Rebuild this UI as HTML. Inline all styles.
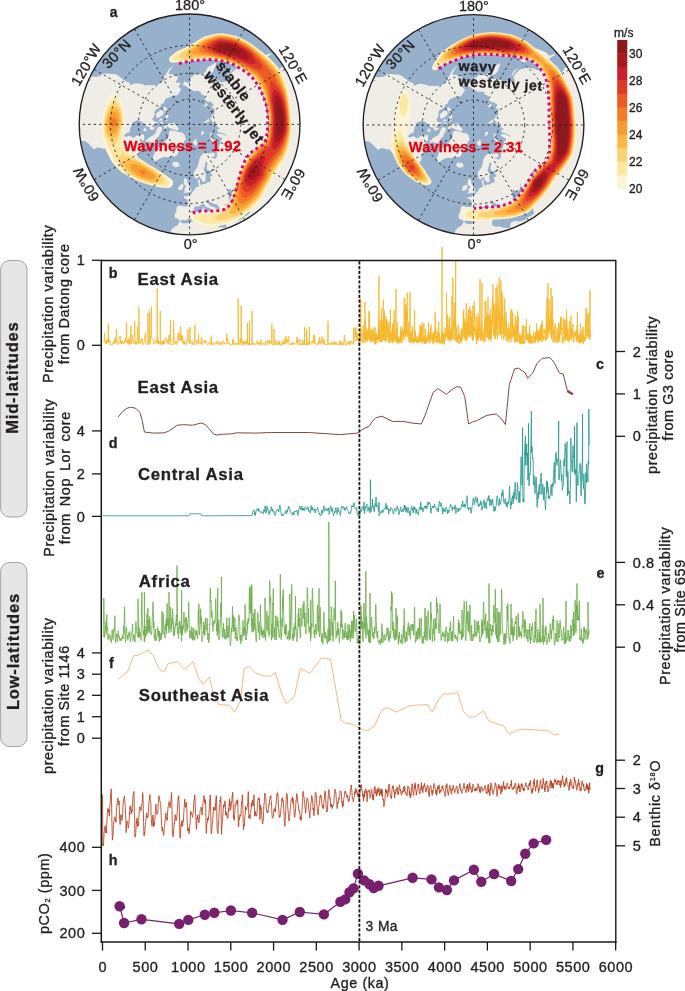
<!DOCTYPE html>
<html><head><meta charset="utf-8"><style>
html,body{margin:0;padding:0;background:#fff;}
svg{display:block;font-family:"Liberation Sans", sans-serif;will-change:transform;}
</style></head><body>
<svg width="685" height="991" viewBox="0 0 685 991">
<rect x="0.6" y="260.5" width="26.4" height="256.5" rx="9" ry="9" fill="#e6e6e6" stroke="#9a9a9a" stroke-width="0.9"/>
<text x="18.10" y="377.59" font-size="16.5" text-anchor="middle" font-weight="bold" letter-spacing="0.82" fill="#231f20" stroke="#231f20" stroke-width="0.3" transform="rotate(-90 18.10 377.59)">Mid-latitudes</text>
<rect x="0.6" y="562.5" width="26.4" height="184.0" rx="9" ry="9" fill="#e6e6e6" stroke="#9a9a9a" stroke-width="0.9"/>
<text x="19.20" y="651.59" font-size="16.5" text-anchor="middle" font-weight="bold" letter-spacing="0.82" fill="#231f20" stroke="#231f20" stroke-width="0.3" transform="rotate(-90 19.20 651.59)">Low-latitudes</text>
<polyline points="104.0,342.4 104.3,337.3 104.6,332.8 104.9,340.9 105.2,342.4 105.5,343.4 105.8,341.8 106.1,342.2 106.4,340.1 106.7,344.4 107.0,340.1 107.3,341.6 107.6,339.8 107.9,341.6 108.2,342.9 108.2,323.5 108.5,341.6 108.8,339.1 109.1,341.5 109.4,342.4 109.7,340.4 110.0,343.4 110.3,344.7 110.6,343.5 110.9,344.0 111.2,345.0 111.5,344.9 111.8,344.6 112.1,344.9 112.4,345.1 112.7,344.4 113.0,342.2 113.3,342.8 113.6,343.9 113.9,342.6 114.2,340.5 114.5,342.3 114.8,340.8 115.1,337.4 115.4,341.0 115.7,343.4 116.0,342.3 116.3,341.7 116.3,329.3 116.6,338.0 116.9,343.5 117.2,344.0 117.5,344.4 117.8,345.1 118.1,344.3 118.4,342.8 118.7,343.8 119.0,339.5 119.3,337.5 119.6,337.4 119.9,338.5 120.2,336.0 120.5,343.3 120.8,341.5 121.1,340.1 121.4,344.4 121.7,343.2 122.0,343.3 122.3,341.0 122.6,342.7 122.9,342.6 123.2,341.7 123.5,343.7 123.8,341.9 124.1,342.4 124.4,341.1 124.7,342.9 125.0,339.4 125.3,338.6 125.6,341.3 125.9,339.8 126.2,334.9 126.5,323.9 126.6,322.0 126.8,342.6 127.1,339.9 127.4,339.5 127.7,341.3 128.0,343.8 128.3,339.9 128.6,343.8 128.9,342.1 129.2,337.3 129.5,343.8 129.8,343.7 130.1,344.7 130.4,343.7 130.7,338.6 131.0,325.6 131.3,343.1 131.6,343.7 131.9,341.7 132.2,334.9 132.5,337.3 132.8,342.4 133.1,341.7 133.4,342.1 133.7,342.7 134.0,343.8 134.3,342.5 134.6,341.7 134.7,321.0 134.9,342.3 135.2,342.8 135.5,344.4 135.8,344.3 136.1,341.0 136.4,342.2 136.7,344.4 137.0,340.9 137.3,339.9 137.6,326.6 137.9,336.7 138.2,341.5 138.5,344.3 138.8,340.7 138.8,306.8 139.1,321.5 139.4,340.1 139.7,342.9 140.0,341.2 140.3,343.4 140.6,343.5 140.9,343.6 141.2,342.8 141.5,339.2 141.8,340.9 142.1,338.1 142.4,341.8 142.7,341.2 143.0,344.7 143.3,345.0 143.6,343.4 143.9,343.9 144.2,342.2 144.5,340.8 144.8,335.6 145.1,335.1 145.4,333.2 145.7,339.4 146.0,342.7 146.3,343.8 146.6,343.9 146.9,344.6 147.2,344.4 147.5,343.9 147.8,342.9 148.0,313.0 148.1,343.3 148.4,344.9 148.7,344.3 149.0,343.3 149.3,340.0 149.5,310.9 149.6,339.1 149.9,342.6 150.2,343.7 150.5,336.0 150.8,335.8 151.1,324.7 151.4,306.8 151.7,338.4 152.0,339.1 152.3,339.1 152.6,338.7 152.9,338.5 153.2,339.9 153.5,340.6 153.8,344.1 154.1,343.7 154.4,344.2 154.7,343.4 155.0,343.7 155.3,341.9 155.6,339.5 155.9,340.0 156.2,340.2 156.5,341.0 156.8,342.7 157.1,342.9 157.2,288.8 157.4,343.5 157.7,342.3 158.0,342.3 158.3,340.7 158.6,344.0 158.9,341.5 159.2,343.4 159.5,344.0 159.8,343.7 160.1,344.0 160.3,310.9 160.4,342.9 160.7,343.6 161.0,344.4 161.3,344.6 161.6,341.4 161.9,341.7 162.2,344.0 162.5,343.4 162.8,344.7 163.1,340.2 163.4,344.1 163.7,342.6 164.0,341.1 164.3,344.2 164.6,343.1 164.9,340.0 165.2,339.6 165.5,340.2 165.8,337.4 166.1,339.6 166.4,339.9 166.7,341.5 167.0,340.0 167.3,343.3 167.6,341.0 167.9,342.8 168.2,344.2 168.5,343.0 168.8,336.5 169.1,334.6 169.4,341.1 169.7,339.4 170.0,342.2 170.3,342.5 170.5,320.0 170.6,342.3 170.9,344.9 171.2,344.0 171.5,344.5 171.8,344.5 172.1,344.9 172.4,345.1 172.7,345.0 173.0,343.4 173.3,337.4 173.6,340.3 173.6,320.7 173.9,336.7 174.2,340.9 174.5,344.5 174.8,343.6 175.1,342.3 175.4,343.1 175.7,342.2 176.0,340.7 176.3,343.3 176.6,344.6 176.9,344.1 177.2,343.8 177.5,343.7 177.8,341.0 178.1,332.9 178.4,340.4 178.7,338.9 179.0,336.5 179.3,336.3 179.6,333.9 179.9,340.5 180.2,338.8 180.5,326.5 180.8,330.8 181.1,340.7 181.4,339.4 181.7,334.8 182.0,337.5 182.3,341.9 182.6,335.8 182.9,343.0 183.2,341.6 183.5,342.0 183.8,344.1 184.1,340.7 184.4,340.4 184.7,343.7 185.0,342.0 185.3,343.0 185.6,344.8 185.9,344.6 186.2,343.6 186.5,341.8 186.8,341.6 187.1,341.9 187.4,340.8 187.7,342.1 187.9,329.3 188.0,338.1 188.3,339.9 188.6,340.2 188.9,339.4 189.2,343.3 189.5,343.9 189.8,339.3 190.0,327.0 190.1,339.8 190.4,341.9 190.7,341.3 191.0,342.9 191.3,342.1 191.6,343.5 191.9,342.6 192.2,344.5 192.5,341.6 192.8,343.1 193.1,344.6 193.4,344.2 193.7,344.0 194.0,343.4 194.3,344.4 194.6,343.3 194.9,325.1 195.2,341.7 195.5,341.7 195.8,342.9 196.1,342.6 196.4,344.6 196.7,344.8 197.0,343.9 197.3,343.6 197.6,340.4 197.9,343.1 198.2,343.0 198.5,334.3 198.8,342.0 199.1,343.8 199.4,343.7 199.7,343.7 200.0,342.6 200.3,342.9 200.6,343.9 200.9,343.6 201.2,337.8 201.5,337.4 201.8,344.5 202.1,344.3 202.4,344.6 202.7,343.7 203.0,343.8 203.3,340.4 203.6,340.0 203.9,339.9 204.2,341.6 204.5,342.7 204.8,342.6 205.1,340.6 205.4,341.2 205.7,343.0 206.0,341.0 206.3,342.1 206.6,343.0 206.9,344.1 207.2,344.3 207.5,344.5 207.8,345.3 208.1,344.3 208.4,343.5 208.7,343.7 209.0,342.2 209.3,342.2 209.6,342.3 209.9,344.9 210.2,344.6 210.5,343.8 210.8,341.0 211.1,336.9 211.4,335.7 211.7,343.1 212.0,344.9 212.3,344.1 212.6,343.9 212.9,342.4 213.2,343.2 213.5,343.1 213.8,344.6 214.1,343.9 214.4,344.2 214.7,343.6 215.0,343.0 215.3,343.5 215.6,343.1 215.9,343.4 216.2,342.3 216.5,342.1 216.8,343.6 217.1,344.2 217.4,341.1 217.7,342.7 218.0,341.3 218.3,341.8 218.6,343.6 218.9,344.3 219.2,343.9 219.5,343.5 219.8,342.7 220.1,344.5 220.4,344.6 220.7,344.3 221.0,341.6 221.3,344.9 221.6,344.2 221.9,344.4 222.2,343.7 222.5,344.2 222.8,343.6 223.1,340.5 223.4,341.5 223.7,341.8 224.0,342.1 224.3,343.9 224.6,343.1 224.9,343.7 225.2,344.4 225.5,344.2 225.8,344.2 226.1,343.0 226.4,343.4 226.7,344.1 226.7,333.8 227.0,341.5 227.3,340.2 227.6,338.2 227.9,339.7 228.2,342.3 228.5,343.6 228.8,344.0 229.1,342.5 229.4,342.9 229.7,344.7 230.0,344.4 230.3,345.0 230.6,344.5 230.9,345.0 231.2,345.1 231.5,344.7 231.8,344.4 232.1,345.1 232.4,344.1 232.7,339.0 233.0,344.2 233.3,340.4 233.6,343.5 233.9,344.2 234.2,344.2 234.5,345.0 234.8,343.2 235.1,342.7 235.4,344.2 235.7,344.3 236.0,345.0 236.3,344.8 236.6,343.5 236.9,345.0 237.2,344.8 237.5,344.4 237.8,342.6 238.1,339.8 238.2,298.6 238.4,343.1 238.7,344.3 239.0,343.5 239.3,344.1 239.6,344.3 239.9,342.4 240.2,338.0 240.5,340.8 240.8,342.9 241.1,342.3 241.2,305.8 241.4,344.9 241.7,344.5 242.0,344.9 242.3,340.4 242.6,340.4 242.9,342.0 243.2,343.3 243.5,345.2 243.8,344.4 244.1,341.2 244.4,343.8 244.7,342.7 245.0,341.8 245.3,344.6 245.6,343.2 245.9,340.4 246.2,341.8 246.5,343.0 246.8,341.8 247.1,344.6 247.4,344.2 247.4,323.0 247.7,342.5 248.0,344.5 248.3,343.0 248.6,343.9 248.9,345.2 249.2,344.8 249.4,321.0 249.5,345.0 249.8,344.4 250.1,344.9 250.4,343.5 250.7,344.4 251.0,343.8 251.3,344.4 251.6,344.4 251.9,342.4 252.0,311.0 252.2,342.7 252.5,343.8 252.8,344.8 253.1,343.1 253.4,342.1 253.7,343.5 254.0,343.3 254.3,344.6 254.6,344.9 254.9,345.0 255.2,344.3 255.5,343.8 255.8,344.5 256.1,343.3 256.4,342.1 256.7,342.7 257.0,340.9 257.3,343.1 257.6,343.6 257.9,343.0 258.2,343.4 258.5,342.2 258.8,344.5 259.1,342.0 259.4,344.0 259.7,344.1 260.0,344.9 260.3,344.1 260.6,341.7 260.9,340.0 261.2,339.7 261.5,344.4 261.8,344.7 262.1,344.7 262.4,344.9 262.7,343.4 263.0,343.3 263.3,343.6 263.6,342.9 263.9,344.4 264.2,344.8 264.5,345.0 264.8,344.2 265.1,343.6 265.4,342.8 265.7,340.9 266.0,344.4 266.3,344.6 266.6,344.1 266.9,344.9 267.2,344.9 267.5,343.4 267.8,341.4 268.1,339.7 268.4,342.0 268.7,343.3 269.0,341.4 269.3,343.3 269.6,343.0 269.9,340.3 270.2,343.0 270.5,344.1 270.8,344.0 271.1,343.1 271.4,342.6 271.7,342.9 271.9,323.5 272.0,342.4 272.3,344.7 272.6,344.9 272.9,344.4 273.2,344.8 273.5,345.1 273.8,345.2 274.0,329.0 274.1,345.2 274.4,344.9 274.7,345.0 275.0,344.5 275.3,341.3 275.6,343.0 275.9,340.4 276.2,341.7 276.5,344.3 276.8,344.3 277.1,344.8 277.4,343.7 277.7,344.7 278.0,342.7 278.3,342.1 278.6,344.9 278.9,343.8 279.2,340.5 279.5,343.7 279.8,342.0 280.1,344.8 280.4,344.2 280.7,345.1 281.0,344.4 281.3,345.2 281.6,345.5 281.9,345.0 282.2,341.1 282.5,343.6 282.8,342.3 283.1,342.9 283.4,343.8 283.7,342.8 284.0,338.8 284.3,344.0 284.6,343.1 284.9,342.9 285.2,344.7 285.5,342.0 285.8,335.9 286.1,343.2 286.4,338.8 286.7,341.7 287.0,343.1 287.3,339.7 287.6,341.6 287.9,342.1 288.2,338.4 288.5,336.5 288.8,337.6 289.1,344.0 289.4,345.0 289.7,343.5 290.0,344.5 290.3,344.1 290.6,344.8 290.9,344.6 291.2,345.0 291.5,342.8 291.8,344.4 292.1,344.3 292.4,344.3 292.7,342.2 293.0,344.6 293.3,344.3 293.6,344.3 293.9,343.4 294.2,342.9 294.5,343.9 294.8,343.6 295.1,344.1 295.4,343.4 295.7,343.7 296.0,344.4 296.3,344.2 296.6,343.6 296.9,336.8 297.2,342.5 297.5,342.6 297.8,339.2 298.1,344.7 298.4,345.2 298.7,345.3 299.0,344.9 299.3,340.2 299.6,341.3 299.9,339.1 300.2,342.4 300.5,345.1 300.8,345.4 301.1,344.6 301.4,344.1 301.7,344.9 302.0,343.3 302.3,344.9 302.6,343.2 302.9,340.0 303.2,343.6 303.5,344.7 303.8,343.4 304.1,344.6 304.4,343.3 304.6,327.2 304.7,344.7 305.0,343.4 305.3,343.4 305.6,344.1 305.9,344.7 306.2,344.1 306.5,345.1 306.6,329.3 306.8,344.9 307.1,344.8 307.4,343.7 307.7,344.8 308.0,341.9 308.3,343.4 308.6,344.6 308.9,342.3 309.2,337.8 309.3,326.8 309.5,342.0 309.8,344.1 310.1,343.9 310.4,344.5 310.7,344.5 311.0,341.5 311.3,341.9 311.6,342.6 311.9,342.5 312.2,343.2 312.5,341.8 312.8,340.6 313.1,343.1 313.4,343.2 313.7,334.8 314.0,339.0 314.3,342.3 314.6,335.4 314.9,340.8 315.2,344.1 315.5,342.9 315.8,344.3 316.1,344.5 316.4,343.8 316.7,343.9 317.0,344.5 317.3,344.6 317.6,344.7 317.9,342.8 318.2,344.1 318.5,344.5 318.8,340.0 319.1,343.2 319.4,339.7 319.7,337.0 320.0,341.6 320.3,344.5 320.6,343.7 320.9,342.5 321.2,340.8 321.5,342.2 321.8,339.7 322.1,336.5 322.4,343.3 322.7,340.1 323.0,341.7 323.3,343.6 323.6,344.0 323.9,339.4 324.2,338.5 324.5,344.4 324.8,344.0 325.1,344.0 325.4,344.0 325.7,344.4 326.0,345.0 326.3,343.8 326.6,344.6 326.9,344.5 327.2,344.7 327.5,344.8 327.8,343.6 328.0,321.0 328.1,343.0 328.4,344.1 328.7,344.7 329.0,344.7 329.3,343.1 329.6,343.1 329.9,343.0 330.2,343.7 330.5,344.0 330.8,343.5 331.1,345.0 331.4,342.6 331.7,344.1 332.0,344.4 332.3,341.9 332.6,342.3 332.9,342.9 333.2,344.0 333.5,345.0 333.8,344.4 334.1,342.2 334.4,344.1 334.7,341.3 335.0,344.2 335.3,344.6 335.6,343.6 335.9,343.6 336.2,342.4 336.5,344.0 336.8,344.7 337.1,345.2 337.4,345.2 337.7,345.2 338.0,345.3 338.3,344.7 338.6,344.8 338.9,345.3 339.2,341.6 339.5,343.9 339.8,344.8 340.1,342.8 340.4,340.2 340.7,344.0 341.0,344.9 341.3,345.0 341.6,343.4 341.9,343.9 342.2,344.5 342.5,344.2 342.8,341.8 343.1,344.4 343.4,344.4 343.7,345.0 344.0,341.1 344.3,334.8 344.6,335.8 344.9,341.1 345.2,340.6 345.5,344.8 345.8,344.1 346.1,344.9 346.4,345.1 346.7,345.0 347.0,344.8 347.3,343.7 347.6,342.4 347.9,342.4 348.2,344.2 348.5,342.9 348.8,343.4 349.1,340.8 349.4,343.8 349.7,345.3 350.0,345.1 350.3,341.4 350.6,341.3 350.9,342.8 351.2,341.1 351.5,341.1 351.8,341.2 352.1,343.3 352.4,343.3 352.7,343.0 353.0,344.0 353.3,344.7 353.6,344.2 353.6,328.2 353.9,342.3 354.2,341.4 354.5,341.2 354.8,341.1 355.1,327.4 355.4,337.3 355.7,336.5 356.0,327.9 356.3,338.5 356.6,340.6 356.9,338.7 357.2,332.9 357.5,338.5 357.8,340.3 358.1,341.8 358.4,344.3 358.7,342.1 359.0,343.2 359.3,344.9 359.6,344.5 359.9,345.1 360.0,333.3 360.2,334.4 360.3,341.2 360.5,341.9 360.7,331.1 360.8,298.6 360.9,334.8 361.0,338.7 361.2,329.4 361.4,334.4 361.5,336.4 361.7,339.9 361.9,339.5 362.0,341.3 362.2,341.7 362.4,343.0 362.6,340.5 362.7,342.5 362.9,339.7 363.1,340.5 363.2,324.9 363.4,340.2 363.6,337.7 363.7,332.5 363.9,342.9 364.1,334.2 364.3,335.4 364.4,339.2 364.6,319.5 364.8,322.8 364.9,301.8 365.1,332.4 365.3,337.5 365.3,319.0 365.4,338.9 365.6,330.3 365.8,342.5 366.0,337.5 366.1,332.3 366.3,333.7 366.5,339.8 366.6,334.7 366.8,329.9 367.0,328.3 367.1,341.4 367.3,331.5 367.5,340.9 367.7,335.5 367.8,330.9 368.0,339.8 368.2,329.9 368.3,334.3 368.5,338.8 368.7,338.9 368.8,336.7 369.0,311.0 369.0,328.0 369.2,337.4 369.4,312.6 369.5,332.4 369.7,328.0 369.9,326.7 370.0,341.0 370.2,330.6 370.4,342.0 370.5,337.4 370.7,336.8 370.9,334.7 371.1,340.1 371.2,335.0 371.4,340.7 371.6,329.1 371.7,336.5 371.9,330.8 372.1,330.1 372.2,341.8 372.4,338.2 372.6,337.2 372.8,335.2 372.9,332.2 373.1,341.2 373.3,327.5 373.4,337.9 373.6,341.4 373.8,338.9 373.9,337.6 374.1,340.8 374.3,335.0 374.5,334.7 374.6,333.0 374.8,338.3 375.0,344.0 375.1,327.2 375.3,344.4 375.5,334.4 375.6,339.7 375.8,341.2 376.0,336.7 376.2,336.1 376.3,339.9 376.5,337.7 376.7,333.0 376.8,341.2 377.0,343.2 377.2,342.4 377.3,340.1 377.5,335.0 377.7,339.9 377.9,338.2 378.0,339.8 378.2,329.0 378.4,340.3 378.5,336.6 378.7,319.0 378.9,336.7 379.0,276.0 379.0,338.8 379.2,326.4 379.4,340.0 379.6,341.0 379.7,325.5 379.9,335.4 380.1,336.2 380.2,342.4 380.4,332.8 380.6,342.0 380.7,339.0 380.9,320.2 381.1,342.0 381.3,339.2 381.4,314.7 381.6,308.0 381.8,323.8 381.9,331.0 382.1,324.6 382.3,319.6 382.4,341.7 382.6,322.2 382.8,336.0 383.0,329.9 383.1,339.7 383.3,299.4 383.5,339.7 383.6,335.4 383.8,324.7 384.0,331.9 384.1,336.3 384.3,310.4 384.5,326.2 384.7,335.7 384.8,341.1 385.0,332.7 385.2,330.2 385.3,330.1 385.5,341.5 385.7,316.2 385.8,325.9 386.0,337.5 386.2,326.5 386.4,320.7 386.5,340.9 386.7,338.6 386.9,318.9 387.0,324.8 387.2,331.5 387.4,329.1 387.5,322.6 387.7,327.0 387.9,328.7 388.1,338.4 388.2,325.1 388.4,337.0 388.6,342.5 388.7,333.3 388.9,341.6 389.1,322.0 389.2,334.8 389.4,335.3 389.6,338.7 389.8,331.3 389.9,343.0 390.1,332.1 390.3,331.6 390.4,309.4 390.6,320.5 390.8,342.1 390.9,336.8 391.1,333.8 391.3,339.3 391.5,336.8 391.6,331.5 391.8,331.2 392.0,341.2 392.1,336.6 392.3,342.0 392.5,335.1 392.6,324.2 392.8,339.3 393.0,339.3 393.2,343.3 393.3,332.0 393.5,341.0 393.7,320.5 393.8,335.1 394.0,330.4 394.2,310.4 394.3,332.4 394.5,338.8 394.7,339.0 394.9,331.6 395.0,338.5 395.2,339.1 395.4,341.5 395.5,338.8 395.7,336.1 395.9,339.4 396.0,289.0 396.0,341.6 396.2,335.5 396.4,337.8 396.6,342.4 396.7,341.6 396.9,328.2 397.1,341.7 397.2,322.1 397.4,342.8 397.6,339.5 397.7,341.9 397.9,342.2 398.1,343.8 398.3,343.2 398.4,338.3 398.6,341.8 398.8,340.1 398.9,336.5 399.1,340.9 399.3,342.5 399.4,338.3 399.6,341.4 399.8,339.9 400.0,342.8 400.1,341.0 400.3,337.9 400.5,326.8 400.6,340.0 400.8,339.4 401.0,329.9 401.1,340.2 401.3,342.4 401.5,332.5 401.7,339.0 401.8,343.3 402.0,338.7 402.2,337.1 402.3,335.4 402.5,327.4 402.7,334.8 402.8,338.2 403.0,334.8 403.2,333.0 403.4,335.9 403.5,335.5 403.7,330.7 403.9,331.9 404.0,340.8 404.2,297.8 404.4,310.5 404.5,333.8 404.7,334.3 404.9,310.7 405.1,336.5 405.2,334.4 405.4,328.9 405.6,333.7 405.7,303.5 405.9,337.4 406.1,334.8 406.2,318.8 406.4,307.7 406.6,327.8 406.8,325.4 406.9,333.7 407.1,292.7 407.3,320.7 407.4,314.7 407.6,312.6 407.8,336.3 407.9,328.5 408.1,338.5 408.3,337.1 408.5,335.2 408.6,335.0 408.8,321.6 409.0,341.2 409.1,337.6 409.3,334.8 409.5,337.6 409.6,341.7 409.8,337.2 410.0,342.5 410.0,292.0 410.2,340.2 410.3,342.9 410.5,336.6 410.7,339.8 410.8,343.0 411.0,330.5 411.2,337.2 411.3,332.9 411.5,335.5 411.7,341.7 411.9,336.6 412.0,337.2 412.2,342.2 412.4,329.9 412.5,334.4 412.7,326.0 412.9,338.4 413.0,338.2 413.2,343.2 413.4,338.0 413.6,343.0 413.7,340.7 413.9,341.7 414.1,338.6 414.2,339.9 414.4,342.3 414.6,310.3 414.7,323.5 414.9,339.5 415.1,341.6 415.3,337.4 415.4,331.0 415.6,338.9 415.8,341.9 415.9,336.2 416.1,338.5 416.3,340.9 416.4,342.4 416.6,340.5 416.8,343.0 417.0,336.3 417.1,337.6 417.3,341.9 417.5,341.1 417.6,338.6 417.8,342.7 418.0,339.0 418.1,341.0 418.3,342.5 418.5,341.4 418.7,336.6 418.8,341.4 419.0,333.8 419.2,339.1 419.3,343.2 419.5,338.0 419.7,332.4 419.8,334.8 420.0,324.9 420.2,340.7 420.4,338.2 420.5,341.6 420.7,326.5 420.9,340.6 421.0,340.8 421.2,341.2 421.4,326.0 421.5,338.4 421.7,339.6 421.9,339.0 422.1,342.2 422.2,342.9 422.4,322.7 422.6,343.8 422.7,340.3 422.9,336.5 423.1,340.5 423.2,339.7 423.4,341.3 423.6,341.5 423.8,341.0 423.9,323.2 424.1,341.5 424.3,337.8 424.4,336.1 424.6,343.9 424.8,341.6 424.9,343.6 425.1,340.5 425.3,342.6 425.5,328.8 425.6,343.2 425.8,341.9 426.0,343.0 426.1,341.1 426.3,339.0 426.5,342.3 426.6,343.4 426.8,340.0 427.0,336.0 427.2,338.3 427.3,340.8 427.5,334.1 427.7,334.1 427.8,341.2 428.0,340.9 428.2,340.7 428.3,336.7 428.5,322.4 428.7,342.6 428.9,339.2 429.0,335.4 429.2,335.9 429.4,337.2 429.5,338.1 429.7,332.0 429.9,338.4 430.0,340.5 430.2,343.0 430.4,328.5 430.6,340.1 430.7,340.9 430.9,334.6 431.1,324.4 431.2,338.8 431.4,339.9 431.6,339.8 431.7,337.6 431.9,337.7 432.1,340.1 432.3,334.0 432.4,340.3 432.6,338.2 432.8,339.6 432.9,344.1 433.1,332.6 433.3,335.3 433.4,334.4 433.6,342.3 433.8,332.5 434.0,336.0 434.1,341.6 434.3,331.5 434.5,338.5 434.6,334.4 434.8,342.1 435.0,320.5 435.1,312.3 435.3,338.2 435.5,332.6 435.7,336.0 435.8,327.2 436.0,337.6 436.2,342.9 436.3,342.0 436.5,338.7 436.7,342.8 436.8,336.1 437.0,342.9 437.2,331.1 437.4,331.4 437.5,334.4 437.7,341.6 437.9,331.9 438.0,335.4 438.2,341.7 438.4,331.5 438.5,331.0 438.7,321.9 438.9,330.9 439.1,342.9 439.2,343.3 439.4,333.7 439.6,335.7 439.7,342.0 439.9,340.8 440.1,341.7 440.2,342.1 440.4,342.4 440.6,343.6 440.8,340.4 440.9,342.5 441.1,339.1 441.3,337.5 441.4,341.0 441.6,336.7 441.8,330.4 441.9,341.8 442.0,247.0 442.1,343.3 442.3,338.7 442.5,344.4 442.6,338.8 442.8,332.8 443.0,342.1 443.1,343.5 443.3,336.0 443.5,332.8 443.6,340.1 443.8,343.5 444.0,334.2 444.2,338.4 444.3,336.4 444.5,344.4 444.7,338.1 444.8,341.1 445.0,327.5 445.2,338.5 445.3,337.7 445.5,332.7 445.7,336.6 445.9,330.5 446.0,337.8 446.2,336.8 446.4,336.4 446.5,292.8 446.7,330.7 446.9,329.8 447.0,336.1 447.2,335.9 447.4,314.8 447.6,336.6 447.7,337.6 447.9,339.4 448.1,331.5 448.2,339.4 448.4,327.3 448.6,326.1 448.7,329.7 448.9,338.4 449.1,318.6 449.3,336.9 449.4,341.5 449.6,316.9 449.8,329.5 449.9,330.1 450.1,334.6 450.3,333.1 450.4,339.5 450.6,330.0 450.8,339.4 451.0,341.0 451.1,330.6 451.3,333.4 451.5,328.2 451.6,338.6 451.8,326.6 452.0,296.4 452.1,337.9 452.3,339.4 452.5,332.1 452.7,334.5 452.8,277.8 453.0,332.2 453.2,325.7 453.3,323.5 453.5,320.1 453.7,331.0 453.8,339.7 454.0,335.3 454.2,332.8 454.4,302.4 454.5,319.1 454.7,324.7 454.9,328.1 455.0,320.8 455.2,341.3 455.4,336.2 455.5,331.7 455.7,260.0 455.7,324.4 455.9,334.8 456.1,339.2 456.2,339.6 456.4,339.8 456.6,327.4 456.7,341.3 456.9,339.2 457.1,341.9 457.2,342.3 457.4,337.0 457.6,342.0 457.8,342.9 457.9,339.0 458.1,331.4 458.3,324.5 458.4,328.3 458.6,339.2 458.8,332.4 458.9,339.0 459.1,343.8 459.3,335.8 459.5,337.8 459.6,343.8 459.8,337.8 460.0,337.8 460.1,334.6 460.3,342.2 460.5,338.1 460.6,339.8 460.8,338.6 461.0,332.7 461.2,328.3 461.3,340.5 461.5,342.8 461.7,331.1 461.8,339.5 462.0,334.5 462.2,340.5 462.3,335.1 462.5,329.2 462.7,328.8 462.9,335.9 463.0,328.3 463.2,327.8 463.4,312.0 463.5,330.3 463.7,309.5 463.9,334.3 464.0,338.1 464.2,333.9 464.4,335.2 464.6,319.0 464.7,334.7 464.9,338.7 465.1,333.7 465.2,327.6 465.4,322.5 465.6,341.1 465.7,331.7 465.9,339.2 466.1,312.9 466.3,302.9 466.4,320.4 466.6,335.3 466.8,334.5 466.9,340.2 467.1,320.6 467.3,332.5 467.4,323.2 467.6,338.8 467.8,334.1 468.0,316.1 468.1,328.7 468.3,333.0 468.5,308.8 468.6,325.0 468.8,323.1 469.0,335.4 469.1,329.8 469.3,331.1 469.5,329.1 469.7,337.4 469.8,306.4 470.0,329.1 470.2,335.0 470.3,311.1 470.5,319.3 470.7,324.8 470.8,327.6 471.0,310.3 471.2,336.3 471.4,325.8 471.5,316.8 471.7,332.4 471.9,335.7 472.0,317.5 472.2,338.3 472.4,336.8 472.5,340.5 472.7,327.0 472.9,305.8 473.1,335.9 473.2,329.9 473.4,340.4 473.6,325.4 473.7,331.7 473.9,332.7 474.1,323.5 474.2,301.4 474.4,321.9 474.6,310.5 474.8,331.1 474.9,328.9 475.1,332.4 475.3,333.7 475.4,335.2 475.6,329.8 475.8,333.8 475.9,330.7 476.1,339.6 476.3,315.9 476.5,341.3 476.6,344.3 476.8,330.8 477.0,334.3 477.1,337.6 477.3,331.2 477.5,338.5 477.6,326.9 477.8,341.4 478.0,313.1 478.2,335.9 478.3,340.0 478.5,323.7 478.7,336.6 478.8,333.9 479.0,319.0 479.2,317.1 479.3,324.5 479.5,337.5 479.7,335.8 479.9,331.4 480.0,279.0 480.0,329.5 480.2,330.3 480.4,330.2 480.5,338.6 480.7,340.9 480.9,332.7 481.0,336.5 481.2,322.8 481.4,335.9 481.6,325.4 481.7,340.8 481.9,312.0 482.0,283.0 482.1,316.7 482.2,332.3 482.4,337.8 482.6,332.9 482.7,335.5 482.9,338.5 483.1,339.6 483.3,341.5 483.4,336.7 483.6,340.9 483.8,340.9 483.9,329.1 484.1,337.0 484.3,334.2 484.4,339.3 484.6,325.4 484.8,319.3 485.0,342.4 485.1,300.7 485.3,332.1 485.5,325.7 485.6,332.8 485.8,301.4 486.0,319.4 486.1,321.3 486.3,337.8 486.5,331.5 486.7,316.5 486.8,332.3 487.0,335.3 487.2,331.2 487.3,334.3 487.5,313.1 487.7,337.6 487.8,321.7 488.0,297.0 488.2,332.9 488.4,339.5 488.5,331.5 488.7,337.1 488.9,313.8 489.0,333.3 489.2,340.4 489.4,327.0 489.5,316.1 489.7,331.2 489.9,338.4 490.1,337.4 490.2,323.0 490.4,333.2 490.6,308.7 490.7,338.9 490.9,328.3 491.1,330.7 491.2,341.4 491.4,319.3 491.6,334.6 491.8,334.1 491.9,329.6 492.1,328.1 492.3,312.9 492.4,297.5 492.6,324.1 492.8,318.8 492.9,284.4 493.1,312.1 493.3,305.2 493.5,335.4 493.6,325.3 493.8,329.4 494.0,322.9 494.1,303.7 494.3,310.9 494.5,338.3 494.6,338.6 494.8,338.6 495.0,328.5 495.2,339.1 495.3,311.1 495.5,326.9 495.7,332.6 495.8,323.6 496.0,288.0 496.0,334.9 496.2,303.5 496.3,329.0 496.5,313.1 496.7,316.9 496.9,316.4 497.0,317.1 497.2,284.8 497.4,339.6 497.5,316.4 497.7,319.5 497.9,316.4 498.0,318.2 498.2,299.7 498.4,321.2 498.6,321.6 498.7,321.1 498.9,316.3 499.1,335.4 499.2,277.7 499.4,334.2 499.6,321.3 499.7,324.3 499.9,307.7 500.1,323.5 500.3,333.0 500.4,317.7 500.6,326.6 500.8,334.6 500.9,280.5 501.1,301.9 501.3,307.3 501.4,327.8 501.6,290.5 501.8,339.0 502.0,313.7 502.1,320.2 502.3,304.6 502.5,323.2 502.6,294.4 502.8,304.4 503.0,333.4 503.1,317.8 503.3,331.4 503.5,332.7 503.7,324.5 503.8,340.0 504.0,330.0 504.2,337.2 504.3,321.8 504.5,325.8 504.7,298.2 504.8,321.0 505.0,316.5 505.2,332.9 505.4,325.7 505.5,332.8 505.7,336.1 505.9,316.4 506.0,312.1 506.2,326.3 506.4,325.6 506.5,320.5 506.7,341.8 506.9,329.7 507.1,339.1 507.2,332.9 507.4,339.2 507.6,338.2 507.7,334.5 507.9,327.8 508.1,331.5 508.2,333.3 508.4,333.0 508.6,323.7 508.8,342.5 508.9,336.4 509.1,327.8 509.3,339.4 509.4,338.5 509.6,336.8 509.8,337.5 509.9,331.3 510.1,332.7 510.3,333.1 510.5,338.3 510.6,310.5 510.8,334.0 511.0,335.9 511.1,342.1 511.3,340.2 511.5,339.7 511.6,332.8 511.8,309.1 512.0,324.5 512.2,338.3 512.3,320.8 512.5,329.3 512.7,314.4 512.8,312.6 513.0,327.3 513.2,334.9 513.3,336.3 513.5,332.9 513.7,326.8 513.9,335.9 514.0,329.3 514.2,325.3 514.4,342.7 514.5,341.7 514.7,338.6 514.9,330.3 515.0,341.1 515.2,336.6 515.4,315.9 515.6,334.7 515.7,330.7 515.9,341.9 516.1,339.1 516.2,338.9 516.4,333.4 516.6,323.7 516.7,342.2 516.9,321.4 517.1,319.3 517.3,333.6 517.4,315.4 517.6,311.2 517.8,342.0 517.9,321.7 518.1,318.9 518.3,315.6 518.4,316.6 518.6,340.0 518.8,339.3 519.0,341.3 519.1,335.2 519.3,333.6 519.5,343.2 519.6,340.2 519.8,342.0 520.0,343.5 520.1,335.6 520.3,341.3 520.5,341.0 520.7,344.3 520.8,337.5 521.0,335.9 521.2,342.5 521.3,334.1 521.5,343.4 521.7,342.0 521.8,340.3 522.0,343.8 522.2,340.7 522.4,331.4 522.5,339.2 522.7,325.4 522.9,336.4 523.0,343.1 523.2,325.1 523.4,342.1 523.5,343.1 523.7,343.9 523.9,341.1 524.1,343.7 524.2,342.7 524.4,340.1 524.6,343.0 524.7,341.5 524.9,342.6 525.1,326.3 525.2,332.0 525.4,337.5 525.6,338.5 525.8,337.1 525.9,340.1 526.1,339.9 526.3,330.7 526.4,319.1 526.6,339.6 526.8,335.0 526.9,340.6 527.1,339.0 527.3,337.3 527.5,333.7 527.6,335.6 527.8,340.2 528.0,338.6 528.1,334.5 528.3,334.0 528.5,342.5 528.6,335.3 528.8,341.1 529.0,339.1 529.2,333.1 529.3,339.5 529.5,342.9 529.7,325.6 529.8,343.1 530.0,333.9 530.2,344.1 530.3,339.1 530.5,335.3 530.7,342.7 530.9,343.6 531.0,340.1 531.2,341.1 531.4,336.5 531.5,339.7 531.7,340.6 531.9,341.0 532.0,335.5 532.2,343.4 532.4,340.6 532.6,341.4 532.7,342.3 532.9,340.2 533.1,340.8 533.2,341.0 533.4,341.7 533.6,338.1 533.7,331.7 533.9,342.7 534.1,336.6 534.3,339.2 534.4,338.0 534.6,339.0 534.8,335.3 534.9,336.9 535.1,342.3 535.3,331.9 535.4,342.8 535.6,341.4 535.8,340.7 536.0,336.0 536.1,338.4 536.3,332.2 536.5,337.4 536.6,323.4 536.8,339.0 537.0,331.8 537.1,335.9 537.3,339.6 537.5,331.3 537.7,339.0 537.8,340.6 538.0,342.5 538.2,329.3 538.3,335.7 538.5,342.4 538.7,336.9 538.8,338.6 539.0,340.0 539.2,330.6 539.4,340.3 539.5,336.0 539.7,331.5 539.9,329.4 540.0,335.0 540.2,330.0 540.4,341.2 540.5,335.9 540.7,325.4 540.9,341.0 541.1,325.3 541.2,330.8 541.4,338.3 541.6,329.0 541.7,323.6 541.9,330.5 542.1,337.7 542.2,320.3 542.4,341.8 542.6,341.1 542.8,341.0 542.9,335.6 543.1,339.8 543.3,339.7 543.4,338.0 543.6,337.8 543.8,338.7 543.9,328.6 544.1,333.5 544.3,332.3 544.5,332.5 544.6,330.9 544.8,329.7 545.0,329.1 545.1,340.1 545.3,336.5 545.5,336.9 545.6,340.1 545.8,336.0 546.0,331.0 546.2,334.7 546.3,320.1 546.5,310.5 546.7,340.5 546.8,325.1 547.0,297.1 547.2,335.0 547.3,332.2 547.5,324.7 547.7,330.3 547.9,337.8 548.0,283.0 548.0,297.2 548.2,307.3 548.4,323.5 548.5,332.2 548.7,312.7 548.9,306.2 549.0,300.0 549.2,327.1 549.4,328.3 549.6,318.7 549.7,320.9 549.9,334.4 550.1,323.1 550.2,327.9 550.4,330.4 550.6,326.2 550.7,309.1 550.9,333.5 551.0,288.0 551.1,303.8 551.3,325.9 551.4,338.7 551.6,325.8 551.8,339.3 551.9,314.2 552.1,325.9 552.3,295.9 552.4,333.5 552.6,332.6 552.8,332.3 553.0,319.5 553.1,342.8 553.3,331.5 553.5,339.0 553.6,339.5 553.8,337.5 554.0,330.0 554.1,336.1 554.3,339.8 554.5,342.0 554.7,329.9 554.8,326.7 555.0,328.8 555.2,333.4 555.3,323.4 555.5,331.9 555.7,331.3 555.8,342.5 556.0,341.9 556.2,342.6 556.4,339.9 556.5,338.4 556.7,338.7 556.9,335.4 557.0,340.0 557.2,328.6 557.4,337.4 557.5,335.5 557.7,343.1 557.9,333.6 558.1,340.9 558.2,327.1 558.4,339.5 558.6,322.9 558.7,336.1 558.9,338.1 559.1,332.0 559.2,338.7 559.4,331.5 559.6,334.8 559.8,341.6 559.9,322.7 560.1,327.1 560.3,328.2 560.4,333.7 560.6,317.4 560.8,334.4 560.9,323.7 561.1,329.3 561.3,316.4 561.5,322.4 561.6,329.7 561.8,328.1 562.0,329.5 562.1,328.4 562.3,343.4 562.5,336.5 562.6,341.1 562.8,337.0 563.0,342.6 563.2,327.4 563.3,318.6 563.5,329.6 563.7,331.4 563.8,330.2 564.0,332.2 564.2,336.3 564.3,336.2 564.5,340.1 564.7,319.1 564.9,338.7 565.0,340.4 565.2,320.6 565.4,328.1 565.5,340.8 565.7,330.2 565.9,334.3 566.0,335.8 566.2,337.1 566.4,336.4 566.6,310.5 566.7,337.0 566.9,320.6 567.1,338.1 567.2,340.8 567.4,341.1 567.6,331.9 567.7,339.9 567.9,328.2 568.1,333.7 568.3,340.4 568.4,335.7 568.6,341.0 568.8,341.9 568.9,342.3 569.1,341.4 569.3,339.7 569.4,332.3 569.6,321.3 569.8,339.9 570.0,339.5 570.1,337.3 570.3,332.7 570.5,336.2 570.6,327.4 570.8,327.7 571.0,315.3 571.1,339.5 571.3,328.2 571.5,331.8 571.7,338.9 571.8,337.7 572.0,335.7 572.2,330.4 572.3,337.6 572.5,330.6 572.7,335.4 572.8,323.9 573.0,335.2 573.2,341.1 573.4,338.9 573.5,341.7 573.7,342.8 573.9,342.3 574.0,336.5 574.2,338.3 574.4,331.6 574.5,333.5 574.7,334.2 574.9,334.8 575.1,332.2 575.2,333.7 575.4,336.2 575.6,332.4 575.7,336.3 575.9,332.5 576.1,330.2 576.2,338.6 576.4,334.8 576.6,339.7 576.8,338.3 576.9,341.5 577.1,325.2 577.3,339.4 577.4,312.1 577.6,326.1 577.8,331.0 577.9,342.0 578.1,334.6 578.3,340.3 578.5,336.0 578.6,341.6 578.8,342.6 579.0,334.3 579.1,340.2 579.3,341.8 579.5,340.1 579.6,342.4 579.8,334.4 580.0,343.5 580.2,335.9 580.3,341.2 580.5,323.1 580.7,336.9 580.8,341.9 581.0,337.6 581.2,332.2 581.3,343.0 581.5,339.6 581.7,342.8 581.9,336.6 582.0,341.9 582.2,338.5 582.4,329.9 582.5,339.4 582.7,337.0 582.9,339.2 583.0,326.6 583.2,328.8 583.4,342.6 583.6,343.9 583.7,335.2 583.9,341.2 584.1,337.7 584.2,341.9 584.4,340.2 584.6,340.6 584.7,336.9 584.9,340.1 585.1,332.1 585.3,329.2 585.4,331.1 585.6,321.1 585.8,339.7 585.9,326.5 586.1,308.0 586.3,323.0 586.4,308.7 586.6,312.5 586.8,336.7 587.0,334.0 587.1,335.2 587.3,332.3 587.5,327.5 587.6,331.9 587.8,313.5 588.0,338.5 588.1,338.3 588.3,333.9 588.5,332.9 588.7,327.3 588.8,317.3 589.0,312.4 589.2,337.5 589.3,331.1 589.5,328.4 589.7,336.1 589.8,340.3 590.0,290.0 590.0,332.9 590.2,336.5 590.4,333.6" fill="none" stroke="#f7b72a" stroke-width="0.85" stroke-linejoin="round"/>
<polyline points="118.1,417.1 122.5,411.6 126.9,408.3 130.8,407.2 135.7,408.3 140.0,412.7 142.2,420.4 144.4,432.0 153.2,433.1 164.1,432.8 168.5,431.3 177.3,425.2 183.8,424.7 192.6,425.2 201.3,423.0 205.7,424.7 213.4,433.9 216.7,435.0 223.2,434.2 232.0,433.9 236.4,432.8 255.0,433.1 271.5,432.5 308.3,432.5 339.8,434.6 353.0,433.5 358.0,433.0 360.9,430.4 364.0,428.5 368.7,426.7 372.0,422.0 375.6,417.8 381.9,416.2 392.4,421.4 402.9,421.4 412.0,423.0 421.3,424.0 425.3,414.8 433.1,392.5 437.9,388.6 446.3,394.3 451.5,389.9 456.8,386.7 460.7,387.2 464.7,396.4 468.6,424.0 472.6,421.9 476.5,420.8 487.0,415.3 496.2,414.0 501.5,418.8 505.4,424.6 509.3,384.6 514.6,368.9 518.5,368.1 525.1,372.8 527.7,378.0 533.0,372.8 536.9,363.6 542.2,358.4 550.0,357.6 554.0,362.3 559.3,372.8 563.2,374.1 567.2,389.9 569.5,391.5" fill="none" stroke="#844646" stroke-width="1.0" stroke-linejoin="round"/>
<line x1="567.20" y1="391.00" x2="572.90" y2="394.30" stroke="#844646" stroke-width="2.3"/>
<polyline points="102.5,515.8 189.0,515.8 190.0,513.8 200.6,513.8 201.5,515.8 252.0,515.6 253.5,510.0 253.9,510.0 254.3,510.5 254.7,514.8 255.1,512.5 255.5,515.6 255.9,512.2 256.3,510.6 256.7,509.3 257.1,508.5 257.5,508.9 257.9,510.7 258.3,511.3 258.7,508.5 259.1,510.5 259.5,511.1 259.9,512.3 260.3,512.7 260.7,512.5 261.1,511.4 261.5,511.7 261.9,512.0 262.3,512.7 262.7,511.8 263.1,513.8 263.5,512.6 263.9,509.5 264.3,511.4 264.7,511.3 265.1,506.0 265.5,509.8 265.9,513.1 266.3,513.0 266.7,508.9 267.1,506.0 267.5,510.1 267.9,509.4 268.3,509.9 268.7,511.4 269.1,514.7 269.5,511.3 269.9,512.6 270.3,511.4 270.7,511.0 271.1,507.5 271.5,506.7 271.9,510.4 272.3,511.0 272.7,509.0 273.1,512.2 273.5,512.3 273.9,511.3 274.3,514.0 274.7,515.0 275.1,515.7 275.5,513.6 275.9,513.5 276.3,510.7 276.7,510.5 277.1,509.5 277.5,510.2 277.9,509.0 278.3,509.9 278.7,512.0 279.1,509.3 279.5,508.1 279.9,504.9 280.3,507.5 280.7,509.8 281.1,512.9 281.5,515.7 281.9,515.7 282.3,514.3 282.7,514.5 283.1,515.7 283.5,513.8 283.9,513.7 284.3,513.1 284.7,512.9 285.1,512.3 285.5,510.7 285.9,513.9 286.3,513.0 286.7,513.0 287.1,509.9 287.5,512.2 287.9,508.5 288.3,508.2 288.7,506.1 289.1,509.2 289.5,508.3 289.9,508.5 290.3,512.2 290.7,512.0 291.1,512.3 291.5,513.4 291.9,513.7 292.3,515.2 292.7,514.2 293.1,512.1 293.5,513.0 293.9,515.0 294.3,511.2 294.7,511.7 295.1,511.2 295.5,511.4 295.9,512.1 296.3,510.3 296.7,511.4 297.1,511.0 297.5,513.6 297.9,515.5 298.3,514.2 298.7,509.1 299.1,509.3 299.5,506.1 299.9,507.0 300.3,507.5 300.7,509.8 301.1,510.1 301.5,506.8 301.9,506.0 302.3,509.0 302.7,510.5 303.1,507.9 303.5,509.9 303.9,508.4 304.3,511.0 304.7,509.6 305.1,507.0 305.5,506.8 305.9,507.8 306.3,508.6 306.7,509.5 307.1,509.9 307.5,507.8 307.9,506.6 308.3,507.4 308.7,511.0 309.1,511.8 309.5,510.7 309.9,510.5 310.3,513.1 310.7,510.7 311.1,505.5 311.5,509.9 311.9,510.0 312.3,507.0 312.7,509.2 313.1,510.5 313.5,510.1 313.9,509.1 314.3,510.4 314.7,508.5 315.1,513.0 315.5,510.7 315.9,509.8 316.3,510.4 316.7,509.6 317.1,509.8 317.5,507.4 317.9,509.5 318.3,509.9 318.7,512.8 319.1,514.1 319.5,513.1 319.9,515.1 320.3,514.8 320.7,515.7 321.1,514.5 321.5,512.6 321.9,509.8 322.3,513.9 322.7,512.9 323.1,510.1 323.5,507.5 323.9,505.8 324.3,510.5 324.7,511.4 325.1,509.9 325.5,508.2 325.9,508.5 326.3,508.7 326.7,508.8 327.1,511.0 327.5,510.4 327.9,508.7 328.3,510.0 328.7,507.8 329.1,514.5 329.5,513.5 329.9,508.8 330.3,507.6 330.7,505.8 331.1,507.3 331.5,510.9 331.9,511.6 332.3,508.0 332.7,512.6 333.1,513.6 333.5,515.7 333.9,514.6 334.3,513.7 334.7,511.2 335.1,512.5 335.5,508.1 335.9,507.6 336.3,509.6 336.7,511.9 337.1,514.3 337.5,512.4 337.9,507.5 338.3,508.9 338.7,511.5 339.1,511.1 339.5,511.8 339.9,513.0 340.3,515.7 340.7,513.6 341.1,509.2 341.5,507.1 341.9,506.3 342.3,507.4 342.7,507.6 343.1,506.5 343.5,508.1 343.9,508.3 344.3,509.9 344.7,507.7 345.1,510.5 345.5,509.0 345.9,507.7 346.3,506.9 346.7,506.7 347.1,509.0 347.5,510.6 347.9,511.3 348.3,511.6 348.7,513.3 349.1,512.9 349.5,513.1 349.9,513.9 350.3,511.6 350.7,512.6 351.1,511.0 351.5,507.6 351.9,505.1 352.3,507.0 352.7,506.1 353.1,507.1 353.5,503.3 353.9,502.6 354.3,503.2 354.7,506.3 355.1,508.3 355.5,507.8 355.9,508.8 356.3,509.8 356.7,508.4 357.1,511.7 357.5,515.2 357.9,515.3 358.3,515.6 358.7,513.5 359.1,514.0 359.5,512.8 359.9,515.7 360.3,510.5 360.7,509.4 361.1,511.5 361.5,510.2 361.9,507.5 362.3,506.7 362.7,508.2 363.1,507.6 363.5,506.7 363.9,510.6 364.0,502.0 364.3,513.4 364.7,513.3 365.1,509.9 365.5,506.8 365.9,507.8 366.3,505.4 366.7,505.1 367.0,504.0 367.1,507.2 367.5,509.9 367.9,511.3 368.3,510.6 368.7,507.3 369.1,506.6 369.5,510.7 369.9,513.0 370.3,510.0 370.4,479.7 370.7,509.6 371.1,511.7 371.5,509.5 371.9,506.7 372.3,506.3 372.5,499.0 372.7,507.5 373.1,505.5 373.5,508.1 373.9,510.0 374.3,511.9 374.7,507.0 375.1,503.5 375.5,506.1 375.9,506.3 376.0,497.0 376.3,506.7 376.7,505.9 377.1,504.8 377.5,505.3 377.9,507.2 378.3,509.3 378.7,511.7 379.0,502.0 379.1,515.7 379.5,514.0 379.9,514.1 380.3,512.2 380.7,511.4 381.1,512.9 381.5,512.7 381.9,510.6 382.3,509.8 382.7,511.6 383.1,512.5 383.5,510.0 383.9,509.3 384.3,508.7 384.7,509.4 385.1,507.8 385.5,508.3 385.9,503.2 386.3,506.8 386.7,509.4 387.1,505.8 387.5,507.4 387.9,510.0 388.3,508.8 388.7,514.2 389.1,511.3 389.5,510.5 389.9,509.5 390.3,511.2 390.7,507.6 391.1,507.6 391.5,508.4 391.9,508.0 392.3,510.4 392.7,510.3 393.1,513.2 393.5,514.1 393.9,511.6 394.3,510.4 394.7,508.3 395.1,510.2 395.5,510.1 395.9,511.3 396.3,509.9 396.7,508.0 397.1,506.1 397.5,506.1 397.9,509.2 398.3,508.7 398.7,511.3 399.1,514.8 399.5,512.2 399.9,510.8 400.3,508.6 400.7,507.0 401.1,510.7 401.5,512.1 401.9,511.0 402.3,510.1 402.7,508.9 403.1,512.0 403.5,511.4 403.9,509.1 404.3,504.9 404.7,509.5 405.1,505.7 405.5,507.8 405.9,511.6 406.3,507.7 406.7,510.7 407.1,512.7 407.5,509.7 407.9,507.2 408.3,507.8 408.7,510.0 409.1,513.0 409.5,511.3 409.9,515.7 410.3,515.7 410.7,511.1 411.1,508.9 411.5,506.3 411.9,506.5 412.3,510.2 412.7,508.7 413.1,513.0 413.5,509.9 413.9,506.5 414.3,509.8 414.7,507.2 415.1,507.9 415.5,508.8 415.9,513.4 416.3,512.1 416.7,508.9 417.1,512.9 417.5,512.5 417.9,512.8 418.3,515.0 418.7,510.3 419.1,509.7 419.5,509.4 419.9,507.0 420.3,509.5 420.7,501.9 421.1,505.8 421.5,509.8 421.9,508.0 422.3,507.5 422.7,510.3 423.1,511.8 423.5,508.7 423.9,508.1 424.3,507.4 424.7,506.0 425.1,508.5 425.5,505.7 425.9,506.8 426.3,505.9 426.7,509.1 427.1,507.2 427.5,507.1 427.9,502.0 428.3,505.0 428.7,502.9 429.1,503.7 429.5,502.0 429.9,504.0 430.3,504.7 430.7,511.3 431.1,513.2 431.5,508.8 431.9,507.7 432.3,506.2 432.7,507.7 433.1,506.1 433.5,507.9 433.9,508.2 434.3,505.4 434.7,504.1 435.1,506.8 435.5,507.3 435.9,507.1 436.3,507.9 436.7,508.3 437.1,510.5 437.5,508.3 437.9,510.7 438.3,512.0 438.7,507.5 439.1,503.5 439.5,501.1 439.9,503.1 440.3,506.4 440.7,505.4 441.1,502.8 441.5,504.7 441.9,507.0 442.3,511.4 442.7,514.1 443.1,507.7 443.5,511.3 443.9,511.6 444.3,510.9 444.7,509.2 445.1,511.9 445.5,509.0 445.9,507.3 446.3,507.5 446.7,509.2 447.1,509.6 447.5,513.6 447.9,509.9 448.3,510.4 448.7,512.8 449.1,511.0 449.5,508.7 449.9,507.6 450.3,506.3 450.7,504.2 451.1,507.0 451.5,507.0 451.9,506.8 452.3,510.8 452.7,507.1 453.1,508.3 453.5,507.6 453.9,507.1 454.3,509.4 454.7,506.9 455.1,504.9 455.5,505.6 455.9,513.6 456.3,507.9 456.7,508.2 457.1,509.6 457.5,510.2 457.9,511.9 458.3,511.0 458.7,508.0 459.1,510.6 459.5,508.7 459.9,509.6 460.3,509.3 460.7,509.4 461.1,507.6 461.5,504.7 461.9,505.6 462.3,503.7 462.7,500.9 463.1,507.1 463.5,504.8 463.9,506.3 464.3,506.9 464.7,504.0 465.1,505.6 465.5,507.6 465.9,503.5 466.3,501.6 466.7,502.2 467.1,495.7 467.5,502.5 467.9,508.5 468.3,508.0 468.7,510.4 469.1,507.4 469.5,508.4 469.9,509.0 470.3,507.6 470.7,509.2 471.1,513.4 471.5,512.3 471.9,507.4 472.3,505.7 472.7,502.6 473.1,498.4 473.5,498.3 473.9,501.1 474.3,504.9 474.7,503.4 475.1,498.9 475.5,496.7 475.9,496.9 476.3,502.4 476.7,501.4 477.1,500.3 477.5,497.9 477.9,504.5 478.3,506.6 478.7,505.2 479.1,504.3 479.5,506.2 479.9,503.6 480.3,504.7 480.7,500.7 481.1,503.5 481.5,502.9 481.9,510.2 482.3,506.9 482.7,507.8 483.1,503.7 483.5,504.1 483.9,499.6 484.3,502.9 484.7,508.0 485.1,505.2 485.5,502.3 485.9,505.2 486.3,508.9 486.7,503.8 487.1,499.7 487.5,498.3 487.9,499.7 488.3,500.9 488.7,495.7 489.1,495.5 489.5,501.6 489.9,505.8 490.3,502.2 490.7,499.5 491.1,502.8 491.5,505.4 491.9,500.5 492.3,502.3 492.7,499.0 493.1,504.3 493.5,507.0 493.9,511.4 494.3,507.7 494.7,506.8 495.1,511.1 495.5,506.7 495.9,506.7 496.3,505.4 496.7,498.4 497.1,495.8 497.5,496.0 497.9,499.4 498.3,504.8 498.7,505.9 499.1,505.4 499.5,498.7 499.9,503.2 500.3,504.5 500.7,503.0 501.1,500.5 501.5,496.1 501.9,492.5 502.3,496.2 502.7,489.9 503.1,491.3 503.5,498.1 503.9,503.0 504.3,503.6 504.7,503.2 505.1,498.6 505.5,502.6 505.9,503.9 506.3,505.9 506.7,502.3 507.1,507.5 507.5,501.9 507.9,504.4 508.3,503.4 508.7,499.8 509.1,498.3 509.5,486.2 509.9,495.4 510.3,506.2 510.7,509.2 511.1,501.3 511.5,505.2 511.9,497.9 512.3,499.2 512.7,495.5 513.1,503.8 513.5,496.8 513.9,492.0 514.3,498.9 514.7,492.3 515.1,482.1 515.5,488.5 515.9,496.7 516.3,499.8 516.7,500.0 517.1,492.7 517.5,482.6 517.9,489.7 518.3,492.8 518.7,502.7 519.1,502.2 519.5,491.6 519.9,502.7 520.3,488.0 520.7,472.5 521.1,456.7 521.5,466.4 521.9,485.2 522.3,480.6 522.6,427.7 522.7,488.5 523.1,502.0 523.5,498.1 523.9,502.0 524.3,460.1 524.7,450.1 525.1,441.9 525.5,435.8 525.5,465.5 525.9,443.5 526.3,455.4 526.7,444.3 527.1,465.2 527.5,453.0 527.9,480.2 528.3,473.6 528.5,423.4 528.7,470.5 529.1,485.9 529.5,473.4 529.9,474.9 530.3,472.9 530.7,453.6 531.1,434.7 531.4,411.0 531.5,452.9 531.9,446.0 532.3,450.0 532.7,459.1 533.1,458.2 533.5,485.1 533.9,475.1 534.3,478.9 534.7,489.3 535.1,493.6 535.5,484.3 535.9,477.0 536.3,477.2 536.7,494.4 537.1,507.3 537.5,501.4 537.9,492.5 538.3,499.0 538.7,488.9 539.1,485.3 539.5,484.2 539.9,494.4 540.3,483.1 540.7,478.8 541.1,472.9 541.5,477.7 541.9,494.5 542.3,490.6 542.7,484.2 543.1,488.8 543.5,499.7 543.9,492.3 544.3,487.1 544.7,499.4 545.1,502.5 545.5,510.0 545.9,500.3 546.3,495.7 546.7,480.7 547.1,492.6 547.5,482.2 547.9,488.0 548.3,487.6 548.7,498.9 549.1,496.0 549.5,498.4 549.9,496.7 550.3,493.5 550.7,489.3 551.1,484.3 551.5,487.6 551.9,495.7 552.3,484.5 552.7,482.9 553.1,486.8 553.5,470.5 553.9,468.9 554.3,462.2 554.7,482.6 555.1,483.5 555.5,454.4 555.9,453.4 556.3,452.4 556.7,464.8 557.1,465.3 557.5,459.3 557.9,460.2 558.3,460.7 558.7,421.0 558.7,479.4 559.1,479.9 559.5,478.2 559.9,466.0 560.3,459.8 560.7,463.0 561.1,473.9 561.5,481.1 561.9,474.6 562.3,490.4 562.7,487.1 563.1,486.3 563.5,484.0 563.9,459.4 564.3,466.1 564.7,457.7 565.0,443.8 565.1,443.5 565.5,447.8 565.9,456.4 566.3,476.7 566.7,453.5 567.0,441.6 567.1,472.9 567.5,495.8 567.9,471.1 568.3,487.3 568.7,493.7 569.1,491.3 569.5,495.6 569.9,504.0 570.3,489.7 570.7,473.4 570.8,438.0 571.1,459.9 571.5,461.7 571.9,467.3 572.3,472.2 572.7,452.7 573.1,445.6 573.5,457.6 573.9,455.1 574.3,472.7 574.5,426.3 574.7,461.3 575.1,474.9 575.5,470.8 575.9,469.3 576.3,501.8 576.7,478.0 577.0,422.6 577.1,473.5 577.5,481.3 577.9,485.7 578.3,480.7 578.7,479.1 579.1,470.4 579.5,469.8 579.9,463.7 580.3,463.2 580.7,483.9 581.1,495.8 581.5,476.9 581.9,465.8 582.3,463.8 582.5,413.9 582.7,479.8 583.1,481.9 583.5,488.5 583.9,473.7 584.3,486.5 584.7,503.4 585.1,504.0 585.5,495.8 585.9,472.5 586.3,483.0 586.7,463.7 587.1,472.5 587.5,475.8 587.9,482.0 588.3,460.8 588.7,464.4 588.8,409.0 589.1,445.5" fill="none" stroke="#2b9a8f" stroke-width="0.85" stroke-linejoin="round"/>
<polyline points="103.5,636.6 103.8,634.3 103.8,598.0 104.1,630.5 104.4,637.6 104.7,631.9 105.0,631.4 105.3,627.1 105.6,628.7 105.9,621.3 106.2,634.6 106.5,619.8 106.8,614.4 107.1,630.5 107.4,627.3 107.7,627.3 108.0,639.6 108.3,634.5 108.6,637.2 108.9,637.1 109.2,638.5 109.5,638.5 109.8,636.3 110.1,634.8 110.4,640.8 110.7,639.3 111.0,641.7 111.3,642.6 111.6,640.8 111.9,634.1 112.2,629.8 112.5,635.3 112.8,638.0 113.1,639.6 113.4,636.7 113.7,629.4 114.0,631.3 114.3,627.2 114.6,627.8 114.9,615.6 115.2,638.2 115.5,643.1 115.8,640.8 116.1,635.4 116.4,636.9 116.7,633.4 117.0,639.2 117.3,641.6 117.6,641.3 117.9,635.2 118.2,630.7 118.5,636.6 118.8,635.0 119.1,638.0 119.4,636.8 119.7,640.5 120.0,638.7 120.3,640.1 120.6,638.5 120.9,639.8 121.2,641.0 121.5,638.6 121.8,638.9 122.1,637.7 122.4,638.8 122.7,634.8 123.0,639.1 123.3,634.3 123.6,626.3 123.9,633.6 124.2,621.6 124.5,606.7 124.8,620.8 125.1,637.7 125.4,642.4 125.7,640.9 126.0,629.8 126.3,629.2 126.6,627.3 126.9,633.6 127.2,638.3 127.5,635.6 127.8,640.3 128.1,639.3 128.4,635.5 128.7,635.4 129.0,632.5 129.3,636.3 129.6,632.6 129.9,631.3 130.2,640.5 130.5,641.7 130.8,641.5 131.1,636.4 131.4,634.1 131.7,632.8 132.0,632.6 132.3,629.2 132.6,624.1 132.9,633.2 133.2,640.6 133.5,635.1 133.8,635.8 134.1,634.8 134.4,635.3 134.7,639.6 135.0,642.2 135.3,635.1 135.6,626.7 135.9,621.6 136.2,626.0 136.5,627.5 136.8,633.1 137.1,632.6 137.4,635.1 137.7,636.9 138.0,634.1 138.0,599.0 138.3,618.7 138.6,637.9 138.9,632.3 139.2,627.3 139.5,636.9 139.8,633.2 140.1,632.1 140.4,635.0 140.7,636.5 141.0,640.6 141.3,627.1 141.6,599.7 141.9,592.2 142.2,620.3 142.5,624.1 142.8,625.1 143.1,634.3 143.4,635.1 143.7,630.7 144.0,634.3 144.3,641.0 144.4,592.0 144.6,642.1 144.9,638.0 145.2,637.6 145.5,637.1 145.8,626.0 146.1,628.9 146.4,635.3 146.7,634.7 147.0,613.9 147.3,633.3 147.6,617.2 147.9,607.9 148.2,624.1 148.5,631.3 148.8,619.8 149.1,624.8 149.4,632.9 149.7,616.5 150.0,624.2 150.3,626.0 150.6,629.4 150.9,633.2 151.2,632.4 151.5,634.8 151.8,630.8 152.1,622.9 152.4,616.7 152.7,610.9 153.0,601.7 153.3,609.4 153.6,628.1 153.9,621.5 154.2,637.4 154.5,638.6 154.8,634.6 155.1,640.8 155.4,629.1 155.7,636.5 156.0,640.8 156.3,640.4 156.6,640.2 156.9,637.3 157.2,635.9 157.5,626.8 157.8,630.3 158.1,629.6 158.4,636.3 158.7,631.2 159.0,635.8 159.3,641.6 159.6,631.2 159.9,637.1 160.2,639.5 160.5,639.9 160.8,633.1 161.1,639.5 161.4,638.1 161.7,631.8 162.0,611.3 162.3,624.7 162.6,627.0 162.9,634.4 163.2,613.2 163.5,623.7 163.8,627.4 164.1,627.4 164.4,634.7 164.7,632.8 165.0,638.2 165.3,624.0 165.6,628.0 165.9,630.0 166.2,618.5 166.5,633.5 166.8,619.1 167.1,603.3 167.4,626.0 167.7,620.7 168.0,625.8 168.3,618.2 168.6,623.2 168.9,632.8 169.0,592.0 169.2,626.1 169.5,629.1 169.8,627.5 170.1,618.0 170.4,607.1 170.7,609.9 171.0,632.3 171.3,624.8 171.6,629.0 171.9,617.8 172.2,624.9 172.5,608.9 172.8,612.2 173.1,620.4 173.4,620.9 173.7,636.5 174.0,629.2 174.3,627.5 174.6,635.0 174.9,629.1 175.2,625.7 175.5,623.3 175.8,626.6 176.1,619.4 176.4,614.3 176.7,620.6 177.0,625.2 177.0,565.5 177.3,630.5 177.6,633.8 177.9,627.2 178.2,632.1 178.5,638.4 178.8,633.8 179.1,622.8 179.4,628.5 179.7,621.0 180.0,620.6 180.3,633.1 180.6,629.6 180.9,630.8 181.2,625.1 181.5,641.6 181.6,590.0 181.8,634.0 182.1,627.3 182.4,635.1 182.7,625.5 183.0,629.6 183.3,629.2 183.6,622.8 183.9,612.0 184.2,621.2 184.5,619.9 184.8,622.0 185.1,632.7 185.4,617.8 185.7,617.3 186.0,624.2 186.3,617.8 186.6,620.5 186.9,631.4 187.2,624.2 187.5,628.4 187.8,626.0 188.1,621.1 188.4,618.1 188.7,601.7 189.0,618.8 189.3,628.6 189.6,635.7 189.9,638.1 190.2,632.9 190.5,630.7 190.8,637.0 191.1,638.5 191.4,638.5 191.7,626.5 192.0,635.9 192.3,632.9 192.6,640.4 192.9,638.8 193.2,628.1 193.5,637.7 193.8,628.7 194.1,640.1 194.4,637.4 194.7,640.2 195.0,637.7 195.3,637.0 195.6,630.5 195.9,629.8 196.2,630.2 196.5,634.8 196.8,631.2 197.1,636.5 197.4,638.0 197.7,638.7 198.0,633.3 198.3,610.0 198.6,623.4 198.9,603.9 199.2,630.0 199.5,634.8 199.8,630.4 200.1,626.6 200.4,622.6 200.7,608.7 201.0,624.1 201.3,616.9 201.6,622.6 201.9,641.5 202.2,641.5 202.5,640.2 202.8,636.7 203.1,631.5 203.4,633.4 203.7,621.6 204.0,633.8 204.3,633.0 204.6,625.2 204.9,635.6 205.2,624.2 205.5,617.8 205.8,626.2 206.1,628.4 206.4,630.1 206.7,630.2 207.0,618.3 207.3,618.9 207.6,634.7 207.9,639.9 208.2,633.1 208.5,642.4 208.8,643.0 209.1,641.0 209.4,637.2 209.7,623.8 210.0,624.7 210.0,601.6 210.3,587.8 210.6,598.6 210.9,601.8 211.2,600.3 211.5,617.4 211.8,610.7 212.1,612.1 212.4,617.5 212.7,628.5 213.0,631.4 213.3,622.6 213.6,625.2 213.9,622.2 214.2,620.3 214.5,620.5 214.8,623.4 215.1,618.7 215.4,612.5 215.7,598.7 216.0,607.0 216.3,624.2 216.6,631.2 216.9,624.1 217.2,636.2 217.5,635.8 217.7,588.3 217.8,624.6 218.1,629.0 218.4,633.2 218.7,619.9 219.0,639.9 219.3,636.4 219.6,635.8 219.9,635.7 220.2,626.1 220.5,609.7 220.8,603.2 221.1,608.6 221.4,615.6 221.4,577.0 221.7,625.1 222.0,627.0 222.3,637.8 222.6,637.2 222.9,630.5 223.2,631.0 223.5,623.3 223.8,636.7 224.1,636.9 224.4,638.9 224.7,629.0 225.0,631.5 225.3,632.9 225.6,638.2 225.9,637.7 226.2,639.4 226.5,638.7 226.8,618.0 227.1,633.5 227.4,634.1 227.7,637.5 228.0,625.8 228.3,634.9 228.6,637.8 228.9,633.4 229.2,617.6 229.5,622.8 229.8,631.7 230.1,642.3 230.4,645.9 230.7,643.0 231.0,639.6 231.3,630.1 231.6,627.8 231.9,632.0 232.2,621.6 232.5,606.2 232.8,628.0 233.1,622.4 233.4,615.4 233.7,631.5 234.0,628.4 234.3,631.2 234.6,622.8 234.9,617.4 235.2,639.0 235.5,638.1 235.8,627.8 236.1,627.1 236.4,636.8 236.7,638.0 237.0,640.7 237.3,637.1 237.6,641.1 237.9,632.9 238.2,628.1 238.5,615.4 238.8,614.8 239.1,615.4 239.4,617.2 239.7,622.1 240.0,639.6 240.3,635.3 240.6,638.7 240.9,643.8 241.2,634.7 241.5,634.6 241.8,641.0 242.1,637.2 242.4,633.4 242.7,632.3 243.0,620.1 243.3,634.8 243.6,627.8 243.9,636.1 244.2,631.9 244.5,627.3 244.8,633.1 245.1,604.4 245.4,634.9 245.7,640.1 246.0,639.0 246.3,639.8 246.6,630.0 246.9,634.2 247.2,621.7 247.5,629.9 247.8,623.2 248.1,618.4 248.4,623.3 248.7,619.2 249.0,621.0 249.3,593.4 249.6,587.8 249.9,609.5 250.0,586.4 250.2,614.0 250.5,606.3 250.8,611.5 251.1,587.8 251.4,587.8 251.7,627.0 251.8,584.5 252.0,632.3 252.3,619.0 252.6,618.9 252.9,630.6 253.2,632.0 253.5,630.3 253.8,612.8 254.1,630.6 254.4,628.9 254.7,614.1 255.0,609.1 255.3,622.4 255.6,628.9 255.9,639.3 256.2,642.1 256.5,641.4 256.8,633.8 257.1,626.5 257.4,615.0 257.7,612.5 258.0,613.4 258.3,621.4 258.6,632.6 258.9,621.7 259.2,629.9 259.5,639.8 259.8,634.6 260.1,632.9 260.4,604.8 260.7,622.8 261.0,623.7 261.3,635.2 261.6,628.7 261.9,627.5 262.2,634.4 262.5,631.2 262.8,637.9 263.1,631.5 263.4,633.9 263.7,629.8 264.0,635.5 264.3,637.3 264.6,635.2 264.9,626.7 265.0,597.8 265.2,626.9 265.5,640.5 265.8,633.1 266.1,632.1 266.4,625.6 266.7,614.2 267.0,610.9 267.3,627.5 267.6,630.7 267.9,625.4 268.2,615.5 268.5,629.0 268.8,633.0 269.1,636.6 269.4,630.4 269.7,634.0 269.7,580.7 270.0,604.1 270.3,603.9 270.6,596.9 270.9,604.5 271.2,623.9 271.5,640.2 271.8,626.1 272.1,624.0 272.4,637.8 272.7,603.1 273.0,605.3 273.3,588.8 273.6,615.3 273.9,635.4 274.2,636.8 274.5,627.9 274.8,639.7 275.1,638.1 275.4,626.3 275.7,615.6 276.0,621.3 276.3,640.0 276.6,637.3 276.9,624.1 277.2,616.7 277.5,626.6 277.8,624.1 278.1,620.4 278.4,628.1 278.7,633.6 279.0,635.8 279.3,637.4 279.6,634.7 279.9,632.6 280.2,626.5 280.3,574.3 280.5,622.1 280.8,626.8 281.1,639.7 281.4,632.9 281.7,636.5 282.0,618.6 282.3,626.9 282.6,597.3 282.9,605.9 283.2,589.5 283.5,610.2 283.8,614.1 284.1,626.4 284.4,631.5 284.7,633.8 285.0,626.3 285.3,635.4 285.6,625.2 285.9,629.4 286.2,623.9 286.5,633.8 286.8,631.6 287.1,639.4 287.4,638.7 287.7,636.3 288.0,638.5 288.3,636.4 288.6,633.0 288.9,630.6 289.2,640.3 289.5,637.9 289.8,635.9 289.8,594.0 290.1,637.7 290.4,638.9 290.7,620.4 291.0,615.3 291.3,609.7 291.6,602.6 291.7,584.5 291.9,627.4 292.2,630.3 292.5,639.2 292.8,634.7 293.1,640.9 293.4,639.8 293.7,631.9 294.0,626.4 294.3,634.5 294.6,637.1 294.9,624.2 295.2,622.2 295.5,629.8 295.5,596.0 295.8,628.3 296.1,627.6 296.4,635.3 296.7,635.9 297.0,641.7 297.3,636.6 297.6,633.1 297.9,622.4 298.2,613.6 298.5,626.1 298.8,607.9 299.1,626.7 299.4,618.0 299.7,628.2 300.0,632.8 300.3,637.9 300.6,634.8 300.9,608.1 301.2,617.2 301.5,617.6 301.8,626.4 302.1,622.6 302.4,618.8 302.7,618.3 303.0,604.5 303.3,617.9 303.6,618.5 303.9,601.2 304.2,606.9 304.5,626.4 304.8,612.7 305.1,612.5 305.4,628.4 305.7,633.7 306.0,633.9 306.3,624.8 306.6,623.1 306.9,614.0 307.2,587.8 307.5,587.8 307.8,601.4 308.1,623.7 308.4,608.1 308.7,626.1 309.0,632.7 309.3,631.4 309.6,627.6 309.9,629.6 310.2,626.5 310.5,641.0 310.7,599.7 310.8,638.3 311.1,634.2 311.4,625.9 311.7,623.3 312.0,627.3 312.3,589.8 312.5,588.3 312.6,593.1 312.9,602.3 313.2,611.5 313.5,613.8 313.8,628.5 314.1,634.8 314.4,630.2 314.7,638.1 315.0,630.3 315.3,631.8 315.6,623.8 315.9,624.3 316.2,632.2 316.5,634.7 316.8,634.4 317.1,620.0 317.4,605.0 317.7,619.6 318.0,622.2 318.3,631.4 318.6,615.5 318.9,619.0 319.0,588.3 319.2,629.2 319.5,636.7 319.8,630.0 320.1,607.0 320.4,617.3 320.7,630.6 321.0,635.1 321.3,635.7 321.6,642.0 321.9,633.3 322.2,634.8 322.5,640.6 322.8,644.5 323.1,639.5 323.4,634.6 323.7,619.8 324.0,612.3 324.3,625.4 324.6,637.7 324.9,633.3 325.2,635.1 325.5,632.2 325.8,639.1 326.1,637.1 326.4,635.4 326.7,639.1 327.0,642.0 327.3,643.9 327.6,639.8 327.9,628.8 328.2,629.5 328.5,641.6 328.8,638.0 328.8,521.9 329.1,641.4 329.4,636.6 329.7,619.4 330.0,621.3 330.3,640.3 330.6,630.7 330.9,627.9 331.2,606.6 331.5,613.2 331.8,613.9 332.1,635.9 332.4,622.2 332.7,635.0 333.0,641.5 333.3,635.6 333.6,628.5 333.9,614.3 334.2,607.7 334.5,616.0 334.8,620.2 335.1,616.0 335.3,580.7 335.4,620.0 335.7,620.9 336.0,638.5 336.3,636.2 336.6,636.1 336.9,630.8 337.2,635.7 337.5,627.2 337.8,622.3 338.1,634.7 338.4,633.1 338.7,628.4 339.0,636.4 339.3,642.9 339.6,640.2 339.9,636.0 340.2,634.1 340.5,624.6 340.8,625.5 341.1,610.1 341.4,627.7 341.7,611.6 342.0,625.7 342.3,624.4 342.6,639.0 342.9,639.6 343.2,629.7 343.5,630.5 343.8,631.3 344.1,638.3 344.4,631.3 344.7,637.4 345.0,624.9 345.3,623.1 345.6,632.3 345.9,637.1 346.2,637.9 346.5,633.8 346.8,631.8 347.1,640.2 347.4,635.8 347.7,639.6 348.0,624.2 348.3,639.5 348.6,631.6 348.9,638.7 349.2,634.5 349.5,624.7 349.8,624.9 350.1,636.7 350.4,641.6 350.7,630.4 351.0,636.7 351.3,630.3 351.6,621.0 351.9,638.2 352.2,620.6 352.5,628.7 352.8,632.6 353.1,638.4 353.4,635.4 353.5,611.0 353.7,631.7 354.0,623.9 354.3,618.4 354.6,615.1 354.9,626.7 355.2,631.2 355.5,631.7 355.8,631.6 356.1,621.7 356.4,618.7 356.7,628.6 357.0,637.1 357.3,643.2 357.6,641.0 357.9,638.5 358.2,643.5 358.5,641.8 358.8,638.1 359.1,635.5 359.4,641.5 359.7,641.5 360.0,643.7 360.3,637.0 360.6,634.3 360.9,605.2 361.2,628.2 361.5,615.1 361.8,625.3 362.1,629.0 362.4,621.5 362.7,639.7 363.0,642.0 363.3,630.0 363.6,622.5 363.9,603.0 364.2,613.0 364.5,628.7 364.8,622.8 365.1,631.5 365.4,632.6 365.7,633.5 365.8,571.4 366.0,638.0 366.3,616.7 366.6,616.5 366.9,623.5 367.2,624.1 367.5,632.6 367.8,634.7 368.1,632.7 368.4,629.8 368.7,641.7 369.0,630.1 369.3,641.4 369.6,641.6 369.9,643.0 370.0,593.0 370.2,638.8 370.5,642.9 370.8,634.1 371.1,627.7 371.4,620.3 371.7,617.2 372.0,628.1 372.3,627.9 372.6,636.3 372.9,637.0 373.2,632.3 373.5,639.2 373.8,638.1 374.1,638.4 374.4,630.1 374.7,626.8 375.0,632.9 375.3,626.4 375.6,604.9 375.9,604.4 376.2,619.6 376.5,625.4 376.8,635.9 377.1,637.6 377.4,634.1 377.7,631.1 378.0,639.8 378.3,642.2 378.6,643.2 378.9,643.5 379.2,642.3 379.5,639.9 379.8,642.1 380.1,641.7 380.4,644.7 380.7,642.1 381.0,638.1 381.3,639.0 381.6,642.9 381.9,623.6 382.2,634.9 382.5,631.7 382.8,642.6 383.1,642.2 383.4,638.7 383.7,637.2 384.0,635.0 384.3,634.3 384.6,638.2 384.9,640.5 385.2,638.9 385.5,639.9 385.8,640.2 386.1,635.8 386.4,633.7 386.7,636.6 387.0,627.7 387.3,631.4 387.6,634.3 387.9,628.1 388.2,629.1 388.5,640.1 388.8,635.3 389.1,641.8 389.4,640.3 389.7,636.4 390.0,631.1 390.3,637.7 390.6,638.0 390.9,631.4 391.0,606.0 391.2,610.8 391.5,591.5 391.8,604.0 392.1,593.4 392.4,624.2 392.7,630.9 393.0,625.4 393.3,621.7 393.6,637.9 393.9,627.9 394.2,636.2 394.5,635.7 394.8,640.3 395.1,639.3 395.4,630.1 395.7,639.0 396.0,639.7 396.0,608.0 396.3,637.2 396.6,631.8 396.9,615.1 397.2,623.6 397.5,617.1 397.8,636.9 398.1,638.1 398.4,644.4 398.7,635.8 399.0,637.8 399.3,632.0 399.6,638.5 399.9,641.0 400.2,641.9 400.5,641.5 400.8,639.8 401.1,643.4 401.4,639.7 401.7,634.1 402.0,642.0 402.3,643.9 402.6,643.8 402.9,643.3 403.2,630.4 403.5,625.7 403.8,637.8 404.1,608.6 404.4,612.6 404.7,634.7 405.0,641.9 405.3,637.2 405.6,642.6 405.9,638.9 406.2,631.6 406.5,637.7 406.8,639.7 407.1,641.0 407.4,630.7 407.7,627.1 408.0,626.5 408.3,622.5 408.6,628.9 408.9,635.7 409.2,633.2 409.5,626.5 409.8,631.7 410.1,634.4 410.4,639.2 410.7,627.9 411.0,624.3 411.3,627.7 411.6,629.4 411.9,628.8 412.2,630.9 412.5,624.0 412.8,627.6 413.1,624.1 413.4,628.8 413.7,635.2 414.0,626.0 414.3,618.2 414.6,606.8 414.9,627.1 415.2,635.0 415.5,642.6 415.8,639.5 416.1,640.9 416.4,631.5 416.7,639.2 417.0,631.5 417.3,639.5 417.6,638.1 417.9,628.0 418.2,634.5 418.5,632.1 418.8,628.0 419.1,639.1 419.4,618.8 419.7,636.9 420.0,637.6 420.3,635.3 420.6,632.4 420.9,625.3 421.2,617.8 421.5,636.5 421.8,636.6 422.1,643.6 422.4,639.5 422.7,640.4 423.0,636.3 423.3,642.5 423.6,643.2 423.9,638.2 424.2,632.2 424.5,635.2 424.8,637.3 425.0,608.0 425.1,638.8 425.4,639.6 425.7,640.1 426.0,615.9 426.3,617.8 426.6,637.6 426.9,638.3 427.2,640.9 427.5,637.6 427.8,617.1 428.1,610.6 428.4,622.1 428.7,624.4 429.0,630.2 429.3,637.8 429.6,639.0 429.9,629.6 430.2,640.1 430.5,629.4 430.8,601.9 431.1,619.6 431.4,613.4 431.7,622.4 432.0,630.4 432.3,641.8 432.6,641.5 432.9,628.7 433.2,630.2 433.5,633.8 433.8,618.9 434.1,627.0 434.4,640.7 434.7,640.1 435.0,627.0 435.3,618.0 435.6,628.8 435.9,623.1 436.2,628.9 436.5,597.3 436.8,606.7 437.1,602.8 437.4,613.0 437.7,608.3 438.0,612.1 438.3,621.5 438.6,630.4 438.9,633.3 439.2,633.3 439.5,626.0 439.8,621.9 440.0,604.0 440.1,608.4 440.4,622.9 440.7,625.1 441.0,640.4 441.3,640.2 441.6,639.9 441.9,636.8 442.2,633.9 442.5,635.9 442.8,631.5 443.1,634.7 443.4,633.6 443.7,636.7 444.0,633.6 444.3,636.5 444.6,636.0 444.9,638.7 445.2,641.8 445.5,630.8 445.8,636.4 446.1,626.7 446.4,632.2 446.7,632.6 447.0,632.1 447.3,637.6 447.6,642.5 447.9,635.4 448.2,632.9 448.5,641.0 448.8,641.0 449.1,640.7 449.4,631.3 449.7,628.0 450.0,630.6 450.3,621.6 450.6,623.6 450.9,633.9 451.2,640.5 451.5,632.0 451.8,641.1 452.1,631.1 452.4,641.1 452.7,640.9 453.0,630.8 453.3,624.3 453.6,616.2 453.9,636.5 454.2,636.9 454.5,635.9 454.8,637.2 455.1,638.6 455.4,635.0 455.7,634.4 456.0,639.1 456.3,639.5 456.6,638.5 456.9,636.8 457.2,636.9 457.5,642.1 457.8,638.7 458.1,633.9 458.4,619.6 458.7,631.4 459.0,624.8 459.3,633.5 459.6,622.8 459.9,629.5 460.2,630.7 460.5,633.5 460.8,632.4 461.1,631.6 461.4,639.8 461.7,633.5 462.0,638.8 462.0,610.0 462.3,637.5 462.6,629.2 462.9,632.6 463.2,636.7 463.5,620.9 463.8,609.6 464.1,601.1 464.4,603.2 464.7,613.5 465.0,621.6 465.3,637.2 465.6,639.8 465.9,640.7 466.2,631.0 466.5,601.2 466.8,607.4 467.1,623.7 467.4,611.5 467.7,623.6 468.0,629.9 468.3,631.5 468.6,621.5 468.9,611.7 469.2,619.3 469.5,634.2 469.8,626.4 470.0,605.0 470.1,634.8 470.4,638.6 470.7,638.9 471.0,641.0 471.3,640.8 471.6,625.2 471.9,635.6 472.2,634.6 472.5,640.9 472.8,641.0 473.1,639.4 473.4,636.1 473.7,633.7 474.0,633.5 474.3,637.0 474.6,622.7 474.9,619.7 475.2,630.7 475.5,633.0 475.8,635.4 476.1,634.0 476.4,636.8 476.7,629.5 477.0,621.5 477.3,627.8 477.6,626.4 477.9,633.2 478.2,620.8 478.5,629.7 478.8,626.1 479.1,625.2 479.4,635.0 479.7,641.8 480.0,641.2 480.3,641.8 480.6,640.9 480.9,637.9 481.2,635.9 481.5,637.2 481.8,619.6 482.1,635.2 482.4,626.1 482.7,621.4 483.0,633.2 483.3,610.5 483.6,602.0 483.9,614.4 484.2,618.0 484.5,624.3 484.8,621.5 485.1,630.9 485.4,619.9 485.7,613.6 486.0,627.0 486.3,638.5 486.6,627.6 486.9,627.8 487.2,635.7 487.5,621.2 487.8,624.4 488.1,638.0 488.4,628.8 488.7,637.6 489.0,642.9 489.0,583.5 489.3,641.9 489.6,639.4 489.9,643.4 490.2,623.9 490.5,625.2 490.8,626.7 491.1,630.9 491.4,629.1 491.7,636.0 492.0,636.0 492.3,625.0 492.6,630.9 492.9,629.7 493.2,632.4 493.5,611.5 493.8,605.1 494.1,614.6 494.4,614.2 494.7,619.6 495.0,622.8 495.3,589.2 495.6,634.8 495.9,634.6 496.2,633.2 496.5,624.5 496.8,638.2 497.0,608.0 497.1,639.0 497.4,633.9 497.7,642.1 498.0,635.9 498.3,611.7 498.6,631.6 498.9,641.9 499.2,635.1 499.5,635.6 499.8,612.7 500.1,627.5 500.4,634.4 500.7,623.2 501.0,612.0 501.3,607.4 501.6,589.2 501.9,599.9 502.2,617.9 502.5,630.2 502.8,632.0 503.1,635.1 503.4,637.0 503.7,640.2 504.0,644.8 504.3,639.4 504.6,634.1 504.9,641.4 505.2,633.0 505.5,644.1 505.8,642.1 506.1,638.0 506.4,637.5 506.7,630.1 507.0,618.5 507.0,606.0 507.3,609.6 507.6,620.5 507.9,603.5 508.2,624.0 508.5,632.3 508.8,636.2 509.1,638.3 509.4,638.0 509.7,641.4 510.0,643.6 510.3,631.1 510.6,626.3 510.9,618.3 511.0,604.0 511.2,621.4 511.5,634.8 511.8,621.7 512.1,618.3 512.4,634.9 512.7,627.5 513.0,641.1 513.3,631.5 513.6,636.9 513.9,626.8 514.2,635.2 514.5,624.5 514.8,624.4 515.1,621.6 515.4,623.6 515.7,622.0 516.0,619.2 516.3,616.0 516.6,639.7 516.9,638.5 517.2,638.5 517.5,637.4 517.8,635.8 518.1,613.2 518.4,615.9 518.7,635.5 519.0,636.5 519.3,626.7 519.6,636.5 519.9,632.8 520.2,636.0 520.5,631.6 520.8,633.1 521.1,632.7 521.4,634.1 521.7,637.9 522.0,625.9 522.3,625.3 522.6,627.5 522.9,611.4 523.2,619.5 523.5,626.4 523.8,627.4 524.1,632.8 524.4,637.4 524.7,618.9 525.0,632.8 525.3,621.1 525.6,622.2 525.9,636.0 526.2,636.1 526.5,638.8 526.8,636.8 527.1,629.3 527.4,636.9 527.7,639.8 528.0,642.0 528.3,630.1 528.6,630.7 528.9,629.4 529.2,630.1 529.5,638.5 529.8,623.6 530.1,636.6 530.4,643.8 530.7,637.4 531.0,640.3 531.3,631.9 531.6,627.3 531.9,629.8 532.2,626.2 532.5,623.1 532.8,633.0 533.1,638.0 533.4,642.0 533.7,640.9 534.0,641.5 534.3,642.8 534.6,642.5 534.9,621.5 535.2,622.3 535.5,638.1 535.8,624.2 536.0,609.0 536.1,640.4 536.4,639.0 536.7,641.9 537.0,643.1 537.3,642.1 537.6,637.6 537.9,629.1 538.2,641.6 538.5,641.2 538.8,642.2 539.1,637.6 539.4,631.9 539.7,640.4 540.0,641.9 540.0,604.0 540.3,642.5 540.6,636.8 540.9,638.8 541.2,641.1 541.5,641.7 541.8,642.2 542.1,639.5 542.4,625.4 542.7,640.5 543.0,641.5 543.0,598.0 543.3,637.6 543.6,644.4 543.9,640.2 544.2,636.5 544.5,636.0 544.8,641.7 545.1,628.2 545.4,630.4 545.7,634.6 546.0,625.9 546.3,639.7 546.6,641.2 546.9,644.6 547.2,642.3 547.5,639.3 547.8,639.1 548.1,638.7 548.4,633.2 548.7,637.9 549.0,638.2 549.3,642.1 549.6,636.8 549.9,637.6 550.2,623.6 550.5,633.8 550.8,630.4 551.1,629.7 551.4,639.2 551.7,632.9 552.0,630.1 552.3,623.3 552.6,619.5 552.9,629.9 553.2,615.5 553.5,621.2 553.8,619.5 554.1,639.9 554.4,644.1 554.7,645.3 555.0,642.2 555.3,639.3 555.6,633.6 555.9,633.2 556.2,641.4 556.5,640.5 556.8,628.3 557.1,620.2 557.4,637.9 557.7,637.8 558.0,642.1 558.3,637.3 558.6,628.4 558.9,623.3 559.2,636.1 559.5,637.8 559.8,636.8 560.1,620.4 560.4,624.2 560.7,627.9 561.0,629.5 561.3,629.6 561.6,636.7 561.9,640.6 562.2,640.2 562.5,638.9 562.8,639.6 563.1,633.0 563.4,633.0 563.7,626.9 564.0,635.1 564.3,643.9 564.6,642.2 564.9,634.5 565.2,632.7 565.5,643.7 565.8,642.2 566.0,601.0 566.1,641.7 566.4,639.9 566.7,640.4 567.0,638.1 567.3,639.1 567.6,639.1 567.9,630.8 568.2,630.0 568.5,632.7 568.8,640.2 569.1,641.1 569.4,640.7 569.7,635.7 570.0,641.9 570.3,637.6 570.6,625.2 570.9,627.1 571.2,638.5 571.5,629.5 571.8,630.9 572.1,626.3 572.4,619.8 572.7,619.2 573.0,627.6 573.3,636.0 573.6,611.8 573.9,630.8 574.2,623.5 574.5,634.7 574.8,622.5 575.1,600.3 575.4,605.2 575.7,628.2 576.0,632.7 576.3,618.1 576.6,604.9 576.9,611.6 577.0,583.5 577.2,620.3 577.5,605.1 577.8,613.3 578.1,619.7 578.4,616.0 578.7,620.6 579.0,612.3 579.3,600.7 579.6,612.2 579.9,639.6 580.2,636.9 580.5,637.7 580.8,640.9 581.1,640.0 581.4,628.6 581.7,639.1 582.0,638.5 582.3,639.8 582.6,642.9 582.9,644.1 583.2,638.6 583.5,642.0 583.8,627.1 584.1,631.9 584.4,630.2 584.7,627.4 585.0,639.6 585.3,630.7 585.6,631.1 585.9,633.0 586.2,629.3 586.5,630.4 586.8,631.9 587.1,639.6 587.4,638.0 587.7,632.7 588.0,638.0 588.0,602.0 588.3,631.5 588.6,635.1 588.9,631.2 589.2,632.5" fill="none" stroke="#6fad4e" stroke-width="0.85" stroke-linejoin="round"/>
<polyline points="117.8,679.8 123.5,674.2 127.3,672.3 133.4,656.0 138.0,655.2 148.2,650.2 153.1,655.2 158.8,668.5 163.8,672.3 168.3,663.5 177.8,661.6 184.3,669.6 193.0,661.6 199.4,679.8 203.2,684.4 209.3,677.2 213.9,695.0 218.8,704.5 229.0,705.3 234.7,712.1 240.4,700.7 244.2,668.5 249.2,666.6 255.6,673.0 264.0,676.0 270.8,676.0 275.3,672.3 281.4,693.1 286.0,703.8 294.3,696.2 300.4,668.5 309.9,673.4 321.3,657.8 330.7,659.7 341.0,719.7 343.8,722.7 352.4,724.3 359.0,728.0 366.6,731.1 374.2,726.5 381.7,710.2 387.4,707.6 396.9,712.1 407.6,706.4 414.0,705.3 427.3,704.5 432.2,712.1 437.9,700.7 443.2,693.9 452.0,693.9 457.6,692.4 463.3,711.3 469.0,717.0 474.7,716.7 483.5,711.0 488.8,720.8 495.6,723.5 503.2,725.4 508.9,734.1 516.5,730.3 522.2,729.2 533.5,729.6 539.2,730.3 546.8,730.3 554.4,734.9 559.4,734.1" fill="none" stroke="#f7ae72" stroke-width="0.9" stroke-linejoin="round"/>
<polyline points="102.5,794.5 102.8,846.0 103.1,844.3 103.4,845.2 103.7,841.5 104.0,833.7 104.3,831.1 104.6,828.1 104.9,826.2 105.2,826.2 105.5,825.7 105.8,833.1 106.1,830.4 106.4,833.0 106.7,826.2 107.0,820.4 107.3,813.8 107.6,813.8 107.9,808.3 108.2,811.9 108.5,809.6 108.8,812.2 109.1,810.0 109.4,816.2 109.7,809.2 110.0,804.5 110.3,801.7 110.6,794.0 110.9,793.8 111.2,788.9 111.5,799.0 111.8,816.8 112.1,830.7 112.4,840.1 112.7,837.8 113.0,835.5 113.3,830.1 113.6,824.4 113.9,820.8 114.2,820.1 114.5,817.1 114.8,816.9 115.1,818.1 115.4,820.7 115.7,819.6 116.0,822.4 116.3,813.1 116.6,808.4 116.9,805.0 117.2,802.9 117.5,799.3 117.8,797.9 118.1,799.4 118.4,801.8 118.7,805.0 119.0,800.8 119.3,807.1 119.6,817.0 119.9,822.3 120.2,824.6 120.5,817.4 120.8,814.8 121.1,814.5 121.4,817.1 121.7,819.1 122.0,820.6 122.3,818.1 122.6,815.8 122.9,807.4 123.2,804.0 123.5,799.3 123.8,798.7 124.1,798.5 124.4,795.9 124.7,799.9 125.0,802.7 125.3,807.4 125.6,816.1 125.9,822.1 126.2,832.7 126.5,823.3 126.8,821.4 127.1,821.1 127.4,821.0 127.7,821.9 128.0,826.7 128.3,828.1 128.6,826.8 128.9,824.8 129.2,819.0 129.5,812.4 129.8,814.3 130.1,805.7 130.4,810.5 130.7,807.1 131.0,809.6 131.3,810.8 131.6,813.6 131.9,810.0 132.2,811.4 132.5,804.8 132.8,799.6 133.1,794.4 133.4,793.7 133.7,792.9 134.0,791.4 134.3,811.1 134.6,817.8 134.9,837.3 135.2,835.9 135.5,835.7 135.8,832.5 136.1,826.4 136.4,820.9 136.7,823.3 137.0,817.9 137.3,820.0 137.6,826.9 137.9,824.0 138.2,825.5 138.5,824.0 138.8,818.3 139.1,814.2 139.4,809.5 139.7,806.7 140.0,807.3 140.3,807.4 140.6,808.1 140.9,810.8 141.2,808.8 141.5,807.3 141.8,803.8 142.1,802.6 142.4,799.3 142.7,792.5 143.0,796.8 143.3,808.9 143.6,822.6 143.9,834.8 144.2,836.1 144.5,832.0 144.8,833.4 145.1,827.6 145.4,824.6 145.7,821.6 146.0,819.0 146.3,815.1 146.6,812.9 146.9,814.6 147.2,818.0 147.5,816.2 147.8,817.3 148.1,816.0 148.4,812.4 148.7,805.3 149.0,802.0 149.3,800.7 149.6,797.5 149.9,794.4 150.2,799.6 150.5,801.3 150.8,802.1 151.1,815.3 151.4,820.1 151.7,823.4 152.0,826.1 152.3,822.2 152.6,818.3 152.9,815.0 153.2,816.1 153.5,827.0 153.8,823.2 154.1,825.1 154.4,825.3 154.7,820.4 155.0,819.0 155.3,810.9 155.6,810.4 155.9,804.3 156.2,809.8 156.5,811.5 156.8,813.1 157.1,814.5 157.4,814.3 157.7,813.3 158.0,809.9 158.3,802.2 158.6,801.9 158.9,795.7 159.2,796.9 159.5,797.2 159.8,800.6 160.1,801.1 160.4,803.4 160.7,804.6 161.0,811.3 161.3,817.4 161.6,824.0 161.9,827.0 162.2,831.1 162.5,827.2 162.8,831.0 163.1,832.0 163.4,834.3 163.7,835.3 164.0,832.5 164.3,827.6 164.6,826.6 164.9,822.7 165.2,818.6 165.5,817.7 165.8,812.9 166.1,817.8 166.4,819.3 166.7,817.2 167.0,820.6 167.3,818.3 167.6,811.9 167.9,808.7 168.2,806.4 168.5,804.7 168.8,803.9 169.1,801.5 169.4,803.3 169.7,806.1 170.0,807.7 170.3,805.8 170.6,803.9 170.9,801.5 171.2,797.2 171.5,792.6 171.8,800.8 172.1,815.5 172.4,831.5 172.7,834.7 173.0,836.7 173.3,835.0 173.6,829.7 173.9,829.2 174.2,823.2 174.5,824.2 174.8,818.7 175.1,814.6 175.4,815.5 175.7,817.0 176.0,820.7 176.3,819.5 176.6,819.9 176.9,815.3 177.2,812.7 177.5,808.1 177.8,802.7 178.1,797.9 178.4,798.3 178.7,795.8 179.0,800.2 179.3,810.0 179.6,821.5 179.9,836.5 180.2,838.2 180.5,834.3 180.8,830.0 181.1,824.6 181.4,825.9 181.7,821.3 182.0,820.8 182.3,826.2 182.6,826.2 182.9,820.3 183.2,821.3 183.5,820.3 183.8,812.5 184.1,808.6 184.4,805.0 184.7,799.2 185.0,801.3 185.3,805.0 185.6,807.3 185.9,805.0 186.2,804.0 186.5,802.5 186.8,809.2 187.1,818.6 187.4,825.0 187.7,830.9 188.0,830.5 188.3,830.9 188.6,828.2 188.9,833.7 189.2,832.7 189.5,831.4 189.8,825.0 190.1,824.1 190.4,816.7 190.7,811.2 191.0,813.5 191.3,812.6 191.6,813.4 191.9,814.9 192.2,815.6 192.5,817.4 192.8,815.0 193.1,813.1 193.4,810.5 193.7,803.0 194.0,799.8 194.3,799.9 194.6,794.8 194.9,796.7 195.2,802.1 195.5,812.4 195.8,815.0 196.1,821.9 196.4,829.4 196.7,826.5 197.0,817.6 197.3,819.2 197.6,817.2 197.9,815.1 198.2,819.3 198.5,820.8 198.8,822.8 199.1,822.0 199.4,819.2 199.7,816.0 200.0,812.2 200.3,810.3 200.6,809.4 200.9,809.3 201.2,807.1 201.5,809.1 201.8,810.8 202.1,815.0 202.4,812.1 202.7,807.1 203.0,802.8 203.3,799.6 203.6,798.7 203.9,795.5 204.2,797.9 204.5,801.8 204.8,800.7 205.1,803.9 205.4,799.5 205.7,802.3 206.0,824.5 206.3,833.3 206.6,826.9 206.9,823.6 207.2,823.3 207.5,818.1 207.8,820.6 208.1,818.5 208.4,819.6 208.7,815.7 209.0,812.5 209.3,808.9 209.6,802.2 209.9,798.4 210.2,795.1 210.5,800.1 210.8,816.4 211.1,832.1 211.4,833.8 211.7,833.1 212.0,826.0 212.3,824.8 212.6,820.8 212.9,817.8 213.2,814.0 213.5,807.5 213.8,810.0 214.1,807.0 214.4,810.0 214.7,809.5 215.0,809.0 215.3,810.4 215.6,802.8 215.9,798.5 216.2,795.5 216.5,796.3 216.8,813.4 217.1,829.1 217.4,830.7 217.7,831.2 218.0,833.6 218.3,827.7 218.6,820.9 218.9,816.4 219.2,809.6 219.5,807.6 219.8,804.3 220.1,800.1 220.4,801.9 220.7,796.5 221.0,804.9 221.3,824.4 221.6,834.3 221.9,826.5 222.2,822.7 222.5,819.8 222.8,816.2 223.1,812.4 223.4,804.7 223.7,807.7 224.0,807.4 224.3,806.1 224.6,803.9 224.9,800.8 225.2,802.4 225.5,806.8 225.8,815.1 226.1,811.7 226.4,815.3 226.7,813.7 227.0,815.1 227.3,817.8 227.6,817.3 227.9,818.4 228.2,812.6 228.5,808.4 228.8,811.7 229.1,805.6 229.4,798.9 229.7,806.3 230.0,801.6 230.3,809.3 230.6,810.1 230.9,808.6 231.2,805.8 231.5,801.6 231.8,801.5 232.1,795.7 232.4,795.9 232.7,792.2 233.0,799.2 233.3,810.6 233.6,818.0 233.9,816.6 234.2,820.5 234.5,814.5 234.8,813.1 235.1,805.3 235.4,806.2 235.7,805.0 236.0,802.2 236.3,800.8 236.6,800.5 236.9,804.2 237.2,804.3 237.5,799.8 237.8,799.7 238.1,814.5 238.4,826.9 238.7,825.8 239.0,817.9 239.3,819.6 239.6,818.4 239.9,814.9 240.2,816.4 240.5,815.4 240.8,816.1 241.1,809.9 241.4,806.0 241.7,801.8 242.0,802.4 242.3,794.8 242.6,797.6 242.9,807.7 243.2,823.5 243.5,829.4 243.8,826.2 244.1,824.5 244.4,825.8 244.7,818.5 245.0,814.7 245.3,814.3 245.6,806.3 245.9,809.9 246.2,808.3 246.5,809.4 246.8,807.8 247.1,807.6 247.4,806.6 247.7,802.6 248.0,796.6 248.3,791.6 248.6,807.3 248.9,818.2 249.2,815.9 249.5,814.9 249.8,816.9 250.1,818.8 250.4,813.0 250.7,812.5 251.0,810.0 251.3,803.6 251.6,806.5 251.9,802.7 252.2,804.1 252.5,799.9 252.8,803.3 253.1,806.1 253.4,803.6 253.7,803.2 254.0,794.9 254.3,806.1 254.6,816.2 254.9,814.6 255.2,811.2 255.5,814.0 255.8,815.3 256.1,814.6 256.4,816.2 256.7,815.5 257.0,813.2 257.3,806.9 257.6,804.7 257.9,799.5 258.2,798.4 258.5,799.7 258.8,797.8 259.1,798.0 259.4,798.2 259.7,811.6 260.0,819.6 260.3,804.9 260.6,806.6 260.9,809.2 261.2,807.7 261.5,813.2 261.8,815.0 262.1,818.3 262.4,824.1 262.7,823.7 263.0,821.6 263.3,820.4 263.6,813.0 263.9,805.2 264.2,802.8 264.5,795.2 264.8,793.1 265.1,793.8 265.4,795.8 265.7,796.4 266.0,802.6 266.3,808.1 266.6,810.3 266.9,812.2 267.2,810.9 267.5,812.2 267.8,813.1 268.1,812.0 268.4,808.0 268.7,806.4 269.0,803.8 269.3,804.8 269.6,799.2 269.9,797.8 270.2,796.8 270.5,797.9 270.8,795.5 271.1,800.5 271.4,801.6 271.7,807.2 272.0,814.8 272.3,818.2 272.6,817.1 272.9,817.6 273.2,816.5 273.5,816.4 273.8,809.8 274.1,810.3 274.4,810.3 274.7,808.7 275.0,808.3 275.3,812.1 275.6,806.1 275.9,805.8 276.2,802.4 276.5,798.9 276.8,794.4 277.1,795.1 277.4,792.5 277.7,793.7 278.0,794.3 278.3,801.8 278.6,809.0 278.9,810.0 279.2,817.5 279.5,816.1 279.8,815.6 280.1,816.8 280.4,815.2 280.7,811.5 281.0,809.2 281.3,806.3 281.6,803.4 281.9,798.5 282.2,799.9 282.5,797.8 282.8,801.8 283.1,800.5 283.4,801.9 283.7,808.9 284.0,813.1 284.3,821.2 284.6,821.9 284.9,826.2 285.2,819.6 285.5,816.7 285.8,809.5 286.1,800.7 286.4,795.9 286.7,793.4 287.0,794.6 287.3,795.1 287.6,804.1 287.9,809.8 288.2,811.7 288.5,817.6 288.8,820.5 289.1,821.1 289.4,817.2 289.7,816.5 290.0,810.6 290.3,807.8 290.6,807.3 290.9,802.7 291.2,799.6 291.5,799.3 291.8,800.1 292.1,799.2 292.4,796.9 292.7,802.6 293.0,798.7 293.3,803.3 293.6,802.6 293.9,808.4 294.2,814.1 294.5,816.2 294.8,817.3 295.1,814.0 295.4,812.3 295.7,807.1 296.0,800.0 296.3,800.2 296.6,793.9 296.9,793.6 297.2,796.4 297.5,797.1 297.8,803.0 298.1,803.2 298.4,806.1 298.7,809.9 299.0,810.6 299.3,809.9 299.6,812.1 299.9,814.4 300.2,819.3 300.5,816.8 300.8,819.8 301.1,820.5 301.4,818.0 301.7,813.6 302.0,811.6 302.3,803.4 302.6,803.9 302.9,792.1 303.2,791.3 303.5,794.8 303.8,796.8 304.1,797.3 304.4,800.8 304.7,803.2 305.0,807.7 305.3,808.9 305.6,813.2 305.9,810.5 306.2,806.3 306.5,803.0 306.8,799.8 307.1,797.9 307.4,798.2 307.7,799.2 308.0,800.6 308.3,804.1 308.6,807.9 308.9,810.9 309.2,812.0 309.5,815.2 309.8,817.9 310.1,812.7 310.4,809.8 310.7,806.5 311.0,802.1 311.3,801.2 311.6,795.4 311.9,796.4 312.2,797.2 312.5,799.6 312.8,804.0 313.1,809.9 313.4,808.0 313.7,814.5 314.0,815.8 314.3,809.9 314.6,806.4 314.9,802.5 315.2,792.8 315.5,793.1 315.8,792.4 316.1,793.9 316.4,795.3 316.7,802.0 317.0,805.8 317.3,811.8 317.6,813.2 317.9,813.0 318.2,815.1 318.5,808.7 318.8,806.7 319.1,806.3 319.4,802.1 319.7,800.8 320.0,796.0 320.3,797.3 320.6,795.0 320.9,794.9 321.2,797.9 321.5,797.8 321.8,803.1 322.1,806.0 322.4,805.8 322.7,807.8 323.0,805.6 323.3,808.7 323.6,806.6 323.9,801.9 324.2,800.1 324.5,794.8 324.8,792.5 325.1,791.0 325.4,791.3 325.7,797.9 326.0,804.3 326.3,809.9 326.6,811.8 326.9,810.8 327.2,811.6 327.5,809.2 327.8,802.1 328.1,798.2 328.4,793.2 328.7,790.3 329.0,789.5 329.3,795.4 329.6,795.3 329.9,798.8 330.2,798.1 330.5,803.6 330.8,806.8 331.1,803.6 331.4,806.3 331.7,805.0 332.0,807.5 332.3,808.6 332.6,805.2 332.9,806.1 333.2,805.3 333.5,804.1 333.8,803.8 334.1,798.0 334.4,794.7 334.7,792.2 335.0,789.2 335.3,791.9 335.6,792.4 335.9,792.1 336.2,798.7 336.5,799.4 336.8,801.0 337.1,808.6 337.4,805.4 337.7,802.2 338.0,803.3 338.3,802.5 338.6,799.8 338.9,797.6 339.2,799.1 339.5,797.7 339.8,796.4 340.1,790.9 340.4,791.0 340.7,791.7 341.0,791.4 341.3,793.2 341.6,796.1 341.9,802.9 342.2,801.5 342.5,807.2 342.8,803.7 343.1,806.2 343.4,803.2 343.7,799.7 344.0,797.7 344.3,796.5 344.6,792.4 344.9,791.7 345.2,790.7 345.5,793.0 345.8,792.6 346.1,793.1 346.4,794.4 346.7,795.0 347.0,797.2 347.3,795.0 347.6,798.2 347.9,798.0 348.2,800.7 348.5,799.7 348.8,801.7 349.1,800.4 349.4,798.9 349.7,796.2 350.0,795.3 350.3,792.1 350.6,788.8 350.9,787.8 351.2,784.9 351.5,788.4 351.8,788.9 352.1,795.1 352.4,798.6 352.7,798.6 353.0,798.4 353.3,801.7 353.6,799.8 353.9,798.1 354.2,797.6 354.5,792.3 354.8,791.4 355.1,794.2 355.4,792.1 355.7,788.3 356.0,792.6 356.3,792.7 356.6,790.1 356.9,790.9 357.2,791.8 357.5,795.6 357.8,793.2 358.1,796.9 358.4,796.8 358.7,793.2 359.0,798.7 359.3,800.3 359.6,794.7 359.9,794.2 360.2,790.8 360.5,788.8 360.8,785.1 361.1,787.6 361.4,784.7 361.7,789.4 362.0,789.0 362.3,791.9 362.6,791.9 362.9,796.5 363.2,793.8 363.5,801.1 363.8,797.3 364.1,794.9 364.4,797.2 364.7,791.0 365.0,793.6 365.3,789.2 365.6,789.6 365.9,788.8 366.2,789.9 366.5,794.1 366.8,796.1 367.1,801.7 367.4,798.3 367.7,791.4 368.0,792.0 368.3,790.2 368.6,790.0 368.9,790.3 369.2,789.9 369.5,793.6 369.8,794.7 370.1,798.3 370.4,797.5 370.7,796.9 371.0,790.7 371.3,789.3 371.6,789.3 371.9,790.4 372.2,795.3 372.5,794.8 372.8,799.5 373.1,795.1 373.4,800.2 373.7,798.0 374.0,791.3 374.3,788.0 374.6,789.2 374.9,786.4 375.2,793.6 375.5,791.8 375.8,791.4 376.1,789.6 376.4,796.2 376.7,793.6 377.0,791.9 377.3,794.3 377.6,788.8 377.9,792.2 378.2,791.7 378.5,791.8 378.8,787.7 379.1,789.2 379.4,794.0 379.7,795.9 380.0,794.1 380.3,789.7 380.6,791.2 380.9,794.1 381.2,789.8 381.5,788.9 381.8,795.6 382.1,789.5 382.4,794.4 382.7,797.4 383.0,800.1 383.3,799.3 383.6,802.7 383.9,806.7 384.2,804.6 384.5,803.6 384.8,800.0 385.1,797.0 385.4,792.1 385.7,789.1 386.0,792.2 386.3,790.8 386.6,793.0 386.9,789.9 387.2,792.4 387.5,797.0 387.8,795.5 388.1,793.6 388.4,792.1 388.7,786.0 389.0,784.1 389.3,786.5 389.6,786.4 389.9,792.5 390.2,793.9 390.5,796.1 390.8,797.1 391.1,796.0 391.4,798.8 391.7,795.5 392.0,789.6 392.3,787.4 392.6,786.5 392.9,788.2 393.2,785.5 393.5,787.6 393.8,791.5 394.1,790.8 394.4,793.6 394.7,797.8 395.0,792.0 395.3,794.1 395.6,791.9 395.9,789.3 396.2,789.5 396.5,790.9 396.8,788.6 397.1,787.0 397.4,790.6 397.7,793.8 398.0,794.7 398.3,792.6 398.6,794.2 398.9,787.8 399.2,786.5 399.5,784.8 399.8,786.7 400.1,790.3 400.4,789.2 400.7,791.9 401.0,793.7 401.3,794.3 401.6,795.2 401.9,793.1 402.2,790.8 402.5,792.8 402.8,792.2 403.1,791.3 403.4,788.6 403.7,787.0 404.0,791.7 404.3,787.6 404.6,786.0 404.9,787.6 405.2,791.4 405.5,793.1 405.8,792.4 406.1,794.2 406.4,794.9 406.7,794.3 407.0,795.8 407.3,793.2 407.6,790.0 407.9,786.1 408.2,788.0 408.5,787.8 408.8,787.3 409.1,788.4 409.4,794.9 409.7,791.1 410.0,795.6 410.3,798.0 410.6,793.9 410.9,796.1 411.2,792.9 411.5,787.2 411.8,785.8 412.1,783.7 412.4,786.6 412.7,787.9 413.0,792.9 413.3,793.5 413.6,795.6 413.9,792.1 414.2,787.9 414.5,784.9 414.8,788.1 415.1,782.7 415.4,783.6 415.7,790.0 416.0,789.7 416.3,795.2 416.6,792.0 416.9,791.8 417.2,790.5 417.5,790.0 417.8,790.0 418.1,783.9 418.4,786.5 418.7,785.1 419.0,787.6 419.3,793.1 419.6,792.5 419.9,793.9 420.2,791.7 420.5,789.9 420.8,788.3 421.1,786.3 421.4,782.7 421.7,789.7 422.0,786.0 422.3,791.1 422.6,790.6 422.9,792.6 423.2,788.2 423.5,788.7 423.8,785.5 424.1,786.4 424.4,783.3 424.7,786.2 425.0,786.2 425.3,790.3 425.6,791.8 425.9,791.7 426.2,792.2 426.5,788.3 426.8,789.5 427.1,786.9 427.4,785.6 427.7,784.9 428.0,786.0 428.3,788.1 428.6,794.6 428.9,794.2 429.2,796.7 429.5,793.9 429.8,788.3 430.1,787.2 430.4,785.7 430.7,785.5 431.0,786.9 431.3,790.8 431.6,790.4 431.9,793.4 432.2,795.4 432.5,790.4 432.8,793.1 433.1,791.5 433.4,789.3 433.7,785.2 434.0,783.4 434.3,785.8 434.6,786.0 434.9,786.1 435.2,788.4 435.5,789.7 435.8,794.1 436.1,793.3 436.4,789.8 436.7,795.3 437.0,793.3 437.3,791.7 437.6,786.7 437.9,786.5 438.2,785.9 438.5,789.3 438.8,786.5 439.1,784.9 439.4,789.9 439.7,793.5 440.0,790.3 440.3,790.3 440.6,791.4 440.9,791.7 441.2,789.9 441.5,790.7 441.8,789.7 442.1,786.2 442.4,788.2 442.7,785.7 443.0,789.0 443.3,789.0 443.6,789.6 443.9,791.2 444.2,792.6 444.5,793.6 444.8,794.6 445.1,796.4 445.4,791.1 445.7,791.4 446.0,785.6 446.3,787.4 446.6,787.6 446.9,783.6 447.2,789.8 447.5,789.6 447.8,793.6 448.1,793.9 448.4,795.4 448.7,791.9 449.0,791.3 449.3,786.8 449.6,786.3 449.9,785.1 450.2,787.2 450.5,787.6 450.8,791.7 451.1,793.5 451.4,794.3 451.7,793.7 452.0,788.7 452.3,790.2 452.6,790.5 452.9,785.4 453.2,785.3 453.5,785.8 453.8,788.0 454.1,789.6 454.4,790.6 454.7,792.7 455.0,791.9 455.3,789.7 455.6,789.8 455.9,788.9 456.2,787.6 456.5,786.0 456.8,785.9 457.1,787.1 457.4,791.6 457.7,792.3 458.0,793.8 458.3,790.5 458.6,789.6 458.9,789.2 459.2,788.2 459.5,787.6 459.8,783.6 460.1,784.4 460.4,787.7 460.7,790.4 461.0,789.7 461.3,791.1 461.6,792.4 461.9,793.4 462.2,791.2 462.5,790.5 462.8,789.7 463.1,788.0 463.4,787.9 463.7,785.5 464.0,783.1 464.3,785.8 464.6,789.0 464.9,789.2 465.2,789.5 465.5,789.8 465.8,791.3 466.1,792.7 466.4,790.0 466.7,786.4 467.0,787.1 467.3,785.2 467.6,788.6 467.9,784.1 468.2,791.8 468.5,789.7 468.8,790.8 469.1,789.7 469.4,787.8 469.7,782.8 470.0,787.6 470.3,786.6 470.6,788.9 470.9,788.4 471.2,788.1 471.5,792.4 471.8,791.0 472.1,792.1 472.4,791.3 472.7,785.4 473.0,784.2 473.3,785.6 473.6,786.3 473.9,787.1 474.2,788.2 474.5,791.1 474.8,789.9 475.1,791.0 475.4,788.6 475.7,791.1 476.0,788.9 476.3,788.4 476.6,788.0 476.9,790.5 477.2,787.2 477.5,787.8 477.8,786.6 478.1,783.7 478.4,785.7 478.7,787.2 479.0,786.8 479.3,789.5 479.6,791.6 479.9,787.2 480.2,792.9 480.5,790.9 480.8,788.3 481.1,788.6 481.4,786.4 481.7,786.6 482.0,787.4 482.3,791.3 482.6,791.0 482.9,790.2 483.2,789.5 483.5,790.2 483.8,790.2 484.1,789.5 484.4,787.2 484.7,786.2 485.0,785.7 485.3,785.3 485.6,786.7 485.9,789.7 486.2,793.5 486.5,792.5 486.8,792.0 487.1,793.6 487.4,787.7 487.7,786.4 488.0,786.6 488.3,784.1 488.6,792.5 488.9,789.2 489.2,790.8 489.5,792.4 489.8,795.9 490.1,791.5 490.4,785.9 490.7,790.2 491.0,782.8 491.3,785.3 491.6,786.1 491.9,786.3 492.2,788.9 492.5,792.7 492.8,792.6 493.1,794.3 493.4,793.2 493.7,792.4 494.0,789.4 494.3,788.3 494.6,788.2 494.9,787.2 495.2,782.7 495.5,784.9 495.8,785.0 496.1,784.7 496.4,790.8 496.7,790.7 497.0,796.3 497.3,794.5 497.6,792.0 497.9,787.2 498.2,786.4 498.5,788.2 498.8,784.2 499.1,786.8 499.4,786.0 499.7,788.9 500.0,786.6 500.3,790.7 500.6,791.1 500.9,794.2 501.2,791.3 501.5,785.5 501.8,790.8 502.1,791.7 502.4,787.3 502.7,787.4 503.0,786.4 503.3,787.3 503.6,781.5 503.9,786.7 504.2,789.3 504.5,789.5 504.8,786.0 505.1,788.4 505.4,787.7 505.7,787.1 506.0,789.3 506.3,785.3 506.6,785.5 506.9,785.1 507.2,783.1 507.5,784.9 507.8,785.5 508.1,788.0 508.4,787.5 508.7,789.0 509.0,787.5 509.3,789.2 509.6,787.8 509.9,786.0 510.2,786.1 510.5,785.1 510.8,783.9 511.1,785.6 511.4,780.3 511.7,787.1 512.0,788.0 512.3,789.5 512.6,788.3 512.9,789.2 513.2,789.1 513.5,787.0 513.8,788.6 514.1,786.4 514.4,787.5 514.7,785.0 515.0,784.2 515.3,783.0 515.6,783.2 515.9,785.9 516.2,791.5 516.5,792.5 516.8,794.1 517.1,791.2 517.4,790.1 517.7,786.7 518.0,789.0 518.3,785.9 518.6,783.5 518.9,787.8 519.2,785.4 519.5,791.4 519.8,791.0 520.1,792.2 520.4,788.5 520.7,789.0 521.0,785.7 521.3,783.7 521.6,786.9 521.9,783.7 522.2,785.3 522.5,787.6 522.8,789.3 523.1,790.1 523.4,787.7 523.7,790.9 524.0,791.0 524.3,791.0 524.6,788.5 524.9,786.9 525.2,786.0 525.5,783.9 525.8,782.6 526.1,784.6 526.4,785.0 526.7,786.4 527.0,786.1 527.3,786.7 527.6,787.3 527.9,789.6 528.2,790.1 528.5,788.9 528.8,785.5 529.1,783.6 529.4,786.0 529.7,782.9 530.0,783.9 530.3,780.4 530.6,783.5 530.9,787.5 531.2,789.1 531.5,790.4 531.8,793.8 532.1,789.1 532.4,792.2 532.7,788.6 533.0,789.8 533.3,785.9 533.6,781.7 533.9,784.0 534.2,778.9 534.5,785.6 534.8,785.3 535.1,787.2 535.4,791.3 535.7,791.1 536.0,786.4 536.3,786.0 536.6,786.9 536.9,780.5 537.2,779.8 537.5,783.8 537.8,785.1 538.1,789.3 538.4,788.8 538.7,792.7 539.0,788.9 539.3,789.5 539.6,788.0 539.9,784.7 540.2,782.3 540.5,779.9 540.8,782.2 541.1,785.8 541.4,785.8 541.7,788.7 542.0,789.1 542.3,788.9 542.6,784.5 542.9,783.8 543.2,778.3 543.5,781.2 543.8,784.4 544.1,783.7 544.4,789.6 544.7,787.4 545.0,792.0 545.3,786.1 545.6,783.5 545.9,782.5 546.2,781.0 546.5,784.0 546.8,781.0 547.1,787.4 547.4,786.0 547.7,786.7 548.0,792.0 548.3,791.1 548.6,789.5 548.9,789.7 549.2,786.0 549.5,783.7 549.8,784.0 550.1,782.6 550.4,780.5 550.7,783.8 551.0,788.0 551.3,780.7 551.6,784.7 551.9,785.5 552.2,783.8 552.5,787.6 552.8,782.9 553.1,785.4 553.4,788.5 553.7,783.8 554.0,783.7 554.3,783.0 554.6,779.3 554.9,779.1 555.2,779.1 555.5,782.1 555.8,780.7 556.1,784.1 556.4,784.5 556.7,782.9 557.0,783.5 557.3,784.9 557.6,779.9 557.9,780.9 558.2,780.5 558.5,781.1 558.8,782.6 559.1,781.1 559.4,785.1 559.7,784.9 560.0,784.4 560.3,786.6 560.6,787.7 560.9,780.4 561.2,785.0 561.5,784.9 561.8,782.3 562.1,779.0 562.4,778.3 562.7,775.6 563.0,780.8 563.3,781.6 563.6,782.0 563.9,785.2 564.2,787.1 564.5,785.0 564.8,783.1 565.1,785.9 565.4,782.8 565.7,782.1 566.0,778.8 566.3,782.8 566.6,777.5 566.9,781.9 567.2,782.4 567.5,782.9 567.8,784.1 568.1,786.2 568.4,787.4 568.7,787.9 569.0,790.5 569.3,789.7 569.6,782.2 569.9,786.3 570.2,785.7 570.5,779.1 570.8,779.8 571.1,781.2 571.4,781.8 571.7,783.5 572.0,787.1 572.3,788.2 572.6,787.3 572.9,787.4 573.2,786.8 573.5,788.9 573.8,784.1 574.1,782.8 574.4,777.2 574.7,781.1 575.0,780.2 575.3,781.7 575.6,783.1 575.9,785.9 576.2,785.5 576.5,790.2 576.8,789.8 577.1,788.8 577.4,787.4 577.7,783.4 578.0,785.3 578.3,781.1 578.6,779.4 578.9,781.7 579.2,784.7 579.5,783.5 579.8,788.1 580.1,790.5 580.4,789.7 580.7,787.7 581.0,791.2 581.3,787.6 581.6,786.2 581.9,782.1 582.2,780.8 582.5,782.8 582.8,784.2 583.1,783.8 583.4,786.8 583.7,784.1 584.0,789.7 584.3,789.5 584.6,791.1 584.9,789.4 585.2,790.3 585.5,789.6 585.8,789.2 586.1,786.4 586.4,788.4 586.7,783.4 587.0,785.0 587.3,789.3 587.6,784.8 587.9,788.6 588.2,790.0 588.5,786.8 588.8,793.3 589.1,789.9 589.4,787.7 589.7,782.8 590.0,790.1" fill="none" stroke="#b83d1c" stroke-width="0.85" stroke-linejoin="round"/>
<polyline points="119.6,906.2 124.1,923.0 141.5,919.3 179.2,923.9 188.3,919.9 204.8,914.8 214.3,912.8 230.9,910.5 252.1,912.8 282.5,919.9 299.8,912.0 323.9,914.4 340.4,901.8 345.2,899.4 349.5,892.3 353.5,888.4 357.9,873.7 364.1,880.4 369.5,884.2 373.7,888.1 378.5,885.8 412.6,877.8 431.5,879.4 438.9,887.4 446.9,890.0 454.0,880.4 473.9,869.8 481.3,881.7 494.1,874.0 511.2,881.0 518.2,869.1 525.3,853.7 533.6,843.4 546.2,839.9" fill="none" stroke="#76206f" stroke-width="1.2" stroke-linejoin="round"/>
<circle cx="119.6" cy="906.2" r="5.2" fill="#76206f"/>
<circle cx="124.1" cy="923.0" r="5.2" fill="#76206f"/>
<circle cx="141.5" cy="919.3" r="5.2" fill="#76206f"/>
<circle cx="179.2" cy="923.9" r="5.2" fill="#76206f"/>
<circle cx="188.3" cy="919.9" r="5.2" fill="#76206f"/>
<circle cx="204.8" cy="914.8" r="5.2" fill="#76206f"/>
<circle cx="214.3" cy="912.8" r="5.2" fill="#76206f"/>
<circle cx="230.9" cy="910.5" r="5.2" fill="#76206f"/>
<circle cx="252.1" cy="912.8" r="5.2" fill="#76206f"/>
<circle cx="282.5" cy="919.9" r="5.2" fill="#76206f"/>
<circle cx="299.8" cy="912.0" r="5.2" fill="#76206f"/>
<circle cx="323.9" cy="914.4" r="5.2" fill="#76206f"/>
<circle cx="340.4" cy="901.8" r="5.2" fill="#76206f"/>
<circle cx="345.2" cy="899.4" r="5.2" fill="#76206f"/>
<circle cx="349.5" cy="892.3" r="5.2" fill="#76206f"/>
<circle cx="353.5" cy="888.4" r="5.2" fill="#76206f"/>
<circle cx="357.9" cy="873.7" r="5.2" fill="#76206f"/>
<circle cx="364.1" cy="880.4" r="5.2" fill="#76206f"/>
<circle cx="369.5" cy="884.2" r="5.2" fill="#76206f"/>
<circle cx="373.7" cy="888.1" r="5.2" fill="#76206f"/>
<circle cx="378.5" cy="885.8" r="5.2" fill="#76206f"/>
<circle cx="412.6" cy="877.8" r="5.2" fill="#76206f"/>
<circle cx="431.5" cy="879.4" r="5.2" fill="#76206f"/>
<circle cx="438.9" cy="887.4" r="5.2" fill="#76206f"/>
<circle cx="446.9" cy="890.0" r="5.2" fill="#76206f"/>
<circle cx="454.0" cy="880.4" r="5.2" fill="#76206f"/>
<circle cx="473.9" cy="869.8" r="5.2" fill="#76206f"/>
<circle cx="481.3" cy="881.7" r="5.2" fill="#76206f"/>
<circle cx="494.1" cy="874.0" r="5.2" fill="#76206f"/>
<circle cx="511.2" cy="881.0" r="5.2" fill="#76206f"/>
<circle cx="518.2" cy="869.1" r="5.2" fill="#76206f"/>
<circle cx="525.3" cy="853.7" r="5.2" fill="#76206f"/>
<circle cx="533.6" cy="843.4" r="5.2" fill="#76206f"/>
<circle cx="546.2" cy="839.9" r="5.2" fill="#76206f"/>
<circle cx="124.3" cy="907.4" r="0.8" fill="#111"/>
<line x1="101.30" y1="260.50" x2="615.80" y2="260.50" stroke="#1a1718" stroke-width="1.4"/>
<line x1="101.30" y1="259.80" x2="101.30" y2="942.80" stroke="#1a1718" stroke-width="1.5"/>
<line x1="615.80" y1="259.80" x2="615.80" y2="942.80" stroke="#1a1718" stroke-width="1.4"/>
<line x1="100.55" y1="942.00" x2="616.50" y2="942.00" stroke="#1a1718" stroke-width="1.7"/>
<line x1="359.40" y1="261.20" x2="359.40" y2="942.00" stroke="#1a1718" stroke-width="1.8" stroke-dasharray="3.2,1.6"/>
<line x1="102.50" y1="942.00" x2="102.50" y2="950.60" stroke="#1a1718" stroke-width="1.3"/>
<text x="102.78" y="972.00" font-size="14.5" text-anchor="middle" letter-spacing="0.55" fill="#231f20" stroke="#231f20" stroke-width="0.35">0</text>
<line x1="145.26" y1="942.00" x2="145.26" y2="950.60" stroke="#1a1718" stroke-width="1.3"/>
<text x="145.54" y="972.00" font-size="14.5" text-anchor="middle" letter-spacing="0.55" fill="#231f20" stroke="#231f20" stroke-width="0.35">500</text>
<line x1="188.03" y1="942.00" x2="188.03" y2="950.60" stroke="#1a1718" stroke-width="1.3"/>
<text x="188.31" y="972.00" font-size="14.5" text-anchor="middle" letter-spacing="0.55" fill="#231f20" stroke="#231f20" stroke-width="0.35">1000</text>
<line x1="230.79" y1="942.00" x2="230.79" y2="950.60" stroke="#1a1718" stroke-width="1.3"/>
<text x="231.07" y="972.00" font-size="14.5" text-anchor="middle" letter-spacing="0.55" fill="#231f20" stroke="#231f20" stroke-width="0.35">1500</text>
<line x1="273.56" y1="942.00" x2="273.56" y2="950.60" stroke="#1a1718" stroke-width="1.3"/>
<text x="273.83" y="972.00" font-size="14.5" text-anchor="middle" letter-spacing="0.55" fill="#231f20" stroke="#231f20" stroke-width="0.35">2000</text>
<line x1="316.32" y1="942.00" x2="316.32" y2="950.60" stroke="#1a1718" stroke-width="1.3"/>
<text x="316.60" y="972.00" font-size="14.5" text-anchor="middle" letter-spacing="0.55" fill="#231f20" stroke="#231f20" stroke-width="0.35">2500</text>
<line x1="359.09" y1="942.00" x2="359.09" y2="950.60" stroke="#1a1718" stroke-width="1.3"/>
<text x="359.36" y="972.00" font-size="14.5" text-anchor="middle" letter-spacing="0.55" fill="#231f20" stroke="#231f20" stroke-width="0.35">3000</text>
<line x1="401.85" y1="942.00" x2="401.85" y2="950.60" stroke="#1a1718" stroke-width="1.3"/>
<text x="402.13" y="972.00" font-size="14.5" text-anchor="middle" letter-spacing="0.55" fill="#231f20" stroke="#231f20" stroke-width="0.35">3500</text>
<line x1="444.62" y1="942.00" x2="444.62" y2="950.60" stroke="#1a1718" stroke-width="1.3"/>
<text x="444.89" y="972.00" font-size="14.5" text-anchor="middle" letter-spacing="0.55" fill="#231f20" stroke="#231f20" stroke-width="0.35">4000</text>
<line x1="487.38" y1="942.00" x2="487.38" y2="950.60" stroke="#1a1718" stroke-width="1.3"/>
<text x="487.66" y="972.00" font-size="14.5" text-anchor="middle" letter-spacing="0.55" fill="#231f20" stroke="#231f20" stroke-width="0.35">4500</text>
<line x1="530.15" y1="942.00" x2="530.15" y2="950.60" stroke="#1a1718" stroke-width="1.3"/>
<text x="530.42" y="972.00" font-size="14.5" text-anchor="middle" letter-spacing="0.55" fill="#231f20" stroke="#231f20" stroke-width="0.35">5000</text>
<line x1="572.91" y1="942.00" x2="572.91" y2="950.60" stroke="#1a1718" stroke-width="1.3"/>
<text x="573.19" y="972.00" font-size="14.5" text-anchor="middle" letter-spacing="0.55" fill="#231f20" stroke="#231f20" stroke-width="0.35">5500</text>
<line x1="615.68" y1="942.00" x2="615.68" y2="950.60" stroke="#1a1718" stroke-width="1.3"/>
<text x="615.95" y="972.00" font-size="14.5" text-anchor="middle" letter-spacing="0.55" fill="#231f20" stroke="#231f20" stroke-width="0.35">6000</text>
<text x="360.00" y="988.00" font-size="14.3" text-anchor="middle" letter-spacing="0.6" fill="#231f20" stroke="#231f20" stroke-width="0.35">Age (ka)</text>
<text x="365.60" y="930.50" font-size="13.8" text-anchor="start" letter-spacing="0.4" fill="#231f20" stroke="#231f20" stroke-width="0.35">3 Ma</text>
<line x1="92.00" y1="260.30" x2="101.30" y2="260.30" stroke="#1a1718" stroke-width="1.3"/>
<text x="85.35" y="265.40" font-size="14.5" text-anchor="end" letter-spacing="0.55" fill="#231f20" stroke="#231f20" stroke-width="0.35">1</text>
<line x1="92.00" y1="345.30" x2="101.30" y2="345.30" stroke="#1a1718" stroke-width="1.3"/>
<text x="85.35" y="350.40" font-size="14.5" text-anchor="end" letter-spacing="0.55" fill="#231f20" stroke="#231f20" stroke-width="0.35">0</text>
<line x1="92.00" y1="430.90" x2="101.30" y2="430.90" stroke="#1a1718" stroke-width="1.3"/>
<text x="85.35" y="436.00" font-size="14.5" text-anchor="end" letter-spacing="0.55" fill="#231f20" stroke="#231f20" stroke-width="0.35">4</text>
<line x1="92.00" y1="473.90" x2="101.30" y2="473.90" stroke="#1a1718" stroke-width="1.3"/>
<text x="85.35" y="479.00" font-size="14.5" text-anchor="end" letter-spacing="0.55" fill="#231f20" stroke="#231f20" stroke-width="0.35">2</text>
<line x1="92.00" y1="516.40" x2="101.30" y2="516.40" stroke="#1a1718" stroke-width="1.3"/>
<text x="85.35" y="521.50" font-size="14.5" text-anchor="end" letter-spacing="0.55" fill="#231f20" stroke="#231f20" stroke-width="0.35">0</text>
<line x1="92.00" y1="652.90" x2="101.30" y2="652.90" stroke="#1a1718" stroke-width="1.3"/>
<text x="85.35" y="658.00" font-size="14.5" text-anchor="end" letter-spacing="0.55" fill="#231f20" stroke="#231f20" stroke-width="0.35">4</text>
<line x1="92.00" y1="674.20" x2="101.30" y2="674.20" stroke="#1a1718" stroke-width="1.3"/>
<text x="85.35" y="679.30" font-size="14.5" text-anchor="end" letter-spacing="0.55" fill="#231f20" stroke="#231f20" stroke-width="0.35">3</text>
<line x1="92.00" y1="695.30" x2="101.30" y2="695.30" stroke="#1a1718" stroke-width="1.3"/>
<text x="85.35" y="700.40" font-size="14.5" text-anchor="end" letter-spacing="0.55" fill="#231f20" stroke="#231f20" stroke-width="0.35">2</text>
<line x1="92.00" y1="716.70" x2="101.30" y2="716.70" stroke="#1a1718" stroke-width="1.3"/>
<text x="85.35" y="721.80" font-size="14.5" text-anchor="end" letter-spacing="0.55" fill="#231f20" stroke="#231f20" stroke-width="0.35">1</text>
<line x1="92.00" y1="738.20" x2="101.30" y2="738.20" stroke="#1a1718" stroke-width="1.3"/>
<text x="85.35" y="743.30" font-size="14.5" text-anchor="end" letter-spacing="0.55" fill="#231f20" stroke="#231f20" stroke-width="0.35">0</text>
<line x1="92.00" y1="847.30" x2="101.30" y2="847.30" stroke="#1a1718" stroke-width="1.3"/>
<text x="85.35" y="852.40" font-size="14.5" text-anchor="end" letter-spacing="0.55" fill="#231f20" stroke="#231f20" stroke-width="0.35">400</text>
<line x1="92.00" y1="890.40" x2="101.30" y2="890.40" stroke="#1a1718" stroke-width="1.3"/>
<text x="85.35" y="895.50" font-size="14.5" text-anchor="end" letter-spacing="0.55" fill="#231f20" stroke="#231f20" stroke-width="0.35">300</text>
<line x1="92.00" y1="933.30" x2="101.30" y2="933.30" stroke="#1a1718" stroke-width="1.3"/>
<text x="85.35" y="938.40" font-size="14.5" text-anchor="end" letter-spacing="0.55" fill="#231f20" stroke="#231f20" stroke-width="0.35">200</text>
<line x1="615.80" y1="351.50" x2="625.00" y2="351.50" stroke="#1a1718" stroke-width="1.3"/>
<text x="632.80" y="356.60" font-size="14.5" text-anchor="start" letter-spacing="0.55" fill="#231f20" stroke="#231f20" stroke-width="0.35">2</text>
<line x1="615.80" y1="393.90" x2="625.00" y2="393.90" stroke="#1a1718" stroke-width="1.3"/>
<text x="632.80" y="399.00" font-size="14.5" text-anchor="start" letter-spacing="0.55" fill="#231f20" stroke="#231f20" stroke-width="0.35">1</text>
<line x1="615.80" y1="436.30" x2="625.00" y2="436.30" stroke="#1a1718" stroke-width="1.3"/>
<text x="632.80" y="441.40" font-size="14.5" text-anchor="start" letter-spacing="0.55" fill="#231f20" stroke="#231f20" stroke-width="0.35">0</text>
<line x1="615.80" y1="562.40" x2="625.00" y2="562.40" stroke="#1a1718" stroke-width="1.3"/>
<text x="632.80" y="567.50" font-size="14.5" text-anchor="start" letter-spacing="0.55" fill="#231f20" stroke="#231f20" stroke-width="0.35">0.8</text>
<line x1="615.80" y1="604.80" x2="625.00" y2="604.80" stroke="#1a1718" stroke-width="1.3"/>
<text x="632.80" y="609.90" font-size="14.5" text-anchor="start" letter-spacing="0.55" fill="#231f20" stroke="#231f20" stroke-width="0.35">0.4</text>
<line x1="615.80" y1="647.20" x2="625.00" y2="647.20" stroke="#1a1718" stroke-width="1.3"/>
<text x="632.80" y="652.30" font-size="14.5" text-anchor="start" letter-spacing="0.55" fill="#231f20" stroke="#231f20" stroke-width="0.35">0</text>
<line x1="615.80" y1="760.20" x2="625.00" y2="760.20" stroke="#1a1718" stroke-width="1.3"/>
<text x="632.80" y="765.30" font-size="14.5" text-anchor="start" letter-spacing="0.55" fill="#231f20" stroke="#231f20" stroke-width="0.35">2</text>
<line x1="615.80" y1="788.50" x2="625.00" y2="788.50" stroke="#1a1718" stroke-width="1.3"/>
<text x="632.80" y="793.60" font-size="14.5" text-anchor="start" letter-spacing="0.55" fill="#231f20" stroke="#231f20" stroke-width="0.35">3</text>
<line x1="615.80" y1="817.20" x2="625.00" y2="817.20" stroke="#1a1718" stroke-width="1.3"/>
<text x="632.80" y="822.30" font-size="14.5" text-anchor="start" letter-spacing="0.55" fill="#231f20" stroke="#231f20" stroke-width="0.35">4</text>
<line x1="615.80" y1="845.80" x2="625.00" y2="845.80" stroke="#1a1718" stroke-width="1.3"/>
<text x="632.80" y="850.90" font-size="14.5" text-anchor="start" letter-spacing="0.55" fill="#231f20" stroke="#231f20" stroke-width="0.35">5</text>
<text x="53.40" y="303.90" font-size="14.4" text-anchor="middle" letter-spacing="0.6" fill="#231f20" stroke="#231f20" stroke-width="0.35" transform="rotate(-90 53.40 303.90)">Precipitation variability</text>
<text x="69.30" y="303.90" font-size="14.4" text-anchor="middle" letter-spacing="0.6" fill="#231f20" stroke="#231f20" stroke-width="0.35" transform="rotate(-90 69.30 303.90)">from Datong core</text>
<text x="54.30" y="477.70" font-size="14.4" text-anchor="middle" letter-spacing="0.6" fill="#231f20" stroke="#231f20" stroke-width="0.35" transform="rotate(-90 54.30 477.70)">Precipitation variability</text>
<text x="70.10" y="477.70" font-size="14.4" text-anchor="middle" letter-spacing="0.6" fill="#231f20" stroke="#231f20" stroke-width="0.35" transform="rotate(-90 70.10 477.70)" word-spacing="2.3">from Nop Lor core</text>
<text x="53.40" y="695.70" font-size="14.4" text-anchor="middle" letter-spacing="0.6" fill="#231f20" stroke="#231f20" stroke-width="0.35" transform="rotate(-90 53.40 695.70)">precipitation variability</text>
<text x="69.30" y="695.70" font-size="14.4" text-anchor="middle" letter-spacing="0.6" fill="#231f20" stroke="#231f20" stroke-width="0.35" transform="rotate(-90 69.30 695.70)">from Site 1146</text>
<text x="48.6" y="893.3" font-size="14.4" letter-spacing="0.6" text-anchor="middle" fill="#231f20" stroke="#231f20" stroke-width="0.3" transform="rotate(-90 48.6 893.3)">pCO<tspan font-size="7.5" dy="1.5">2</tspan><tspan dy="-1.5"> (ppm)</tspan></text>
<text x="657.20" y="395.00" font-size="14.4" text-anchor="middle" letter-spacing="0.6" fill="#231f20" stroke="#231f20" stroke-width="0.35" transform="rotate(-90 657.20 395.00)">precipitation Variability</text>
<text x="672.90" y="395.00" font-size="14.4" text-anchor="middle" letter-spacing="0.6" fill="#231f20" stroke="#231f20" stroke-width="0.35" transform="rotate(-90 672.90 395.00)">from G3 core</text>
<text x="669.70" y="605.90" font-size="14.4" text-anchor="middle" letter-spacing="0.6" fill="#231f20" stroke="#231f20" stroke-width="0.35" transform="rotate(-90 669.70 605.90)">Precipitation variability</text>
<text x="685.30" y="605.90" font-size="14.4" text-anchor="middle" letter-spacing="0.6" fill="#231f20" stroke="#231f20" stroke-width="0.35" transform="rotate(-90 685.30 605.90)">from Site 659</text>
<text x="660.3" y="803.3" font-size="14.4" letter-spacing="0.6" text-anchor="middle" fill="#231f20" stroke="#231f20" stroke-width="0.3" transform="rotate(-90 660.3 803.3)">Benthic δ<tspan font-size="7.5" dy="-5.5">18</tspan><tspan dy="5.5">O</tspan></text>
<text x="113.10" y="278.40" font-size="14.3" text-anchor="middle" font-weight="bold" fill="#231f20" stroke="#231f20" stroke-width="0.3">b</text>
<text x="600.00" y="369.40" font-size="14.3" text-anchor="middle" font-weight="bold" fill="#231f20" stroke="#231f20" stroke-width="0.3">c</text>
<text x="113.20" y="448.20" font-size="14.3" text-anchor="middle" font-weight="bold" fill="#231f20" stroke="#231f20" stroke-width="0.3">d</text>
<text x="600.60" y="578.20" font-size="14.3" text-anchor="middle" font-weight="bold" fill="#231f20" stroke="#231f20" stroke-width="0.3">e</text>
<text x="111.50" y="668.30" font-size="14.3" text-anchor="middle" font-weight="bold" fill="#231f20" stroke="#231f20" stroke-width="0.3">f</text>
<text x="599.70" y="772.80" font-size="14.3" text-anchor="middle" font-weight="bold" fill="#231f20" stroke="#231f20" stroke-width="0.3">g</text>
<text x="113.20" y="864.70" font-size="14.3" text-anchor="middle" font-weight="bold" fill="#231f20" stroke="#231f20" stroke-width="0.3">h</text>
<text x="137.60" y="284.80" font-size="16.8" text-anchor="start" font-weight="bold" letter-spacing="0.7" fill="#231f20" stroke="#231f20" stroke-width="0.3">East Asia</text>
<text x="137.60" y="392.60" font-size="16.8" text-anchor="start" font-weight="bold" letter-spacing="0.7" fill="#231f20" stroke="#231f20" stroke-width="0.3">East Asia</text>
<text x="138.00" y="479.80" font-size="16.8" text-anchor="start" font-weight="bold" letter-spacing="0.7" fill="#231f20" stroke="#231f20" stroke-width="0.3">Central Asia</text>
<text x="138.80" y="586.90" font-size="16.8" text-anchor="start" font-weight="bold" letter-spacing="0.7" fill="#231f20" stroke="#231f20" stroke-width="0.3">Africa</text>
<text x="138.80" y="700.80" font-size="16.8" text-anchor="start" font-weight="bold" letter-spacing="0.7" fill="#231f20" stroke="#231f20" stroke-width="0.3">Southeast Asia</text>
<defs>
<clipPath id="mcl"><circle cx="189.6" cy="124.4" r="110.4"/></clipPath>
</defs>
<g clip-path="url(#mcl)">
<rect x="77.19999999999999" y="12.0" width="224.8" height="224.8" fill="#97b0cb"/>
<path d="M52.6,112.4 L56.7,109.3 L63.2,107.1 L70.7,109.4 L75.3,109.8 L77.5,114.6 L78.9,117.6 L77.1,122.4 L77.8,125.8 L80.3,127.3 L80.2,131.1 L79.8,135.0 L78.9,137.0 L74.7,139.3 L71.2,142.5 L70.1,144.6 L73.2,144.9 L77.5,143.0 L81.7,140.7 L85.0,141.0 L88.9,144.0 L91.7,147.0 L93.7,149.2 L95.3,148.6 L97.2,147.4 L101.2,148.1 L102.9,148.8 L105.0,148.7 L106.1,149.1 L108.0,151.7 L109.7,153.5 L111.3,152.1 L113.9,153.5 L116.1,156.3 L114.8,158.2 L117.9,160.1 L121.3,162.3 L120.2,158.2 L121.4,156.2 L124.4,155.8 L125.5,155.0 L121.8,149.7 L123.2,150.6 L126.4,152.5 L129.7,159.0 L133.7,160.7 L135.6,161.3 L137.4,159.6 L137.7,155.0 L139.1,151.8 L141.7,149.0 L143.9,146.2 L142.2,146.0 L139.8,145.0 L139.8,143.5 L141.7,142.3 L143.9,139.7 L144.3,137.4 L143.9,134.0 L140.5,135.1 L136.9,135.6 L133.2,137.9 L129.5,135.5 L126.0,137.0 L123.9,136.0 L126.3,133.1 L129.4,132.5 L130.0,129.6 L130.9,126.5 L133.1,121.9 L136.2,120.7 L137.7,120.1 L141.2,121.4 L144.6,124.0 L146.4,126.3 L150.0,127.2 L149.6,129.0 L151.2,130.1 L153.7,129.4 L155.7,127.1 L153.5,127.6 L151.7,126.4 L153.3,124.7 L154.7,124.1 L155.9,123.2 L159.3,121.7 L155.2,121.7 L153.5,120.9 L152.3,119.2 L153.5,117.4 L154.7,114.4 L154.4,111.6 L156.0,109.4 L158.1,108.3 L160.7,106.7 L160.7,104.9 L162.2,103.7 L163.9,102.9 L164.5,100.6 L165.7,98.8 L168.0,97.7 L169.8,97.2 L171.9,96.1 L174.3,95.6 L177.1,95.6 L178.2,94.0 L179.7,91.9 L181.0,89.9 L180.6,88.4 L178.6,87.1 L178.6,85.9 L181.0,84.0 L179.5,82.4 L177.0,83.1 L175.7,81.6 L177.5,79.3 L177.9,77.3 L176.6,75.8 L173.5,74.9 L171.7,74.0 L169.0,74.6 L168.9,71.8 L171.3,68.0 L173.8,65.3 L171.9,66.5 L169.3,68.7 L167.6,71.3 L166.1,73.9 L164.3,76.8 L163.6,79.3 L161.3,82.4 L158.1,84.1 L155.8,84.8 L152.5,85.3 L148.9,85.1 L144.8,85.5 L142.4,84.1 L139.2,83.6 L135.9,83.2 L133.0,84.0 L129.7,85.5 L130.0,83.1 L125.6,81.2 L122.5,78.9 L119.4,76.4 L116.0,74.2 L111.3,73.9 L107.9,73.5 L103.0,73.4 L100.4,75.9 L96.3,76.7 L90.3,76.4 L84.1,76.3 L76.9,78.4 L70.5,81.3 L78.4,81.0 L86.4,79.5 L92.4,79.7 L85.3,82.3 L79.6,84.4 L68.3,88.9 L60.7,88.7 L54.4,93.2 L47.1,104.4 Z M125.9,162.2 L129.7,161.5 L134.9,162.2 L133.1,165.5 L131.0,168.5 L128.9,169.8 L128.4,166.5 Z M154.7,161.8 L152.9,157.5 L154.2,153.6 L155.5,151.0 L157.6,147.9 L160.6,146.1 L163.4,145.6 L163.5,143.4 L164.8,141.8 L167.1,139.0 L168.9,135.4 L168.8,132.0 L170.5,130.4 L173.1,130.4 L176.2,131.2 L178.7,132.1 L181.6,132.4 L183.4,133.3 L184.7,135.0 L185.0,137.0 L186.0,139.0 L184.2,141.1 L183.1,143.4 L182.0,146.6 L180.7,148.8 L178.9,150.9 L177.4,153.9 L177.0,155.6 L174.6,156.5 L171.2,156.3 L167.4,157.3 L164.1,157.1 L161.0,157.9 L157.7,159.8 Z M174.9,167.1 L172.6,165.5 L172.2,163.4 L173.7,161.8 L177.3,162.2 L179.2,163.3 L179.7,165.6 L178.7,166.6 L175.7,167.2 Z M147.2,144.2 L147.8,140.9 L150.1,142.0 L154.6,143.2 L155.6,141.4 L156.6,138.1 L158.7,136.6 L159.9,133.8 L161.5,130.9 L162.3,129.0 L161.5,126.9 L158.6,126.6 L156.8,129.0 L155.9,132.2 L154.7,134.1 L152.8,135.7 L151.5,135.7 L150.2,137.2 L148.4,137.4 L148.0,140.0 L145.8,139.1 L145.7,140.4 Z M156.2,115.5 L155.7,114.1 L159.9,110.5 L162.1,109.8 L163.6,111.7 L163.6,113.9 L161.5,115.8 L158.3,117.8 L156.2,117.9 Z M162.6,107.9 L165.1,106.6 L166.9,108.5 L167.4,110.8 L166.0,112.4 L163.9,110.1 Z M166.5,124.8 L168.0,127.1 L169.9,128.2 L172.7,129.2 L174.7,129.8 L176.8,130.6 L178.4,130.1 L178.6,128.4 L177.3,126.6 L175.4,124.9 L173.7,123.8 L171.3,123.1 L168.7,123.7 L167.0,124.4 Z M164.0,128.9 L165.8,128.6 L166.8,126.8 L167.0,124.8 L165.3,123.6 L163.8,123.7 L164.0,126.6 Z M169.5,124.8 L172.1,125.3 L174.2,124.1 L173.8,122.7 L170.4,123.1 Z M158.7,120.9 L161.0,120.6 L163.0,120.7 L162.4,119.1 L160.7,118.3 L159.4,119.4 Z M159.4,122.6 L160.3,122.1 L162.9,122.1 L162.4,123.7 L161.1,124.0 Z M165.0,117.8 L166.1,118.3 L168.1,117.4 L168.5,115.4 L167.5,113.1 L166.0,114.9 Z M165.2,121.2 L167.3,120.9 L167.2,119.6 L165.4,119.7 Z M145.0,126.7 L146.9,130.8 L145.8,131.7 L142.9,130.1 L144.8,127.9 Z M148.1,279.2 L145.5,264.2 L150.5,252.3 L151.6,248.8 L155.4,243.6 L159.7,239.9 L163.6,236.9 L166.9,235.8 L170.3,234.1 L171.4,229.8 L174.3,227.0 L177.6,225.2 L179.6,221.6 L180.1,221.3 L178.9,219.7 L177.2,218.8 L174.9,218.1 L174.5,214.9 L176.3,211.4 L176.4,208.4 L177.4,205.9 L178.9,205.4 L182.4,206.1 L185.3,206.5 L187.2,206.6 L187.9,204.5 L188.0,201.6 L186.7,199.2 L184.1,197.9 L183.7,196.3 L185.8,196.3 L187.7,196.5 L188.0,194.7 L189.8,195.1 L191.4,193.9 L192.3,192.0 L193.7,191.0 L194.8,189.0 L195.7,187.5 L197.3,186.9 L199.1,185.9 L198.6,183.9 L197.7,181.3 L198.0,180.2 L199.7,179.0 L200.9,178.5 L200.1,177.2 L199.7,176.4 L198.8,176.6 L197.2,178.6 L196.3,178.8 L195.0,178.0 L194.3,176.3 L193.9,173.6 L193.9,171.8 L195.2,169.9 L196.9,167.9 L198.0,165.9 L198.5,163.1 L199.1,161.2 L199.3,159.3 L200.3,157.2 L201.0,155.7 L202.4,154.6 L203.4,153.2 L205.0,153.4 L206.8,153.0 L208.2,153.5 L210.2,153.2 L212.4,152.6 L214.5,153.1 L216.7,153.5 L215.4,151.1 L215.7,149.6 L217.4,149.5 L219.3,146.7 L218.9,144.9 L220.4,143.6 L220.3,142.1 L219.8,141.1 L222.3,139.7 L221.7,138.0 L219.9,137.0 L217.0,134.9 L216.5,133.9 L218.5,133.5 L221.9,134.0 L225.1,135.3 L227.4,136.7 L225.4,134.3 L220.5,132.4 L218.0,132.0 L216.9,129.2 L218.6,129.3 L220.5,128.2 L223.0,128.5 L219.6,128.6 L216.7,125.8 L214.7,124.8 L213.0,122.8 L212.0,121.3 L210.7,119.1 L209.5,119.1 L211.1,117.4 L211.5,116.0 L214.3,113.9 L214.3,112.3 L214.6,110.6 L214.3,108.4 L212.0,108.1 L212.4,105.9 L213.4,104.4 L213.0,103.4 L211.2,102.8 L210.4,101.3 L208.5,101.9 L205.8,100.5 L204.7,98.2 L204.6,96.2 L202.9,94.4 L200.9,94.3 L200.7,92.1 L199.1,91.2 L197.3,91.1 L195.5,91.1 L193.1,91.1 L192.0,89.9 L189.6,88.8 L187.0,86.8 L184.9,85.8 L183.4,85.2 L182.3,84.5 L183.5,83.4 L184.3,81.3 L186.3,82.2 L188.9,83.3 L191.1,81.2 L190.0,77.7 L192.1,76.8 L194.9,74.4 L198.5,74.0 L202.1,74.4 L205.6,72.0 L206.1,70.3 L208.2,67.1 L213.4,64.1 L216.4,62.3 L215.6,66.0 L213.5,71.1 L211.1,73.7 L206.8,74.3 L203.4,77.9 L206.1,79.2 L212.4,77.6 L216.7,79.3 L221.2,82.5 L225.4,81.8 L231.1,80.2 L229.4,76.1 L231.8,72.8 L235.9,68.8 L242.9,67.3 L250.3,67.8 L253.3,69.6 L256.6,68.8 L259.8,69.6 L261.9,68.9 L262.4,66.3 L264.8,62.6 L266.9,61.8 L269.2,63.4 L270.2,65.2 L267.0,67.1 L265.3,69.0 L265.1,71.6 L263.6,74.1 L264.1,77.5 L267.3,76.8 L267.1,80.5 L270.2,81.9 L272.0,78.7 L270.3,75.9 L269.2,73.7 L272.1,74.8 L276.1,75.4 L278.5,71.0 L280.5,68.0 L283.1,66.0 L288.0,65.3 L293.3,65.3 L299.1,66.2 L305.7,71.5 L311.8,79.9 L328.2,76.7 L344.4,82.9 L292.6,247.2 L299.0,233.8 Z M196.0,145.9 L194.7,144.7 L193.4,143.2 L192.8,141.3 L194.2,140.5 L195.2,141.0 L195.0,139.3 L197.0,139.0 L196.5,141.5 L197.3,142.9 L196.9,144.4 L196.2,145.9 Z M217.3,142.0 L214.5,143.5 L212.9,142.3 L212.0,140.7 L210.4,138.5 L210.1,135.8 L209.9,132.6 L211.1,132.9 L212.0,135.8 L213.0,139.3 L214.1,140.6 L216.7,141.3 L218.0,140.8 Z M209.4,121.3 L207.1,122.6 L204.6,123.1 L204.0,122.4 L205.2,121.6 L207.0,120.1 L208.6,119.0 L209.6,120.2 Z M201.8,135.8 L201.1,134.1 L201.2,131.7 L203.1,131.0 L204.4,132.2 L203.4,134.1 Z M207.9,104.8 L206.0,106.5 L204.5,106.7 L203.2,104.3 L202.2,102.6 L204.1,102.9 L206.5,103.5 Z M189.3,92.4 L188.5,93.3 L188.2,92.8 L190.2,92.3 Z M244.9,58.5 L242.3,61.0 L237.8,62.9 L236.3,58.2 L236.2,56.4 L239.6,56.8 L243.2,58.2 Z M266.8,56.8 L271.8,54.2 L269.7,53.5 L265.3,55.1 L262.8,52.5 L259.1,50.4 L255.5,49.1 L253.1,47.9 L251.4,48.7 L248.9,51.2 L245.8,52.7 L244.4,55.5 L244.0,57.7 L246.2,56.9 L247.5,55.4 L250.3,53.8 L254.5,54.8 L256.8,54.8 L259.2,54.8 L261.5,57.3 L265.6,58.3 L266.6,57.9 Z M237.1,63.6 L235.3,65.9 L233.5,68.0 L230.0,70.2 L227.0,75.6 L228.9,74.7 L231.2,71.1 L234.4,67.5 L237.2,63.7 Z M182.7,193.4 L185.4,192.7 L188.4,192.4 L191.2,191.8 L191.1,190.5 L191.5,188.7 L189.9,187.9 L189.1,185.5 L187.8,183.1 L187.0,181.8 L187.9,180.0 L186.2,179.6 L186.8,178.0 L184.9,178.1 L184.0,179.8 L183.8,181.6 L183.9,183.4 L184.3,184.8 L185.9,185.4 L186.3,187.3 L184.5,187.5 L185.0,189.1 L183.6,190.5 L185.5,191.0 L184.6,191.5 L183.6,192.7 Z M178.2,190.1 L178.3,188.3 L178.6,186.4 L180.4,185.2 L182.0,183.6 L183.7,185.3 L183.0,187.4 L182.3,189.4 L179.8,190.2 Z" fill="#efede6"/>
<path d="M180.1,221.7 L180.6,220.9 L182.2,220.0 L186.1,220.2 L188.5,218.4 L189.9,215.9 L189.1,214.5 L191.0,212.0 L192.3,211.0 L193.8,209.9 L194.1,208.3 L194.6,206.7 L196.3,206.2 L198.3,206.8 L199.9,205.8 L201.6,204.4 L202.4,203.7 L204.2,204.6 L205.9,206.8 L209.8,208.6 L211.6,209.5 L213.6,210.2 L215.1,212.1 L214.8,214.1 L215.5,214.1 L216.4,211.7 L215.3,210.5 L215.5,208.6 L217.6,208.5 L213.3,206.9 L209.8,205.6 L208.7,204.0 L206.7,202.7 L206.3,200.5 L208.0,199.9 L208.7,201.4 L211.0,202.6 L213.9,203.8 L217.6,204.7 L218.6,206.9 L220.6,209.0 L223.2,210.6 L225.0,213.3 L226.4,213.3 L226.7,211.0 L227.0,209.3 L225.0,207.9 L223.8,206.2 L225.1,204.8 L227.2,203.1 L228.9,203.2 L229.4,205.2 L230.6,207.4 L233.3,209.0 L235.0,208.8 L237.6,208.6 L238.4,206.9 L241.0,205.1 L244.1,203.7 L245.8,201.5 L246.8,203.7 L248.5,205.8 L249.2,209.2 L250.2,212.6 L247.1,215.4 L243.1,217.0 L241.2,219.4 L235.0,220.8 L230.3,220.3 L227.1,222.0 L226.2,224.9 L226.2,227.7 L223.5,227.5 L219.1,227.2 L216.8,225.8 L213.0,225.9 L209.8,225.7 L208.0,223.6 L208.4,221.0 L208.0,218.3 L206.0,217.6 L203.7,218.6 L201.2,219.1 L198.0,219.9 L194.6,219.9 L191.8,221.5 L189.6,222.4 L186.1,223.6 L182.7,223.2 Z M231.7,200.1 L229.8,200.0 L228.5,198.5 L228.9,196.4 L228.1,194.7 L228.6,192.8 L228.5,189.9 L229.9,188.9 L231.6,190.3 L233.1,189.8 L233.9,191.4 L235.3,189.7 L236.3,187.5 L236.9,183.9 L236.9,182.4 L236.0,184.9 L237.2,186.4 L238.9,187.5 L242.1,187.4 L245.2,187.2 L246.7,188.7 L245.6,191.1 L243.7,192.4 L239.6,193.2 L237.5,195.4 L235.9,195.7 L235.1,197.2 L233.6,199.1 Z M248.5,171.2 L246.7,174.0 L247.2,177.2 L248.2,179.0 L250.8,180.5 L254.3,181.1 L257.1,181.6 L258.3,184.3 L260.7,186.2 L263.4,185.2 L266.5,181.3 L265.8,179.8 L263.9,178.8 L260.7,178.0 L258.9,177.0 L257.4,176.4 L256.4,175.4 L253.4,175.7 L251.2,175.6 L251.1,173.3 L250.5,170.3 L248.9,170.7 Z M201.2,185.4 L202.3,184.2 L203.9,184.0 L205.0,184.1 L206.9,182.8 L208.8,181.9 L210.2,182.3 L210.8,179.4 L209.9,177.2 L210.5,176.0 L212.2,176.3 L212.3,174.6 L211.1,173.8 L210.9,172.1 L213.2,170.8 L215.0,168.8 L212.8,169.0 L209.4,171.0 L207.7,170.4 L206.6,167.9 L206.8,166.0 L207.5,163.7 L207.0,161.4 L205.4,162.6 L205.2,164.7 L204.6,166.8 L203.7,168.9 L204.3,171.6 L206.4,173.7 L205.2,176.0 L205.7,178.6 L205.7,180.5 L204.2,181.9 L202.4,181.4 L202.1,180.5 L201.0,178.9 L199.8,178.8 L199.8,180.4 L199.7,182.8 L200.1,184.1 Z M217.7,157.3 L216.4,156.7 L215.3,159.1 L212.6,157.9 L210.8,157.4 L210.3,156.9 L212.0,157.0 L213.2,156.8 L214.7,155.9 L214.8,153.9 L214.2,152.7 L214.8,151.0 L217.3,152.9 L217.0,154.3 L216.7,155.1 Z M248.9,217.4 L252.9,220.1 L259.4,224.1 L267.1,227.3 L272.9,229.1 L275.6,226.9 L266.0,222.1 L258.4,219.1 L255.4,218.4 L253.3,215.8 L254.6,219.0 Z M271.5,198.2 L272.4,198.9 L274.7,199.7 L279.3,199.6 L283.5,201.8 L287.3,200.8 L289.0,196.6 L289.9,191.3 L287.2,189.0 L284.3,193.2 L279.4,195.8 L274.9,196.0 L272.5,196.5 Z" fill="#97b0cb"/>
<path d="M209.7,214.9 L214.5,213.7 L214.6,216.9 L210.0,216.4 Z M203.1,214.5 L202.0,210.6 L203.2,206.3 L203.5,207.3 L204.4,210.2 L204.8,214.2 Z M229.0,215.0 L233.2,212.6 L233.2,213.8 L229.2,215.1 Z M243.2,208.9 L242.5,208.1 L245.2,205.3 L245.3,207.0 Z" fill="#efede6"/>
<path d="M214.7,226.6 L213.7,226.7 L212.7,226.8 L211.7,226.9 L210.7,226.9 L209.7,226.7 L208.7,226.5 L208.2,226.4 L207.2,226.2 L206.5,226.0 L205.7,225.8 L204.7,225.5 L204.2,225.4 L203.2,225.1 L202.7,225.0 L201.7,224.7 L201.1,224.5 L200.2,224.2 L199.5,224.0 L198.7,223.7 L198.0,223.5 L197.2,223.2 L196.6,223.0 L195.7,222.7 L195.2,222.4 L194.5,222.0 L193.8,221.5 L193.2,221.1 L192.7,220.7 L192.2,220.3 L191.7,219.9 L191.2,219.5 L190.6,219.0 L190.0,218.5 L189.4,218.0 L188.9,217.5 L188.3,217.0 L187.8,216.5 L187.5,216.0 L187.4,215.0 L187.7,214.0 L188.1,213.5 L188.7,213.1 L189.2,212.9 L190.2,212.8 L191.2,212.7 L192.2,212.5 L192.7,212.5 L193.7,212.3 L194.7,212.1 L195.4,212.0 L196.2,211.8 L197.2,211.7 L198.2,211.7 L199.2,211.7 L200.2,211.7 L201.2,211.6 L202.2,211.6 L203.2,211.6 L204.2,211.5 L204.8,211.5 L205.7,211.4 L206.7,211.4 L207.7,211.3 L208.7,211.2 L209.7,211.1 L210.2,211.0 L211.2,210.8 L212.2,210.6 L212.7,210.5 L213.7,210.2 L214.7,210.0 L215.2,209.9 L216.2,209.6 L216.7,209.5 L217.7,209.2 L218.4,209.0 L219.2,208.8 L220.0,208.5 L220.7,208.3 L221.4,208.0 L222.2,207.5 L222.7,207.2 L223.2,206.8 L223.7,206.5 L224.5,206.0 L225.2,205.5 L225.7,205.2 L226.2,204.8 L226.7,204.5 L227.3,204.0 L227.8,203.5 L228.2,202.8 L228.6,202.0 L228.9,201.5 L229.2,200.9 L229.7,200.0 L229.9,199.5 L230.2,198.9 L230.6,198.0 L230.8,197.5 L231.2,196.5 L231.3,196.0 L231.6,195.0 L231.7,194.5 L232.0,193.5 L232.2,192.5 L232.3,192.0 L232.5,191.0 L232.7,190.0 L232.7,189.5 L232.9,188.5 L233.1,187.5 L233.3,187.0 L233.6,186.0 L233.8,185.5 L234.2,184.7 L234.6,184.0 L234.8,183.5 L235.2,182.7 L235.6,182.0 L235.8,181.5 L236.2,180.6 L236.5,180.0 L236.7,179.4 L237.1,178.5 L237.3,178.0 L237.7,177.0 L237.8,176.5 L238.2,175.5 L238.4,175.0 L238.7,174.2 L239.0,173.5 L239.2,173.0 L239.7,172.0 L240.0,171.5 L240.2,171.0 L240.7,170.0 L240.9,169.5 L241.2,168.9 L241.6,168.0 L241.8,167.5 L242.2,166.8 L242.6,166.0 L242.9,165.5 L243.2,164.9 L243.7,164.0 L243.9,163.5 L244.2,163.0 L244.7,162.0 L244.9,161.5 L245.2,160.9 L245.6,160.0 L245.9,159.5 L246.2,158.9 L246.7,158.1 L247.1,157.5 L247.4,157.0 L247.8,156.5 L248.2,156.0 L248.7,155.4 L249.2,154.8 L249.7,154.3 L250.2,153.7 L250.7,153.1 L251.2,152.5 L251.6,152.0 L252.0,151.5 L252.4,151.0 L252.8,150.5 L253.2,149.9 L253.7,149.2 L254.2,148.5 L254.6,148.0 L254.9,147.5 L255.3,147.0 L255.7,146.4 L256.2,145.8 L256.7,145.3 L257.2,144.8 L257.7,144.3 L258.2,143.9 L258.7,143.5 L259.4,143.0 L260.1,142.5 L260.7,142.2 L261.2,141.9 L262.0,141.5 L262.7,141.1 L263.2,140.8 L263.7,140.5 L264.5,140.0 L265.0,139.5 L265.2,139.0 L265.6,138.0 L265.8,137.5 L266.2,136.5 L266.3,136.0 L266.6,135.0 L266.7,134.5 L266.9,133.5 L267.1,132.5 L267.2,131.6 L267.3,131.0 L267.4,130.0 L267.5,129.0 L267.6,128.0 L267.7,127.3 L267.8,126.5 L267.9,125.5 L267.9,124.5 L268.0,123.5 L268.1,122.5 L268.1,121.5 L268.1,120.5 L268.1,119.5 L268.1,118.5 L268.1,117.5 L268.1,116.5 L268.0,115.5 L268.0,114.5 L267.8,113.5 L267.7,112.6 L267.6,112.0 L267.4,111.0 L267.2,110.0 L267.1,109.5 L266.9,108.5 L266.7,107.5 L266.6,107.0 L266.3,106.0 L266.2,105.4 L266.0,104.5 L265.7,103.6 L265.5,103.0 L265.2,102.0 L265.1,101.5 L264.7,100.5 L264.6,100.0 L264.2,99.0 L264.0,98.5 L263.7,97.7 L263.4,97.0 L263.2,96.4 L262.8,95.5 L262.6,95.0 L262.2,94.0 L262.0,93.5 L261.7,92.9 L261.3,92.0 L261.1,91.5 L260.7,90.7 L260.3,90.0 L260.1,89.5 L259.7,88.8 L259.3,88.0 L259.0,87.5 L258.7,86.9 L258.2,86.0 L257.9,85.5 L257.6,85.0 L257.2,84.5 L256.7,83.8 L256.2,83.1 L255.8,82.5 L255.4,82.0 L255.0,81.5 L254.7,81.0 L254.2,80.4 L253.7,79.8 L253.2,79.2 L252.7,78.6 L252.2,78.0 L251.7,77.5 L251.2,77.0 L250.7,76.6 L250.2,76.1 L249.7,75.7 L249.2,75.3 L248.7,74.9 L248.2,74.5 L247.6,74.0 L246.9,73.5 L246.3,73.0 L245.7,72.6 L245.2,72.2 L244.7,71.8 L244.2,71.5 L243.6,71.0 L242.9,70.5 L242.2,70.0 L241.7,69.7 L241.2,69.3 L240.7,69.0 L239.9,68.5 L239.2,68.1 L238.7,67.7 L238.2,67.4 L237.5,67.0 L236.7,66.6 L236.2,66.3 L235.5,66.0 L234.7,65.6 L234.2,65.4 L233.3,65.0 L232.7,64.7 L232.1,64.5 L231.2,64.1 L230.7,63.9 L229.7,63.5 L229.2,63.4 L228.2,63.0 L227.7,62.8 L226.7,62.5 L226.2,62.4 L225.2,62.1 L224.7,62.0 L223.7,61.7 L222.7,61.5 L222.2,61.4 L221.2,61.2 L220.3,61.0 L219.7,60.9 L218.7,60.7 L217.7,60.5 L217.2,60.4 L216.2,60.3 L215.2,60.1 L214.2,60.0 L213.7,59.9 L212.7,59.8 L211.7,59.7 L210.7,59.7 L209.7,59.6 L208.7,59.6 L207.7,59.6 L206.7,59.6 L205.7,59.6 L204.7,59.7 L203.7,59.8 L202.7,59.9 L201.7,60.0 L201.2,60.0 L200.2,60.2 L199.2,60.3 L198.2,60.4 L197.6,60.5 L196.7,60.6 L195.7,60.8 L194.8,61.0 L194.2,61.1 L193.2,61.3 L192.5,61.5 L191.7,61.7 L190.7,61.9 L189.7,62.0 L189.2,62.0 L188.2,62.0 L187.2,62.1 L186.2,62.1 L185.2,62.2 L184.2,62.3 L183.2,62.4 L182.4,62.5 L181.7,62.6 L180.7,62.7 L179.7,62.7 L178.7,62.7 L177.7,62.6 L176.7,62.6 L175.7,62.6 L174.7,62.6 L173.7,62.6 L172.7,62.7 L171.7,62.6 L171.1,62.5 L170.2,62.0 L169.7,61.5 L169.4,61.0 L169.1,60.5 L169.0,59.5 L169.1,58.5 L169.3,58.0 L169.7,57.4 L170.2,56.9 L170.7,56.4 L171.2,56.0 L171.7,55.5 L172.3,55.0 L172.9,54.5 L173.5,54.0 L174.1,53.5 L174.7,53.1 L175.2,52.7 L175.7,52.3 L176.2,51.9 L176.8,51.5 L177.7,51.0 L178.2,50.8 L178.8,50.5 L179.7,50.0 L180.2,49.8 L180.9,49.5 L181.7,49.1 L182.2,48.9 L183.2,48.5 L183.7,48.3 L184.4,48.0 L185.2,47.7 L185.7,47.5 L186.7,47.0 L187.2,46.6 L187.7,46.3 L188.2,46.0 L189.0,45.5 L189.7,45.1 L190.2,44.8 L190.7,44.5 L191.6,44.0 L192.2,43.7 L192.7,43.4 L193.5,43.0 L194.2,42.7 L194.7,42.4 L195.4,42.0 L196.2,41.5 L196.7,41.1 L197.2,40.8 L197.7,40.5 L198.5,40.0 L199.2,39.6 L199.7,39.3 L200.2,39.0 L201.0,38.5 L201.7,38.1 L202.2,37.9 L202.8,37.5 L203.7,37.1 L204.2,36.8 L205.1,36.5 L205.7,36.3 L206.7,36.0 L207.2,35.9 L208.2,35.6 L208.7,35.5 L209.7,35.2 L210.6,35.0 L211.2,34.8 L212.2,34.6 L212.7,34.5 L213.7,34.3 L214.7,34.1 L215.3,34.0 L216.2,33.8 L217.2,33.7 L218.2,33.5 L218.7,33.4 L219.7,33.3 L220.7,33.3 L221.7,33.3 L222.7,33.4 L223.5,33.5 L224.2,33.6 L225.2,33.7 L226.2,33.9 L226.8,34.0 L227.7,34.2 L228.7,34.4 L229.5,34.5 L230.2,34.6 L231.2,34.9 L231.8,35.0 L232.7,35.2 L233.7,35.4 L234.2,35.6 L235.2,35.8 L235.9,36.0 L236.7,36.2 L237.5,36.5 L238.2,36.8 L238.7,37.0 L239.7,37.5 L240.2,37.7 L240.8,38.0 L241.7,38.4 L242.2,38.7 L242.8,39.0 L243.7,39.5 L244.2,39.7 L244.7,40.0 L245.6,40.5 L246.2,40.9 L246.7,41.1 L247.3,41.5 L248.2,42.0 L248.7,42.3 L249.2,42.6 L249.8,43.0 L250.6,43.5 L251.2,43.9 L251.7,44.2 L252.2,44.6 L252.8,45.0 L253.5,45.5 L254.1,46.0 L254.7,46.4 L255.2,46.8 L255.7,47.2 L256.2,47.6 L256.7,48.0 L257.3,48.5 L258.0,49.0 L258.6,49.5 L259.2,50.0 L259.7,50.5 L260.2,50.9 L260.7,51.3 L261.2,51.7 L261.7,52.0 L262.3,52.5 L263.0,53.0 L263.7,53.5 L264.2,53.9 L264.7,54.3 L265.2,54.7 L265.7,55.1 L266.2,55.5 L266.8,56.0 L267.4,56.5 L268.0,57.0 L268.6,57.5 L269.2,58.0 L269.7,58.4 L270.2,58.9 L270.7,59.4 L271.2,59.9 L271.7,60.4 L272.2,60.9 L272.7,61.4 L273.2,61.9 L273.7,62.5 L274.2,63.0 L274.7,63.5 L275.1,64.0 L275.6,64.5 L276.0,65.0 L276.4,65.5 L276.9,66.0 L277.3,66.5 L277.7,67.0 L278.2,67.6 L278.7,68.2 L279.2,68.9 L279.7,69.5 L280.1,70.0 L280.5,70.5 L280.8,71.0 L281.2,71.7 L281.6,72.5 L281.9,73.0 L282.2,73.7 L282.5,74.5 L282.8,75.0 L283.2,76.0 L283.4,76.5 L283.7,77.2 L284.0,78.0 L284.2,78.5 L284.6,79.5 L284.8,80.0 L285.2,81.0 L285.3,81.5 L285.7,82.5 L285.9,83.0 L286.2,84.0 L286.4,84.5 L286.6,85.5 L286.8,86.0 L287.0,87.0 L287.2,87.8 L287.4,88.5 L287.6,89.5 L287.7,90.0 L287.9,91.0 L288.1,92.0 L288.2,92.6 L288.4,93.5 L288.5,94.5 L288.7,95.5 L288.8,96.0 L288.9,97.0 L289.0,98.0 L289.2,99.0 L289.2,99.5 L289.4,100.5 L289.6,101.5 L289.7,102.3 L289.8,103.0 L289.9,104.0 L290.1,105.0 L290.2,106.0 L290.2,106.5 L290.3,107.5 L290.4,108.5 L290.5,109.5 L290.6,110.5 L290.6,111.5 L290.7,112.4 L290.8,113.0 L290.9,114.0 L291.0,115.0 L291.1,116.0 L291.2,117.0 L291.2,117.5 L291.3,118.5 L291.4,119.5 L291.4,120.5 L291.5,121.5 L291.5,122.5 L291.5,123.5 L291.5,124.5 L291.5,125.5 L291.5,126.5 L291.5,127.5 L291.5,128.5 L291.5,129.5 L291.4,130.5 L291.3,131.5 L291.3,132.5 L291.2,133.4 L291.1,134.0 L291.0,135.0 L290.9,136.0 L290.8,137.0 L290.7,137.9 L290.6,138.5 L290.5,139.5 L290.3,140.5 L290.2,141.2 L290.1,142.0 L289.9,143.0 L289.7,143.8 L289.6,144.5 L289.3,145.5 L289.2,146.2 L289.0,147.0 L288.8,148.0 L288.6,148.5 L288.4,149.5 L288.2,150.2 L288.0,151.0 L287.7,152.0 L287.5,152.5 L287.2,153.5 L287.0,154.0 L286.7,154.7 L286.3,155.5 L286.1,156.0 L285.7,156.8 L285.4,157.5 L285.1,158.0 L284.7,158.9 L284.4,159.5 L284.1,160.0 L283.7,160.8 L283.3,161.5 L283.1,162.0 L282.7,162.6 L282.2,163.5 L281.9,164.0 L281.6,164.5 L281.2,165.2 L280.7,166.0 L280.4,166.5 L280.1,167.0 L279.7,167.7 L279.2,168.4 L278.8,169.0 L278.5,169.5 L278.2,170.0 L277.7,170.7 L277.2,171.4 L276.8,172.0 L276.4,172.5 L276.0,173.0 L275.7,173.5 L275.2,174.1 L274.7,174.8 L274.2,175.4 L273.9,176.0 L273.6,176.5 L273.2,177.3 L272.8,178.0 L272.6,178.5 L272.2,179.2 L271.7,180.0 L271.4,180.5 L271.2,181.0 L270.7,181.8 L270.3,182.5 L270.0,183.0 L269.7,183.6 L269.2,184.5 L268.9,185.0 L268.6,185.5 L268.2,186.2 L267.8,187.0 L267.6,187.5 L267.2,188.3 L266.9,189.0 L266.6,189.5 L266.2,190.4 L265.9,191.0 L265.7,191.5 L265.2,192.4 L264.9,193.0 L264.6,193.5 L264.2,194.3 L263.8,195.0 L263.5,195.5 L263.2,196.0 L262.7,196.9 L262.3,197.5 L262.0,198.0 L261.7,198.6 L261.2,199.4 L260.7,200.0 L260.3,200.5 L259.9,201.0 L259.5,201.5 L259.0,202.0 L258.6,202.5 L258.1,203.0 L257.7,203.5 L257.2,204.0 L256.7,204.5 L256.2,205.1 L255.7,205.6 L255.2,206.1 L254.7,206.6 L254.2,207.1 L253.7,207.6 L253.2,208.1 L252.7,208.6 L252.2,209.0 L251.7,209.5 L251.1,210.0 L250.6,210.5 L250.0,211.0 L249.5,211.5 L248.9,212.0 L248.3,212.5 L247.7,213.0 L247.2,213.4 L246.7,213.8 L246.2,214.2 L245.7,214.6 L245.2,215.0 L244.6,215.5 L243.9,216.0 L243.3,216.5 L242.7,216.9 L242.2,217.3 L241.7,217.6 L241.2,218.0 L240.5,218.5 L239.7,218.9 L239.2,219.2 L238.5,219.5 L237.7,219.9 L237.2,220.1 L236.3,220.5 L235.7,220.8 L235.2,221.0 L234.2,221.4 L233.7,221.6 L232.7,222.0 L232.2,222.2 L231.4,222.5 L230.7,222.8 L230.1,223.0 L229.2,223.3 L228.7,223.5 L227.7,223.9 L227.2,224.0 L226.2,224.3 L225.3,224.5 L224.7,224.7 L223.7,224.9 L223.2,225.0 L222.2,225.2 L221.2,225.4 L220.7,225.5 L219.7,225.7 L218.7,225.9 L218.2,226.0 L217.2,226.2 L216.2,226.3 L215.2,226.5 L214.7,226.6Z M169.7,187.7 L168.7,187.9 L167.7,188.0 L166.7,187.9 L165.7,187.8 L164.7,187.8 L163.7,187.7 L162.7,187.6 L161.7,187.6 L160.8,187.5 L160.2,187.5 L159.2,187.3 L158.2,187.0 L157.7,186.9 L156.7,186.7 L156.0,186.5 L155.2,186.3 L154.2,186.1 L153.7,185.9 L152.7,185.7 L151.8,185.5 L151.2,185.4 L150.2,185.1 L149.7,185.0 L148.7,184.7 L148.2,184.5 L147.2,184.2 L146.6,184.0 L145.7,183.7 L145.1,183.5 L144.2,183.2 L143.6,183.0 L142.7,182.7 L142.0,182.5 L141.2,182.2 L140.5,182.0 L139.7,181.7 L139.1,181.5 L138.2,181.1 L137.7,180.8 L137.0,180.5 L136.2,180.1 L135.7,179.9 L134.8,179.5 L134.2,179.2 L133.7,179.0 L132.7,178.5 L132.2,178.3 L131.6,178.0 L130.7,177.6 L130.2,177.3 L129.6,177.0 L128.8,176.5 L128.2,176.1 L127.7,175.8 L127.2,175.5 L126.4,175.0 L125.7,174.6 L125.2,174.3 L124.7,173.9 L124.0,173.5 L123.2,173.0 L122.7,172.7 L122.2,172.4 L121.6,172.0 L120.8,171.5 L120.2,171.0 L119.7,170.5 L119.2,170.0 L118.7,169.5 L118.3,169.0 L117.8,168.5 L117.4,168.0 L116.9,167.5 L116.5,167.0 L116.0,166.5 L115.6,166.0 L115.1,165.5 L114.7,165.0 L114.2,164.5 L113.7,163.9 L113.2,163.4 L112.7,162.8 L112.2,162.3 L111.7,161.6 L111.3,161.0 L111.1,160.5 L110.7,159.8 L110.3,159.0 L110.1,158.5 L109.7,157.8 L109.3,157.0 L109.1,156.5 L108.7,155.8 L108.3,155.0 L108.1,154.5 L107.7,153.8 L107.3,153.0 L107.1,152.5 L106.7,151.8 L106.3,151.0 L106.1,150.5 L105.8,149.5 L105.7,149.0 L105.4,148.0 L105.2,147.3 L105.0,146.5 L104.7,145.5 L104.6,145.0 L104.3,144.0 L104.2,143.5 L103.9,142.5 L103.7,141.9 L103.5,141.0 L103.2,140.0 L103.1,139.5 L103.0,138.5 L102.9,137.5 L102.7,136.5 L102.7,136.0 L102.5,135.0 L102.4,134.0 L102.3,133.0 L102.2,132.3 L102.1,131.5 L102.0,130.5 L102.0,129.5 L102.1,128.5 L102.1,127.5 L102.2,126.5 L102.2,126.0 L102.3,125.0 L102.4,124.0 L102.4,123.0 L102.5,122.0 L102.5,121.0 L102.7,120.0 L102.8,119.5 L102.9,118.5 L103.0,117.5 L103.2,116.5 L103.2,116.0 L103.4,115.0 L103.5,114.0 L103.7,113.0 L103.8,112.5 L104.1,111.5 L104.3,111.0 L104.6,110.0 L104.8,109.5 L105.2,108.5 L105.3,108.0 L105.7,107.0 L105.9,106.5 L106.2,105.5 L106.4,105.0 L106.7,104.1 L106.9,103.5 L107.2,102.7 L107.5,102.0 L107.7,101.5 L108.1,100.5 L108.3,100.0 L108.7,99.0 L108.9,98.5 L109.2,97.8 L109.5,97.0 L109.7,96.5 L110.2,95.5 L110.5,95.0 L110.9,94.5 L111.5,94.0 L112.2,93.6 L112.7,93.3 L113.7,93.1 L114.7,93.0 L115.7,93.2 L116.7,93.5 L117.2,93.8 L117.7,94.2 L118.2,94.6 L118.7,95.3 L119.1,96.0 L119.3,96.5 L119.7,97.5 L119.9,98.0 L120.2,98.8 L120.5,99.5 L120.7,100.0 L121.1,101.0 L121.3,101.5 L121.7,102.5 L121.9,103.0 L122.2,103.8 L122.4,104.5 L122.6,105.5 L122.7,106.0 L122.9,107.0 L123.2,108.0 L123.3,108.5 L123.5,109.5 L123.7,110.3 L123.9,111.0 L124.1,112.0 L124.2,112.5 L124.4,113.5 L124.5,114.5 L124.5,115.5 L124.5,116.5 L124.5,117.5 L124.5,118.5 L124.5,119.5 L124.5,120.5 L124.5,121.5 L124.5,122.5 L124.4,123.5 L124.2,124.5 L124.1,125.0 L123.9,126.0 L123.7,127.0 L123.7,127.5 L123.5,128.5 L123.3,129.5 L123.2,130.0 L123.0,131.0 L123.0,132.0 L123.0,133.0 L123.0,134.0 L123.0,135.0 L123.0,136.0 L123.1,137.0 L123.2,137.5 L123.5,138.5 L123.7,139.2 L123.9,140.0 L124.2,141.0 L124.3,141.5 L124.6,142.5 L124.8,143.0 L125.2,144.0 L125.4,144.5 L125.7,145.0 L126.2,146.0 L126.4,146.5 L126.7,147.0 L127.2,148.0 L127.4,148.5 L127.7,149.0 L128.2,149.9 L128.7,150.4 L129.2,150.8 L129.7,151.3 L130.2,151.7 L130.7,152.2 L131.2,152.6 L131.7,153.1 L132.2,153.5 L132.7,154.0 L133.3,154.5 L134.0,155.0 L134.7,155.4 L135.2,155.7 L135.7,156.1 L136.4,156.5 L137.2,157.0 L137.7,157.3 L138.2,157.6 L138.8,158.0 L139.6,158.5 L140.2,158.9 L140.7,159.2 L141.2,159.5 L141.9,160.0 L142.7,160.5 L143.2,160.9 L143.7,161.2 L144.2,161.5 L144.9,162.0 L145.7,162.5 L146.2,162.9 L146.7,163.2 L147.2,163.5 L147.9,164.0 L148.7,164.5 L149.2,164.8 L149.7,165.0 L150.5,165.5 L151.2,165.9 L151.7,166.2 L152.2,166.5 L153.1,167.0 L153.7,167.3 L154.2,167.6 L154.9,168.0 L155.7,168.5 L156.2,168.8 L156.7,169.1 L157.3,169.5 L158.1,170.0 L158.7,170.4 L159.2,170.8 L159.7,171.1 L160.3,171.5 L161.0,172.0 L161.7,172.5 L162.2,172.8 L162.7,173.2 L163.2,173.5 L163.9,174.0 L164.6,174.5 L165.2,174.9 L165.7,175.3 L166.2,175.6 L166.8,176.0 L167.5,176.5 L168.2,177.0 L168.7,177.4 L169.2,177.7 L169.7,178.1 L170.3,178.5 L171.0,179.0 L171.6,179.5 L172.0,180.0 L172.3,180.5 L172.7,181.3 L172.9,182.0 L173.0,183.0 L172.9,184.0 L172.7,184.7 L172.3,185.5 L172.0,186.0 L171.6,186.5 L171.0,187.0 L170.2,187.5 L169.7,187.7Z " fill="#fdf4d6" fill-rule="evenodd"/>
<path d="M215.2,224.0 L214.2,224.1 L213.2,224.2 L212.2,224.2 L211.2,224.2 L210.2,224.1 L209.7,224.0 L208.7,223.7 L207.7,223.5 L207.2,223.4 L206.2,223.1 L205.7,223.0 L204.7,222.7 L204.0,222.5 L203.2,222.2 L202.4,222.0 L201.7,221.7 L200.9,221.5 L200.2,221.2 L199.5,221.0 L198.7,220.7 L198.2,220.5 L197.2,220.1 L196.7,219.9 L196.1,219.5 L195.5,219.0 L194.9,218.5 L194.3,218.0 L193.9,217.5 L193.5,217.0 L193.5,216.0 L194.2,215.5 L194.7,215.4 L195.7,215.1 L196.2,214.9 L197.2,214.7 L198.2,214.6 L199.2,214.6 L200.2,214.5 L200.9,214.5 L201.7,214.5 L202.7,214.4 L203.7,214.4 L204.7,214.3 L205.7,214.2 L206.7,214.1 L207.7,214.0 L208.2,213.9 L209.2,213.8 L210.2,213.7 L211.0,213.5 L211.7,213.3 L212.7,213.0 L213.2,212.9 L214.2,212.6 L214.7,212.4 L215.7,212.1 L216.2,211.9 L217.2,211.6 L217.7,211.4 L218.7,211.1 L219.2,210.9 L220.2,210.6 L220.7,210.4 L221.7,210.0 L222.2,209.6 L222.7,209.3 L223.2,208.9 L223.8,208.5 L224.5,208.0 L225.2,207.5 L225.7,207.1 L226.2,206.7 L226.7,206.3 L227.2,206.0 L227.8,205.5 L228.4,205.0 L228.7,204.5 L229.2,203.6 L229.5,203.0 L229.7,202.5 L230.2,201.5 L230.5,201.0 L230.7,200.5 L231.1,199.5 L231.4,199.0 L231.7,198.2 L232.0,197.5 L232.2,196.7 L232.4,196.0 L232.6,195.0 L232.8,194.5 L233.0,193.5 L233.2,192.5 L233.3,192.0 L233.4,191.0 L233.6,190.0 L233.7,189.3 L233.8,188.5 L234.1,187.5 L234.2,187.0 L234.6,186.0 L234.8,185.5 L235.2,184.6 L235.5,184.0 L235.7,183.5 L236.2,182.5 L236.4,182.0 L236.7,181.3 L237.0,180.5 L237.2,180.0 L237.6,179.0 L237.8,178.5 L238.2,177.5 L238.4,177.0 L238.7,176.0 L238.9,175.5 L239.2,174.6 L239.4,174.0 L239.7,173.4 L240.2,172.5 L240.4,172.0 L240.7,171.4 L241.1,170.5 L241.4,170.0 L241.7,169.2 L242.0,168.5 L242.2,168.0 L242.7,167.0 L243.0,166.5 L243.3,166.0 L243.7,165.2 L244.1,164.5 L244.4,164.0 L244.7,163.4 L245.2,162.5 L245.4,162.0 L245.7,161.4 L246.1,160.5 L246.4,160.0 L246.7,159.4 L247.2,158.6 L247.6,158.0 L247.9,157.5 L248.3,157.0 L248.7,156.5 L249.2,155.9 L249.7,155.3 L250.2,154.8 L250.7,154.2 L251.2,153.6 L251.7,153.0 L252.1,152.5 L252.5,152.0 L252.9,151.5 L253.3,151.0 L253.7,150.5 L254.2,149.9 L254.7,149.2 L255.2,148.5 L255.5,148.0 L255.9,147.5 L256.3,147.0 L256.7,146.5 L257.2,146.0 L257.7,145.4 L258.2,145.0 L258.8,144.5 L259.4,144.0 L260.2,143.5 L260.7,143.2 L261.2,142.9 L261.9,142.5 L262.7,142.1 L263.2,141.8 L263.7,141.5 L264.5,141.0 L265.2,140.5 L265.5,140.0 L265.7,139.5 L266.1,138.5 L266.3,138.0 L266.6,137.0 L266.8,136.5 L267.1,135.5 L267.2,135.0 L267.4,134.0 L267.6,133.0 L267.7,132.1 L267.8,131.5 L267.9,130.5 L268.0,129.5 L268.1,128.5 L268.2,127.9 L268.3,127.0 L268.4,126.0 L268.5,125.0 L268.5,124.0 L268.6,123.0 L268.6,122.0 L268.6,121.0 L268.7,120.0 L268.7,119.0 L268.6,118.0 L268.6,117.0 L268.6,116.0 L268.5,115.0 L268.5,114.0 L268.3,113.0 L268.2,112.3 L268.1,111.5 L267.9,110.5 L267.7,109.5 L267.6,109.0 L267.4,108.0 L267.2,107.0 L267.1,106.5 L266.8,105.5 L266.7,105.0 L266.5,104.0 L266.2,103.1 L266.0,102.5 L265.8,101.5 L265.6,101.0 L265.3,100.0 L265.1,99.5 L264.8,98.5 L264.6,98.0 L264.3,97.0 L264.1,96.5 L263.7,95.5 L263.5,95.0 L263.2,94.1 L263.0,93.5 L262.7,92.9 L262.3,92.0 L262.1,91.5 L261.7,90.6 L261.4,90.0 L261.2,89.5 L260.7,88.6 L260.4,88.0 L260.2,87.5 L259.7,86.6 L259.4,86.0 L259.1,85.5 L258.7,84.8 L258.2,84.1 L257.8,83.5 L257.4,83.0 L257.1,82.5 L256.7,82.0 L256.2,81.4 L255.7,80.7 L255.2,80.1 L254.7,79.5 L254.3,79.0 L253.9,78.5 L253.5,78.0 L253.1,77.5 L252.6,77.0 L252.0,76.5 L251.5,76.0 L250.9,75.5 L250.2,75.0 L249.7,74.6 L249.2,74.2 L248.7,73.8 L248.2,73.4 L247.7,73.0 L247.0,72.5 L246.3,72.0 L245.7,71.6 L245.2,71.2 L244.7,70.8 L244.2,70.5 L243.5,70.0 L242.8,69.5 L242.2,69.1 L241.7,68.8 L241.2,68.4 L240.5,68.0 L239.7,67.5 L239.2,67.2 L238.7,66.9 L238.0,66.5 L237.2,66.1 L236.7,65.8 L236.1,65.5 L235.2,65.1 L234.7,64.9 L233.9,64.5 L233.2,64.2 L232.7,64.0 L231.7,63.6 L231.2,63.4 L230.2,63.0 L229.7,62.8 L228.8,62.5 L228.2,62.3 L227.3,62.0 L226.7,61.8 L225.7,61.5 L225.2,61.4 L224.2,61.2 L223.6,61.0 L222.7,60.8 L221.7,60.6 L221.2,60.5 L220.2,60.3 L219.2,60.1 L218.6,60.0 L217.7,59.8 L216.7,59.6 L215.9,59.5 L215.2,59.4 L214.2,59.2 L213.2,59.1 L212.2,59.0 L211.7,58.9 L210.7,58.8 L209.7,58.8 L208.7,58.7 L207.7,58.7 L206.7,58.7 L205.7,58.7 L204.7,58.8 L203.7,58.8 L202.7,58.9 L201.7,59.0 L201.2,59.0 L200.2,59.1 L199.2,59.2 L198.2,59.4 L197.2,59.5 L196.7,59.6 L195.7,59.7 L194.7,59.9 L194.1,60.0 L193.2,60.2 L192.2,60.4 L191.7,60.5 L190.7,60.7 L189.7,60.8 L188.7,60.8 L187.7,60.8 L186.7,60.8 L185.7,60.8 L184.7,60.8 L183.7,60.9 L182.7,60.9 L181.7,60.9 L180.7,61.0 L179.7,61.0 L178.7,60.9 L177.7,60.8 L176.7,60.7 L175.7,60.6 L174.7,60.5 L174.2,60.4 L173.2,60.3 L172.4,60.0 L171.9,59.5 L172.1,58.5 L172.4,58.0 L172.8,57.5 L173.2,57.0 L173.7,56.5 L174.2,56.0 L174.8,55.5 L175.3,55.0 L175.9,54.5 L176.5,54.0 L177.1,53.5 L177.7,53.1 L178.2,52.7 L178.7,52.4 L179.4,52.0 L180.2,51.5 L180.7,51.2 L181.2,51.0 L182.1,50.5 L182.7,50.2 L183.2,50.0 L184.2,49.5 L184.7,49.3 L185.4,49.0 L186.2,48.7 L186.7,48.4 L187.2,48.0 L188.0,47.5 L188.7,47.0 L189.2,46.7 L189.7,46.4 L190.3,46.0 L191.2,45.5 L191.7,45.2 L192.2,44.9 L192.9,44.5 L193.7,44.1 L194.2,43.8 L194.8,43.5 L195.7,43.0 L196.2,42.7 L196.7,42.3 L197.2,42.0 L197.9,41.5 L198.7,41.0 L199.2,40.7 L199.7,40.3 L200.3,40.0 L201.1,39.5 L201.7,39.2 L202.2,38.9 L202.9,38.5 L203.7,38.0 L204.2,37.8 L204.9,37.5 L205.7,37.2 L206.4,37.0 L207.2,36.8 L208.0,36.5 L208.7,36.3 L209.7,36.0 L210.2,35.9 L211.2,35.6 L211.8,35.5 L212.7,35.3 L213.7,35.1 L214.2,34.9 L215.2,34.7 L216.2,34.6 L216.7,34.5 L217.7,34.3 L218.7,34.1 L219.7,34.0 L220.2,34.0 L221.2,34.0 L221.8,34.0 L222.7,34.1 L223.7,34.2 L224.7,34.4 L225.6,34.5 L226.2,34.6 L227.2,34.8 L228.2,35.0 L228.7,35.0 L229.7,35.2 L230.7,35.5 L231.2,35.6 L232.2,35.8 L233.1,36.0 L233.7,36.1 L234.7,36.4 L235.2,36.5 L236.2,36.8 L236.9,37.0 L237.7,37.3 L238.2,37.5 L239.2,38.0 L239.7,38.2 L240.3,38.5 L241.2,39.0 L241.7,39.2 L242.3,39.5 L243.2,40.0 L243.7,40.3 L244.2,40.5 L245.0,41.0 L245.7,41.4 L246.2,41.7 L246.8,42.0 L247.6,42.5 L248.2,42.8 L248.7,43.2 L249.3,43.5 L250.1,44.0 L250.7,44.4 L251.2,44.8 L251.7,45.1 L252.2,45.5 L252.9,46.0 L253.6,46.5 L254.2,47.0 L254.7,47.4 L255.2,47.8 L255.7,48.1 L256.2,48.5 L256.8,49.0 L257.4,49.5 L258.0,50.0 L258.5,50.5 L259.1,51.0 L259.7,51.5 L260.2,52.0 L260.7,52.3 L261.2,52.7 L261.7,53.1 L262.3,53.5 L262.9,54.0 L263.6,54.5 L264.2,55.0 L264.7,55.4 L265.2,55.8 L265.7,56.2 L266.2,56.6 L266.7,57.1 L267.2,57.5 L267.8,58.0 L268.3,58.5 L268.9,59.0 L269.4,59.5 L269.9,60.0 L270.4,60.5 L270.9,61.0 L271.4,61.5 L271.9,62.0 L272.4,62.5 L272.8,63.0 L273.3,63.5 L273.8,64.0 L274.2,64.5 L274.7,65.1 L275.2,65.6 L275.7,66.2 L276.2,66.8 L276.7,67.4 L277.2,68.0 L277.6,68.5 L278.0,69.0 L278.4,69.5 L278.8,70.0 L279.2,70.5 L279.7,71.2 L280.2,72.0 L280.5,72.5 L280.7,73.0 L281.2,74.0 L281.4,74.5 L281.7,75.1 L282.1,76.0 L282.3,76.5 L282.7,77.4 L283.0,78.0 L283.2,78.6 L283.6,79.5 L283.8,80.0 L284.2,81.0 L284.3,81.5 L284.7,82.5 L284.9,83.0 L285.2,83.9 L285.4,84.5 L285.7,85.4 L285.9,86.0 L286.1,87.0 L286.3,87.5 L286.5,88.5 L286.7,89.2 L286.9,90.0 L287.1,91.0 L287.2,91.5 L287.4,92.5 L287.6,93.5 L287.7,94.0 L287.9,95.0 L288.1,96.0 L288.2,96.7 L288.3,97.5 L288.5,98.5 L288.6,99.5 L288.7,100.0 L288.9,101.0 L289.1,102.0 L289.2,102.9 L289.3,103.5 L289.4,104.5 L289.5,105.5 L289.7,106.5 L289.7,107.0 L289.8,108.0 L289.9,109.0 L290.0,110.0 L290.1,111.0 L290.1,112.0 L290.2,112.7 L290.3,113.5 L290.4,114.5 L290.5,115.5 L290.6,116.5 L290.7,117.5 L290.7,118.0 L290.8,119.0 L290.9,120.0 L290.9,121.0 L290.9,122.0 L291.0,123.0 L291.0,124.0 L291.0,125.0 L291.0,126.0 L291.0,127.0 L291.0,128.0 L290.9,129.0 L290.9,130.0 L290.8,131.0 L290.7,132.0 L290.7,132.5 L290.6,133.5 L290.5,134.5 L290.3,135.5 L290.2,136.5 L290.1,137.0 L290.0,138.0 L289.8,139.0 L289.7,139.8 L289.6,140.5 L289.4,141.5 L289.2,142.5 L289.1,143.0 L288.9,144.0 L288.7,144.7 L288.5,145.5 L288.3,146.5 L288.1,147.0 L287.9,148.0 L287.7,148.6 L287.5,149.5 L287.2,150.4 L287.0,151.0 L286.7,152.0 L286.5,152.5 L286.2,153.4 L285.9,154.0 L285.7,154.5 L285.2,155.5 L285.0,156.0 L284.7,156.5 L284.2,157.5 L283.9,158.0 L283.7,158.5 L283.2,159.4 L282.8,160.0 L282.6,160.5 L282.2,161.1 L281.7,162.0 L281.4,162.5 L281.1,163.0 L280.7,163.7 L280.2,164.5 L279.9,165.0 L279.6,165.5 L279.2,166.1 L278.7,166.9 L278.3,167.5 L278.0,168.0 L277.7,168.5 L277.2,169.2 L276.7,169.9 L276.3,170.5 L275.9,171.0 L275.6,171.5 L275.2,172.0 L274.7,172.7 L274.2,173.4 L273.7,174.0 L273.3,174.5 L273.0,175.0 L272.7,175.7 L272.3,176.5 L272.1,177.0 L271.7,177.7 L271.3,178.5 L271.0,179.0 L270.7,179.6 L270.2,180.5 L269.9,181.0 L269.7,181.5 L269.2,182.3 L268.8,183.0 L268.5,183.5 L268.2,184.1 L267.7,184.9 L267.4,185.5 L267.1,186.0 L266.7,186.7 L266.3,187.5 L266.1,188.0 L265.7,188.8 L265.4,189.5 L265.1,190.0 L264.7,190.8 L264.3,191.5 L264.1,192.0 L263.7,192.7 L263.2,193.5 L263.0,194.0 L262.7,194.5 L262.2,195.3 L261.8,196.0 L261.5,196.5 L261.2,197.0 L260.7,197.7 L260.2,198.5 L259.9,199.0 L259.5,199.5 L259.0,200.0 L258.6,200.5 L258.2,201.0 L257.7,201.5 L257.2,202.1 L256.7,202.6 L256.2,203.2 L255.7,203.7 L255.2,204.2 L254.7,204.7 L254.2,205.2 L253.7,205.7 L253.2,206.2 L252.7,206.7 L252.2,207.2 L251.7,207.6 L251.2,208.1 L250.7,208.6 L250.2,209.0 L249.7,209.5 L249.1,210.0 L248.5,210.5 L247.9,211.0 L247.3,211.5 L246.7,212.0 L246.2,212.4 L245.7,212.8 L245.2,213.1 L244.7,213.5 L244.1,214.0 L243.4,214.5 L242.7,215.0 L242.2,215.3 L241.7,215.7 L241.2,216.0 L240.5,216.5 L239.7,217.0 L239.2,217.3 L238.7,217.6 L237.8,218.0 L237.2,218.3 L236.7,218.5 L235.7,218.9 L235.2,219.1 L234.3,219.5 L233.7,219.7 L233.0,220.0 L232.2,220.3 L231.7,220.5 L230.7,220.9 L230.2,221.0 L229.2,221.4 L228.7,221.5 L227.7,221.9 L227.2,222.0 L226.2,222.3 L225.3,222.5 L224.7,222.6 L223.7,222.8 L222.8,223.0 L222.2,223.1 L221.2,223.3 L220.2,223.4 L219.7,223.5 L218.7,223.6 L217.7,223.8 L216.7,223.9 L215.7,224.0 L215.2,224.0Z M165.7,185.5 L164.7,185.7 L163.7,185.8 L162.7,185.9 L161.7,185.9 L160.7,185.9 L159.7,185.8 L158.7,185.6 L157.8,185.5 L157.2,185.4 L156.2,185.2 L155.2,185.0 L154.7,184.9 L153.7,184.7 L152.7,184.5 L152.2,184.4 L151.2,184.2 L150.2,184.0 L149.7,183.9 L148.7,183.6 L148.2,183.4 L147.2,183.1 L146.7,182.9 L145.7,182.6 L145.2,182.4 L144.2,182.1 L143.7,182.0 L142.7,181.6 L142.2,181.5 L141.2,181.2 L140.7,181.0 L139.7,180.7 L139.2,180.4 L138.3,180.0 L137.7,179.7 L137.2,179.5 L136.3,179.0 L135.7,178.7 L135.2,178.5 L134.2,178.0 L133.7,177.7 L133.2,177.5 L132.2,177.0 L131.7,176.7 L131.2,176.5 L130.3,176.0 L129.7,175.6 L129.2,175.3 L128.7,174.9 L128.1,174.5 L127.3,174.0 L126.7,173.5 L126.2,173.2 L125.7,172.8 L125.2,172.5 L124.5,172.0 L123.8,171.5 L123.2,171.0 L122.7,170.7 L122.2,170.3 L121.7,169.9 L121.2,169.5 L120.7,169.0 L120.2,168.4 L119.7,167.8 L119.2,167.1 L118.7,166.5 L118.4,166.0 L118.0,165.5 L117.7,165.0 L117.2,164.3 L116.7,163.6 L116.3,163.0 L116.0,162.5 L115.7,162.0 L115.2,161.2 L114.8,160.5 L114.5,160.0 L114.2,159.3 L113.8,158.5 L113.6,158.0 L113.2,157.1 L112.9,156.5 L112.7,156.0 L112.3,155.0 L112.1,154.5 L111.7,153.7 L111.4,153.0 L111.2,152.5 L110.8,151.5 L110.6,151.0 L110.2,150.2 L109.8,149.5 L109.5,149.0 L109.2,148.4 L108.7,147.5 L108.5,147.0 L108.2,146.4 L107.8,145.5 L107.5,145.0 L107.2,144.3 L106.9,143.5 L106.7,143.0 L106.3,142.0 L106.1,141.5 L105.7,140.6 L105.5,140.0 L105.2,139.2 L105.0,138.5 L104.7,137.5 L104.6,137.0 L104.3,136.0 L104.2,135.5 L104.0,134.5 L103.8,133.5 L103.7,133.0 L103.5,132.0 L103.3,131.0 L103.2,130.0 L103.3,129.0 L103.3,128.0 L103.3,127.0 L103.4,126.0 L103.4,125.0 L103.5,124.0 L103.5,123.0 L103.5,122.0 L103.6,121.0 L103.7,120.3 L103.8,119.5 L104.0,118.5 L104.2,117.5 L104.3,117.0 L104.4,116.0 L104.6,115.0 L104.7,114.4 L104.9,113.5 L105.1,112.5 L105.2,112.0 L105.6,111.0 L105.8,110.5 L106.2,109.5 L106.4,109.0 L106.7,108.3 L107.0,107.5 L107.2,107.0 L107.7,106.0 L107.9,105.5 L108.2,104.8 L108.6,104.0 L108.8,103.5 L109.2,102.8 L109.6,102.0 L109.9,101.5 L110.2,101.0 L110.7,100.3 L111.2,99.6 L111.7,99.0 L112.2,98.5 L112.7,98.1 L113.2,97.8 L114.2,97.6 L115.2,97.6 L116.1,98.0 L116.7,98.4 L117.2,98.9 L117.7,99.5 L118.1,100.0 L118.4,100.5 L118.8,101.0 L119.2,101.7 L119.7,102.5 L119.9,103.0 L120.2,103.6 L120.5,104.5 L120.7,105.0 L121.0,106.0 L121.2,106.5 L121.5,107.5 L121.7,108.1 L121.9,109.0 L122.2,109.9 L122.4,110.5 L122.6,111.5 L122.8,112.0 L123.0,113.0 L123.2,114.0 L123.2,114.5 L123.3,115.5 L123.3,116.5 L123.3,117.5 L123.4,118.5 L123.4,119.5 L123.4,120.5 L123.4,121.5 L123.4,122.5 L123.3,123.5 L123.2,124.2 L123.0,125.0 L122.8,126.0 L122.7,126.6 L122.5,127.5 L122.3,128.5 L122.2,129.0 L122.0,130.0 L121.8,131.0 L121.7,131.5 L121.6,132.5 L121.5,133.5 L121.4,134.5 L121.3,135.5 L121.2,136.2 L121.1,137.0 L120.9,138.0 L121.0,139.0 L121.1,140.0 L121.2,140.5 L121.3,141.5 L121.4,142.5 L121.5,143.5 L121.6,144.5 L121.7,145.5 L122.0,146.0 L122.3,146.5 L122.7,147.2 L123.1,148.0 L123.4,148.5 L123.7,149.0 L124.2,149.9 L124.6,150.5 L124.9,151.0 L125.7,151.5 L126.2,151.8 L126.7,152.1 L127.3,152.5 L128.1,153.0 L128.7,153.4 L129.2,153.8 L129.7,154.2 L130.2,154.5 L130.9,155.0 L131.5,155.5 L132.2,155.9 L132.7,156.1 L133.4,156.5 L134.2,156.9 L134.7,157.2 L135.2,157.5 L136.2,158.0 L136.7,158.3 L137.2,158.6 L137.9,159.0 L138.7,159.4 L139.2,159.7 L139.7,160.0 L140.5,160.5 L141.2,160.9 L141.7,161.2 L142.2,161.6 L142.9,162.0 L143.7,162.5 L144.2,162.8 L144.7,163.1 L145.3,163.5 L146.0,164.0 L146.7,164.4 L147.2,164.7 L147.7,165.1 L148.5,165.5 L149.2,165.9 L149.7,166.2 L150.2,166.5 L151.1,167.0 L151.7,167.4 L152.2,167.7 L152.8,168.0 L153.6,168.5 L154.2,168.8 L154.7,169.1 L155.3,169.5 L156.2,170.0 L156.7,170.4 L157.2,170.7 L157.7,171.1 L158.3,171.5 L158.9,172.0 L159.6,172.5 L160.2,173.0 L160.7,173.3 L161.2,173.7 L161.7,174.1 L162.2,174.5 L162.8,175.0 L163.5,175.5 L164.1,176.0 L164.7,176.5 L165.2,177.0 L165.7,177.4 L166.2,177.9 L166.7,178.4 L167.2,178.9 L167.7,179.5 L168.1,180.0 L168.5,180.5 L168.8,181.0 L169.1,182.0 L169.2,182.5 L169.2,183.0 L168.8,184.0 L168.2,184.5 L167.7,184.8 L167.2,185.1 L166.2,185.4 L165.7,185.5Z " fill="#fbe9a3" fill-rule="evenodd"/>
<path d="M225.7,219.6 L224.7,219.7 L223.7,219.8 L222.7,219.9 L221.7,219.9 L220.7,220.0 L219.7,219.9 L218.7,219.9 L217.7,219.8 L216.7,219.6 L216.2,219.4 L215.3,219.0 L214.9,218.5 L215.0,217.5 L215.4,217.0 L216.0,216.5 L216.7,216.0 L217.2,215.7 L217.7,215.3 L218.3,215.0 L219.1,214.5 L219.7,214.2 L220.2,213.9 L221.0,213.5 L221.7,213.2 L222.2,212.9 L222.8,212.5 L223.3,212.0 L223.9,211.5 L224.4,211.0 L225.0,210.5 L225.5,210.0 L226.1,209.5 L226.6,209.0 L227.2,208.5 L227.7,208.0 L228.2,207.6 L228.7,207.1 L229.2,206.7 L229.7,206.1 L230.0,205.5 L230.2,205.0 L230.6,204.0 L230.8,203.5 L231.2,202.7 L231.5,202.0 L231.7,201.5 L232.1,200.5 L232.3,200.0 L232.7,199.0 L232.9,198.5 L233.2,197.5 L233.3,197.0 L233.6,196.0 L233.7,195.4 L233.9,194.5 L234.1,193.5 L234.2,192.8 L234.3,192.0 L234.5,191.0 L234.6,190.0 L234.7,189.3 L234.8,188.5 L235.1,187.5 L235.2,187.0 L235.6,186.0 L235.8,185.5 L236.2,184.6 L236.5,184.0 L236.7,183.4 L237.1,182.5 L237.3,182.0 L237.7,181.0 L237.9,180.5 L238.2,179.7 L238.4,179.0 L238.7,178.3 L239.0,177.5 L239.2,176.8 L239.4,176.0 L239.7,175.2 L240.0,174.5 L240.2,173.9 L240.6,173.0 L240.9,172.5 L241.2,171.8 L241.6,171.0 L241.8,170.5 L242.2,169.6 L242.5,169.0 L242.7,168.5 L243.1,167.5 L243.4,167.0 L243.7,166.5 L244.2,165.6 L244.5,165.0 L244.8,164.5 L245.2,163.8 L245.6,163.0 L245.9,162.5 L246.2,161.9 L246.7,161.0 L246.9,160.5 L247.2,160.0 L247.7,159.1 L248.1,158.5 L248.4,158.0 L248.8,157.5 L249.2,157.0 L249.7,156.4 L250.2,155.8 L250.7,155.3 L251.2,154.7 L251.7,154.2 L252.2,153.6 L252.7,153.0 L253.1,152.5 L253.6,152.0 L254.0,151.5 L254.3,151.0 L254.7,150.5 L255.2,149.9 L255.7,149.2 L256.2,148.5 L256.6,148.0 L257.0,147.5 L257.4,147.0 L257.9,146.5 L258.4,146.0 L259.0,145.5 L259.6,145.0 L260.2,144.6 L260.7,144.3 L261.2,144.0 L262.1,143.5 L262.7,143.1 L263.2,142.8 L263.7,142.5 L264.5,142.0 L265.2,141.6 L265.7,141.2 L266.1,140.5 L266.3,140.0 L266.7,139.0 L266.8,138.5 L267.2,137.5 L267.3,137.0 L267.7,136.0 L267.8,135.5 L268.0,134.5 L268.1,133.5 L268.2,132.9 L268.3,132.0 L268.5,131.0 L268.6,130.0 L268.7,129.0 L268.7,128.5 L268.8,127.5 L268.9,126.5 L269.0,125.5 L269.1,124.5 L269.1,123.5 L269.2,122.5 L269.2,121.6 L269.2,121.0 L269.2,120.0 L269.2,119.0 L269.2,118.0 L269.2,117.4 L269.2,116.5 L269.1,115.5 L269.1,114.5 L269.0,113.5 L268.8,112.5 L268.7,111.8 L268.6,111.0 L268.4,110.0 L268.2,109.0 L268.1,108.5 L267.9,107.5 L267.7,106.5 L267.6,106.0 L267.4,105.0 L267.2,104.3 L267.0,103.5 L266.7,102.5 L266.6,102.0 L266.3,101.0 L266.2,100.5 L265.9,99.5 L265.7,98.8 L265.5,98.0 L265.2,97.2 L265.0,96.5 L264.7,95.6 L264.5,95.0 L264.2,94.2 L264.0,93.5 L263.7,92.8 L263.4,92.0 L263.2,91.5 L262.7,90.5 L262.5,90.0 L262.2,89.3 L261.8,88.5 L261.6,88.0 L261.2,87.2 L260.9,86.5 L260.6,86.0 L260.2,85.2 L259.8,84.5 L259.5,84.0 L259.1,83.5 L258.7,82.9 L258.2,82.2 L257.7,81.5 L257.3,81.0 L256.9,80.5 L256.5,80.0 L256.1,79.5 L255.7,79.0 L255.2,78.4 L254.7,77.8 L254.2,77.2 L253.7,76.6 L253.2,76.1 L252.7,75.7 L252.2,75.3 L251.7,74.9 L251.2,74.5 L250.5,74.0 L249.9,73.5 L249.2,73.0 L248.7,72.6 L248.2,72.3 L247.7,71.9 L247.1,71.5 L246.4,71.0 L245.7,70.5 L245.2,70.1 L244.7,69.8 L244.2,69.5 L243.5,69.0 L242.8,68.5 L242.2,68.1 L241.7,67.8 L241.2,67.5 L240.4,67.0 L239.7,66.6 L239.2,66.3 L238.7,66.0 L237.7,65.5 L237.2,65.2 L236.7,65.0 L235.7,64.5 L235.2,64.3 L234.6,64.0 L233.7,63.6 L233.2,63.4 L232.2,63.0 L231.7,62.8 L230.9,62.5 L230.2,62.2 L229.6,62.0 L228.7,61.7 L228.1,61.5 L227.2,61.2 L226.4,61.0 L225.7,60.8 L224.7,60.5 L224.2,60.4 L223.2,60.2 L222.5,60.0 L221.7,59.8 L220.7,59.6 L220.0,59.5 L219.2,59.4 L218.2,59.2 L217.3,59.0 L216.7,58.9 L215.7,58.7 L214.7,58.5 L214.2,58.4 L213.2,58.3 L212.2,58.2 L211.2,58.0 L210.7,58.0 L209.7,57.9 L208.7,57.8 L207.7,57.7 L206.7,57.7 L205.7,57.7 L204.7,57.7 L203.7,57.8 L202.7,57.8 L201.7,57.9 L200.7,57.9 L199.7,58.0 L199.2,58.0 L198.2,58.1 L197.2,58.2 L196.2,58.4 L195.2,58.5 L194.7,58.6 L193.7,58.7 L192.7,58.9 L192.0,59.0 L191.2,59.1 L190.2,59.3 L189.2,59.3 L188.2,59.2 L187.2,59.2 L186.2,59.1 L185.4,59.0 L184.7,58.9 L183.7,58.8 L182.7,58.6 L182.0,58.5 L181.2,58.3 L180.5,58.0 L179.8,57.5 L179.5,57.0 L179.4,56.0 L179.7,55.3 L180.2,54.6 L180.7,54.0 L181.2,53.5 L181.7,53.1 L182.2,52.7 L182.7,52.4 L183.3,52.0 L184.1,51.5 L184.7,51.1 L185.2,50.9 L185.9,50.5 L186.7,50.1 L187.2,49.8 L187.7,49.4 L188.2,49.0 L188.9,48.5 L189.6,48.0 L190.2,47.6 L190.7,47.3 L191.2,47.0 L191.9,46.5 L192.7,46.0 L193.2,45.7 L193.7,45.5 L194.5,45.0 L195.2,44.6 L195.7,44.4 L196.3,44.0 L196.9,43.5 L197.6,43.0 L198.2,42.6 L198.7,42.2 L199.2,41.9 L199.8,41.5 L200.6,41.0 L201.2,40.6 L201.7,40.3 L202.2,40.0 L203.0,39.5 L203.7,39.1 L204.2,38.9 L205.0,38.5 L205.7,38.2 L206.3,38.0 L207.2,37.7 L207.8,37.5 L208.7,37.2 L209.4,37.0 L210.2,36.8 L211.2,36.5 L211.7,36.4 L212.7,36.1 L213.2,36.0 L214.2,35.7 L215.2,35.5 L215.7,35.4 L216.7,35.2 L217.7,35.0 L218.2,35.0 L219.2,34.8 L220.2,34.7 L221.2,34.7 L222.2,34.8 L223.2,34.9 L224.0,35.0 L224.7,35.1 L225.7,35.3 L226.7,35.4 L227.2,35.5 L228.2,35.7 L229.2,35.9 L229.8,36.0 L230.7,36.2 L231.7,36.4 L232.2,36.5 L233.2,36.8 L234.1,37.0 L234.7,37.1 L235.7,37.4 L236.2,37.6 L237.2,37.9 L237.7,38.1 L238.6,38.5 L239.2,38.8 L239.7,39.0 L240.7,39.5 L241.2,39.8 L241.7,40.0 L242.6,40.5 L243.2,40.8 L243.7,41.1 L244.4,41.5 L245.2,41.9 L245.7,42.2 L246.2,42.5 L247.0,43.0 L247.7,43.4 L248.2,43.7 L248.7,44.0 L249.5,44.5 L250.2,45.0 L250.7,45.3 L251.2,45.7 L251.7,46.0 L252.3,46.5 L253.0,47.0 L253.6,47.5 L254.2,48.0 L254.7,48.4 L255.2,48.8 L255.7,49.2 L256.2,49.6 L256.7,50.0 L257.3,50.5 L257.8,51.0 L258.4,51.5 L259.0,52.0 L259.5,52.5 L260.1,53.0 L260.7,53.4 L261.2,53.8 L261.7,54.2 L262.2,54.6 L262.7,55.0 L263.3,55.5 L263.9,56.0 L264.5,56.5 L265.1,57.0 L265.7,57.5 L266.2,58.0 L266.7,58.4 L267.2,58.9 L267.7,59.3 L268.2,59.8 L268.7,60.3 L269.2,60.8 L269.7,61.3 L270.2,61.8 L270.7,62.3 L271.2,62.8 L271.7,63.3 L272.2,63.9 L272.7,64.4 L273.2,65.0 L273.6,65.5 L274.1,66.0 L274.5,66.5 L274.9,67.0 L275.3,67.5 L275.8,68.0 L276.2,68.5 L276.7,69.2 L277.2,69.8 L277.7,70.4 L278.1,71.0 L278.5,71.5 L278.9,72.0 L279.2,72.5 L279.7,73.5 L280.0,74.0 L280.2,74.5 L280.7,75.5 L280.9,76.0 L281.2,76.6 L281.6,77.5 L281.8,78.0 L282.2,78.9 L282.5,79.5 L282.7,80.1 L283.1,81.0 L283.3,81.5 L283.6,82.5 L283.8,83.0 L284.2,84.0 L284.4,84.5 L284.7,85.5 L284.9,86.0 L285.2,87.0 L285.3,87.5 L285.6,88.5 L285.8,89.0 L286.0,90.0 L286.2,90.7 L286.4,91.5 L286.6,92.5 L286.8,93.0 L287.0,94.0 L287.2,95.0 L287.3,95.5 L287.5,96.5 L287.6,97.5 L287.7,98.0 L287.9,99.0 L288.1,100.0 L288.2,100.7 L288.3,101.5 L288.5,102.5 L288.7,103.5 L288.7,104.0 L288.9,105.0 L289.0,106.0 L289.1,107.0 L289.2,107.7 L289.3,108.5 L289.4,109.5 L289.5,110.5 L289.5,111.5 L289.6,112.5 L289.7,113.3 L289.8,114.0 L289.9,115.0 L290.0,116.0 L290.1,117.0 L290.2,118.0 L290.2,118.7 L290.3,119.5 L290.3,120.5 L290.3,121.5 L290.4,122.5 L290.4,123.5 L290.4,124.5 L290.4,125.5 L290.4,126.5 L290.4,127.5 L290.4,128.5 L290.3,129.5 L290.3,130.5 L290.2,131.1 L290.1,132.0 L290.0,133.0 L289.9,134.0 L289.7,135.0 L289.7,135.5 L289.5,136.5 L289.4,137.5 L289.2,138.4 L289.1,139.0 L288.9,140.0 L288.7,141.0 L288.6,141.5 L288.4,142.5 L288.2,143.2 L288.0,144.0 L287.7,145.0 L287.6,145.5 L287.3,146.5 L287.2,147.0 L286.9,148.0 L286.7,148.7 L286.4,149.5 L286.2,150.3 L286.0,151.0 L285.7,151.7 L285.4,152.5 L285.2,153.1 L284.8,154.0 L284.5,154.5 L284.2,155.1 L283.7,156.0 L283.4,156.5 L283.2,157.0 L282.7,157.8 L282.3,158.5 L282.0,159.0 L281.7,159.6 L281.2,160.4 L280.8,161.0 L280.5,161.5 L280.2,162.0 L279.7,162.8 L279.2,163.5 L278.9,164.0 L278.6,164.5 L278.2,165.1 L277.7,165.9 L277.3,166.5 L277.0,167.0 L276.7,167.5 L276.2,168.3 L275.7,169.0 L275.4,169.5 L275.0,170.0 L274.7,170.5 L274.2,171.2 L273.7,171.8 L273.2,172.5 L272.8,173.0 L272.5,173.5 L272.1,174.0 L271.7,174.9 L271.4,175.5 L271.2,176.0 L270.7,177.0 L270.5,177.5 L270.2,178.1 L269.7,179.0 L269.5,179.5 L269.2,180.0 L268.7,180.9 L268.4,181.5 L268.1,182.0 L267.7,182.7 L267.2,183.5 L266.9,184.0 L266.6,184.5 L266.2,185.2 L265.7,186.0 L265.5,186.5 L265.2,187.1 L264.8,188.0 L264.5,188.5 L264.2,189.1 L263.7,190.0 L263.4,190.5 L263.2,191.0 L262.7,191.8 L262.3,192.5 L262.0,193.0 L261.7,193.6 L261.2,194.4 L260.8,195.0 L260.5,195.5 L260.2,196.0 L259.7,196.7 L259.2,197.5 L258.8,198.0 L258.5,198.5 L258.0,199.0 L257.6,199.5 L257.2,200.0 L256.7,200.5 L256.2,201.1 L255.7,201.6 L255.2,202.1 L254.7,202.6 L254.2,203.2 L253.7,203.7 L253.2,204.2 L252.7,204.7 L252.2,205.1 L251.7,205.6 L251.2,206.1 L250.7,206.5 L250.2,207.0 L249.6,207.5 L249.1,208.0 L248.5,208.5 L247.9,209.0 L247.2,209.5 L246.7,209.9 L246.2,210.3 L245.7,210.7 L245.2,211.1 L244.6,211.5 L243.9,212.0 L243.2,212.5 L242.7,212.8 L242.2,213.2 L241.7,213.5 L240.9,214.0 L240.2,214.4 L239.7,214.7 L239.2,215.0 L238.3,215.5 L237.7,215.8 L237.2,216.0 L236.2,216.4 L235.7,216.6 L234.7,217.0 L234.2,217.2 L233.3,217.5 L232.7,217.7 L231.8,218.0 L231.2,218.2 L230.2,218.5 L229.7,218.6 L228.7,218.9 L228.2,219.0 L227.2,219.3 L226.2,219.5 L225.7,219.6Z M114.7,144.1 L113.7,144.1 L113.1,144.0 L112.2,143.5 L111.7,143.2 L111.2,142.7 L110.7,142.2 L110.2,141.7 L109.7,141.2 L109.2,140.7 L108.7,140.1 L108.2,139.5 L107.9,139.0 L107.5,138.5 L107.2,137.9 L106.7,137.0 L106.5,136.5 L106.2,135.7 L105.9,135.0 L105.7,134.4 L105.4,133.5 L105.2,132.9 L104.9,132.0 L104.7,131.0 L104.7,130.5 L104.7,129.5 L104.7,128.5 L104.7,127.5 L104.7,126.5 L104.7,125.5 L104.7,124.5 L104.7,123.7 L104.7,123.0 L104.7,122.0 L104.8,121.0 L105.0,120.0 L105.2,119.0 L105.3,118.5 L105.5,117.5 L105.7,116.5 L105.8,116.0 L106.0,115.0 L106.2,114.0 L106.3,113.5 L106.6,112.5 L106.8,112.0 L107.2,111.1 L107.5,110.5 L107.7,110.0 L108.2,109.0 L108.5,108.5 L108.7,108.0 L109.2,107.1 L109.6,106.5 L109.9,106.0 L110.2,105.5 L110.7,104.8 L111.2,104.2 L111.7,103.7 L112.2,103.3 L112.7,102.9 L113.5,102.5 L114.2,102.3 L115.2,102.4 L115.7,102.6 L116.4,103.0 L117.0,103.5 L117.5,104.0 L117.9,104.5 L118.2,105.0 L118.7,105.8 L119.1,106.5 L119.3,107.0 L119.7,107.8 L120.0,108.5 L120.2,109.1 L120.5,110.0 L120.7,110.5 L121.1,111.5 L121.3,112.0 L121.6,113.0 L121.7,113.6 L121.8,114.5 L121.9,115.5 L122.0,116.5 L122.0,117.5 L122.1,118.5 L122.2,119.5 L122.2,120.4 L122.2,121.0 L122.3,122.0 L122.2,123.0 L122.1,123.5 L121.9,124.5 L121.7,125.4 L121.6,126.0 L121.3,127.0 L121.2,127.5 L121.0,128.5 L120.7,129.5 L120.6,130.0 L120.3,131.0 L120.2,131.5 L120.0,132.5 L119.8,133.5 L119.7,134.0 L119.4,135.0 L119.2,135.8 L119.0,136.5 L118.7,137.3 L118.4,138.0 L118.1,138.5 L117.7,139.3 L117.3,140.0 L117.1,140.5 L116.9,141.5 L116.7,142.0 L116.2,142.9 L115.7,143.5 L115.2,143.9 L114.7,144.1Z M161.7,183.5 L160.7,183.7 L159.7,183.7 L158.7,183.8 L157.7,183.7 L156.7,183.7 L155.7,183.6 L155.1,183.5 L154.2,183.4 L153.2,183.2 L152.2,183.1 L151.5,183.0 L150.7,182.9 L149.7,182.6 L149.2,182.4 L148.2,182.1 L147.7,182.0 L146.7,181.7 L146.1,181.5 L145.2,181.2 L144.5,181.0 L143.7,180.8 L142.9,180.5 L142.2,180.3 L141.2,180.0 L140.7,179.8 L139.8,179.5 L139.2,179.2 L138.7,178.9 L137.9,178.5 L137.2,178.1 L136.7,177.9 L136.0,177.5 L135.2,177.1 L134.7,176.8 L134.1,176.5 L133.2,176.0 L132.7,175.7 L132.2,175.5 L131.3,175.0 L130.7,174.6 L130.2,174.3 L129.7,173.9 L129.2,173.5 L128.6,173.0 L128.0,172.5 L127.4,172.0 L126.8,171.5 L126.2,171.0 L125.7,170.6 L125.2,170.2 L124.7,169.7 L124.2,169.2 L123.7,168.8 L123.2,168.3 L122.7,167.8 L122.2,167.3 L121.7,166.6 L121.3,166.0 L121.0,165.5 L120.7,164.9 L120.3,164.0 L120.1,163.5 L119.7,162.6 L119.5,162.0 L119.2,161.2 L119.0,160.5 L118.9,159.5 L118.8,158.5 L119.0,157.5 L119.2,156.8 L119.7,156.0 L120.2,155.5 L120.7,155.2 L121.3,155.0 L122.2,154.8 L123.2,154.8 L124.2,155.0 L124.7,155.1 L125.7,155.4 L126.2,155.5 L127.2,155.9 L127.7,156.1 L128.4,156.5 L129.2,156.9 L129.7,157.1 L130.7,157.5 L131.2,157.7 L132.1,158.0 L132.7,158.3 L133.3,158.5 L134.2,158.9 L134.7,159.1 L135.5,159.5 L136.2,159.8 L136.7,160.1 L137.6,160.5 L138.2,160.8 L138.7,161.0 L139.5,161.5 L140.2,161.9 L140.7,162.2 L141.2,162.5 L142.1,163.0 L142.7,163.4 L143.2,163.7 L143.8,164.0 L144.6,164.5 L145.2,164.9 L145.7,165.2 L146.3,165.5 L147.1,166.0 L147.7,166.4 L148.2,166.7 L148.8,167.0 L149.6,167.5 L150.2,167.8 L150.7,168.1 L151.3,168.5 L152.1,169.0 L152.7,169.3 L153.2,169.6 L153.8,170.0 L154.6,170.5 L155.2,170.8 L155.7,171.2 L156.2,171.5 L156.8,172.0 L157.4,172.5 L158.0,173.0 L158.6,173.5 L159.1,174.0 L159.7,174.5 L160.2,175.0 L160.7,175.4 L161.2,175.9 L161.7,176.4 L162.2,177.0 L162.7,177.5 L163.1,178.0 L163.4,178.5 L163.7,179.0 L164.2,180.0 L164.3,180.5 L164.3,181.5 L164.1,182.0 L163.7,182.5 L163.0,183.0 L162.2,183.4 L161.7,183.5Z " fill="#fcd274" fill-rule="evenodd"/>
<path d="M234.7,213.6 L233.7,213.8 L232.7,213.9 L231.7,214.0 L230.7,213.9 L229.8,213.5 L229.4,213.0 L229.3,212.0 L229.6,211.0 L229.9,210.5 L230.2,210.0 L230.7,209.2 L231.2,208.5 L231.4,208.0 L231.7,207.0 L231.8,206.5 L232.1,205.5 L232.3,205.0 L232.6,204.0 L232.7,203.5 L233.1,202.5 L233.2,202.0 L233.5,201.0 L233.7,200.5 L234.0,199.5 L234.2,199.0 L234.5,198.0 L234.7,197.0 L234.8,196.5 L235.0,195.5 L235.1,194.5 L235.2,194.0 L235.4,193.0 L235.5,192.0 L235.6,191.0 L235.7,190.3 L235.8,189.5 L235.9,188.5 L236.1,187.5 L236.3,187.0 L236.7,186.0 L236.9,185.5 L237.2,184.7 L237.5,184.0 L237.7,183.5 L238.1,182.5 L238.3,182.0 L238.6,181.0 L238.8,180.5 L239.1,179.5 L239.3,179.0 L239.6,178.0 L239.8,177.5 L240.1,176.5 L240.2,176.0 L240.5,175.0 L240.7,174.5 L241.2,173.5 L241.4,173.0 L241.7,172.4 L242.1,171.5 L242.3,171.0 L242.7,170.2 L243.0,169.5 L243.2,169.0 L243.6,168.0 L243.9,167.5 L244.2,166.9 L244.7,166.0 L245.0,165.5 L245.3,165.0 L245.7,164.3 L246.2,163.5 L246.5,163.0 L246.7,162.5 L247.2,161.6 L247.5,161.0 L247.8,160.5 L248.2,159.7 L248.7,159.0 L249.0,158.5 L249.4,158.0 L249.8,157.5 L250.2,157.0 L250.7,156.4 L251.2,155.9 L251.7,155.4 L252.2,154.8 L252.7,154.3 L253.2,153.7 L253.7,153.1 L254.2,152.6 L254.7,152.0 L255.1,151.5 L255.5,151.0 L255.9,150.5 L256.2,150.0 L256.7,149.4 L257.2,148.7 L257.7,148.1 L258.2,147.5 L258.7,147.0 L259.2,146.6 L259.7,146.2 L260.2,145.8 L260.7,145.5 L261.5,145.0 L262.2,144.6 L262.7,144.3 L263.2,144.0 L264.0,143.5 L264.7,143.0 L265.2,142.7 L265.7,142.4 L266.2,142.0 L266.7,141.1 L266.9,140.5 L267.2,139.7 L267.4,139.0 L267.7,138.2 L267.9,137.5 L268.2,136.6 L268.4,136.0 L268.5,135.0 L268.7,134.0 L268.8,133.5 L268.9,132.5 L269.0,131.5 L269.2,130.5 L269.2,130.0 L269.3,129.0 L269.4,128.0 L269.5,127.0 L269.6,126.0 L269.7,125.0 L269.7,124.3 L269.7,123.5 L269.8,122.5 L269.8,121.5 L269.8,120.5 L269.8,119.5 L269.8,118.5 L269.8,117.5 L269.8,116.5 L269.7,115.5 L269.7,115.0 L269.6,114.0 L269.5,113.0 L269.4,112.0 L269.2,111.0 L269.1,110.5 L269.0,109.5 L268.8,108.5 L268.7,108.0 L268.5,107.0 L268.3,106.0 L268.2,105.5 L267.9,104.5 L267.7,103.5 L267.6,103.0 L267.4,102.0 L267.2,101.4 L267.0,100.5 L266.7,99.5 L266.6,99.0 L266.3,98.0 L266.2,97.5 L265.9,96.5 L265.7,95.8 L265.5,95.0 L265.2,94.1 L265.0,93.5 L264.7,92.5 L264.5,92.0 L264.2,91.1 L263.9,90.5 L263.7,89.9 L263.3,89.0 L263.1,88.5 L262.7,87.7 L262.4,87.0 L262.2,86.5 L261.7,85.5 L261.4,85.0 L261.2,84.5 L260.7,83.6 L260.3,83.0 L260.0,82.5 L259.6,82.0 L259.2,81.5 L258.7,80.8 L258.2,80.2 L257.7,79.5 L257.3,79.0 L256.9,78.5 L256.5,78.0 L256.0,77.5 L255.6,77.0 L255.2,76.5 L254.7,76.0 L254.2,75.5 L253.6,75.0 L252.9,74.5 L252.3,74.0 L251.7,73.6 L251.2,73.2 L250.7,72.8 L250.2,72.5 L249.6,72.0 L248.8,71.5 L248.2,71.1 L247.7,70.7 L247.2,70.4 L246.6,70.0 L245.9,69.5 L245.2,69.0 L244.7,68.7 L244.2,68.4 L243.6,68.0 L242.8,67.5 L242.2,67.1 L241.7,66.8 L241.2,66.5 L240.3,66.0 L239.7,65.7 L239.2,65.4 L238.5,65.0 L237.7,64.6 L237.2,64.4 L236.5,64.0 L235.7,63.6 L235.2,63.4 L234.2,63.0 L233.7,62.8 L233.0,62.5 L232.2,62.2 L231.7,62.0 L230.7,61.6 L230.2,61.4 L229.2,61.0 L228.7,60.9 L227.7,60.6 L227.2,60.4 L226.2,60.1 L225.7,60.0 L224.7,59.7 L223.7,59.5 L223.2,59.4 L222.2,59.2 L221.5,59.0 L220.7,58.8 L219.7,58.7 L218.8,58.5 L218.2,58.4 L217.2,58.2 L216.4,58.0 L215.7,57.9 L214.7,57.7 L213.7,57.5 L213.2,57.4 L212.2,57.2 L211.2,57.1 L210.6,57.0 L209.7,56.9 L208.7,56.7 L207.7,56.6 L206.7,56.6 L205.7,56.6 L204.7,56.6 L203.7,56.6 L202.7,56.6 L201.7,56.6 L200.7,56.6 L199.7,56.6 L198.7,56.7 L197.7,56.7 L196.7,56.8 L195.7,56.8 L194.7,56.9 L193.7,57.0 L193.2,57.0 L192.2,57.1 L191.2,57.1 L190.2,57.2 L189.2,57.2 L188.5,57.0 L187.7,56.7 L187.2,56.5 L186.4,56.0 L185.9,55.5 L185.7,54.5 L186.2,53.5 L186.6,53.0 L187.2,52.5 L187.7,52.1 L188.2,51.6 L188.7,51.1 L189.2,50.6 L189.7,50.2 L190.2,49.7 L190.7,49.3 L191.2,48.9 L191.8,48.5 L192.5,48.0 L193.2,47.5 L193.7,47.2 L194.2,46.9 L194.8,46.5 L195.6,46.0 L196.2,45.7 L196.7,45.3 L197.2,44.9 L197.7,44.5 L198.3,44.0 L199.0,43.5 L199.7,43.0 L200.2,42.6 L200.7,42.3 L201.2,41.9 L201.9,41.5 L202.6,41.0 L203.2,40.7 L203.7,40.4 L204.3,40.0 L205.2,39.5 L205.7,39.3 L206.6,39.0 L207.2,38.8 L207.9,38.5 L208.7,38.2 L209.3,38.0 L210.2,37.7 L210.9,37.5 L211.7,37.3 L212.7,37.0 L213.2,36.9 L214.2,36.6 L214.7,36.5 L215.7,36.3 L216.7,36.0 L217.2,35.9 L218.2,35.7 L219.2,35.6 L219.8,35.5 L220.7,35.5 L221.7,35.5 L222.2,35.5 L223.2,35.7 L224.2,35.8 L225.2,36.0 L225.7,36.0 L226.7,36.2 L227.7,36.4 L228.4,36.5 L229.2,36.7 L230.2,36.9 L230.8,37.0 L231.7,37.2 L232.7,37.4 L233.2,37.6 L234.2,37.8 L234.9,38.0 L235.7,38.2 L236.7,38.5 L237.2,38.7 L237.9,39.0 L238.7,39.4 L239.2,39.6 L239.9,40.0 L240.7,40.4 L241.2,40.7 L241.9,41.0 L242.7,41.4 L243.2,41.7 L243.7,42.0 L244.6,42.5 L245.2,42.8 L245.7,43.1 L246.3,43.5 L247.2,44.0 L247.7,44.3 L248.2,44.6 L248.8,45.0 L249.5,45.5 L250.2,45.9 L250.7,46.3 L251.2,46.7 L251.7,47.1 L252.3,47.5 L252.9,48.0 L253.5,48.5 L254.2,49.0 L254.7,49.5 L255.2,49.9 L255.7,50.3 L256.2,50.7 L256.7,51.2 L257.2,51.6 L257.7,52.1 L258.2,52.5 L258.7,53.0 L259.2,53.5 L259.9,54.0 L260.5,54.5 L261.1,55.0 L261.7,55.5 L262.2,55.9 L262.7,56.3 L263.2,56.7 L263.7,57.2 L264.2,57.6 L264.7,58.1 L265.2,58.5 L265.7,59.0 L266.3,59.5 L266.8,60.0 L267.3,60.5 L267.8,61.0 L268.3,61.5 L268.8,62.0 L269.3,62.5 L269.7,63.0 L270.2,63.5 L270.7,64.0 L271.2,64.6 L271.7,65.1 L272.2,65.7 L272.7,66.3 L273.2,66.8 L273.7,67.4 L274.2,68.0 L274.6,68.5 L275.0,69.0 L275.4,69.5 L275.8,70.0 L276.2,70.5 L276.7,71.2 L277.2,71.8 L277.7,72.5 L278.0,73.0 L278.3,73.5 L278.7,74.3 L279.1,75.0 L279.3,75.5 L279.7,76.2 L280.1,77.0 L280.3,77.5 L280.7,78.4 L281.0,79.0 L281.2,79.5 L281.6,80.5 L281.8,81.0 L282.2,81.8 L282.5,82.5 L282.7,83.1 L283.0,84.0 L283.2,84.5 L283.6,85.5 L283.8,86.0 L284.1,87.0 L284.3,87.5 L284.6,88.5 L284.8,89.0 L285.1,90.0 L285.2,90.5 L285.5,91.5 L285.7,92.2 L285.9,93.0 L286.2,94.0 L286.3,94.5 L286.5,95.5 L286.7,96.5 L286.8,97.0 L287.0,98.0 L287.2,99.0 L287.3,99.5 L287.5,100.5 L287.7,101.5 L287.7,102.0 L287.9,103.0 L288.1,104.0 L288.2,104.8 L288.3,105.5 L288.4,106.5 L288.6,107.5 L288.7,108.5 L288.7,109.0 L288.8,110.0 L288.9,111.0 L289.0,112.0 L289.1,113.0 L289.2,114.0 L289.2,114.5 L289.3,115.5 L289.4,116.5 L289.5,117.5 L289.6,118.5 L289.7,119.5 L289.7,120.5 L289.7,121.0 L289.8,122.0 L289.8,123.0 L289.8,124.0 L289.8,125.0 L289.8,126.0 L289.8,127.0 L289.8,128.0 L289.7,129.0 L289.7,129.7 L289.6,130.5 L289.5,131.5 L289.4,132.5 L289.3,133.5 L289.2,134.0 L289.0,135.0 L288.9,136.0 L288.7,136.9 L288.6,137.5 L288.4,138.5 L288.2,139.4 L288.1,140.0 L287.8,141.0 L287.7,141.6 L287.5,142.5 L287.2,143.5 L287.1,144.0 L286.8,145.0 L286.7,145.5 L286.3,146.5 L286.2,147.0 L285.9,148.0 L285.7,148.5 L285.4,149.5 L285.2,150.0 L284.8,151.0 L284.6,151.5 L284.2,152.5 L284.0,153.0 L283.7,153.6 L283.2,154.5 L282.9,155.0 L282.6,155.5 L282.2,156.2 L281.8,157.0 L281.4,157.5 L281.1,158.0 L280.7,158.7 L280.2,159.5 L279.9,160.0 L279.6,160.5 L279.2,161.0 L278.7,161.8 L278.2,162.5 L277.8,163.0 L277.5,163.5 L277.2,164.0 L276.7,164.8 L276.2,165.5 L275.9,166.0 L275.6,166.5 L275.2,167.1 L274.7,167.9 L274.3,168.5 L274.0,169.0 L273.6,169.5 L273.2,170.1 L272.7,170.8 L272.2,171.5 L271.8,172.0 L271.4,172.5 L271.1,173.0 L270.7,173.9 L270.4,174.5 L270.2,175.1 L269.8,176.0 L269.6,176.5 L269.2,177.3 L268.9,178.0 L268.6,178.5 L268.2,179.4 L267.9,180.0 L267.6,180.5 L267.2,181.2 L266.7,182.0 L266.4,182.5 L266.1,183.0 L265.7,183.6 L265.2,184.4 L264.8,185.0 L264.6,185.5 L264.2,186.2 L263.8,187.0 L263.5,187.5 L263.2,188.2 L262.7,189.0 L262.5,189.5 L262.2,190.0 L261.7,190.8 L261.3,191.5 L261.0,192.0 L260.7,192.5 L260.2,193.3 L259.7,194.0 L259.4,194.5 L259.1,195.0 L258.7,195.5 L258.2,196.2 L257.7,197.0 L257.3,197.5 L256.8,198.0 L256.4,198.5 L255.9,199.0 L255.5,199.5 L255.0,200.0 L254.5,200.5 L254.1,201.0 L253.6,201.5 L253.1,202.0 L252.6,202.5 L252.0,203.0 L251.5,203.5 L251.0,204.0 L250.4,204.5 L249.9,205.0 L249.3,205.5 L248.7,206.0 L248.2,206.4 L247.7,206.8 L247.2,207.2 L246.7,207.6 L246.2,208.0 L245.5,208.5 L244.7,209.0 L244.2,209.4 L243.7,209.7 L243.2,210.0 L242.4,210.5 L241.7,210.9 L241.2,211.2 L240.6,211.5 L239.7,211.9 L239.2,212.2 L238.4,212.5 L237.7,212.8 L237.0,213.0 L236.2,213.2 L235.2,213.5 L234.7,213.6Z M114.2,137.6 L113.2,137.9 L112.2,137.9 L111.2,137.5 L110.7,137.3 L110.2,136.9 L109.7,136.5 L109.2,136.0 L108.7,135.4 L108.2,134.7 L107.8,134.0 L107.5,133.5 L107.2,132.9 L106.8,132.0 L106.6,131.5 L106.5,130.5 L106.4,129.5 L106.3,128.5 L106.3,127.5 L106.2,126.5 L106.2,126.0 L106.2,125.0 L106.1,124.0 L106.1,123.0 L106.1,122.0 L106.2,121.0 L106.2,120.5 L106.5,119.5 L106.7,118.6 L106.9,118.0 L107.1,117.0 L107.3,116.5 L107.5,115.5 L107.7,114.9 L108.0,114.0 L108.2,113.3 L108.5,112.5 L108.7,112.0 L109.2,111.2 L109.7,110.5 L110.0,110.0 L110.4,109.5 L110.8,109.0 L111.3,108.5 L111.8,108.0 L112.5,107.5 L113.2,107.1 L113.7,107.0 L114.7,106.9 L115.2,107.0 L116.1,107.5 L116.7,108.0 L117.2,108.5 L117.6,109.0 L117.9,109.5 L118.2,110.0 L118.7,110.8 L119.0,111.5 L119.3,112.0 L119.7,112.9 L119.9,113.5 L120.1,114.5 L120.2,115.4 L120.3,116.0 L120.4,117.0 L120.5,118.0 L120.6,119.0 L120.7,119.5 L120.8,120.5 L120.9,121.5 L120.9,122.5 L120.8,123.5 L120.6,124.0 L120.4,125.0 L120.2,125.6 L119.9,126.5 L119.7,127.3 L119.5,128.0 L119.2,129.0 L119.0,129.5 L118.7,130.5 L118.5,131.0 L118.2,132.0 L118.0,132.5 L117.7,133.4 L117.4,134.0 L117.2,134.5 L116.7,135.3 L116.2,136.0 L115.7,136.5 L115.2,137.0 L114.7,137.3 L114.2,137.6Z M155.2,181.5 L154.2,181.6 L153.2,181.5 L152.5,181.5 L151.7,181.5 L150.7,181.3 L149.7,181.0 L149.2,180.9 L148.2,180.6 L147.7,180.5 L146.7,180.2 L146.0,180.0 L145.2,179.8 L144.3,179.5 L143.7,179.3 L142.7,179.0 L142.2,178.9 L141.2,178.6 L140.7,178.4 L139.8,178.0 L139.2,177.7 L138.7,177.4 L138.0,177.0 L137.2,176.5 L136.7,176.2 L136.2,175.9 L135.5,175.5 L134.7,175.0 L134.2,174.7 L133.7,174.4 L133.0,174.0 L132.2,173.5 L131.7,173.2 L131.2,172.9 L130.7,172.5 L130.2,172.0 L129.7,171.5 L129.2,171.0 L128.7,170.5 L128.2,170.0 L127.7,169.4 L127.2,168.8 L126.7,168.2 L126.2,167.5 L125.9,167.0 L125.5,166.5 L125.2,165.9 L124.8,165.0 L124.6,164.5 L124.4,163.5 L124.4,162.5 L124.7,161.8 L125.2,161.1 L125.7,160.7 L126.2,160.5 L127.2,160.2 L128.2,160.1 L129.2,160.1 L130.2,160.2 L131.2,160.4 L131.7,160.5 L132.7,160.7 L133.7,161.0 L134.2,161.2 L135.2,161.5 L135.7,161.7 L136.6,162.0 L137.2,162.2 L137.8,162.5 L138.7,162.9 L139.2,163.2 L139.8,163.5 L140.7,164.0 L141.2,164.3 L141.7,164.5 L142.6,165.0 L143.2,165.3 L143.7,165.6 L144.4,166.0 L145.2,166.4 L145.7,166.7 L146.2,167.0 L147.0,167.5 L147.7,167.9 L148.2,168.2 L148.7,168.5 L149.4,169.0 L150.2,169.5 L150.7,169.8 L151.2,170.1 L151.8,170.5 L152.6,171.0 L153.2,171.4 L153.7,171.7 L154.2,172.0 L154.9,172.5 L155.5,173.0 L156.0,173.5 L156.5,174.0 L157.0,174.5 L157.4,175.0 L157.9,175.5 L158.3,176.0 L158.7,176.7 L159.2,177.5 L159.4,178.0 L159.6,179.0 L159.3,180.0 L158.9,180.5 L158.2,180.9 L157.7,181.1 L156.7,181.4 L155.7,181.5 L155.2,181.5Z " fill="#fbb845" fill-rule="evenodd"/>
<path d="M238.2,208.5 L237.7,208.5 L236.7,208.2 L236.2,207.9 L235.7,207.3 L235.3,206.5 L235.2,206.0 L235.1,205.0 L235.1,204.0 L235.2,203.3 L235.3,202.5 L235.5,201.5 L235.7,200.5 L235.8,200.0 L236.0,199.0 L236.1,198.0 L236.2,197.4 L236.3,196.5 L236.5,195.5 L236.6,194.5 L236.7,193.5 L236.7,193.0 L236.8,192.0 L236.9,191.0 L237.0,190.0 L237.1,189.0 L237.2,188.2 L237.4,187.5 L237.7,186.5 L237.9,186.0 L238.2,185.1 L238.4,184.5 L238.7,183.7 L239.0,183.0 L239.2,182.2 L239.4,181.5 L239.7,180.7 L239.9,180.0 L240.2,179.0 L240.4,178.5 L240.6,177.5 L240.8,177.0 L241.0,176.0 L241.2,175.5 L241.6,174.5 L241.8,174.0 L242.2,173.1 L242.5,172.5 L242.7,172.0 L243.1,171.0 L243.3,170.5 L243.7,169.6 L243.9,169.0 L244.2,168.4 L244.6,167.5 L244.9,167.0 L245.2,166.5 L245.7,165.7 L246.1,165.0 L246.4,164.5 L246.7,164.0 L247.2,163.2 L247.6,162.5 L247.9,162.0 L248.2,161.5 L248.7,160.5 L249.0,160.0 L249.3,159.5 L249.7,159.0 L250.2,158.3 L250.7,157.7 L251.2,157.1 L251.7,156.6 L252.2,156.1 L252.7,155.6 L253.2,155.1 L253.7,154.5 L254.2,154.0 L254.6,153.5 L255.1,153.0 L255.5,152.5 L255.9,152.0 L256.3,151.5 L256.7,151.0 L257.2,150.4 L257.7,149.8 L258.2,149.1 L258.7,148.5 L259.2,148.0 L259.7,147.6 L260.2,147.2 L260.7,146.8 L261.2,146.5 L262.0,146.0 L262.7,145.6 L263.2,145.3 L263.7,145.0 L264.4,144.5 L265.2,144.0 L265.7,143.6 L266.2,143.3 L266.7,142.9 L267.2,142.1 L267.4,141.5 L267.7,140.7 L267.9,140.0 L268.2,139.1 L268.4,138.5 L268.7,137.5 L268.8,137.0 L269.1,136.0 L269.2,135.3 L269.3,134.5 L269.5,133.5 L269.6,132.5 L269.7,131.7 L269.8,131.0 L269.9,130.0 L270.0,129.0 L270.1,128.0 L270.2,127.0 L270.2,126.4 L270.3,125.5 L270.3,124.5 L270.4,123.5 L270.4,122.5 L270.5,121.5 L270.5,120.5 L270.5,119.5 L270.5,118.5 L270.4,117.5 L270.4,116.5 L270.4,115.5 L270.3,114.5 L270.2,113.5 L270.1,113.0 L270.0,112.0 L269.9,111.0 L269.7,110.0 L269.6,109.5 L269.5,108.5 L269.3,107.5 L269.2,107.0 L269.0,106.0 L268.8,105.0 L268.7,104.5 L268.5,103.5 L268.2,102.5 L268.1,102.0 L267.9,101.0 L267.7,100.0 L267.6,99.5 L267.4,98.5 L267.2,97.8 L267.0,97.0 L266.8,96.0 L266.6,95.5 L266.4,94.5 L266.2,93.8 L266.0,93.0 L265.7,92.0 L265.6,91.5 L265.3,90.5 L265.1,90.0 L264.7,89.1 L264.5,88.5 L264.2,87.9 L263.8,87.0 L263.6,86.5 L263.2,85.6 L263.0,85.0 L262.7,84.5 L262.3,83.5 L262.0,83.0 L261.7,82.5 L261.2,81.8 L260.7,81.1 L260.2,80.5 L259.8,80.0 L259.4,79.5 L259.0,79.0 L258.6,78.5 L258.2,78.0 L257.7,77.4 L257.2,76.8 L256.7,76.2 L256.2,75.6 L255.7,75.1 L255.2,74.6 L254.7,74.3 L254.2,73.9 L253.7,73.5 L253.0,73.0 L252.3,72.5 L251.7,72.1 L251.2,71.8 L250.7,71.4 L250.1,71.0 L249.3,70.5 L248.7,70.1 L248.2,69.8 L247.7,69.5 L247.0,69.0 L246.2,68.5 L245.7,68.2 L245.2,67.9 L244.6,67.5 L243.8,67.0 L243.2,66.6 L242.7,66.3 L242.1,66.0 L241.2,65.5 L240.7,65.2 L240.2,64.9 L239.4,64.5 L238.7,64.1 L238.2,63.9 L237.4,63.5 L236.7,63.2 L236.2,62.9 L235.2,62.5 L234.7,62.3 L234.0,62.0 L233.2,61.7 L232.7,61.5 L231.7,61.1 L231.2,60.9 L230.2,60.5 L229.7,60.4 L228.7,60.0 L228.2,59.9 L227.2,59.6 L226.7,59.4 L225.7,59.2 L225.1,59.0 L224.2,58.8 L223.2,58.5 L222.7,58.4 L221.7,58.2 L220.7,58.0 L220.2,57.9 L219.2,57.7 L218.2,57.5 L217.7,57.4 L216.7,57.2 L215.9,57.0 L215.2,56.9 L214.2,56.6 L213.5,56.5 L212.7,56.3 L211.7,56.2 L210.9,56.0 L210.2,55.9 L209.2,55.7 L208.2,55.5 L207.7,55.4 L206.7,55.3 L205.7,55.3 L204.7,55.2 L203.7,55.2 L202.7,55.1 L201.7,55.0 L201.2,55.0 L200.2,54.9 L199.2,54.8 L198.2,54.7 L197.2,54.7 L196.2,54.6 L195.4,54.5 L194.7,54.4 L193.7,54.1 L193.2,53.9 L192.7,53.5 L192.3,52.5 L192.7,51.5 L193.0,51.0 L193.3,50.5 L193.8,50.0 L194.3,49.5 L194.8,49.0 L195.4,48.5 L196.1,48.0 L196.7,47.6 L197.2,47.2 L197.7,46.6 L198.2,46.1 L198.7,45.7 L199.2,45.2 L199.7,44.8 L200.2,44.4 L200.7,43.9 L201.3,43.5 L202.0,43.0 L202.6,42.5 L203.2,42.1 L203.7,41.8 L204.2,41.5 L205.0,41.0 L205.7,40.6 L206.2,40.4 L207.1,40.0 L207.7,39.7 L208.3,39.5 L209.2,39.2 L209.7,39.0 L210.7,38.6 L211.2,38.4 L212.2,38.1 L212.7,38.0 L213.7,37.7 L214.4,37.5 L215.2,37.3 L216.2,37.0 L216.7,36.9 L217.7,36.7 L218.7,36.5 L219.2,36.4 L220.2,36.3 L221.2,36.3 L222.2,36.4 L223.2,36.5 L223.7,36.6 L224.7,36.7 L225.7,36.9 L226.5,37.0 L227.2,37.1 L228.2,37.3 L229.2,37.5 L229.7,37.6 L230.7,37.8 L231.5,38.0 L232.2,38.2 L233.2,38.4 L233.7,38.5 L234.7,38.8 L235.5,39.0 L236.2,39.2 L237.0,39.5 L237.7,39.8 L238.2,40.1 L239.1,40.5 L239.7,40.8 L240.2,41.1 L241.0,41.5 L241.7,41.8 L242.2,42.1 L242.9,42.5 L243.7,42.9 L244.2,43.2 L244.7,43.5 L245.5,44.0 L246.2,44.4 L246.7,44.7 L247.2,45.0 L248.0,45.5 L248.7,46.0 L249.2,46.3 L249.7,46.6 L250.2,47.0 L250.8,47.5 L251.5,48.0 L252.1,48.5 L252.7,49.0 L253.2,49.4 L253.7,49.8 L254.2,50.2 L254.7,50.7 L255.2,51.1 L255.7,51.6 L256.2,52.0 L256.7,52.5 L257.3,53.0 L257.8,53.5 L258.3,54.0 L258.8,54.5 L259.4,55.0 L260.0,55.5 L260.6,56.0 L261.2,56.5 L261.7,56.9 L262.2,57.4 L262.7,57.8 L263.2,58.3 L263.7,58.8 L264.2,59.2 L264.7,59.7 L265.2,60.2 L265.7,60.7 L266.2,61.2 L266.7,61.7 L267.2,62.3 L267.7,62.8 L268.2,63.3 L268.7,63.8 L269.2,64.4 L269.7,64.9 L270.2,65.5 L270.7,66.0 L271.1,66.5 L271.5,67.0 L271.9,67.5 L272.4,68.0 L272.8,68.5 L273.2,69.0 L273.7,69.6 L274.2,70.3 L274.7,70.9 L275.2,71.5 L275.5,72.0 L275.9,72.5 L276.3,73.0 L276.7,73.6 L277.2,74.5 L277.5,75.0 L277.8,75.5 L278.2,76.3 L278.5,77.0 L278.8,77.5 L279.2,78.3 L279.5,79.0 L279.8,79.5 L280.2,80.4 L280.5,81.0 L280.7,81.5 L281.1,82.5 L281.3,83.0 L281.7,83.9 L281.9,84.5 L282.2,85.1 L282.6,86.0 L282.8,86.5 L283.2,87.5 L283.3,88.0 L283.7,89.0 L283.9,89.5 L284.2,90.4 L284.4,91.0 L284.7,92.0 L284.8,92.5 L285.1,93.5 L285.3,94.0 L285.5,95.0 L285.7,95.7 L285.9,96.5 L286.1,97.5 L286.2,98.0 L286.4,99.0 L286.6,100.0 L286.7,100.5 L286.9,101.5 L287.1,102.5 L287.2,103.0 L287.4,104.0 L287.5,105.0 L287.7,106.0 L287.7,106.5 L287.9,107.5 L288.0,108.5 L288.1,109.5 L288.2,110.4 L288.3,111.0 L288.3,112.0 L288.4,113.0 L288.6,114.0 L288.7,115.0 L288.7,115.5 L288.8,116.5 L288.9,117.5 L288.9,118.5 L289.0,119.5 L289.1,120.5 L289.1,121.5 L289.1,122.5 L289.1,123.5 L289.2,124.5 L289.2,125.5 L289.1,126.5 L289.1,127.5 L289.1,128.5 L289.0,129.5 L289.0,130.5 L288.8,131.5 L288.7,132.4 L288.6,133.0 L288.4,134.0 L288.3,135.0 L288.2,135.5 L288.0,136.5 L287.8,137.5 L287.7,138.0 L287.4,139.0 L287.2,140.0 L287.1,140.5 L286.8,141.5 L286.7,142.0 L286.4,143.0 L286.2,143.6 L285.9,144.5 L285.7,145.2 L285.4,146.0 L285.2,146.7 L284.9,147.5 L284.7,148.0 L284.3,149.0 L284.1,149.5 L283.7,150.5 L283.5,151.0 L283.2,151.7 L282.9,152.5 L282.6,153.0 L282.2,153.7 L281.7,154.5 L281.4,155.0 L281.1,155.5 L280.7,156.1 L280.2,156.9 L279.8,157.5 L279.5,158.0 L279.1,158.5 L278.7,159.1 L278.2,159.8 L277.7,160.5 L277.4,161.0 L277.0,161.5 L276.6,162.0 L276.2,162.5 L275.7,163.3 L275.3,164.0 L275.0,164.5 L274.7,165.0 L274.2,165.7 L273.7,166.5 L273.4,167.0 L273.1,167.5 L272.7,168.0 L272.2,168.8 L271.7,169.5 L271.3,170.0 L271.0,170.5 L270.6,171.0 L270.2,171.6 L269.7,172.4 L269.5,173.0 L269.2,173.8 L268.9,174.5 L268.7,175.1 L268.3,176.0 L268.1,176.5 L267.7,177.5 L267.5,178.0 L267.2,178.6 L266.7,179.5 L266.4,180.0 L266.1,180.5 L265.7,181.2 L265.2,182.0 L264.9,182.5 L264.5,183.0 L264.2,183.5 L263.7,184.3 L263.3,185.0 L263.0,185.5 L262.7,186.1 L262.2,187.0 L261.9,187.5 L261.6,188.0 L261.2,188.7 L260.7,189.5 L260.4,190.0 L260.1,190.5 L259.7,191.1 L259.2,191.9 L258.8,192.5 L258.5,193.0 L258.1,193.5 L257.7,194.1 L257.2,194.8 L256.7,195.4 L256.3,196.0 L255.8,196.5 L255.4,197.0 L254.9,197.5 L254.5,198.0 L254.0,198.5 L253.5,199.0 L253.0,199.5 L252.5,200.0 L251.9,200.5 L251.4,201.0 L250.9,201.5 L250.3,202.0 L249.7,202.5 L249.2,202.9 L248.7,203.4 L248.2,203.8 L247.7,204.2 L247.2,204.5 L246.6,205.0 L245.8,205.5 L245.2,205.9 L244.7,206.2 L244.2,206.5 L243.2,207.0 L242.7,207.3 L242.2,207.5 L241.2,207.9 L240.7,208.1 L239.7,208.3 L238.7,208.5 L238.2,208.5Z M112.7,133.6 L112.0,133.5 L111.2,133.3 L110.7,133.0 L110.1,132.5 L109.6,132.0 L109.2,131.1 L109.0,130.5 L108.8,129.5 L108.6,129.0 L108.5,128.0 L108.3,127.0 L108.2,126.4 L108.1,125.5 L108.0,124.5 L107.9,123.5 L107.8,122.5 L107.8,121.5 L108.0,120.5 L108.2,119.7 L108.4,119.0 L108.7,118.3 L109.0,117.5 L109.2,116.9 L109.6,116.0 L109.8,115.5 L110.2,114.7 L110.6,114.0 L110.8,113.5 L111.2,112.9 L111.7,112.4 L112.2,112.0 L113.2,111.5 L113.7,111.4 L114.7,111.5 L115.2,111.7 L115.8,112.0 L116.4,112.5 L116.9,113.0 L117.2,113.6 L117.6,114.5 L117.7,115.0 L118.0,116.0 L118.2,116.5 L118.4,117.5 L118.7,118.5 L118.8,119.0 L119.0,120.0 L119.2,121.0 L119.2,121.5 L119.2,122.5 L119.2,123.0 L118.9,124.0 L118.7,124.5 L118.3,125.5 L118.2,126.0 L117.8,127.0 L117.6,127.5 L117.2,128.4 L116.9,129.0 L116.7,129.5 L116.2,130.5 L115.9,131.0 L115.7,131.5 L115.2,132.2 L114.7,132.7 L114.2,133.1 L113.2,133.5 L112.7,133.6Z M152.7,179.1 L151.7,179.1 L150.9,179.0 L150.2,178.9 L149.2,178.7 L148.2,178.5 L147.7,178.4 L146.7,178.2 L145.8,178.0 L145.2,177.9 L144.2,177.6 L143.6,177.5 L142.7,177.3 L141.7,177.0 L141.2,176.8 L140.5,176.5 L139.8,176.0 L139.2,175.6 L138.7,175.3 L138.2,175.0 L137.5,174.5 L136.8,174.0 L136.2,173.6 L135.7,173.2 L135.2,172.9 L134.7,172.5 L134.0,172.0 L133.3,171.5 L132.7,171.0 L132.2,170.6 L131.8,170.0 L131.5,169.5 L131.2,169.0 L130.7,168.0 L130.6,167.5 L130.4,166.5 L130.6,165.5 L131.0,165.0 L131.7,164.5 L132.2,164.3 L133.2,164.2 L134.2,164.1 L135.2,164.2 L136.2,164.4 L136.7,164.6 L137.7,165.0 L138.2,165.2 L139.0,165.5 L139.7,165.8 L140.2,166.0 L141.2,166.5 L141.7,166.7 L142.4,167.0 L143.2,167.4 L143.7,167.6 L144.5,168.0 L145.2,168.3 L145.7,168.7 L146.2,169.0 L147.0,169.5 L147.7,170.0 L148.2,170.4 L148.7,170.7 L149.2,171.1 L149.8,171.5 L150.5,172.0 L151.2,172.5 L151.7,172.9 L152.2,173.3 L152.7,173.7 L153.2,174.1 L153.7,174.5 L154.2,175.0 L154.7,176.0 L154.8,176.5 L154.7,177.5 L154.5,178.0 L154.0,178.5 L153.2,178.9 L152.7,179.1Z " fill="#f89b30" fill-rule="evenodd"/>
<path d="M243.7,203.1 L242.7,203.3 L241.7,203.4 L240.7,203.2 L240.1,203.0 L239.5,202.5 L239.1,202.0 L238.7,201.2 L238.5,200.5 L238.4,199.5 L238.3,198.5 L238.3,197.5 L238.3,196.5 L238.3,195.5 L238.4,194.5 L238.4,193.5 L238.4,192.5 L238.4,191.5 L238.5,190.5 L238.5,189.5 L238.6,188.5 L238.7,187.8 L238.9,187.0 L239.2,186.1 L239.4,185.5 L239.7,184.5 L239.8,184.0 L240.1,183.0 L240.3,182.5 L240.6,181.5 L240.7,181.0 L241.0,180.0 L241.2,179.1 L241.3,178.5 L241.6,177.5 L241.7,177.0 L241.9,176.0 L242.2,175.2 L242.5,174.5 L242.7,174.0 L243.1,173.0 L243.4,172.5 L243.7,171.7 L244.0,171.0 L244.2,170.4 L244.6,169.5 L244.8,169.0 L245.2,168.0 L245.5,167.5 L245.8,167.0 L246.2,166.3 L246.7,165.6 L247.1,165.0 L247.4,164.5 L247.7,164.0 L248.2,163.2 L248.6,162.5 L248.9,162.0 L249.2,161.5 L249.7,160.7 L250.1,160.0 L250.5,159.5 L250.8,159.0 L251.2,158.5 L251.7,158.0 L252.2,157.5 L252.7,157.0 L253.2,156.5 L253.7,156.0 L254.2,155.5 L254.7,155.0 L255.2,154.4 L255.7,153.9 L256.2,153.3 L256.7,152.8 L257.2,152.2 L257.7,151.6 L258.2,151.0 L258.6,150.5 L259.0,150.0 L259.4,149.5 L259.9,149.0 L260.5,148.5 L261.2,148.0 L261.7,147.7 L262.2,147.4 L262.8,147.0 L263.6,146.5 L264.2,146.1 L264.7,145.8 L265.2,145.4 L265.8,145.0 L266.5,144.5 L267.2,144.0 L267.7,143.6 L267.9,143.0 L268.2,142.1 L268.4,141.5 L268.7,140.5 L268.8,140.0 L269.1,139.0 L269.3,138.5 L269.6,137.5 L269.7,137.0 L269.9,136.0 L270.0,135.0 L270.2,134.0 L270.2,133.5 L270.4,132.5 L270.5,131.5 L270.6,130.5 L270.6,129.5 L270.7,128.8 L270.8,128.0 L270.9,127.0 L270.9,126.0 L271.0,125.0 L271.1,124.0 L271.1,123.0 L271.1,122.0 L271.2,121.0 L271.2,120.0 L271.1,119.0 L271.1,118.0 L271.1,117.0 L271.1,116.0 L271.0,115.0 L270.9,114.0 L270.8,113.0 L270.7,112.0 L270.7,111.5 L270.5,110.5 L270.4,109.5 L270.2,108.5 L270.1,108.0 L270.0,107.0 L269.8,106.0 L269.7,105.5 L269.5,104.5 L269.3,103.5 L269.2,103.0 L269.0,102.0 L268.8,101.0 L268.7,100.5 L268.5,99.5 L268.3,98.5 L268.2,97.8 L268.0,97.0 L267.8,96.0 L267.7,95.3 L267.5,94.5 L267.3,93.5 L267.2,92.8 L267.0,92.0 L266.8,91.0 L266.7,90.4 L266.4,89.5 L266.2,89.0 L265.8,88.0 L265.7,87.5 L265.3,86.5 L265.1,86.0 L264.7,85.1 L264.5,84.5 L264.2,83.8 L263.8,83.0 L263.6,82.5 L263.2,81.7 L262.7,81.0 L262.3,80.5 L262.0,80.0 L261.6,79.5 L261.2,79.0 L260.7,78.4 L260.2,77.8 L259.7,77.2 L259.2,76.6 L258.7,76.0 L258.2,75.5 L257.8,75.0 L257.3,74.5 L256.9,74.0 L256.2,73.5 L255.7,73.1 L255.2,72.8 L254.7,72.5 L254.0,72.0 L253.2,71.5 L252.7,71.2 L252.2,70.9 L251.6,70.5 L250.8,70.0 L250.2,69.6 L249.7,69.3 L249.2,69.0 L248.3,68.5 L247.7,68.1 L247.2,67.8 L246.7,67.5 L245.9,67.0 L245.2,66.6 L244.7,66.3 L244.2,66.0 L243.3,65.5 L242.7,65.2 L242.2,64.9 L241.4,64.5 L240.7,64.1 L240.2,63.8 L239.5,63.5 L238.7,63.1 L238.2,62.9 L237.4,62.5 L236.7,62.2 L236.2,61.9 L235.2,61.5 L234.7,61.3 L234.0,61.0 L233.2,60.7 L232.7,60.5 L231.7,60.1 L231.2,59.9 L230.2,59.6 L229.7,59.4 L228.7,59.1 L228.2,58.9 L227.2,58.6 L226.7,58.5 L225.7,58.2 L224.8,58.0 L224.2,57.9 L223.2,57.6 L222.7,57.5 L221.7,57.3 L220.7,57.1 L220.1,57.0 L219.2,56.8 L218.2,56.6 L217.7,56.5 L216.7,56.2 L215.8,56.0 L215.2,55.8 L214.2,55.6 L213.7,55.5 L212.7,55.2 L211.7,55.0 L211.2,54.9 L210.2,54.6 L209.6,54.5 L208.7,54.3 L207.7,54.0 L207.2,53.9 L206.2,53.8 L205.2,53.6 L204.5,53.5 L203.7,53.4 L202.7,53.1 L202.2,53.0 L201.2,52.7 L200.7,52.5 L199.9,52.0 L199.4,51.5 L199.1,51.0 L198.9,50.0 L199.1,49.0 L199.3,48.5 L199.7,47.8 L200.2,47.1 L200.6,46.5 L201.1,46.0 L201.6,45.5 L202.1,45.0 L202.7,44.5 L203.2,44.0 L203.7,43.6 L204.2,43.2 L204.7,42.9 L205.2,42.5 L206.0,42.0 L206.7,41.6 L207.2,41.4 L207.9,41.0 L208.7,40.6 L209.2,40.4 L210.2,40.0 L210.7,39.8 L211.5,39.5 L212.2,39.2 L212.9,39.0 L213.7,38.7 L214.5,38.5 L215.2,38.3 L216.2,38.0 L216.7,37.9 L217.7,37.6 L218.3,37.5 L219.2,37.3 L220.2,37.2 L221.2,37.2 L222.2,37.3 L223.2,37.4 L223.9,37.5 L224.7,37.6 L225.7,37.8 L226.7,37.9 L227.2,38.0 L228.2,38.2 L229.2,38.4 L229.7,38.5 L230.7,38.7 L231.7,39.0 L232.2,39.1 L233.2,39.3 L233.9,39.5 L234.7,39.7 L235.7,40.0 L236.2,40.2 L237.0,40.5 L237.7,40.8 L238.2,41.1 L239.1,41.5 L239.7,41.8 L240.2,42.1 L241.0,42.5 L241.7,42.9 L242.2,43.2 L242.8,43.5 L243.7,44.0 L244.2,44.3 L244.7,44.6 L245.4,45.0 L246.2,45.5 L246.7,45.8 L247.2,46.1 L247.8,46.5 L248.6,47.0 L249.2,47.4 L249.7,47.8 L250.2,48.2 L250.7,48.6 L251.2,49.0 L251.8,49.5 L252.4,50.0 L253.0,50.5 L253.5,51.0 L254.1,51.5 L254.6,52.0 L255.2,52.5 L255.7,53.0 L256.2,53.5 L256.7,54.0 L257.2,54.5 L257.7,55.0 L258.2,55.5 L258.7,56.0 L259.2,56.4 L259.7,56.8 L260.2,57.3 L260.7,57.7 L261.2,58.2 L261.7,58.7 L262.2,59.2 L262.7,59.7 L263.2,60.2 L263.7,60.7 L264.2,61.2 L264.7,61.8 L265.2,62.3 L265.7,62.9 L266.2,63.5 L266.7,64.0 L267.1,64.5 L267.6,65.0 L268.0,65.5 L268.5,66.0 L268.9,66.5 L269.4,67.0 L269.8,67.5 L270.2,68.0 L270.7,68.6 L271.2,69.2 L271.7,69.8 L272.2,70.4 L272.6,71.0 L273.0,71.5 L273.4,72.0 L273.8,72.5 L274.2,73.1 L274.7,73.8 L275.2,74.5 L275.5,75.0 L275.8,75.5 L276.2,76.1 L276.7,77.0 L277.0,77.5 L277.3,78.0 L277.7,78.8 L278.1,79.5 L278.3,80.0 L278.7,80.8 L279.1,81.5 L279.3,82.0 L279.7,82.9 L280.0,83.5 L280.2,84.0 L280.6,85.0 L280.9,85.5 L281.2,86.2 L281.6,87.0 L281.8,87.5 L282.2,88.3 L282.5,89.0 L282.7,89.5 L283.1,90.5 L283.3,91.0 L283.6,92.0 L283.8,92.5 L284.1,93.5 L284.3,94.0 L284.6,95.0 L284.7,95.5 L285.0,96.5 L285.2,97.4 L285.4,98.0 L285.6,99.0 L285.7,99.5 L285.9,100.5 L286.1,101.5 L286.2,102.0 L286.4,103.0 L286.6,104.0 L286.7,104.6 L286.9,105.5 L287.0,106.5 L287.2,107.5 L287.2,108.0 L287.3,109.0 L287.5,110.0 L287.6,111.0 L287.7,112.0 L287.7,112.5 L287.8,113.5 L287.9,114.5 L288.0,115.5 L288.1,116.5 L288.2,117.5 L288.2,118.0 L288.3,119.0 L288.3,120.0 L288.4,121.0 L288.4,122.0 L288.4,123.0 L288.5,124.0 L288.5,125.0 L288.4,126.0 L288.4,127.0 L288.4,128.0 L288.4,129.0 L288.3,130.0 L288.2,130.8 L288.1,131.5 L287.9,132.5 L287.7,133.5 L287.6,134.0 L287.4,135.0 L287.2,136.0 L287.1,136.5 L286.9,137.5 L286.7,138.2 L286.5,139.0 L286.2,140.0 L286.1,140.5 L285.8,141.5 L285.6,142.0 L285.3,143.0 L285.1,143.5 L284.8,144.5 L284.6,145.0 L284.2,146.0 L284.0,146.5 L283.7,147.3 L283.4,148.0 L283.2,148.5 L282.7,149.5 L282.5,150.0 L282.2,150.6 L281.8,151.5 L281.5,152.0 L281.2,152.6 L280.7,153.4 L280.3,154.0 L280.0,154.5 L279.6,155.0 L279.2,155.6 L278.7,156.3 L278.2,157.0 L277.9,157.5 L277.5,158.0 L277.1,158.5 L276.7,159.1 L276.2,159.7 L275.7,160.3 L275.2,161.0 L274.8,161.5 L274.3,162.0 L274.0,162.5 L273.7,163.1 L273.2,163.9 L272.8,164.5 L272.5,165.0 L272.2,165.5 L271.7,166.3 L271.3,167.0 L270.9,167.5 L270.6,168.0 L270.2,168.6 L269.7,169.3 L269.2,170.0 L268.8,170.5 L268.5,171.0 L268.2,172.0 L268.0,172.5 L267.7,173.5 L267.5,174.0 L267.2,174.9 L267.0,175.5 L266.7,176.2 L266.4,177.0 L266.2,177.5 L265.7,178.5 L265.4,179.0 L265.1,179.5 L264.7,180.1 L264.2,180.9 L263.8,181.5 L263.5,182.0 L263.1,182.5 L262.7,183.1 L262.2,183.9 L261.8,184.5 L261.5,185.0 L261.2,185.6 L260.7,186.4 L260.4,187.0 L260.1,187.5 L259.7,188.1 L259.2,188.8 L258.7,189.5 L258.4,190.0 L258.0,190.5 L257.7,191.0 L257.2,191.7 L256.7,192.3 L256.2,193.0 L255.8,193.5 L255.3,194.0 L254.9,194.5 L254.5,195.0 L254.0,195.5 L253.5,196.0 L253.0,196.5 L252.5,197.0 L252.0,197.5 L251.4,198.0 L250.8,198.5 L250.2,199.0 L249.7,199.4 L249.2,199.8 L248.7,200.2 L248.2,200.6 L247.6,201.0 L246.8,201.5 L246.2,201.9 L245.7,202.2 L245.0,202.5 L244.2,202.9 L243.7,203.1Z M113.7,126.6 L112.7,126.7 L112.2,126.4 L111.7,125.9 L111.2,125.2 L110.9,124.5 L110.7,124.0 L110.3,123.0 L110.2,122.2 L110.2,121.8 L110.3,121.0 L110.7,120.2 L111.2,119.5 L111.6,119.0 L112.0,118.5 L112.7,118.0 L113.2,117.8 L114.2,117.8 L114.7,118.0 L115.2,118.5 L115.7,119.1 L116.2,119.9 L116.4,120.5 L116.7,121.2 L116.8,122.0 L116.7,122.8 L116.4,123.5 L116.1,124.0 L115.7,124.7 L115.2,125.4 L114.7,125.9 L114.2,126.3 L113.7,126.6Z M145.2,174.0 L144.7,174.2 L144.2,174.3 L143.7,174.4 L143.2,174.4 L142.7,174.4 L142.2,174.2 L141.8,174.0 L141.7,173.9 L141.3,173.5 L141.2,173.4 L140.9,173.0 L140.7,172.7 L140.5,172.5 L140.2,172.0 L140.2,171.9 L140.0,171.5 L140.0,171.0 L140.2,170.8 L140.5,170.5 L140.7,170.4 L141.2,170.4 L141.7,170.4 L142.2,170.4 L142.7,170.5 L142.8,170.5 L143.2,170.6 L143.7,170.7 L144.2,171.0 L144.2,171.0 L144.7,171.5 L144.7,171.5 L145.1,172.0 L145.2,172.2 L145.4,172.5 L145.6,173.0 L145.6,173.5 L145.3,174.0 L145.2,174.0Z " fill="#f47b2a" fill-rule="evenodd"/>
<path d="M246.2,197.6 L245.2,197.8 L244.2,197.9 L243.2,197.6 L242.7,197.4 L242.2,196.9 L241.7,196.4 L241.3,195.5 L241.1,195.0 L240.8,194.0 L240.7,193.3 L240.6,192.5 L240.5,191.5 L240.4,190.5 L240.3,189.5 L240.3,188.5 L240.5,187.5 L240.7,186.5 L240.8,186.0 L241.0,185.0 L241.2,184.2 L241.4,183.5 L241.6,182.5 L241.7,182.0 L241.9,181.0 L242.1,180.0 L242.2,179.5 L242.4,178.5 L242.6,177.5 L242.7,177.0 L243.0,176.0 L243.2,175.3 L243.5,174.5 L243.7,174.0 L244.1,173.0 L244.3,172.5 L244.7,171.5 L244.9,171.0 L245.2,170.2 L245.5,169.5 L245.7,168.9 L246.2,168.0 L246.4,167.5 L246.7,167.0 L247.2,166.3 L247.7,165.6 L248.1,165.0 L248.4,164.5 L248.8,164.0 L249.2,163.3 L249.7,162.6 L250.1,162.0 L250.4,161.5 L250.7,161.0 L251.2,160.3 L251.7,159.6 L252.2,159.0 L252.7,158.5 L253.2,158.1 L253.7,157.6 L254.2,157.1 L254.7,156.6 L255.2,156.1 L255.7,155.6 L256.2,155.1 L256.7,154.6 L257.2,154.1 L257.7,153.6 L258.2,153.0 L258.7,152.5 L259.1,152.0 L259.5,151.5 L260.0,151.0 L260.4,150.5 L261.0,150.0 L261.6,149.5 L262.2,149.1 L262.7,148.8 L263.2,148.5 L264.0,148.0 L264.7,147.5 L265.2,147.2 L265.7,146.8 L266.2,146.5 L266.8,146.0 L267.5,145.5 L268.1,145.0 L268.6,144.5 L268.7,144.0 L269.0,143.0 L269.2,142.4 L269.5,141.5 L269.7,140.6 L269.9,140.0 L270.1,139.0 L270.3,138.5 L270.5,137.5 L270.7,136.5 L270.8,136.0 L270.9,135.0 L271.0,134.0 L271.1,133.0 L271.2,132.3 L271.3,131.5 L271.4,130.5 L271.4,129.5 L271.5,128.5 L271.6,127.5 L271.7,126.5 L271.7,126.0 L271.8,125.0 L271.8,124.0 L271.9,123.0 L271.9,122.0 L271.9,121.0 L271.9,120.0 L271.9,119.0 L271.9,118.0 L271.8,117.0 L271.8,116.0 L271.7,115.0 L271.7,114.5 L271.6,113.5 L271.5,112.5 L271.4,111.5 L271.3,110.5 L271.2,109.7 L271.1,109.0 L271.0,108.0 L270.8,107.0 L270.7,106.3 L270.6,105.5 L270.4,104.5 L270.2,103.6 L270.1,103.0 L269.9,102.0 L269.7,101.0 L269.7,100.5 L269.5,99.5 L269.4,98.5 L269.2,97.5 L269.2,97.0 L269.0,96.0 L268.9,95.0 L268.8,94.0 L268.7,93.5 L268.6,92.5 L268.4,91.5 L268.3,90.5 L268.2,89.5 L268.1,89.0 L267.8,88.0 L267.6,87.5 L267.3,86.5 L267.1,86.0 L266.8,85.0 L266.6,84.5 L266.3,83.5 L266.1,83.0 L265.8,82.0 L265.6,81.5 L265.2,80.5 L264.8,80.0 L264.4,79.5 L264.0,79.0 L263.6,78.5 L263.2,78.0 L262.7,77.4 L262.2,76.8 L261.7,76.2 L261.2,75.6 L260.7,75.1 L260.2,74.5 L259.7,74.0 L259.2,73.5 L258.8,73.0 L258.3,72.5 L257.7,72.1 L257.2,71.9 L256.5,71.5 L255.7,71.0 L255.2,70.7 L254.7,70.5 L253.9,70.0 L253.2,69.6 L252.7,69.4 L252.1,69.0 L251.2,68.5 L250.7,68.2 L250.2,68.0 L249.3,67.5 L248.7,67.2 L248.2,66.9 L247.5,66.5 L246.7,66.0 L246.2,65.8 L245.7,65.5 L244.8,65.0 L244.2,64.7 L243.7,64.4 L242.9,64.0 L242.2,63.7 L241.7,63.4 L240.9,63.0 L240.2,62.7 L239.7,62.4 L238.8,62.0 L238.2,61.7 L237.7,61.5 L236.7,61.1 L236.2,60.8 L235.4,60.5 L234.7,60.2 L234.2,60.0 L233.2,59.6 L232.7,59.4 L231.7,59.1 L231.2,58.9 L230.2,58.6 L229.7,58.4 L228.7,58.1 L228.2,57.9 L227.2,57.6 L226.7,57.5 L225.7,57.2 L224.8,57.0 L224.2,56.8 L223.2,56.6 L222.7,56.5 L221.7,56.3 L220.7,56.1 L220.2,56.0 L219.2,55.8 L218.2,55.6 L217.7,55.4 L216.7,55.1 L216.2,55.0 L215.2,54.7 L214.5,54.5 L213.7,54.3 L212.8,54.0 L212.2,53.8 L211.2,53.5 L210.7,53.3 L209.7,53.0 L209.2,52.8 L208.4,52.5 L207.7,52.2 L207.2,52.0 L206.2,51.6 L205.7,51.4 L204.8,51.0 L204.2,50.6 L203.7,50.1 L203.3,49.5 L203.2,49.0 L203.2,48.4 L203.4,47.5 L203.7,46.9 L204.2,46.2 L204.7,45.5 L205.2,45.0 L205.7,44.5 L206.2,44.0 L206.7,43.6 L207.2,43.2 L207.7,42.9 L208.3,42.5 L209.2,42.0 L209.7,41.7 L210.2,41.5 L211.1,41.0 L211.7,40.8 L212.3,40.5 L213.2,40.1 L213.7,40.0 L214.7,39.6 L215.2,39.4 L216.2,39.1 L216.7,39.0 L217.7,38.7 L218.4,38.5 L219.2,38.3 L220.2,38.2 L221.2,38.2 L222.2,38.3 L223.2,38.4 L224.0,38.5 L224.7,38.6 L225.7,38.8 L226.7,38.9 L227.2,39.0 L228.2,39.2 L229.2,39.4 L229.7,39.5 L230.7,39.7 L231.7,40.0 L232.2,40.1 L233.2,40.3 L233.9,40.5 L234.7,40.7 L235.7,41.0 L236.2,41.2 L236.9,41.5 L237.7,41.9 L238.2,42.2 L238.9,42.5 L239.7,42.9 L240.2,43.2 L240.8,43.5 L241.7,44.0 L242.2,44.3 L242.7,44.6 L243.4,45.0 L244.2,45.5 L244.7,45.8 L245.2,46.1 L245.9,46.5 L246.7,47.0 L247.2,47.3 L247.7,47.7 L248.2,48.0 L248.9,48.5 L249.5,49.0 L250.1,49.5 L250.7,50.0 L251.2,50.4 L251.7,50.9 L252.2,51.3 L252.7,51.8 L253.2,52.3 L253.7,52.8 L254.2,53.2 L254.7,53.7 L255.2,54.3 L255.7,54.8 L256.2,55.3 L256.7,55.9 L257.2,56.4 L257.7,56.9 L258.2,57.4 L258.7,57.9 L259.2,58.4 L259.7,58.9 L260.2,59.4 L260.7,59.9 L261.2,60.5 L261.7,61.0 L262.1,61.5 L262.6,62.0 L263.0,62.5 L263.4,63.0 L263.8,63.5 L264.2,64.1 L264.7,64.8 L265.2,65.4 L265.7,66.0 L266.1,66.5 L266.6,67.0 L267.0,67.5 L267.4,68.0 L267.8,68.5 L268.3,69.0 L268.7,69.5 L269.2,70.2 L269.7,70.8 L270.2,71.5 L270.6,72.0 L271.0,72.5 L271.3,73.0 L271.7,73.5 L272.2,74.2 L272.7,74.9 L273.1,75.5 L273.4,76.0 L273.8,76.5 L274.2,77.1 L274.7,77.8 L275.1,78.5 L275.4,79.0 L275.8,79.5 L276.2,80.3 L276.6,81.0 L276.9,81.5 L277.2,82.0 L277.7,82.9 L278.0,83.5 L278.2,84.0 L278.7,84.9 L279.0,85.5 L279.3,86.0 L279.7,86.7 L280.2,87.5 L280.5,88.0 L280.7,88.5 L281.2,89.4 L281.5,90.0 L281.7,90.5 L282.1,91.5 L282.3,92.0 L282.7,92.8 L282.9,93.5 L283.2,94.2 L283.5,95.0 L283.7,95.7 L284.0,96.5 L284.2,97.3 L284.4,98.0 L284.7,99.0 L284.8,99.5 L285.0,100.5 L285.2,101.2 L285.4,102.0 L285.6,103.0 L285.7,103.6 L285.9,104.5 L286.0,105.5 L286.2,106.5 L286.3,107.0 L286.4,108.0 L286.6,109.0 L286.7,110.0 L286.8,110.5 L286.9,111.5 L287.0,112.5 L287.1,113.5 L287.2,114.5 L287.2,115.0 L287.3,116.0 L287.4,117.0 L287.5,118.0 L287.5,119.0 L287.6,120.0 L287.6,121.0 L287.7,122.0 L287.7,123.0 L287.7,124.0 L287.7,125.0 L287.7,126.0 L287.7,127.0 L287.6,128.0 L287.6,129.0 L287.5,130.0 L287.4,131.0 L287.2,131.9 L287.1,132.5 L286.9,133.5 L286.7,134.3 L286.5,135.0 L286.3,136.0 L286.1,136.5 L285.9,137.5 L285.7,138.1 L285.4,139.0 L285.2,139.7 L284.9,140.5 L284.7,141.2 L284.4,142.0 L284.2,142.6 L283.8,143.5 L283.6,144.0 L283.2,145.0 L283.0,145.5 L282.7,146.2 L282.3,147.0 L282.1,147.5 L281.7,148.3 L281.3,149.0 L281.1,149.5 L280.7,150.2 L280.2,151.0 L279.9,151.5 L279.6,152.0 L279.2,152.6 L278.7,153.3 L278.2,154.0 L277.8,154.5 L277.4,155.0 L277.0,155.5 L276.6,156.0 L276.2,156.6 L275.7,157.2 L275.2,157.8 L274.7,158.4 L274.2,159.0 L273.7,159.5 L273.3,160.0 L272.8,160.5 L272.4,161.0 L272.1,161.5 L271.7,162.2 L271.2,163.0 L271.0,163.5 L270.7,164.0 L270.2,164.8 L269.8,165.5 L269.4,166.0 L269.1,166.5 L268.7,167.1 L268.2,167.9 L267.8,168.5 L267.4,169.0 L267.1,169.5 L266.8,170.5 L266.6,171.0 L266.4,172.0 L266.2,172.7 L266.0,173.5 L265.7,174.4 L265.5,175.0 L265.2,175.9 L265.0,176.5 L264.7,177.1 L264.2,178.0 L263.9,178.5 L263.6,179.0 L263.2,179.6 L262.7,180.3 L262.2,181.0 L261.9,181.5 L261.5,182.0 L261.1,182.5 L260.7,183.1 L260.2,183.9 L259.8,184.5 L259.5,185.0 L259.2,185.5 L258.7,186.2 L258.2,186.9 L257.8,187.5 L257.4,188.0 L257.0,188.5 L256.7,189.0 L256.2,189.6 L255.7,190.2 L255.2,190.7 L254.7,191.3 L254.2,191.8 L253.7,192.4 L253.2,192.9 L252.7,193.4 L252.2,193.8 L251.7,194.2 L251.2,194.7 L250.7,195.0 L250.1,195.5 L249.4,196.0 L248.7,196.4 L248.2,196.7 L247.7,197.0 L246.7,197.4 L246.2,197.6Z " fill="#ec5b26" fill-rule="evenodd"/>
<path d="M261.2,69.3 L260.2,69.5 L259.2,69.4 L258.2,69.2 L257.5,69.0 L256.7,68.7 L256.0,68.5 L255.2,68.2 L254.7,68.0 L253.7,67.6 L253.2,67.4 L252.3,67.0 L251.7,66.7 L251.2,66.5 L250.2,66.1 L249.7,65.8 L249.0,65.5 L248.2,65.1 L247.7,64.9 L247.0,64.5 L246.2,64.1 L245.7,63.9 L244.9,63.5 L244.2,63.2 L243.7,63.0 L242.7,62.5 L242.2,62.3 L241.6,62.0 L240.7,61.6 L240.2,61.4 L239.4,61.0 L238.7,60.7 L238.2,60.4 L237.2,60.0 L236.7,59.8 L236.0,59.5 L235.2,59.2 L234.7,59.0 L233.7,58.6 L233.2,58.4 L232.2,58.1 L231.7,57.9 L230.7,57.6 L230.2,57.4 L229.2,57.1 L228.7,56.9 L227.7,56.6 L227.2,56.5 L226.2,56.2 L225.3,56.0 L224.7,55.8 L223.7,55.6 L223.2,55.5 L222.2,55.3 L221.2,55.1 L220.7,55.0 L219.7,54.8 L218.7,54.6 L218.2,54.4 L217.2,54.1 L216.7,53.9 L215.7,53.5 L215.2,53.4 L214.2,53.0 L213.7,52.8 L212.9,52.5 L212.2,52.2 L211.7,52.0 L210.8,51.5 L210.2,51.2 L209.7,50.9 L209.2,50.5 L208.6,50.0 L208.1,49.5 L207.7,48.9 L207.4,48.0 L207.4,47.0 L207.7,46.2 L208.1,45.5 L208.5,45.0 L208.9,44.5 L209.5,44.0 L210.1,43.5 L210.7,43.1 L211.2,42.8 L211.7,42.5 L212.5,42.0 L213.2,41.7 L213.7,41.4 L214.6,41.0 L215.2,40.8 L215.9,40.5 L216.7,40.2 L217.3,40.0 L218.2,39.7 L218.9,39.5 L219.7,39.3 L220.7,39.3 L221.7,39.3 L222.7,39.4 L223.2,39.5 L224.2,39.7 L225.2,39.8 L226.2,40.0 L226.7,40.0 L227.7,40.2 L228.7,40.4 L229.2,40.5 L230.2,40.7 L231.2,41.0 L231.7,41.1 L232.7,41.3 L233.4,41.5 L234.2,41.7 L235.2,42.0 L235.7,42.2 L236.4,42.5 L237.2,42.9 L237.7,43.1 L238.4,43.5 L239.2,43.9 L239.7,44.2 L240.3,44.5 L241.2,45.0 L241.7,45.3 L242.2,45.6 L242.9,46.0 L243.7,46.5 L244.2,46.8 L244.7,47.1 L245.3,47.5 L246.1,48.0 L246.7,48.4 L247.2,48.8 L247.7,49.1 L248.3,49.5 L248.8,50.0 L249.4,50.5 L249.9,51.0 L250.5,51.5 L251.0,52.0 L251.5,52.5 L252.0,53.0 L252.5,53.5 L253.0,54.0 L253.4,54.5 L253.9,55.0 L254.3,55.5 L254.8,56.0 L255.2,56.5 L255.7,57.2 L256.2,57.8 L256.7,58.4 L257.2,58.9 L257.7,59.5 L258.1,60.0 L258.5,60.5 L258.9,61.0 L259.3,61.5 L259.7,62.1 L260.2,62.8 L260.6,63.5 L260.9,64.0 L261.2,64.5 L261.6,65.5 L261.8,66.0 L262.1,67.0 L262.1,68.0 L261.7,68.9 L261.2,69.3Z M247.7,192.1 L246.7,192.2 L245.7,192.0 L245.2,191.8 L244.7,191.5 L244.1,191.0 L243.7,190.5 L243.2,189.8 L242.9,189.0 L242.8,188.0 L242.8,187.0 L242.9,186.0 L242.9,185.0 L243.0,184.0 L243.1,183.0 L243.2,182.4 L243.3,181.5 L243.5,180.5 L243.6,179.5 L243.7,178.7 L243.8,178.0 L243.9,177.0 L244.1,176.0 L244.3,175.5 L244.7,174.5 L244.9,174.0 L245.2,173.1 L245.4,172.5 L245.7,171.7 L246.0,171.0 L246.2,170.3 L246.5,169.5 L246.7,169.0 L247.2,168.0 L247.5,167.5 L247.8,167.0 L248.2,166.5 L248.7,165.8 L249.2,165.2 L249.7,164.5 L250.0,164.0 L250.4,163.5 L250.8,163.0 L251.2,162.4 L251.7,161.7 L252.2,161.1 L252.6,160.5 L253.1,160.0 L253.6,159.5 L254.2,159.0 L254.7,158.5 L255.2,158.1 L255.7,157.6 L256.2,157.2 L256.7,156.7 L257.2,156.3 L257.7,155.8 L258.2,155.3 L258.7,154.8 L259.2,154.4 L259.7,153.9 L260.2,153.4 L260.7,152.9 L261.2,152.4 L261.7,151.9 L262.2,151.5 L262.9,151.0 L263.7,150.5 L264.2,150.2 L264.7,149.8 L265.2,149.5 L265.8,149.0 L266.5,148.5 L267.2,148.0 L267.7,147.6 L268.2,147.2 L268.7,146.8 L269.2,146.4 L269.7,145.9 L269.9,145.0 L270.1,144.0 L270.3,143.5 L270.5,142.5 L270.7,141.6 L270.8,141.0 L271.0,140.0 L271.2,139.3 L271.4,138.5 L271.6,137.5 L271.7,136.5 L271.8,136.0 L271.9,135.0 L272.0,134.0 L272.1,133.0 L272.1,132.0 L272.2,131.1 L272.2,130.5 L272.3,129.5 L272.4,128.5 L272.4,127.5 L272.5,126.5 L272.6,125.5 L272.6,124.5 L272.7,123.5 L272.7,122.9 L272.7,122.0 L272.7,121.0 L272.7,120.0 L272.7,119.0 L272.7,118.1 L272.7,117.5 L272.6,116.5 L272.6,115.5 L272.5,114.5 L272.5,113.5 L272.4,112.5 L272.3,111.5 L272.2,110.7 L272.1,110.0 L272.0,109.0 L271.9,108.0 L271.7,107.0 L271.7,106.5 L271.5,105.5 L271.4,104.5 L271.2,103.6 L271.1,103.0 L270.9,102.0 L270.8,101.0 L270.7,100.0 L270.7,99.5 L270.6,98.5 L270.5,97.5 L270.4,96.5 L270.4,95.5 L270.3,94.5 L270.3,93.5 L270.3,92.5 L270.3,91.5 L270.3,90.5 L270.4,89.5 L270.6,88.5 L270.4,87.5 L270.3,86.5 L270.2,86.0 L270.1,85.0 L270.0,84.0 L270.0,83.0 L270.0,82.0 L270.2,81.5 L270.7,80.8 L271.7,80.9 L272.2,81.2 L272.7,81.6 L273.2,82.0 L273.7,82.5 L274.2,83.1 L274.7,83.7 L275.2,84.3 L275.7,85.0 L276.0,85.5 L276.3,86.0 L276.8,86.5 L277.3,87.0 L277.8,87.5 L278.2,88.0 L278.7,88.6 L279.2,89.3 L279.6,90.0 L279.9,90.5 L280.2,91.0 L280.7,91.8 L281.0,92.5 L281.3,93.0 L281.7,93.9 L282.0,94.5 L282.2,95.0 L282.6,96.0 L282.8,96.5 L283.1,97.5 L283.3,98.0 L283.6,99.0 L283.7,99.5 L284.0,100.5 L284.2,101.3 L284.4,102.0 L284.6,103.0 L284.7,103.5 L284.9,104.5 L285.1,105.5 L285.2,106.0 L285.4,107.0 L285.5,108.0 L285.7,109.0 L285.8,109.5 L285.9,110.5 L286.0,111.5 L286.1,112.5 L286.2,113.0 L286.3,114.0 L286.4,115.0 L286.5,116.0 L286.6,117.0 L286.7,118.0 L286.7,118.7 L286.7,119.5 L286.8,120.5 L286.8,121.5 L286.8,122.5 L286.9,123.5 L286.9,124.5 L286.9,125.5 L286.8,126.5 L286.8,127.5 L286.8,128.5 L286.7,129.5 L286.7,130.0 L286.5,131.0 L286.3,132.0 L286.2,132.5 L285.9,133.5 L285.7,134.3 L285.5,135.0 L285.2,136.0 L285.0,136.5 L284.7,137.5 L284.5,138.0 L284.2,139.0 L284.0,139.5 L283.7,140.3 L283.4,141.0 L283.2,141.5 L282.8,142.5 L282.5,143.0 L282.2,143.7 L281.8,144.5 L281.6,145.0 L281.2,145.7 L280.7,146.5 L280.4,147.0 L280.2,147.5 L279.7,148.2 L279.2,149.0 L278.8,149.5 L278.4,150.0 L278.1,150.5 L277.7,151.0 L277.2,151.6 L276.7,152.2 L276.2,152.8 L275.7,153.4 L275.2,154.0 L274.8,154.5 L274.3,155.0 L273.9,155.5 L273.4,156.0 L273.0,156.5 L272.5,157.0 L272.0,157.5 L271.5,158.0 L271.0,158.5 L270.5,159.0 L270.0,159.5 L269.7,160.0 L269.2,161.0 L269.0,161.5 L268.7,162.0 L268.2,163.0 L267.9,163.5 L267.6,164.0 L267.2,164.8 L266.8,165.5 L266.5,166.0 L266.2,166.5 L265.7,167.2 L265.2,168.0 L265.0,168.5 L264.9,169.5 L264.7,170.5 L264.6,171.0 L264.4,172.0 L264.2,173.0 L264.1,173.5 L263.8,174.5 L263.7,175.0 L263.4,176.0 L263.1,176.5 L262.7,177.2 L262.2,177.9 L261.8,178.5 L261.4,179.0 L261.1,179.5 L260.7,180.0 L260.2,180.6 L259.7,181.3 L259.2,181.9 L258.7,182.5 L258.4,183.0 L258.0,183.5 L257.7,184.0 L257.2,184.6 L256.7,185.2 L256.2,185.8 L255.7,186.4 L255.2,187.0 L254.7,187.5 L254.2,188.0 L253.7,188.5 L253.2,188.9 L252.7,189.4 L252.2,189.8 L251.7,190.1 L251.2,190.5 L250.4,191.0 L249.7,191.4 L249.2,191.6 L248.2,192.0 L247.7,192.1Z " fill="#dd3a28" fill-rule="evenodd"/>
<path d="M254.7,63.7 L253.7,64.0 L252.7,64.0 L251.7,63.8 L250.7,63.6 L250.2,63.5 L249.2,63.2 L248.5,63.0 L247.7,62.7 L247.1,62.5 L246.2,62.2 L245.7,62.0 L244.7,61.6 L244.2,61.4 L243.2,61.1 L242.7,60.9 L241.7,60.5 L241.2,60.3 L240.6,60.0 L239.7,59.6 L239.2,59.4 L238.3,59.0 L237.7,58.7 L237.1,58.5 L236.2,58.2 L235.7,58.0 L234.7,57.6 L234.2,57.4 L233.2,57.1 L232.7,56.9 L231.7,56.6 L231.2,56.4 L230.2,56.1 L229.7,55.9 L228.7,55.6 L228.2,55.5 L227.2,55.2 L226.5,55.0 L225.7,54.8 L224.7,54.5 L224.2,54.4 L223.2,54.2 L222.4,54.0 L221.7,53.9 L220.7,53.7 L219.7,53.5 L219.2,53.4 L218.2,53.0 L217.7,52.8 L217.0,52.5 L216.2,52.1 L215.7,51.9 L214.9,51.5 L214.2,51.1 L213.7,50.8 L213.2,50.5 L212.6,50.0 L212.1,49.5 L211.6,49.0 L211.2,48.2 L211.0,47.5 L211.1,46.5 L211.3,46.0 L211.7,45.4 L212.2,44.7 L212.7,44.2 L213.2,43.8 L213.7,43.4 L214.3,43.0 L215.2,42.5 L215.7,42.2 L216.2,42.0 L217.2,41.5 L217.7,41.3 L218.5,41.0 L219.2,40.8 L220.2,40.6 L221.2,40.6 L222.2,40.7 L223.2,40.8 L224.2,40.9 L224.7,41.0 L225.7,41.2 L226.7,41.4 L227.6,41.5 L228.2,41.6 L229.2,41.8 L230.0,42.0 L230.7,42.2 L231.7,42.4 L232.2,42.5 L233.2,42.7 L234.2,43.0 L234.7,43.1 L235.6,43.5 L236.2,43.8 L236.7,44.0 L237.6,44.5 L238.2,44.8 L238.7,45.1 L239.4,45.5 L240.2,46.0 L240.7,46.3 L241.2,46.6 L241.9,47.0 L242.7,47.5 L243.2,47.8 L243.7,48.1 L244.3,48.5 L245.1,49.0 L245.7,49.4 L246.2,49.8 L246.7,50.1 L247.2,50.5 L247.8,51.0 L248.3,51.5 L248.8,52.0 L249.3,52.5 L249.8,53.0 L250.2,53.5 L250.7,54.1 L251.2,54.7 L251.7,55.3 L252.2,55.9 L252.6,56.5 L253.0,57.0 L253.3,57.5 L253.7,58.2 L254.2,59.0 L254.4,59.5 L254.7,60.2 L255.0,61.0 L255.2,61.5 L255.3,62.5 L255.2,63.1 L254.7,63.7Z M274.2,149.1 L273.2,149.2 L272.7,149.0 L272.2,148.2 L272.0,147.5 L271.9,146.5 L271.9,145.5 L272.0,144.5 L272.1,143.5 L272.2,142.5 L272.2,142.0 L272.4,141.0 L272.5,140.0 L272.6,139.0 L272.7,138.5 L272.8,137.5 L272.9,136.5 L273.0,135.5 L273.0,134.5 L273.1,133.5 L273.2,132.5 L273.2,131.5 L273.2,131.0 L273.3,130.0 L273.3,129.0 L273.4,128.0 L273.4,127.0 L273.5,126.0 L273.6,125.0 L273.6,124.0 L273.6,123.0 L273.7,122.0 L273.7,121.0 L273.7,120.0 L273.7,119.0 L273.6,118.0 L273.6,117.0 L273.5,116.0 L273.5,115.0 L273.4,114.0 L273.3,113.0 L273.3,112.0 L273.2,111.0 L273.2,110.5 L273.1,109.5 L273.0,108.5 L272.9,107.5 L272.8,106.5 L272.7,106.0 L272.6,105.0 L272.4,104.0 L272.3,103.0 L272.2,102.5 L272.1,101.5 L272.0,100.5 L272.0,99.5 L272.0,98.5 L272.0,97.5 L272.1,96.5 L272.1,95.5 L272.2,94.8 L272.3,94.0 L272.5,93.0 L272.7,92.4 L273.1,91.5 L273.4,91.0 L273.8,90.5 L274.7,90.1 L275.7,90.1 L276.7,90.5 L277.2,90.9 L277.7,91.3 L278.2,91.8 L278.7,92.3 L279.2,93.0 L279.6,93.5 L279.9,94.0 L280.2,94.5 L280.7,95.4 L281.0,96.0 L281.3,96.5 L281.7,97.4 L281.9,98.0 L282.2,98.6 L282.5,99.5 L282.7,100.1 L282.9,101.0 L283.2,102.0 L283.3,102.5 L283.6,103.5 L283.7,104.0 L283.9,105.0 L284.1,106.0 L284.2,106.5 L284.4,107.5 L284.6,108.5 L284.7,109.0 L284.9,110.0 L285.0,111.0 L285.2,112.0 L285.2,112.5 L285.3,113.5 L285.4,114.5 L285.5,115.5 L285.6,116.5 L285.7,117.5 L285.7,118.0 L285.8,119.0 L285.8,120.0 L285.9,121.0 L285.9,122.0 L285.9,123.0 L285.9,124.0 L285.9,125.0 L285.9,126.0 L285.9,127.0 L285.8,128.0 L285.8,129.0 L285.7,130.0 L285.6,130.5 L285.3,131.5 L285.2,132.1 L284.9,133.0 L284.7,133.7 L284.4,134.5 L284.2,135.2 L283.9,136.0 L283.7,136.6 L283.3,137.5 L283.1,138.0 L282.7,138.9 L282.4,139.5 L282.2,140.0 L281.7,140.9 L281.4,141.5 L281.1,142.0 L280.7,142.7 L280.2,143.5 L279.9,144.0 L279.6,144.5 L279.2,145.0 L278.7,145.6 L278.2,146.2 L277.7,146.8 L277.2,147.3 L276.7,147.7 L276.2,148.1 L275.6,148.5 L274.7,148.9 L274.2,149.1Z M249.7,186.1 L248.7,186.1 L247.9,186.0 L247.2,185.7 L246.7,185.3 L246.2,184.8 L245.8,184.0 L245.7,183.5 L245.5,182.5 L245.4,181.5 L245.3,180.5 L245.3,179.5 L245.3,178.5 L245.4,177.5 L245.5,176.5 L245.7,175.6 L245.9,175.0 L246.2,174.1 L246.4,173.5 L246.7,172.5 L246.9,172.0 L247.2,171.0 L247.3,170.5 L247.7,169.5 L247.9,169.0 L248.2,168.5 L248.7,167.7 L249.2,167.0 L249.6,166.5 L250.0,166.0 L250.4,165.5 L250.9,165.0 L251.3,164.5 L251.7,164.0 L252.2,163.4 L252.7,162.9 L253.2,162.4 L253.7,161.8 L254.2,161.4 L254.7,160.9 L255.2,160.5 L255.9,160.0 L256.6,159.5 L257.2,159.1 L257.7,158.7 L258.2,158.3 L258.7,158.0 L259.4,157.5 L260.1,157.0 L260.7,156.6 L261.2,156.3 L261.8,156.0 L262.7,155.5 L263.2,155.4 L264.2,155.5 L264.7,155.7 L265.0,156.5 L265.2,157.5 L265.1,158.5 L265.0,159.5 L264.7,160.5 L264.6,161.0 L264.3,162.0 L264.1,162.5 L263.7,163.5 L263.5,164.0 L263.2,164.6 L262.8,165.5 L262.5,166.0 L262.4,167.0 L262.5,168.0 L262.5,169.0 L262.5,170.0 L262.4,171.0 L262.3,172.0 L262.2,172.5 L262.0,173.5 L261.8,174.5 L261.6,175.0 L261.2,175.9 L260.7,176.5 L260.4,177.0 L260.0,177.5 L259.5,178.0 L259.1,178.5 L258.7,179.0 L258.2,179.6 L257.7,180.1 L257.2,180.6 L256.7,181.1 L256.2,181.7 L255.7,182.3 L255.2,182.8 L254.7,183.2 L254.2,183.7 L253.7,184.1 L253.2,184.5 L252.4,185.0 L251.7,185.4 L251.2,185.7 L250.2,186.0 L249.7,186.1Z " fill="#c8202c" fill-rule="evenodd"/>
<path d="M248.7,59.1 L247.7,59.4 L246.7,59.5 L245.7,59.4 L244.7,59.2 L243.7,59.0 L243.2,58.9 L242.2,58.6 L241.7,58.4 L240.7,58.0 L240.2,57.8 L239.4,57.5 L238.7,57.2 L238.0,57.0 L237.2,56.7 L236.6,56.5 L235.7,56.2 L235.1,56.0 L234.2,55.7 L233.6,55.5 L232.7,55.2 L231.9,55.0 L231.2,54.8 L230.3,54.5 L229.7,54.3 L228.7,54.0 L228.2,53.8 L227.2,53.6 L226.7,53.4 L225.7,53.1 L225.1,53.0 L224.2,52.8 L223.2,52.5 L222.7,52.4 L221.7,52.2 L220.7,52.0 L220.2,51.9 L219.2,51.7 L218.7,51.5 L217.9,51.0 L217.2,50.5 L216.7,50.2 L216.2,49.7 L215.7,49.2 L215.2,48.6 L214.9,48.0 L214.7,47.0 L215.0,46.0 L215.2,45.5 L215.7,44.9 L216.2,44.4 L216.7,43.9 L217.3,43.5 L218.1,43.0 L218.7,42.7 L219.2,42.5 L220.2,42.2 L221.2,42.2 L222.2,42.3 L223.2,42.4 L223.7,42.5 L224.7,42.6 L225.7,42.8 L226.7,43.0 L227.2,43.0 L228.2,43.2 L229.2,43.4 L229.7,43.5 L230.7,43.8 L231.7,44.0 L232.2,44.1 L233.2,44.4 L233.8,44.5 L234.7,44.8 L235.2,45.0 L236.1,45.5 L236.7,45.8 L237.2,46.1 L237.9,46.5 L238.7,47.0 L239.2,47.3 L239.7,47.6 L240.3,48.0 L241.1,48.5 L241.7,48.9 L242.2,49.2 L242.7,49.6 L243.3,50.0 L244.0,50.5 L244.7,51.0 L245.2,51.4 L245.7,51.8 L246.2,52.1 L246.7,52.6 L247.2,53.3 L247.7,54.0 L248.0,54.5 L248.4,55.0 L248.7,55.6 L249.1,56.5 L249.2,57.0 L249.3,58.0 L249.2,58.5 L248.7,59.1Z M277.2,142.1 L276.2,142.3 L275.4,142.0 L275.1,141.5 L274.8,140.5 L274.7,139.6 L274.7,139.0 L274.6,138.0 L274.5,137.0 L274.5,136.0 L274.5,135.0 L274.5,134.0 L274.5,133.0 L274.5,132.0 L274.5,131.0 L274.5,130.0 L274.4,129.0 L274.5,128.0 L274.6,127.0 L274.7,126.0 L274.7,125.1 L274.7,124.5 L274.8,123.5 L274.8,122.5 L274.8,121.5 L274.8,120.5 L274.8,119.5 L274.8,118.5 L274.7,117.5 L274.7,117.0 L274.6,116.0 L274.6,115.0 L274.5,114.0 L274.5,113.0 L274.4,112.0 L274.4,111.0 L274.3,110.0 L274.3,109.0 L274.2,108.0 L274.2,107.5 L274.1,106.5 L274.0,105.5 L273.9,104.5 L273.8,103.5 L273.7,102.5 L273.7,102.0 L273.6,101.0 L273.7,100.0 L273.7,99.5 L273.9,98.5 L274.2,97.5 L274.4,97.0 L274.7,96.3 L275.2,95.6 L275.7,95.3 L276.7,95.1 L277.7,95.5 L278.2,95.9 L278.7,96.3 L279.2,96.9 L279.7,97.5 L280.0,98.0 L280.3,98.5 L280.7,99.1 L281.0,100.0 L281.2,100.5 L281.5,101.5 L281.7,102.0 L282.0,103.0 L282.2,103.6 L282.4,104.5 L282.7,105.5 L282.8,106.0 L283.1,107.0 L283.2,107.6 L283.4,108.5 L283.6,109.5 L283.7,110.1 L283.9,111.0 L284.0,112.0 L284.2,113.0 L284.2,113.5 L284.3,114.5 L284.4,115.5 L284.5,116.5 L284.6,117.5 L284.6,118.5 L284.7,119.5 L284.7,120.0 L284.7,121.0 L284.8,122.0 L284.8,123.0 L284.8,124.0 L284.8,125.0 L284.7,126.0 L284.7,127.0 L284.7,127.7 L284.7,128.5 L284.6,129.5 L284.4,130.5 L284.2,131.2 L283.9,132.0 L283.7,132.6 L283.4,133.5 L283.2,134.0 L282.7,135.0 L282.5,135.5 L282.2,136.1 L281.7,137.0 L281.4,137.5 L281.1,138.0 L280.7,138.6 L280.2,139.3 L279.7,139.9 L279.2,140.5 L278.7,141.0 L278.2,141.4 L277.7,141.8 L277.2,142.1Z M251.2,180.0 L250.3,180.0 L249.7,179.8 L249.1,179.5 L248.5,179.0 L248.1,178.5 L247.7,177.5 L247.6,177.0 L247.7,176.0 L247.8,175.5 L248.0,174.5 L248.2,173.5 L248.3,173.0 L248.5,172.0 L248.7,171.0 L248.8,170.5 L249.2,169.5 L249.5,169.0 L249.8,168.5 L250.2,167.9 L250.7,167.4 L251.2,166.9 L251.7,166.4 L252.2,166.0 L252.7,165.5 L253.4,165.0 L254.2,164.5 L254.7,164.2 L255.4,164.0 L256.2,164.0 L256.7,164.2 L257.2,164.5 L257.7,165.0 L258.2,165.7 L258.7,166.5 L258.9,167.0 L259.2,167.8 L259.4,168.5 L259.6,169.5 L259.7,170.5 L259.7,171.0 L259.7,172.0 L259.7,172.6 L259.5,173.5 L259.2,174.2 L258.7,175.0 L258.2,175.5 L257.7,176.0 L257.2,176.5 L256.7,176.9 L256.2,177.4 L255.7,177.8 L255.2,178.2 L254.7,178.5 L254.0,179.0 L253.2,179.5 L252.7,179.7 L251.7,180.0 L251.2,180.0Z " fill="#a8181f" fill-rule="evenodd"/>
<path d="M240.7,53.6 L239.7,53.9 L238.7,53.9 L237.7,53.8 L236.7,53.6 L236.0,53.5 L235.2,53.3 L234.2,53.1 L233.5,53.0 L232.7,52.8 L231.7,52.6 L231.2,52.4 L230.2,52.1 L229.7,51.9 L228.7,51.6 L228.2,51.4 L227.2,51.1 L226.7,51.0 L225.7,50.7 L225.0,50.5 L224.2,50.3 L223.2,50.0 L222.7,49.9 L221.7,49.7 L221.0,49.5 L220.2,49.3 L219.5,49.0 L219.0,48.5 L218.7,48.0 L218.5,47.0 L218.7,46.1 L219.1,45.5 L219.7,45.0 L220.2,44.8 L221.2,44.8 L222.2,44.8 L223.2,44.9 L223.9,45.0 L224.7,45.1 L225.7,45.2 L226.7,45.4 L227.4,45.5 L228.2,45.6 L229.2,45.8 L230.2,46.0 L230.7,46.1 L231.7,46.3 L232.5,46.5 L233.2,46.7 L234.2,47.0 L234.7,47.3 L235.2,47.7 L235.7,48.0 L236.4,48.5 L237.1,49.0 L237.7,49.5 L238.2,49.9 L238.7,50.3 L239.2,50.8 L239.7,51.3 L240.2,51.8 L240.7,52.5 L240.9,53.0 L240.7,53.6Z M279.2,135.6 L278.2,135.8 L277.4,135.5 L277.1,135.0 L276.7,134.2 L276.5,133.5 L276.3,132.5 L276.2,131.8 L276.1,131.0 L276.0,130.0 L275.9,129.0 L276.0,128.0 L276.1,127.0 L276.1,126.0 L276.2,125.0 L276.2,124.5 L276.2,123.5 L276.2,122.5 L276.3,121.5 L276.3,120.5 L276.2,119.5 L276.2,118.5 L276.2,118.0 L276.1,117.0 L276.1,116.0 L276.0,115.0 L276.0,114.0 L275.9,113.0 L275.9,112.0 L275.9,111.0 L276.0,110.0 L276.0,109.0 L276.0,108.0 L276.0,107.0 L276.1,106.0 L276.1,105.0 L276.2,104.0 L276.2,103.5 L276.4,102.5 L276.6,101.5 L276.9,101.0 L277.7,100.7 L278.2,101.0 L278.7,101.6 L279.2,102.3 L279.6,103.0 L279.8,103.5 L280.2,104.3 L280.5,105.0 L280.7,105.6 L281.0,106.5 L281.2,107.0 L281.5,108.0 L281.7,108.6 L281.9,109.5 L282.2,110.5 L282.3,111.0 L282.5,112.0 L282.7,112.8 L282.8,113.5 L282.9,114.5 L283.0,115.5 L283.0,116.5 L283.1,117.5 L283.2,118.5 L283.2,119.0 L283.3,120.0 L283.3,121.0 L283.3,122.0 L283.3,123.0 L283.3,124.0 L283.3,125.0 L283.3,126.0 L283.2,127.0 L283.2,128.0 L283.2,128.5 L283.1,129.5 L282.8,130.5 L282.6,131.0 L282.2,131.8 L281.8,132.5 L281.5,133.0 L281.2,133.5 L280.7,134.2 L280.2,134.7 L279.7,135.2 L279.2,135.6Z M253.7,173.0 L253.2,173.1 L252.9,173.0 L252.7,173.0 L252.2,172.8 L251.8,172.5 L251.7,172.4 L251.5,172.0 L251.3,171.5 L251.3,171.0 L251.4,170.5 L251.6,170.0 L251.7,169.8 L251.9,169.5 L252.2,169.2 L252.4,169.0 L252.7,168.8 L253.2,168.6 L253.6,168.5 L253.7,168.5 L253.8,168.5 L254.2,168.6 L254.7,168.9 L254.8,169.0 L255.2,169.5 L255.2,169.5 L255.5,170.0 L255.7,170.5 L255.7,170.5 L255.8,171.0 L255.8,171.5 L255.7,171.7 L255.6,172.0 L255.2,172.5 L255.2,172.5 L254.7,172.8 L254.2,173.0 L254.1,173.0 L253.7,173.0Z " fill="#8c1a1d" fill-rule="evenodd"/>
<circle cx="189.6" cy="124.4" r="25.15" stroke="#111" stroke-width="0.8" stroke-dasharray="2.4,3.1" fill="none"/>
<circle cx="189.6" cy="124.4" r="51.18" stroke="#111" stroke-width="0.8" stroke-dasharray="2.4,3.1" fill="none"/>
<circle cx="189.6" cy="124.4" r="79.11" stroke="#111" stroke-width="0.8" stroke-dasharray="2.4,3.1" fill="none"/>
<line x1="189.6" y1="12.0" x2="189.6" y2="236.8" stroke="#111" stroke-width="0.8" stroke-dasharray="2.4,3.1" fill="none"/>
<line x1="77.19999999999999" y1="124.4" x2="302.0" y2="124.4" stroke="#111" stroke-width="0.8" stroke-dasharray="2.4,3.1" fill="none"/>
<line x1="202.17" y1="146.18" x2="245.80" y2="221.74" stroke="#111" stroke-width="0.8" stroke-dasharray="2.4,3.1" fill="none"/>
<line x1="211.38" y1="136.97" x2="286.94" y2="180.60" stroke="#111" stroke-width="0.8" stroke-dasharray="2.4,3.1" fill="none"/>
<line x1="211.38" y1="111.83" x2="286.94" y2="68.20" stroke="#111" stroke-width="0.8" stroke-dasharray="2.4,3.1" fill="none"/>
<line x1="202.17" y1="102.62" x2="245.80" y2="27.06" stroke="#111" stroke-width="0.8" stroke-dasharray="2.4,3.1" fill="none"/>
<line x1="177.03" y1="102.62" x2="133.40" y2="27.06" stroke="#111" stroke-width="0.8" stroke-dasharray="2.4,3.1" fill="none"/>
<line x1="167.82" y1="111.83" x2="92.26" y2="68.20" stroke="#111" stroke-width="0.8" stroke-dasharray="2.4,3.1" fill="none"/>
<line x1="167.82" y1="136.97" x2="92.26" y2="180.60" stroke="#111" stroke-width="0.8" stroke-dasharray="2.4,3.1" fill="none"/>
<line x1="177.03" y1="146.18" x2="133.40" y2="221.74" stroke="#111" stroke-width="0.8" stroke-dasharray="2.4,3.1" fill="none"/>
<polyline points="179.0,63.5 186.0,61.8 192.8,60.8 200.0,60.0 208.0,59.5 214.0,59.8 219.3,60.4 225.0,61.5 230.7,63.3 235.5,65.5 240.2,68.4 245.0,71.5 249.7,75.0 253.8,79.5 257.3,84.5 260.5,90.0 263.0,95.9 265.2,101.5 266.8,107.3 267.5,114.0 267.7,120.6 267.5,128.0 266.8,135.2 265.5,140.5 263.0,144.7 258.5,147.5 253.5,150.4 250.5,153.0 247.8,156.0 245.0,160.5 243.0,165.5 241.0,171.0 239.3,177.0 237.3,184.5 235.5,192.0 233.5,198.0 230.7,203.5 228.0,206.8 225.0,209.2 219.5,210.5 213.6,211.1 207.0,211.1 200.4,211.1 196.5,212.0 192.8,213.0" fill="none" stroke="#e4007f" stroke-width="2.9" stroke-dasharray="2.9,3.1"/>
</g>
<circle cx="189.6" cy="124.4" r="110.4" fill="none" stroke="#231f20" stroke-width="1.35"/>
<text x="293.09" y="64.65" font-size="14.5" letter-spacing="0.45" text-anchor="middle" dominant-baseline="central" fill="#231f20" stroke="#231f20" stroke-width="0.3" transform="rotate(60.0 293.09 64.65)">120°E</text>
<text x="293.09" y="184.15" font-size="14.5" letter-spacing="0.45" text-anchor="middle" dominant-baseline="central" fill="#231f20" stroke="#231f20" stroke-width="0.3" transform="rotate(120.0 293.09 184.15)">60°E</text>
<text x="86.11" y="64.65" font-size="14.5" letter-spacing="0.45" text-anchor="middle" dominant-baseline="central" fill="#231f20" stroke="#231f20" stroke-width="0.3" transform="rotate(-60.0 86.11 64.65)">120°W</text>
<text x="86.11" y="184.15" font-size="14.5" letter-spacing="0.45" text-anchor="middle" dominant-baseline="central" fill="#231f20" stroke="#231f20" stroke-width="0.3" transform="rotate(240.0 86.11 184.15)">60°W</text>
<text x="116.52" y="53.82" font-size="14.5" letter-spacing="0.45" text-anchor="middle" dominant-baseline="central" fill="#231f20" stroke="#231f20" stroke-width="0.3" transform="rotate(-46.0 116.52 53.82)">30°N</text>
<text x="190.00" y="10.40" font-size="14.5" text-anchor="middle" fill="#231f20" stroke="#231f20" stroke-width="0.3">180°</text>
<text x="190.60" y="248.70" font-size="14.5" text-anchor="middle" fill="#231f20" stroke="#231f20" stroke-width="0.3">0°</text>
<defs>
<clipPath id="mcr"><circle cx="473.5" cy="125.0" r="110.4"/></clipPath>
</defs>
<g clip-path="url(#mcr)">
<rect x="361.1" y="12.599999999999994" width="224.8" height="224.8" fill="#97b0cb"/>
<path d="M336.5,113.0 L340.6,109.9 L347.1,107.7 L354.6,110.0 L359.2,110.4 L361.4,115.2 L362.8,118.2 L361.0,123.0 L361.7,126.4 L364.2,127.9 L364.1,131.7 L363.7,135.6 L362.8,137.6 L358.6,139.9 L355.1,143.1 L354.0,145.2 L357.1,145.5 L361.4,143.6 L365.6,141.3 L368.9,141.6 L372.8,144.6 L375.6,147.6 L377.6,149.8 L379.2,149.2 L381.1,148.0 L385.1,148.7 L386.8,149.4 L388.9,149.3 L390.0,149.7 L391.9,152.3 L393.6,154.1 L395.2,152.7 L397.8,154.1 L400.0,156.9 L398.7,158.8 L401.8,160.7 L405.2,162.9 L404.1,158.8 L405.3,156.8 L408.3,156.4 L409.4,155.6 L405.7,150.3 L407.1,151.2 L410.3,153.1 L413.6,159.6 L417.6,161.3 L419.5,161.9 L421.3,160.2 L421.6,155.6 L423.0,152.4 L425.6,149.6 L427.8,146.8 L426.1,146.6 L423.7,145.6 L423.7,144.1 L425.6,142.9 L427.8,140.3 L428.2,138.0 L427.8,134.6 L424.4,135.7 L420.8,136.2 L417.1,138.5 L413.4,136.1 L409.9,137.6 L407.8,136.6 L410.2,133.7 L413.3,133.1 L413.9,130.2 L414.8,127.1 L417.0,122.5 L420.1,121.3 L421.6,120.7 L425.1,122.0 L428.5,124.6 L430.3,126.9 L433.9,127.8 L433.5,129.6 L435.1,130.7 L437.6,130.0 L439.6,127.7 L437.4,128.2 L435.6,127.0 L437.2,125.3 L438.6,124.7 L439.8,123.8 L443.2,122.3 L439.1,122.3 L437.4,121.5 L436.2,119.8 L437.4,118.0 L438.6,115.0 L438.3,112.2 L439.9,110.0 L442.0,108.9 L444.6,107.3 L444.6,105.5 L446.1,104.3 L447.8,103.5 L448.4,101.2 L449.6,99.4 L451.9,98.3 L453.7,97.8 L455.8,96.7 L458.2,96.2 L461.0,96.2 L462.1,94.6 L463.6,92.5 L464.9,90.5 L464.5,89.0 L462.5,87.7 L462.5,86.5 L464.9,84.6 L463.4,83.0 L460.9,83.7 L459.6,82.2 L461.4,79.9 L461.8,77.9 L460.5,76.4 L457.4,75.5 L455.6,74.6 L452.9,75.2 L452.8,72.4 L455.2,68.6 L457.7,65.9 L455.8,67.1 L453.2,69.3 L451.5,71.9 L450.0,74.5 L448.2,77.4 L447.5,79.9 L445.2,83.0 L442.0,84.7 L439.7,85.4 L436.4,85.9 L432.8,85.7 L428.7,86.1 L426.3,84.7 L423.1,84.2 L419.8,83.8 L416.9,84.6 L413.6,86.1 L413.9,83.7 L409.5,81.8 L406.4,79.5 L403.3,77.0 L399.9,74.8 L395.2,74.5 L391.8,74.1 L386.9,74.0 L384.3,76.5 L380.2,77.3 L374.2,77.0 L368.0,76.9 L360.8,79.0 L354.4,81.9 L362.3,81.6 L370.3,80.1 L376.3,80.3 L369.2,82.9 L363.5,85.0 L352.2,89.5 L344.6,89.3 L338.3,93.8 L331.0,105.0 Z M409.8,162.8 L413.6,162.1 L418.8,162.8 L417.0,166.1 L414.9,169.1 L412.8,170.4 L412.3,167.1 Z M438.6,162.4 L436.8,158.1 L438.1,154.2 L439.4,151.6 L441.5,148.5 L444.5,146.7 L447.3,146.2 L447.4,144.0 L448.7,142.4 L451.0,139.6 L452.8,136.0 L452.7,132.6 L454.4,131.0 L457.0,131.0 L460.1,131.8 L462.6,132.7 L465.5,133.0 L467.3,133.9 L468.6,135.6 L468.9,137.6 L469.9,139.6 L468.1,141.7 L467.0,144.0 L465.9,147.2 L464.6,149.4 L462.8,151.5 L461.3,154.5 L460.9,156.2 L458.5,157.1 L455.1,156.9 L451.3,157.9 L448.0,157.7 L444.9,158.5 L441.6,160.4 Z M458.8,167.7 L456.5,166.1 L456.1,164.0 L457.6,162.4 L461.2,162.8 L463.1,163.9 L463.6,166.2 L462.6,167.2 L459.6,167.8 Z M431.1,144.8 L431.7,141.5 L434.0,142.6 L438.5,143.8 L439.5,142.0 L440.5,138.7 L442.6,137.2 L443.8,134.4 L445.4,131.5 L446.2,129.6 L445.4,127.5 L442.5,127.2 L440.7,129.6 L439.8,132.8 L438.6,134.7 L436.7,136.3 L435.4,136.3 L434.1,137.8 L432.3,138.0 L431.9,140.6 L429.7,139.7 L429.6,141.0 Z M440.1,116.1 L439.6,114.7 L443.8,111.1 L446.0,110.4 L447.5,112.3 L447.5,114.5 L445.4,116.4 L442.2,118.4 L440.1,118.5 Z M446.5,108.5 L449.0,107.2 L450.8,109.1 L451.3,111.4 L449.9,113.0 L447.8,110.7 Z M450.4,125.4 L451.9,127.7 L453.8,128.8 L456.6,129.8 L458.6,130.4 L460.7,131.2 L462.3,130.7 L462.5,129.0 L461.2,127.2 L459.3,125.5 L457.6,124.4 L455.2,123.7 L452.6,124.3 L450.9,125.0 Z M447.9,129.5 L449.7,129.2 L450.7,127.4 L450.9,125.4 L449.2,124.2 L447.7,124.3 L447.9,127.2 Z M453.4,125.4 L456.0,125.9 L458.1,124.7 L457.7,123.3 L454.3,123.7 Z M442.6,121.5 L444.9,121.2 L446.9,121.3 L446.3,119.7 L444.6,118.9 L443.3,120.0 Z M443.3,123.2 L444.2,122.7 L446.8,122.7 L446.3,124.3 L445.0,124.6 Z M448.9,118.4 L450.0,118.9 L452.0,118.0 L452.4,116.0 L451.4,113.7 L449.9,115.5 Z M449.1,121.8 L451.2,121.5 L451.1,120.2 L449.3,120.3 Z M428.9,127.3 L430.8,131.4 L429.7,132.3 L426.8,130.7 L428.7,128.5 Z M432.0,279.8 L429.4,264.8 L434.4,252.9 L435.5,249.4 L439.3,244.2 L443.6,240.5 L447.5,237.5 L450.8,236.4 L454.2,234.7 L455.3,230.4 L458.2,227.6 L461.5,225.8 L463.5,222.2 L464.0,221.9 L462.8,220.3 L461.1,219.4 L458.8,218.7 L458.4,215.5 L460.2,212.0 L460.3,209.0 L461.3,206.5 L462.8,206.0 L466.3,206.7 L469.2,207.1 L471.1,207.2 L471.8,205.1 L471.9,202.2 L470.6,199.8 L468.0,198.5 L467.6,196.9 L469.7,196.9 L471.6,197.1 L471.9,195.3 L473.7,195.7 L475.3,194.5 L476.2,192.6 L477.6,191.6 L478.7,189.6 L479.6,188.1 L481.2,187.5 L483.0,186.5 L482.5,184.5 L481.6,181.9 L481.9,180.8 L483.6,179.6 L484.8,179.1 L484.0,177.8 L483.6,177.0 L482.7,177.2 L481.1,179.2 L480.2,179.4 L478.9,178.6 L478.2,176.9 L477.8,174.2 L477.8,172.4 L479.1,170.5 L480.8,168.5 L481.9,166.5 L482.4,163.7 L483.0,161.8 L483.2,159.9 L484.2,157.8 L484.9,156.3 L486.3,155.2 L487.3,153.8 L488.9,154.0 L490.7,153.6 L492.1,154.1 L494.1,153.8 L496.3,153.2 L498.4,153.7 L500.6,154.1 L499.3,151.7 L499.6,150.2 L501.3,150.1 L503.2,147.3 L502.8,145.5 L504.3,144.2 L504.2,142.7 L503.7,141.7 L506.2,140.3 L505.6,138.6 L503.8,137.6 L500.9,135.5 L500.4,134.5 L502.4,134.1 L505.8,134.6 L509.0,135.9 L511.3,137.3 L509.3,134.9 L504.4,133.0 L501.9,132.6 L500.8,129.8 L502.5,129.9 L504.4,128.8 L506.9,129.1 L503.5,129.2 L500.6,126.4 L498.6,125.4 L496.9,123.4 L495.9,121.9 L494.6,119.7 L493.4,119.7 L495.0,118.0 L495.4,116.6 L498.2,114.5 L498.2,112.9 L498.5,111.2 L498.2,109.0 L495.9,108.7 L496.3,106.5 L497.3,105.0 L496.9,104.0 L495.1,103.4 L494.3,101.9 L492.4,102.5 L489.7,101.1 L488.6,98.8 L488.5,96.8 L486.8,95.0 L484.8,94.9 L484.6,92.7 L483.0,91.8 L481.2,91.7 L479.4,91.7 L477.0,91.7 L475.9,90.5 L473.5,89.4 L470.9,87.4 L468.8,86.4 L467.3,85.8 L466.2,85.1 L467.4,84.0 L468.2,81.9 L470.2,82.8 L472.8,83.9 L475.0,81.8 L473.9,78.3 L476.0,77.4 L478.8,75.0 L482.4,74.6 L486.0,75.0 L489.5,72.6 L490.0,70.9 L492.1,67.7 L497.3,64.7 L500.3,62.9 L499.5,66.6 L497.4,71.7 L495.0,74.3 L490.7,74.9 L487.3,78.5 L490.0,79.8 L496.3,78.2 L500.6,79.9 L505.1,83.1 L509.3,82.4 L515.0,80.8 L513.3,76.7 L515.7,73.4 L519.8,69.4 L526.8,67.9 L534.2,68.4 L537.2,70.2 L540.5,69.4 L543.7,70.2 L545.8,69.5 L546.3,66.9 L548.7,63.2 L550.8,62.4 L553.1,64.0 L554.1,65.8 L550.9,67.7 L549.2,69.6 L549.0,72.2 L547.5,74.7 L548.0,78.1 L551.2,77.4 L551.0,81.1 L554.1,82.5 L555.9,79.3 L554.2,76.5 L553.1,74.3 L556.0,75.4 L560.0,76.0 L562.4,71.6 L564.4,68.6 L567.0,66.6 L571.9,65.9 L577.2,65.9 L583.0,66.8 L589.6,72.1 L595.7,80.5 L612.1,77.3 L628.3,83.5 L576.5,247.8 L582.9,234.4 Z M479.9,146.5 L478.6,145.3 L477.3,143.8 L476.7,141.9 L478.1,141.1 L479.1,141.6 L478.9,139.9 L480.9,139.6 L480.4,142.1 L481.2,143.5 L480.8,145.0 L480.1,146.5 Z M501.2,142.6 L498.4,144.1 L496.8,142.9 L495.9,141.3 L494.3,139.1 L494.0,136.4 L493.8,133.2 L495.0,133.5 L495.9,136.4 L496.9,139.9 L498.0,141.2 L500.6,141.9 L501.9,141.4 Z M493.3,121.9 L491.0,123.2 L488.5,123.7 L487.9,123.0 L489.1,122.2 L490.9,120.7 L492.5,119.6 L493.5,120.8 Z M485.7,136.4 L485.0,134.7 L485.1,132.3 L487.0,131.6 L488.3,132.8 L487.3,134.7 Z M491.8,105.4 L489.9,107.1 L488.4,107.3 L487.1,104.9 L486.1,103.2 L488.0,103.5 L490.4,104.1 Z M473.2,93.0 L472.4,93.9 L472.1,93.4 L474.1,92.9 Z M528.8,59.1 L526.2,61.6 L521.7,63.5 L520.2,58.8 L520.1,57.0 L523.5,57.4 L527.1,58.8 Z M550.7,57.4 L555.7,54.8 L553.6,54.1 L549.2,55.7 L546.7,53.1 L543.0,51.0 L539.4,49.7 L537.0,48.5 L535.3,49.3 L532.8,51.8 L529.7,53.3 L528.3,56.1 L527.9,58.3 L530.1,57.5 L531.4,56.0 L534.2,54.4 L538.4,55.4 L540.7,55.4 L543.1,55.4 L545.4,57.9 L549.5,58.9 L550.5,58.5 Z M521.0,64.2 L519.2,66.5 L517.4,68.6 L513.9,70.8 L510.9,76.2 L512.8,75.3 L515.1,71.7 L518.3,68.1 L521.1,64.3 Z M466.6,194.0 L469.3,193.3 L472.3,193.0 L475.1,192.4 L475.0,191.1 L475.4,189.3 L473.8,188.5 L473.0,186.1 L471.7,183.7 L470.9,182.4 L471.8,180.6 L470.1,180.2 L470.7,178.6 L468.8,178.7 L467.9,180.4 L467.7,182.2 L467.8,184.0 L468.2,185.4 L469.8,186.0 L470.2,187.9 L468.4,188.1 L468.9,189.7 L467.5,191.1 L469.4,191.6 L468.5,192.1 L467.5,193.3 Z M462.1,190.7 L462.2,188.9 L462.5,187.0 L464.3,185.8 L465.9,184.2 L467.6,185.9 L466.9,188.0 L466.2,190.0 L463.7,190.8 Z" fill="#efede6"/>
<path d="M464.0,222.3 L464.5,221.5 L466.1,220.6 L470.0,220.8 L472.4,219.0 L473.8,216.5 L473.0,215.1 L474.9,212.6 L476.2,211.6 L477.7,210.5 L478.0,208.9 L478.5,207.3 L480.2,206.8 L482.2,207.4 L483.8,206.4 L485.5,205.0 L486.3,204.3 L488.1,205.2 L489.8,207.4 L493.7,209.2 L495.5,210.1 L497.5,210.8 L499.0,212.7 L498.7,214.7 L499.4,214.7 L500.3,212.3 L499.2,211.1 L499.4,209.2 L501.5,209.1 L497.2,207.5 L493.7,206.2 L492.6,204.6 L490.6,203.3 L490.2,201.1 L491.9,200.5 L492.6,202.0 L494.9,203.2 L497.8,204.4 L501.5,205.3 L502.5,207.5 L504.5,209.6 L507.1,211.2 L508.9,213.9 L510.3,213.9 L510.6,211.6 L510.9,209.9 L508.9,208.5 L507.7,206.8 L509.0,205.4 L511.1,203.7 L512.8,203.8 L513.3,205.8 L514.5,208.0 L517.2,209.6 L518.9,209.4 L521.5,209.2 L522.3,207.5 L524.9,205.7 L528.0,204.3 L529.7,202.1 L530.7,204.3 L532.4,206.4 L533.1,209.8 L534.1,213.2 L531.0,216.0 L527.0,217.6 L525.1,220.0 L518.9,221.4 L514.2,220.9 L511.0,222.6 L510.1,225.5 L510.1,228.3 L507.4,228.1 L503.0,227.8 L500.7,226.4 L496.9,226.5 L493.7,226.3 L491.9,224.2 L492.3,221.6 L491.9,218.9 L489.9,218.2 L487.6,219.2 L485.1,219.7 L481.9,220.5 L478.5,220.5 L475.7,222.1 L473.5,223.0 L470.0,224.2 L466.6,223.8 Z M515.6,200.7 L513.7,200.6 L512.4,199.1 L512.8,197.0 L512.0,195.3 L512.5,193.4 L512.4,190.5 L513.8,189.5 L515.5,190.9 L517.0,190.4 L517.8,192.0 L519.2,190.3 L520.2,188.1 L520.8,184.5 L520.8,183.0 L519.9,185.5 L521.1,187.0 L522.8,188.1 L526.0,188.0 L529.1,187.8 L530.6,189.3 L529.5,191.7 L527.6,193.0 L523.5,193.8 L521.4,196.0 L519.8,196.3 L519.0,197.8 L517.5,199.7 Z M532.4,171.8 L530.6,174.6 L531.1,177.8 L532.1,179.6 L534.7,181.1 L538.2,181.7 L541.0,182.2 L542.2,184.9 L544.6,186.8 L547.3,185.8 L550.4,181.9 L549.7,180.4 L547.8,179.4 L544.6,178.6 L542.8,177.6 L541.3,177.0 L540.3,176.0 L537.3,176.3 L535.1,176.2 L535.0,173.9 L534.4,170.9 L532.8,171.3 Z M485.1,186.0 L486.2,184.8 L487.8,184.6 L488.9,184.7 L490.8,183.4 L492.7,182.5 L494.1,182.9 L494.7,180.0 L493.8,177.8 L494.4,176.6 L496.1,176.9 L496.2,175.2 L495.0,174.4 L494.8,172.7 L497.1,171.4 L498.9,169.4 L496.7,169.6 L493.3,171.6 L491.6,171.0 L490.5,168.5 L490.7,166.6 L491.4,164.3 L490.9,162.0 L489.3,163.2 L489.1,165.3 L488.5,167.4 L487.6,169.5 L488.2,172.2 L490.3,174.3 L489.1,176.6 L489.6,179.2 L489.6,181.1 L488.1,182.5 L486.3,182.0 L486.0,181.1 L484.9,179.5 L483.7,179.4 L483.7,181.0 L483.6,183.4 L484.0,184.7 Z M501.6,157.9 L500.3,157.3 L499.2,159.7 L496.5,158.5 L494.7,158.0 L494.2,157.5 L495.9,157.6 L497.1,157.4 L498.6,156.5 L498.7,154.5 L498.1,153.3 L498.7,151.6 L501.2,153.5 L500.9,154.9 L500.6,155.7 Z M532.8,218.0 L536.8,220.7 L543.3,224.7 L551.0,227.9 L556.8,229.7 L559.5,227.5 L549.9,222.7 L542.3,219.7 L539.3,219.0 L537.2,216.4 L538.5,219.6 Z M555.4,198.8 L556.3,199.5 L558.6,200.3 L563.2,200.2 L567.4,202.4 L571.2,201.4 L572.9,197.2 L573.8,191.9 L571.1,189.6 L568.2,193.8 L563.3,196.4 L558.8,196.6 L556.4,197.1 Z" fill="#97b0cb"/>
<path d="M493.6,215.5 L498.4,214.3 L498.5,217.5 L493.9,217.0 Z M487.0,215.1 L485.9,211.2 L487.1,206.9 L487.4,207.9 L488.3,210.8 L488.7,214.8 Z M512.9,215.6 L517.1,213.2 L517.1,214.4 L513.1,215.7 Z M527.1,209.5 L526.4,208.7 L529.1,205.9 L529.2,207.6 Z" fill="#efede6"/>
<path d="M480.6,221.6 L479.6,221.7 L478.6,221.8 L477.6,221.7 L476.6,221.7 L475.9,221.6 L475.1,221.5 L474.1,221.4 L473.1,221.3 L472.1,221.2 L471.6,221.1 L470.6,220.9 L469.6,220.8 L468.6,220.6 L468.1,220.5 L467.1,220.3 L466.5,220.1 L465.6,219.7 L465.1,219.3 L464.6,218.9 L464.1,218.3 L463.6,217.6 L463.3,217.1 L463.0,216.6 L462.6,215.8 L462.2,215.1 L462.0,214.6 L461.6,213.8 L461.4,213.1 L461.3,212.1 L461.6,211.2 L462.0,210.6 L462.5,210.1 L463.1,209.8 L463.6,209.6 L464.6,209.3 L465.5,209.1 L466.1,208.9 L467.1,208.6 L467.6,208.5 L468.6,208.4 L469.6,208.4 L470.6,208.4 L471.6,208.4 L472.6,208.4 L473.6,208.3 L474.6,208.3 L475.6,208.3 L476.6,208.2 L477.6,208.1 L478.1,208.1 L478.9,208.1 L479.6,208.1 L480.6,208.2 L481.6,208.2 L482.6,208.2 L483.6,208.2 L484.6,208.2 L485.6,208.1 L486.5,208.1 L487.1,208.1 L488.1,208.0 L489.1,207.9 L490.1,207.9 L491.1,207.8 L492.1,207.7 L492.6,207.6 L493.6,207.5 L494.6,207.3 L495.5,207.1 L496.1,207.0 L497.1,206.8 L498.0,206.6 L498.6,206.5 L499.6,206.2 L500.1,206.1 L501.1,205.8 L502.0,205.6 L502.6,205.4 L503.6,205.1 L504.1,205.0 L505.1,204.7 L505.6,204.5 L506.6,204.2 L507.1,204.0 L508.1,203.7 L508.6,203.4 L509.1,203.0 L509.7,202.6 L510.5,202.1 L511.1,201.6 L511.6,201.3 L512.1,200.9 L512.6,200.5 L513.2,200.1 L513.8,199.6 L514.4,199.1 L515.1,198.6 L515.6,198.2 L516.1,197.7 L516.6,197.3 L517.1,196.7 L517.6,196.2 L518.1,195.6 L518.6,195.1 L519.0,194.6 L519.4,194.1 L519.8,193.6 L520.2,193.1 L520.6,192.6 L521.1,192.0 L521.6,191.4 L522.1,190.7 L522.6,190.1 L523.0,189.6 L523.4,189.1 L523.7,188.6 L524.1,188.1 L524.6,187.4 L525.1,186.7 L525.5,186.1 L525.9,185.6 L526.2,185.1 L526.6,184.5 L527.1,183.7 L527.5,183.1 L527.8,182.6 L528.1,182.1 L528.6,181.2 L529.0,180.6 L529.3,180.1 L529.6,179.5 L530.1,178.6 L530.5,178.1 L530.9,177.6 L531.3,177.1 L531.7,176.6 L532.1,176.1 L532.6,175.5 L533.1,174.9 L533.6,174.3 L534.1,173.6 L534.5,173.1 L534.9,172.6 L535.2,172.1 L535.6,171.6 L536.1,170.9 L536.6,170.1 L537.0,169.6 L537.3,169.1 L537.6,168.6 L538.1,167.8 L538.6,167.1 L538.9,166.6 L539.3,166.1 L539.8,165.6 L540.3,165.1 L540.8,164.6 L541.4,164.1 L541.9,163.6 L542.4,163.1 L542.9,162.6 L543.4,162.1 L543.9,161.6 L544.4,161.1 L544.9,160.6 L545.4,160.1 L545.8,159.6 L546.3,159.1 L546.7,158.6 L547.1,158.1 L547.5,157.1 L547.7,156.6 L548.0,155.6 L548.2,155.1 L548.5,154.1 L548.7,153.6 L549.0,152.6 L549.1,152.1 L549.4,151.1 L549.6,150.3 L549.8,149.6 L550.0,148.6 L550.1,147.8 L550.1,147.1 L550.2,146.1 L550.2,145.1 L550.2,144.1 L550.3,143.1 L550.3,142.1 L550.2,141.1 L550.2,140.1 L550.2,139.1 L550.1,138.1 L550.1,137.6 L550.0,136.6 L549.9,135.6 L549.8,134.6 L549.7,133.6 L549.6,133.0 L549.5,132.1 L549.5,131.1 L549.5,130.1 L549.6,129.1 L549.6,128.3 L549.6,127.6 L549.6,126.6 L549.6,125.6 L549.6,124.6 L549.6,124.1 L549.6,123.1 L549.5,122.1 L549.5,121.1 L549.4,120.1 L549.3,119.1 L549.2,118.1 L549.1,117.2 L549.0,116.6 L549.0,115.6 L549.1,114.6 L549.1,113.9 L549.1,113.1 L549.2,112.1 L549.2,111.1 L549.2,110.1 L549.2,109.1 L549.2,108.1 L549.2,107.1 L549.1,106.1 L549.1,105.5 L549.0,104.6 L549.0,103.6 L548.9,102.6 L548.8,101.6 L548.7,100.6 L548.7,99.6 L548.7,98.6 L548.7,97.6 L548.7,96.6 L548.7,95.6 L548.7,94.6 L548.6,93.6 L548.6,93.1 L548.5,92.1 L548.4,91.1 L548.4,90.1 L548.2,89.1 L548.1,88.1 L548.1,87.6 L547.9,86.6 L547.6,85.6 L547.5,85.1 L547.2,84.1 L547.1,83.6 L546.8,82.6 L546.6,81.9 L546.4,81.1 L546.1,80.2 L545.9,79.6 L545.6,78.7 L545.4,78.1 L545.1,77.3 L544.8,76.6 L544.5,76.1 L544.1,75.4 L543.6,74.6 L543.4,74.1 L543.1,73.6 L542.6,72.8 L542.1,72.1 L541.8,71.6 L541.5,71.1 L541.1,70.5 L540.6,69.7 L540.2,69.1 L539.8,68.6 L539.5,68.1 L539.1,67.6 L538.5,67.1 L538.0,66.6 L537.4,66.1 L536.8,65.6 L536.3,65.1 L535.7,64.6 L535.1,64.1 L534.6,63.7 L534.1,63.3 L533.6,62.9 L533.1,62.5 L532.5,62.1 L531.9,61.6 L531.2,61.1 L530.6,60.7 L530.1,60.3 L529.6,60.1 L528.6,59.8 L527.7,59.6 L527.1,59.4 L526.1,59.2 L525.6,59.1 L524.6,58.9 L523.6,58.7 L523.1,58.6 L522.1,58.4 L521.1,58.2 L520.2,58.1 L519.6,58.0 L518.6,57.8 L517.6,57.6 L517.1,57.6 L516.1,57.4 L515.1,57.3 L514.1,57.1 L513.6,57.1 L512.6,56.9 L511.6,56.8 L510.6,56.8 L509.6,56.7 L508.6,56.6 L507.7,56.6 L507.1,56.6 L506.1,56.5 L505.1,56.4 L504.1,56.2 L503.6,56.1 L502.6,55.9 L501.6,55.7 L500.9,55.6 L500.1,55.5 L499.1,55.4 L498.1,55.2 L497.1,55.1 L496.6,55.1 L495.6,55.0 L494.6,54.9 L493.6,54.9 L492.6,54.8 L491.6,54.8 L490.6,54.8 L489.6,54.8 L488.6,54.7 L487.6,54.6 L486.6,54.6 L486.1,54.6 L485.1,54.6 L484.1,54.6 L483.1,54.6 L482.1,54.6 L481.6,54.6 L480.6,54.7 L479.6,54.7 L478.6,54.8 L477.6,54.9 L476.6,55.0 L475.7,55.1 L475.1,55.2 L474.1,55.3 L473.1,55.4 L472.1,55.6 L471.6,55.6 L470.6,55.8 L469.6,56.0 L469.0,56.1 L468.1,56.3 L467.1,56.5 L466.6,56.6 L465.6,56.8 L464.6,57.1 L464.1,57.2 L463.1,57.5 L462.6,57.7 L461.6,58.0 L461.1,58.1 L460.1,58.4 L459.4,58.6 L458.6,58.8 L457.7,59.1 L457.1,59.3 L456.2,59.6 L455.6,59.8 L454.9,60.1 L454.1,60.4 L453.6,60.6 L452.6,61.0 L452.1,61.2 L451.2,61.6 L450.6,61.9 L450.1,62.1 L449.1,62.6 L448.6,62.8 L448.0,63.1 L447.1,63.6 L446.6,63.8 L446.0,64.1 L445.1,64.6 L444.6,64.8 L444.1,65.1 L443.2,65.6 L442.6,66.0 L442.1,66.3 L441.5,66.6 L440.6,67.1 L440.1,67.4 L439.6,67.7 L439.0,68.1 L438.2,68.6 L437.6,69.0 L437.1,69.3 L436.6,69.7 L435.9,70.1 L435.1,70.3 L434.1,70.2 L433.6,70.1 L432.9,69.6 L432.5,69.1 L432.1,68.2 L432.0,67.6 L432.1,67.0 L432.5,66.1 L432.7,65.6 L433.1,64.8 L433.4,64.1 L433.7,63.6 L434.1,62.9 L434.5,62.1 L434.8,61.6 L435.1,61.1 L435.6,60.3 L436.0,59.6 L436.3,59.1 L436.7,58.6 L437.1,58.0 L437.6,57.3 L438.1,56.6 L438.5,56.1 L438.8,55.6 L439.2,55.1 L439.6,54.6 L440.1,54.0 L440.6,53.4 L441.1,53.0 L441.6,52.5 L442.1,52.1 L442.7,51.6 L443.3,51.1 L443.9,50.6 L444.5,50.1 L445.1,49.7 L445.6,49.3 L446.1,48.9 L446.6,48.5 L447.2,48.1 L447.9,47.6 L448.6,47.1 L449.1,46.8 L449.6,46.4 L450.1,46.1 L450.9,45.6 L451.6,45.1 L452.1,44.8 L452.6,44.5 L453.3,44.1 L454.1,43.6 L454.6,43.4 L455.1,43.1 L455.9,42.6 L456.6,42.2 L457.1,41.9 L457.6,41.6 L458.5,41.1 L459.1,40.8 L459.6,40.5 L460.3,40.1 L461.1,39.7 L461.6,39.5 L462.3,39.1 L463.1,38.7 L463.6,38.5 L464.4,38.1 L465.1,37.8 L465.6,37.6 L466.6,37.2 L467.1,37.0 L468.0,36.6 L468.6,36.4 L469.3,36.1 L470.1,35.8 L470.7,35.6 L471.6,35.3 L472.5,35.1 L473.1,34.9 L474.1,34.7 L474.6,34.6 L475.6,34.3 L476.6,34.1 L477.1,34.0 L478.1,33.8 L479.1,33.6 L479.6,33.5 L480.6,33.3 L481.6,33.2 L482.1,33.1 L483.1,33.0 L484.1,32.8 L485.1,32.7 L485.9,32.6 L486.6,32.5 L487.6,32.4 L488.6,32.4 L489.6,32.3 L490.6,32.2 L491.6,32.2 L492.6,32.3 L493.6,32.3 L494.6,32.3 L495.6,32.4 L496.6,32.4 L497.6,32.5 L498.6,32.6 L499.1,32.6 L500.1,32.7 L501.1,32.8 L502.1,33.0 L503.1,33.1 L503.6,33.2 L504.6,33.3 L505.6,33.5 L506.4,33.6 L507.1,33.7 L508.1,33.9 L509.0,34.1 L509.6,34.2 L510.6,34.5 L511.1,34.6 L512.1,35.0 L512.6,35.1 L513.6,35.5 L514.1,35.7 L515.1,36.1 L515.6,36.3 L516.5,36.6 L517.1,36.9 L517.7,37.1 L518.6,37.5 L519.1,37.7 L520.0,38.1 L520.6,38.4 L521.1,38.6 L522.1,39.1 L522.6,39.3 L523.2,39.6 L524.1,40.1 L524.6,40.3 L525.2,40.6 L526.0,41.1 L526.6,41.5 L527.1,41.8 L527.6,42.2 L528.1,42.6 L528.8,43.1 L529.4,43.6 L530.1,44.1 L530.6,44.5 L531.1,44.9 L531.6,45.3 L532.1,45.7 L532.6,46.2 L533.1,46.6 L533.7,47.1 L534.3,47.6 L534.8,48.1 L535.4,48.6 L535.9,49.1 L536.5,49.6 L537.1,50.1 L537.6,50.4 L538.1,50.8 L538.6,51.1 L539.3,51.6 L540.0,52.1 L540.6,52.6 L541.1,53.0 L541.6,53.3 L542.1,53.7 L542.6,54.1 L543.2,54.6 L543.8,55.1 L544.4,55.6 L545.0,56.1 L545.6,56.6 L546.1,57.0 L546.6,57.5 L547.1,57.9 L547.6,58.4 L548.1,58.8 L548.6,59.2 L549.1,59.7 L549.6,60.1 L550.2,60.6 L550.7,61.1 L551.3,61.6 L551.8,62.1 L552.4,62.6 L552.9,63.1 L553.4,63.6 L553.9,64.1 L554.5,64.6 L555.0,65.1 L555.5,65.6 L555.9,66.1 L556.4,66.6 L556.9,67.1 L557.4,67.6 L557.8,68.1 L558.3,68.6 L558.7,69.1 L559.1,69.7 L559.6,70.4 L560.1,71.1 L560.4,71.6 L560.7,72.1 L561.1,72.7 L561.6,73.5 L562.0,74.1 L562.3,74.6 L562.6,75.1 L563.1,75.9 L563.5,76.6 L563.8,77.1 L564.1,77.6 L564.6,78.5 L564.9,79.1 L565.2,79.6 L565.6,80.4 L566.0,81.1 L566.3,81.6 L566.6,82.2 L567.1,83.1 L567.3,83.6 L567.6,84.1 L568.1,85.1 L568.4,85.6 L568.6,86.1 L569.1,87.1 L569.3,87.6 L569.6,88.2 L570.0,89.1 L570.3,89.6 L570.6,90.4 L570.9,91.1 L571.1,91.6 L571.5,92.6 L571.7,93.1 L572.1,94.0 L572.3,94.6 L572.6,95.3 L572.9,96.1 L573.1,96.9 L573.3,97.6 L573.4,98.6 L573.6,99.5 L573.7,100.1 L573.8,101.1 L574.0,102.1 L574.1,102.8 L574.2,103.6 L574.3,104.6 L574.4,105.6 L574.5,106.6 L574.6,107.3 L574.7,108.1 L574.7,109.1 L574.8,110.1 L574.9,111.1 L574.9,112.1 L575.0,113.1 L575.0,114.1 L575.0,115.1 L575.1,115.6 L575.2,116.6 L575.3,117.6 L575.4,118.6 L575.5,119.6 L575.6,120.6 L575.6,121.1 L575.7,122.1 L575.7,123.1 L575.8,124.1 L575.8,125.1 L575.8,126.1 L575.8,127.1 L575.8,128.1 L575.8,129.1 L575.8,130.1 L575.8,131.1 L575.8,132.1 L575.7,133.1 L575.7,134.1 L575.7,135.1 L575.6,136.0 L575.6,136.6 L575.5,137.6 L575.4,138.6 L575.3,139.6 L575.2,140.6 L575.1,141.6 L575.0,142.1 L574.9,143.1 L574.8,144.1 L574.6,145.1 L574.6,145.6 L574.4,146.6 L574.2,147.6 L574.1,148.3 L573.9,149.1 L573.8,150.1 L573.6,150.9 L573.4,151.6 L573.2,152.6 L573.1,153.1 L572.8,154.1 L572.6,154.7 L572.2,155.6 L571.9,156.1 L571.6,156.7 L571.1,157.6 L570.8,158.1 L570.5,158.6 L570.1,159.3 L569.7,160.1 L569.4,160.6 L569.1,161.1 L568.6,161.8 L568.1,162.6 L567.8,163.1 L567.5,163.6 L567.1,164.2 L566.6,164.9 L566.1,165.6 L565.8,166.1 L565.4,166.6 L565.1,167.1 L564.6,167.8 L564.1,168.5 L563.6,169.1 L563.3,169.6 L562.9,170.1 L562.5,170.6 L562.1,171.1 L561.6,171.8 L561.1,172.4 L560.6,173.0 L560.1,173.6 L559.7,174.1 L559.3,174.6 L558.9,175.1 L558.4,175.6 L558.0,176.1 L557.5,176.6 L557.1,177.1 L556.6,177.6 L556.1,178.2 L555.6,178.7 L555.1,179.5 L554.7,180.1 L554.4,180.6 L554.1,181.1 L553.6,182.0 L553.2,182.6 L552.9,183.1 L552.6,183.6 L552.1,184.3 L551.6,185.1 L551.2,185.6 L550.9,186.1 L550.5,186.6 L550.1,187.2 L549.6,187.9 L549.1,188.6 L548.7,189.1 L548.4,189.6 L548.0,190.1 L547.6,190.6 L547.1,191.3 L546.6,192.0 L546.2,192.6 L545.8,193.1 L545.4,193.6 L545.1,194.1 L544.6,194.7 L544.1,195.4 L543.6,196.0 L543.1,196.6 L542.7,197.1 L542.3,197.6 L541.9,198.1 L541.5,198.6 L541.0,199.1 L540.6,199.6 L540.1,200.2 L539.6,200.7 L539.1,201.3 L538.6,201.8 L538.1,202.3 L537.6,202.9 L537.1,203.4 L536.6,203.9 L536.1,204.5 L535.6,205.1 L535.2,205.6 L534.7,206.1 L534.3,206.6 L533.8,207.1 L533.4,207.6 L532.9,208.1 L532.4,208.6 L531.9,209.1 L531.5,209.6 L531.0,210.1 L530.5,210.6 L529.9,211.1 L529.4,211.6 L528.8,212.1 L528.1,212.6 L527.6,212.9 L527.1,213.1 L526.1,213.5 L525.6,213.7 L524.6,214.1 L524.1,214.3 L523.3,214.6 L522.6,214.8 L521.9,215.1 L521.1,215.4 L520.4,215.6 L519.6,215.9 L518.9,216.1 L518.1,216.3 L517.3,216.6 L516.6,216.8 L515.6,217.1 L515.1,217.2 L514.1,217.5 L513.6,217.6 L512.6,217.8 L511.6,218.0 L511.1,218.1 L510.1,218.3 L509.1,218.4 L508.1,218.6 L507.6,218.6 L506.6,218.8 L505.6,218.9 L504.6,219.0 L503.6,219.1 L503.1,219.1 L502.1,219.2 L501.1,219.3 L500.1,219.3 L499.1,219.4 L498.1,219.4 L497.1,219.5 L496.1,219.5 L495.1,219.5 L494.1,219.6 L493.6,219.7 L492.6,219.9 L491.7,220.1 L491.1,220.2 L490.1,220.4 L489.1,220.6 L488.6,220.6 L487.6,220.8 L486.6,221.0 L485.6,221.1 L485.1,221.2 L484.1,221.3 L483.1,221.4 L482.1,221.5 L481.1,221.6 L480.6,221.6Z M429.6,184.6 L428.6,184.9 L427.6,185.0 L426.6,185.0 L425.6,185.0 L424.6,185.0 L423.6,184.8 L423.0,184.6 L422.1,184.2 L421.6,184.0 L420.6,183.7 L420.1,183.5 L419.2,183.1 L418.6,182.9 L417.9,182.6 L417.1,182.3 L416.6,182.1 L415.6,181.7 L415.1,181.4 L414.6,181.1 L414.0,180.6 L413.3,180.1 L412.6,179.6 L412.1,179.2 L411.6,178.9 L411.1,178.5 L410.6,178.1 L409.9,177.6 L409.2,177.1 L408.6,176.7 L408.1,176.3 L407.6,175.9 L407.1,175.6 L406.5,175.1 L405.9,174.6 L405.4,174.1 L405.0,173.6 L404.5,173.1 L404.1,172.6 L403.6,172.0 L403.1,171.4 L402.6,170.8 L402.1,170.2 L401.6,169.6 L401.2,169.1 L400.8,168.6 L400.4,168.1 L400.0,167.6 L399.6,167.1 L399.1,166.6 L398.6,166.0 L398.1,165.3 L397.7,164.6 L397.4,164.1 L397.1,163.4 L396.8,162.6 L396.5,162.1 L396.1,161.1 L395.9,160.6 L395.6,160.0 L395.2,159.1 L395.0,158.6 L394.6,157.7 L394.3,157.1 L394.1,156.6 L393.6,155.6 L393.4,155.1 L393.1,154.4 L392.8,153.6 L392.6,153.1 L392.3,152.1 L392.1,151.3 L392.0,150.6 L391.9,149.6 L391.8,148.6 L391.7,147.6 L391.6,146.6 L391.6,146.1 L391.5,145.1 L391.4,144.1 L391.3,143.1 L391.2,142.1 L391.1,141.4 L391.0,140.6 L391.0,139.6 L391.1,138.8 L391.2,138.1 L391.4,137.1 L391.6,136.3 L391.8,135.6 L392.0,134.6 L392.1,134.0 L392.3,133.1 L392.5,132.1 L392.6,131.6 L392.8,130.6 L393.0,129.6 L393.1,129.1 L393.3,128.1 L393.6,127.1 L393.6,126.6 L393.8,125.6 L393.9,124.6 L394.1,123.6 L394.2,123.1 L394.3,122.1 L394.5,121.1 L394.6,120.3 L394.7,119.6 L394.9,118.6 L395.0,117.6 L395.1,117.1 L395.2,116.1 L395.4,115.1 L395.6,114.1 L395.6,113.6 L395.7,112.6 L395.9,111.6 L396.0,110.6 L396.1,109.8 L396.2,109.1 L396.3,108.1 L396.4,107.1 L396.6,106.1 L396.6,105.6 L396.7,104.6 L396.9,103.6 L397.0,102.6 L397.1,101.8 L397.3,101.1 L397.5,100.1 L397.7,99.6 L397.9,98.6 L398.1,97.9 L398.3,97.1 L398.6,96.1 L398.7,95.6 L399.0,94.6 L399.1,94.0 L399.4,93.1 L399.6,92.6 L400.1,91.9 L400.6,91.3 L401.1,90.9 L401.6,90.6 L402.6,90.2 L403.1,90.1 L404.1,90.0 L405.0,90.1 L405.6,90.3 L406.4,90.6 L407.1,91.1 L407.6,91.5 L408.1,92.1 L408.4,92.6 L408.6,93.1 L408.9,94.1 L409.1,94.8 L409.3,95.6 L409.6,96.6 L409.7,97.1 L410.0,98.1 L410.1,98.6 L410.3,99.6 L410.6,100.6 L410.7,101.1 L410.9,102.1 L411.0,103.1 L411.0,104.1 L410.9,105.1 L410.9,106.1 L410.8,107.1 L410.8,108.1 L410.7,109.1 L410.7,110.1 L410.7,111.1 L410.6,112.1 L410.6,112.6 L410.6,113.6 L410.5,114.6 L410.5,115.6 L410.3,116.6 L410.1,117.4 L409.9,118.1 L409.6,119.0 L409.4,119.6 L409.1,120.6 L408.9,121.1 L408.6,122.1 L408.5,122.6 L408.2,123.6 L408.0,124.1 L407.7,125.1 L407.5,125.6 L407.2,126.6 L407.1,127.1 L406.8,128.1 L406.6,128.7 L406.6,129.6 L406.6,130.3 L406.6,131.1 L406.7,132.1 L406.7,133.1 L406.8,134.1 L406.8,135.1 L406.8,136.1 L406.9,137.1 L406.9,138.1 L407.1,139.1 L407.2,139.6 L407.5,140.6 L407.7,141.1 L408.0,142.1 L408.2,142.6 L408.5,143.6 L408.6,144.1 L408.9,145.1 L409.1,145.7 L409.4,146.6 L409.7,147.1 L410.1,147.8 L410.5,148.6 L410.8,149.1 L411.1,149.6 L411.6,150.5 L411.9,151.1 L412.2,151.6 L412.6,152.3 L413.0,153.1 L413.3,153.6 L413.6,154.1 L414.1,155.0 L414.5,155.6 L414.8,156.1 L415.2,156.6 L415.6,157.2 L416.1,158.0 L416.5,158.6 L416.8,159.1 L417.2,159.6 L417.6,160.2 L418.1,161.0 L418.5,161.6 L418.9,162.1 L419.2,162.6 L419.6,163.1 L420.1,163.8 L420.6,164.5 L421.0,165.1 L421.4,165.6 L421.8,166.1 L422.1,166.6 L422.6,167.2 L423.1,167.9 L423.6,168.6 L424.0,169.1 L424.3,169.6 L424.7,170.1 L425.1,170.6 L425.6,171.4 L426.0,172.1 L426.3,172.6 L426.6,173.1 L427.1,173.9 L427.5,174.6 L427.9,175.1 L428.2,175.6 L428.6,176.3 L429.1,177.1 L429.4,177.6 L429.8,178.1 L430.2,178.6 L430.6,179.2 L431.1,179.9 L431.4,180.6 L431.5,181.6 L431.3,182.6 L431.1,183.1 L430.6,183.8 L430.1,184.3 L429.6,184.6Z " fill="#fdf4d6" fill-rule="evenodd"/>
<path d="M485.1,219.6 L484.1,219.7 L483.1,219.7 L482.1,219.8 L481.1,219.8 L480.1,219.8 L479.1,219.8 L478.1,219.8 L477.1,219.7 L476.6,219.6 L475.6,219.5 L474.6,219.3 L473.6,219.1 L473.1,219.1 L472.1,218.9 L471.1,218.7 L470.6,218.5 L469.6,218.3 L468.7,218.1 L468.1,217.9 L467.2,217.6 L466.6,217.2 L466.1,216.7 L465.7,216.1 L465.5,215.6 L465.3,214.6 L465.3,213.6 L465.6,212.8 L466.1,212.2 L466.6,211.7 L467.1,211.4 L467.8,211.1 L468.6,211.0 L469.6,210.9 L470.6,210.8 L471.6,210.7 L472.6,210.7 L473.2,210.6 L474.1,210.5 L475.1,210.4 L476.1,210.3 L477.1,210.2 L477.9,210.1 L478.6,210.1 L479.6,210.0 L480.6,210.0 L481.6,209.9 L482.6,209.8 L483.6,209.8 L484.6,209.7 L485.5,209.6 L486.1,209.5 L487.1,209.5 L488.1,209.3 L489.1,209.2 L490.0,209.1 L490.6,209.0 L491.6,208.9 L492.6,208.7 L493.3,208.6 L494.1,208.5 L495.1,208.3 L495.9,208.1 L496.6,208.0 L497.6,207.7 L498.1,207.6 L499.1,207.4 L500.1,207.1 L500.6,207.0 L501.6,206.7 L502.1,206.6 L503.1,206.3 L503.7,206.1 L504.6,205.8 L505.3,205.6 L506.1,205.3 L506.8,205.1 L507.6,204.8 L508.2,204.6 L509.1,204.1 L509.6,203.8 L510.1,203.4 L510.6,203.1 L511.2,202.6 L511.9,202.1 L512.6,201.6 L513.1,201.2 L513.6,200.8 L514.1,200.5 L514.6,200.1 L515.2,199.6 L515.8,199.1 L516.4,198.6 L516.9,198.1 L517.4,197.6 L517.8,197.1 L518.2,196.6 L518.7,196.1 L519.1,195.6 L519.6,194.9 L520.1,194.3 L520.6,193.7 L521.0,193.1 L521.4,192.6 L521.8,192.1 L522.1,191.6 L522.6,191.0 L523.1,190.4 L523.6,189.7 L524.0,189.1 L524.4,188.6 L524.7,188.1 L525.1,187.6 L525.6,186.9 L526.1,186.1 L526.4,185.6 L526.8,185.1 L527.1,184.6 L527.6,183.8 L528.0,183.1 L528.3,182.6 L528.6,182.1 L529.1,181.2 L529.4,180.6 L529.7,180.1 L530.1,179.4 L530.6,178.6 L531.0,178.1 L531.4,177.6 L531.8,177.1 L532.2,176.6 L532.7,176.1 L533.1,175.6 L533.6,175.0 L534.1,174.3 L534.6,173.7 L535.1,173.1 L535.4,172.6 L535.8,172.1 L536.2,171.6 L536.6,171.0 L537.1,170.3 L537.6,169.6 L537.9,169.1 L538.2,168.6 L538.6,168.0 L539.1,167.3 L539.6,166.6 L540.0,166.1 L540.5,165.6 L541.1,165.1 L541.6,164.6 L542.1,164.2 L542.6,163.7 L543.1,163.2 L543.6,162.7 L544.1,162.2 L544.6,161.7 L545.1,161.2 L545.6,160.7 L546.1,160.2 L546.6,159.6 L547.1,159.1 L547.5,158.6 L547.7,158.1 L548.1,157.1 L548.3,156.6 L548.6,155.6 L548.8,155.1 L549.1,154.1 L549.2,153.6 L549.5,152.6 L549.7,152.1 L550.0,151.1 L550.1,150.6 L550.4,149.6 L550.6,148.6 L550.6,148.1 L550.7,147.1 L550.7,146.1 L550.8,145.1 L550.8,144.1 L550.8,143.1 L550.8,142.1 L550.8,141.1 L550.8,140.1 L550.7,139.1 L550.7,138.1 L550.6,137.4 L550.5,136.6 L550.5,135.6 L550.4,134.6 L550.2,133.6 L550.1,132.6 L550.1,132.1 L550.0,131.1 L550.1,130.1 L550.1,129.6 L550.1,128.6 L550.2,127.6 L550.2,126.6 L550.2,125.6 L550.2,124.6 L550.1,123.6 L550.1,122.8 L550.1,122.1 L550.0,121.1 L549.9,120.1 L549.9,119.1 L549.8,118.1 L549.6,117.1 L549.6,116.6 L549.6,115.6 L549.6,114.7 L549.6,114.1 L549.7,113.1 L549.7,112.1 L549.8,111.1 L549.8,110.1 L549.8,109.1 L549.8,108.1 L549.7,107.1 L549.7,106.1 L549.6,105.1 L549.6,104.5 L549.5,103.6 L549.5,102.6 L549.4,101.6 L549.3,100.6 L549.2,99.6 L549.3,98.6 L549.3,97.6 L549.3,96.6 L549.3,95.6 L549.2,94.6 L549.2,93.6 L549.1,92.6 L549.1,91.9 L549.0,91.1 L549.0,90.1 L548.9,89.1 L548.8,88.1 L548.6,87.1 L548.5,86.6 L548.3,85.6 L548.1,84.9 L547.9,84.1 L547.6,83.1 L547.5,82.6 L547.2,81.6 L547.1,81.1 L546.8,80.1 L546.6,79.5 L546.3,78.6 L546.1,77.9 L545.8,77.1 L545.6,76.6 L545.1,75.6 L544.8,75.1 L544.5,74.6 L544.1,73.8 L543.7,73.1 L543.4,72.6 L543.1,72.1 L542.6,71.3 L542.1,70.6 L541.8,70.1 L541.5,69.6 L541.1,69.0 L540.6,68.2 L540.2,67.6 L539.8,67.1 L539.2,66.6 L538.6,66.1 L538.1,65.6 L537.6,65.2 L537.1,64.8 L536.6,64.3 L536.1,63.9 L535.6,63.5 L535.1,63.1 L534.5,62.6 L533.8,62.1 L533.1,61.6 L532.6,61.2 L532.1,60.8 L531.6,60.5 L531.1,60.1 L530.3,59.6 L529.6,59.4 L528.6,59.1 L528.1,59.0 L527.1,58.8 L526.4,58.6 L525.6,58.4 L524.6,58.2 L523.9,58.1 L523.1,58.0 L522.1,57.8 L521.1,57.6 L520.6,57.6 L519.6,57.4 L518.6,57.2 L517.9,57.1 L517.1,57.0 L516.1,56.8 L515.1,56.7 L514.6,56.6 L513.6,56.5 L512.6,56.4 L511.6,56.3 L510.6,56.2 L509.6,56.1 L509.0,56.1 L508.1,56.1 L507.1,56.0 L506.1,56.0 L505.1,55.8 L504.1,55.6 L503.6,55.5 L502.6,55.3 L501.6,55.2 L501.1,55.1 L500.1,54.9 L499.1,54.8 L498.1,54.7 L497.1,54.6 L496.6,54.6 L495.6,54.5 L494.6,54.4 L493.6,54.4 L492.6,54.3 L491.6,54.3 L490.6,54.3 L489.6,54.3 L488.6,54.2 L487.6,54.1 L486.6,54.1 L486.1,54.1 L485.1,54.1 L484.1,54.1 L483.1,54.1 L482.1,54.1 L481.6,54.1 L480.6,54.2 L479.6,54.2 L478.6,54.3 L477.6,54.4 L476.6,54.5 L475.7,54.6 L475.1,54.7 L474.1,54.8 L473.1,54.9 L472.1,55.0 L471.6,55.1 L470.6,55.3 L469.6,55.4 L468.7,55.6 L468.1,55.7 L467.1,55.9 L466.3,56.1 L465.6,56.3 L464.6,56.5 L464.1,56.6 L463.1,56.9 L462.4,57.1 L461.6,57.3 L460.7,57.6 L460.1,57.7 L459.1,58.0 L458.6,58.2 L457.6,58.4 L457.1,58.6 L456.1,58.9 L455.5,59.1 L454.6,59.4 L454.1,59.6 L453.1,59.9 L452.6,60.1 L451.6,60.5 L451.1,60.7 L450.1,61.1 L449.6,61.3 L448.8,61.6 L448.1,61.9 L447.6,62.1 L446.6,62.5 L446.1,62.7 L445.4,63.1 L444.6,63.5 L444.1,63.7 L443.3,64.1 L442.6,64.5 L442.1,64.7 L441.3,65.1 L440.6,65.5 L440.1,65.7 L439.4,66.1 L438.6,66.5 L438.1,66.8 L437.4,67.1 L436.6,67.5 L436.1,67.7 L435.1,67.9 L434.5,67.6 L434.4,66.6 L434.6,66.0 L434.9,65.1 L435.1,64.5 L435.5,63.6 L435.7,63.1 L436.1,62.3 L436.5,61.6 L436.8,61.1 L437.1,60.5 L437.6,59.6 L437.9,59.1 L438.2,58.6 L438.6,58.0 L439.1,57.3 L439.6,56.6 L439.9,56.1 L440.3,55.6 L440.7,55.1 L441.1,54.5 L441.6,54.0 L442.1,53.5 L442.6,53.0 L443.1,52.5 L443.6,52.1 L444.1,51.6 L444.7,51.1 L445.3,50.6 L445.9,50.1 L446.5,49.6 L447.1,49.1 L447.6,48.7 L448.1,48.4 L448.6,48.0 L449.1,47.6 L449.8,47.1 L450.6,46.6 L451.1,46.3 L451.6,45.9 L452.1,45.6 L452.9,45.1 L453.6,44.7 L454.1,44.4 L454.6,44.1 L455.4,43.6 L456.1,43.1 L456.6,42.8 L457.1,42.5 L457.8,42.1 L458.6,41.7 L459.1,41.4 L459.6,41.1 L460.6,40.6 L461.1,40.3 L461.6,40.1 L462.5,39.6 L463.1,39.3 L463.6,39.1 L464.6,38.6 L465.1,38.4 L465.7,38.1 L466.6,37.7 L467.1,37.5 L468.1,37.1 L468.6,36.9 L469.4,36.6 L470.1,36.3 L470.7,36.1 L471.6,35.9 L472.5,35.6 L473.1,35.5 L474.1,35.2 L474.6,35.1 L475.6,34.8 L476.6,34.6 L477.1,34.5 L478.1,34.3 L479.1,34.1 L479.6,34.0 L480.6,33.8 L481.6,33.7 L482.1,33.6 L483.1,33.5 L484.1,33.3 L485.1,33.2 L486.0,33.1 L486.6,33.0 L487.6,32.9 L488.6,32.9 L489.6,32.8 L490.6,32.7 L491.6,32.7 L492.6,32.8 L493.6,32.8 L494.6,32.8 L495.6,32.9 L496.6,33.0 L497.6,33.0 L498.5,33.1 L499.1,33.2 L500.1,33.3 L501.1,33.4 L502.1,33.5 L502.9,33.6 L503.6,33.7 L504.6,33.9 L505.6,34.0 L506.1,34.1 L507.1,34.3 L508.1,34.5 L508.7,34.6 L509.6,34.8 L510.6,35.0 L511.1,35.2 L512.1,35.6 L512.6,35.7 L513.6,36.1 L514.1,36.3 L514.9,36.6 L515.6,36.9 L516.2,37.1 L517.1,37.5 L517.6,37.7 L518.6,38.1 L519.1,38.3 L519.7,38.6 L520.6,39.0 L521.1,39.2 L521.8,39.6 L522.6,40.0 L523.1,40.2 L523.9,40.6 L524.6,41.0 L525.1,41.2 L525.7,41.6 L526.4,42.1 L527.1,42.6 L527.6,43.0 L528.1,43.4 L528.6,43.7 L529.1,44.1 L529.7,44.6 L530.3,45.1 L530.9,45.6 L531.5,46.1 L532.1,46.6 L532.6,47.0 L533.1,47.5 L533.6,47.9 L534.1,48.4 L534.6,48.8 L535.1,49.3 L535.6,49.8 L536.1,50.3 L536.6,50.6 L537.3,51.1 L538.0,51.6 L538.6,52.0 L539.1,52.4 L539.6,52.8 L540.1,53.2 L540.7,53.6 L541.3,54.1 L541.9,54.6 L542.6,55.1 L543.1,55.5 L543.6,56.0 L544.1,56.4 L544.6,56.8 L545.1,57.2 L545.6,57.7 L546.1,58.1 L546.6,58.6 L547.2,59.1 L547.7,59.6 L548.3,60.1 L548.9,60.6 L549.5,61.1 L550.1,61.6 L550.6,62.1 L551.1,62.5 L551.6,63.0 L552.1,63.4 L552.6,63.9 L553.1,64.4 L553.6,64.9 L554.1,65.4 L554.6,65.8 L555.1,66.4 L555.6,66.9 L556.1,67.4 L556.6,67.9 L557.1,68.4 L557.6,69.0 L558.1,69.6 L558.5,70.1 L558.8,70.6 L559.2,71.1 L559.6,71.7 L560.1,72.5 L560.5,73.1 L560.9,73.6 L561.2,74.1 L561.6,74.7 L562.1,75.6 L562.4,76.1 L562.7,76.6 L563.1,77.2 L563.6,78.1 L563.9,78.6 L564.2,79.1 L564.6,79.8 L565.0,80.6 L565.3,81.1 L565.6,81.7 L566.1,82.6 L566.4,83.1 L566.7,83.6 L567.1,84.4 L567.4,85.1 L567.7,85.6 L568.1,86.4 L568.4,87.1 L568.7,87.6 L569.1,88.5 L569.4,89.1 L569.6,89.6 L570.1,90.6 L570.3,91.1 L570.6,91.9 L570.9,92.6 L571.1,93.1 L571.5,94.1 L571.7,94.6 L572.1,95.6 L572.3,96.1 L572.6,97.1 L572.7,97.6 L572.9,98.6 L573.0,99.6 L573.1,100.1 L573.3,101.1 L573.4,102.1 L573.6,103.1 L573.6,103.6 L573.8,104.6 L573.9,105.6 L574.0,106.6 L574.1,107.6 L574.1,108.1 L574.2,109.1 L574.3,110.1 L574.3,111.1 L574.4,112.1 L574.4,113.1 L574.4,114.1 L574.5,115.1 L574.6,115.9 L574.7,116.6 L574.8,117.6 L574.9,118.6 L575.0,119.6 L575.0,120.6 L575.1,121.5 L575.1,122.1 L575.2,123.1 L575.2,124.1 L575.3,125.1 L575.3,126.1 L575.3,127.1 L575.3,128.1 L575.3,129.1 L575.3,130.1 L575.2,131.1 L575.2,132.1 L575.2,133.1 L575.2,134.1 L575.1,135.1 L575.1,135.6 L575.0,136.6 L574.9,137.6 L574.9,138.6 L574.8,139.6 L574.7,140.6 L574.6,141.2 L574.5,142.1 L574.4,143.1 L574.2,144.1 L574.1,145.0 L574.0,145.6 L573.8,146.6 L573.7,147.6 L573.6,148.1 L573.4,149.1 L573.2,150.1 L573.1,150.6 L572.9,151.6 L572.7,152.6 L572.5,153.1 L572.2,154.1 L572.0,154.6 L571.6,155.5 L571.3,156.1 L571.0,156.6 L570.6,157.4 L570.2,158.1 L569.9,158.6 L569.6,159.1 L569.1,159.9 L568.7,160.6 L568.4,161.1 L568.1,161.6 L567.6,162.4 L567.1,163.1 L566.8,163.6 L566.5,164.1 L566.1,164.6 L565.6,165.4 L565.1,166.1 L564.7,166.6 L564.4,167.1 L564.0,167.6 L563.6,168.1 L563.1,168.8 L562.6,169.5 L562.1,170.1 L561.7,170.6 L561.4,171.1 L561.0,171.6 L560.6,172.1 L560.1,172.7 L559.6,173.3 L559.1,173.9 L558.6,174.4 L558.1,175.0 L557.6,175.6 L557.1,176.1 L556.7,176.6 L556.2,177.1 L555.8,177.6 L555.3,178.1 L554.9,178.6 L554.6,179.1 L554.1,179.9 L553.7,180.6 L553.4,181.1 L553.1,181.6 L552.6,182.4 L552.2,183.1 L551.8,183.6 L551.5,184.1 L551.1,184.7 L550.6,185.5 L550.2,186.1 L549.8,186.6 L549.5,187.1 L549.1,187.6 L548.6,188.3 L548.1,189.0 L547.6,189.6 L547.2,190.1 L546.9,190.6 L546.5,191.1 L546.1,191.7 L545.6,192.4 L545.1,193.1 L544.7,193.6 L544.3,194.1 L543.9,194.6 L543.5,195.1 L543.1,195.6 L542.6,196.2 L542.1,196.8 L541.6,197.4 L541.1,198.0 L540.6,198.6 L540.2,199.1 L539.7,199.6 L539.3,200.1 L538.8,200.6 L538.3,201.1 L537.9,201.6 L537.4,202.1 L536.9,202.6 L536.4,203.1 L536.0,203.6 L535.5,204.1 L535.1,204.6 L534.6,205.2 L534.1,205.7 L533.6,206.2 L533.1,206.8 L532.6,207.3 L532.1,207.8 L531.6,208.3 L531.1,208.8 L530.6,209.3 L530.1,209.8 L529.6,210.3 L529.1,210.8 L528.6,211.2 L528.1,211.6 L527.2,212.1 L526.6,212.4 L526.1,212.6 L525.1,213.0 L524.6,213.2 L523.6,213.6 L523.1,213.8 L522.2,214.1 L521.6,214.3 L520.7,214.6 L520.1,214.8 L519.2,215.1 L518.6,215.3 L517.6,215.6 L517.1,215.7 L516.1,216.0 L515.6,216.2 L514.6,216.4 L514.0,216.6 L513.1,216.8 L512.1,217.0 L511.6,217.1 L510.6,217.3 L509.6,217.4 L508.6,217.6 L508.1,217.6 L507.1,217.8 L506.1,217.9 L505.1,218.0 L504.1,218.1 L503.6,218.1 L502.6,218.2 L501.6,218.3 L500.6,218.3 L499.6,218.3 L498.6,218.4 L497.6,218.4 L496.6,218.4 L495.6,218.4 L494.6,218.4 L493.6,218.5 L493.1,218.6 L492.1,218.8 L491.1,218.9 L490.1,219.1 L489.6,219.2 L488.6,219.3 L487.6,219.4 L486.6,219.5 L485.6,219.6 L485.1,219.6Z M403.6,115.8 L402.6,115.8 L402.1,115.6 L401.6,115.1 L401.1,114.5 L400.6,113.6 L400.5,113.1 L400.1,112.1 L400.0,111.6 L399.8,110.6 L399.7,109.6 L399.6,108.9 L399.5,108.1 L399.4,107.1 L399.4,106.1 L399.4,105.1 L399.3,104.1 L399.3,103.1 L399.4,102.1 L399.6,101.5 L399.9,100.6 L400.1,100.1 L400.5,99.1 L400.7,98.6 L401.1,97.7 L401.4,97.1 L401.6,96.6 L402.1,95.8 L402.6,95.2 L403.1,94.7 L403.6,94.5 L404.6,94.5 L405.1,94.9 L405.6,95.4 L406.1,96.1 L406.4,96.6 L406.6,97.1 L407.1,98.1 L407.3,98.6 L407.6,99.3 L407.9,100.1 L408.1,100.6 L408.4,101.6 L408.6,102.2 L408.7,103.1 L408.6,103.8 L408.5,104.6 L408.3,105.6 L408.1,106.5 L408.0,107.1 L407.7,108.1 L407.6,108.7 L407.4,109.6 L407.1,110.5 L406.9,111.1 L406.6,111.9 L406.3,112.6 L406.0,113.1 L405.6,113.9 L405.1,114.6 L404.7,115.1 L404.1,115.6 L403.6,115.8Z M426.6,183.6 L425.6,183.8 L424.6,183.8 L423.6,183.6 L423.1,183.5 L422.1,183.2 L421.6,183.0 L420.6,182.7 L420.1,182.5 L419.1,182.2 L418.6,182.0 L417.6,181.6 L417.1,181.4 L416.2,181.1 L415.6,180.8 L415.1,180.5 L414.6,180.1 L413.9,179.6 L413.2,179.1 L412.6,178.7 L412.1,178.4 L411.6,178.0 L411.0,177.6 L410.3,177.1 L409.6,176.6 L409.1,176.2 L408.6,175.9 L408.1,175.5 L407.5,175.1 L406.8,174.6 L406.3,174.1 L405.8,173.6 L405.4,173.1 L405.0,172.6 L404.5,172.1 L404.1,171.5 L403.6,170.9 L403.1,170.3 L402.6,169.7 L402.2,169.1 L401.8,168.6 L401.4,168.1 L401.0,167.6 L400.6,167.1 L400.1,166.5 L399.6,165.9 L399.1,165.2 L398.6,164.6 L398.4,164.1 L398.1,163.6 L397.7,162.6 L397.5,162.1 L397.1,161.1 L396.9,160.6 L396.6,159.9 L396.3,159.1 L396.1,158.6 L395.7,157.6 L395.5,157.1 L395.1,156.1 L394.9,155.6 L394.6,154.7 L394.4,154.1 L394.1,153.3 L393.9,152.6 L393.6,151.7 L393.5,151.1 L393.4,150.1 L393.4,149.1 L393.4,148.1 L393.4,147.1 L393.4,146.1 L393.4,145.1 L393.5,144.1 L393.5,143.1 L393.6,142.6 L393.7,141.6 L393.9,140.6 L394.1,139.9 L394.4,139.1 L394.6,138.5 L395.0,137.6 L395.1,137.1 L395.5,136.1 L395.8,135.6 L396.1,134.8 L396.4,134.1 L396.7,133.6 L397.1,132.9 L397.6,132.2 L398.1,131.6 L398.6,131.2 L399.1,130.9 L400.1,130.8 L400.6,131.1 L401.1,131.6 L401.6,132.4 L401.9,133.1 L402.2,133.6 L402.5,134.6 L402.6,135.1 L402.9,136.1 L403.1,136.9 L403.2,137.6 L403.6,138.2 L404.1,138.9 L404.6,139.6 L404.9,140.1 L405.1,140.6 L405.6,141.5 L405.9,142.1 L406.1,142.6 L406.6,143.6 L406.8,144.1 L407.1,144.8 L407.4,145.6 L407.6,146.1 L408.1,146.9 L408.5,147.6 L408.9,148.1 L409.2,148.6 L409.6,149.3 L410.1,150.1 L410.4,150.6 L410.7,151.1 L411.1,151.7 L411.6,152.5 L412.0,153.1 L412.3,153.6 L412.6,154.1 L413.1,155.0 L413.5,155.6 L413.9,156.1 L414.2,156.6 L414.6,157.1 L415.1,157.8 L415.6,158.5 L416.0,159.1 L416.3,159.6 L416.7,160.1 L417.1,160.7 L417.6,161.4 L418.1,162.1 L418.4,162.6 L418.8,163.1 L419.2,163.6 L419.6,164.2 L420.1,164.9 L420.6,165.6 L420.9,166.1 L421.3,166.6 L421.6,167.1 L422.1,167.7 L422.6,168.5 L423.1,169.1 L423.4,169.6 L423.8,170.1 L424.1,170.6 L424.6,171.3 L425.1,172.1 L425.4,172.6 L425.7,173.1 L426.1,173.9 L426.5,174.6 L426.8,175.1 L427.1,175.7 L427.6,176.6 L427.9,177.1 L428.1,177.6 L428.6,178.6 L428.9,179.1 L429.1,179.8 L429.3,180.6 L429.2,181.6 L429.0,182.1 L428.6,182.6 L428.0,183.1 L427.1,183.5 L426.6,183.6Z " fill="#fbe9a3" fill-rule="evenodd"/>
<path d="M499.6,217.1 L499.1,217.1 L498.6,217.1 L497.6,217.1 L497.1,217.1 L496.1,217.1 L495.1,217.0 L494.1,216.9 L493.1,217.1 L492.6,217.1 L491.6,217.2 L490.6,217.3 L489.6,217.4 L488.6,217.4 L487.6,217.4 L486.6,217.4 L485.6,217.4 L484.6,217.3 L483.6,217.2 L482.6,217.1 L482.1,217.1 L481.1,216.8 L480.1,216.6 L479.6,216.4 L478.9,216.1 L478.2,215.6 L477.9,215.1 L478.1,214.4 L478.6,213.9 L479.1,213.6 L480.1,213.2 L480.6,213.0 L481.6,212.7 L482.1,212.6 L483.1,212.3 L483.9,212.1 L484.6,212.0 L485.6,211.7 L486.1,211.6 L487.1,211.4 L488.1,211.2 L488.6,211.1 L489.6,210.9 L490.6,210.7 L491.1,210.6 L492.1,210.3 L493.1,210.1 L493.6,210.0 L494.6,209.8 L495.3,209.6 L496.1,209.4 L497.1,209.2 L497.6,209.0 L498.6,208.8 L499.2,208.6 L500.1,208.4 L501.0,208.1 L501.6,207.9 L502.6,207.6 L503.1,207.5 L504.1,207.1 L504.6,207.0 L505.6,206.6 L506.1,206.5 L507.1,206.1 L507.6,205.9 L508.5,205.6 L509.1,205.3 L509.6,205.0 L510.1,204.6 L510.8,204.1 L511.5,203.6 L512.1,203.2 L512.6,202.8 L513.1,202.4 L513.6,202.1 L514.2,201.6 L514.8,201.1 L515.4,200.6 L516.0,200.1 L516.6,199.6 L517.1,199.2 L517.6,198.7 L518.1,198.1 L518.5,197.6 L518.9,197.1 L519.3,196.6 L519.6,196.1 L520.1,195.5 L520.6,194.8 L521.1,194.1 L521.5,193.6 L521.8,193.1 L522.2,192.6 L522.6,192.0 L523.1,191.4 L523.6,190.7 L524.0,190.1 L524.4,189.6 L524.7,189.1 L525.1,188.6 L525.6,187.8 L526.1,187.1 L526.4,186.6 L526.7,186.1 L527.1,185.5 L527.6,184.7 L528.0,184.1 L528.2,183.6 L528.6,183.0 L529.1,182.1 L529.4,181.6 L529.7,181.1 L530.1,180.3 L530.5,179.6 L530.8,179.1 L531.1,178.6 L531.6,178.0 L532.1,177.4 L532.6,176.8 L533.1,176.2 L533.6,175.7 L534.1,175.1 L534.5,174.6 L534.9,174.1 L535.3,173.6 L535.6,173.1 L536.1,172.5 L536.6,171.8 L537.1,171.2 L537.5,170.6 L537.9,170.1 L538.2,169.6 L538.6,169.0 L539.1,168.3 L539.5,167.6 L539.9,167.1 L540.3,166.6 L540.8,166.1 L541.4,165.6 L541.9,165.1 L542.5,164.6 L543.0,164.1 L543.5,163.6 L544.1,163.1 L544.6,162.6 L545.1,162.1 L545.6,161.6 L546.1,161.1 L546.5,160.6 L547.0,160.1 L547.5,159.6 L547.9,159.1 L548.2,158.6 L548.6,157.6 L548.8,157.1 L549.1,156.1 L549.3,155.6 L549.6,154.6 L549.7,154.1 L550.0,153.1 L550.2,152.6 L550.4,151.6 L550.6,151.0 L550.8,150.1 L551.1,149.1 L551.2,148.6 L551.2,147.6 L551.3,146.6 L551.3,145.6 L551.4,144.6 L551.4,143.6 L551.4,142.6 L551.4,141.6 L551.3,140.6 L551.3,139.6 L551.3,138.6 L551.2,137.6 L551.1,136.6 L551.1,136.1 L551.0,135.1 L550.9,134.1 L550.8,133.1 L550.6,132.1 L550.6,131.1 L550.7,130.1 L550.7,129.1 L550.7,128.1 L550.7,127.1 L550.8,126.1 L550.7,125.1 L550.7,124.1 L550.7,123.1 L550.6,122.1 L550.6,121.4 L550.5,120.6 L550.5,119.6 L550.4,118.6 L550.3,117.6 L550.2,116.6 L550.1,115.6 L550.2,114.6 L550.2,113.6 L550.3,112.6 L550.3,111.6 L550.3,110.6 L550.3,109.6 L550.3,108.6 L550.3,107.6 L550.3,106.6 L550.3,105.6 L550.2,104.6 L550.1,103.6 L550.1,103.1 L550.0,102.1 L549.9,101.1 L549.8,100.1 L549.9,99.1 L549.9,98.1 L549.9,97.1 L549.9,96.1 L549.9,95.1 L549.8,94.1 L549.8,93.1 L549.7,92.1 L549.7,91.1 L549.6,90.1 L549.6,89.6 L549.5,88.6 L549.4,87.6 L549.2,86.6 L549.1,86.1 L548.9,85.1 L548.6,84.1 L548.5,83.6 L548.3,82.6 L548.1,82.0 L547.9,81.1 L547.6,80.1 L547.4,79.6 L547.1,78.6 L547.0,78.1 L546.7,77.1 L546.5,76.6 L546.1,75.7 L545.8,75.1 L545.5,74.6 L545.1,73.8 L544.7,73.1 L544.4,72.6 L544.1,72.1 L543.6,71.2 L543.2,70.6 L542.9,70.1 L542.6,69.6 L542.1,68.8 L541.7,68.1 L541.3,67.6 L541.0,67.1 L540.6,66.5 L540.1,66.1 L539.6,65.6 L539.0,65.1 L538.4,64.6 L537.8,64.1 L537.2,63.6 L536.6,63.1 L536.1,62.7 L535.6,62.3 L535.1,62.0 L534.6,61.6 L534.0,61.1 L533.3,60.6 L532.6,60.1 L532.1,59.7 L531.6,59.4 L531.1,59.1 L530.1,58.7 L529.6,58.5 L528.6,58.3 L527.6,58.1 L527.1,58.0 L526.1,57.8 L525.1,57.6 L524.6,57.5 L523.6,57.3 L522.6,57.2 L522.0,57.1 L521.1,57.0 L520.1,56.8 L519.1,56.7 L518.6,56.6 L517.6,56.4 L516.6,56.3 L515.6,56.1 L515.1,56.0 L514.1,55.9 L513.1,55.8 L512.1,55.7 L511.1,55.6 L510.6,55.6 L509.6,55.5 L508.6,55.5 L507.6,55.5 L506.6,55.4 L505.6,55.3 L504.6,55.1 L504.1,55.0 L503.1,54.8 L502.1,54.7 L501.6,54.6 L500.6,54.5 L499.6,54.3 L498.6,54.2 L497.6,54.1 L497.1,54.1 L496.1,54.0 L495.1,53.9 L494.1,53.9 L493.1,53.8 L492.1,53.8 L491.1,53.8 L490.1,53.8 L489.1,53.7 L488.1,53.6 L487.4,53.6 L486.6,53.6 L485.6,53.6 L484.6,53.5 L483.6,53.5 L482.6,53.6 L481.6,53.6 L481.1,53.6 L480.1,53.7 L479.1,53.7 L478.1,53.8 L477.1,53.9 L476.1,54.0 L475.5,54.1 L474.6,54.2 L473.6,54.3 L472.6,54.4 L471.6,54.6 L471.1,54.6 L470.1,54.8 L469.1,55.0 L468.4,55.1 L467.6,55.2 L466.6,55.4 L465.9,55.6 L465.1,55.8 L464.1,56.0 L463.6,56.1 L462.6,56.4 L461.8,56.6 L461.1,56.8 L460.1,57.1 L459.6,57.2 L458.6,57.4 L458.0,57.6 L457.1,57.8 L456.2,58.1 L455.6,58.3 L454.6,58.6 L454.1,58.7 L453.1,59.0 L452.6,59.2 L451.6,59.5 L451.1,59.7 L450.1,60.0 L449.6,60.1 L448.6,60.4 L448.1,60.6 L447.1,60.9 L446.2,61.1 L445.6,61.3 L444.8,61.6 L444.1,61.8 L443.3,62.1 L442.6,62.3 L441.6,62.6 L441.1,62.7 L440.2,62.6 L439.6,62.2 L439.5,61.6 L439.6,60.6 L439.7,60.1 L440.1,59.2 L440.4,58.6 L440.6,58.1 L441.1,57.2 L441.5,56.6 L441.8,56.1 L442.1,55.6 L442.6,55.0 L443.1,54.3 L443.6,53.7 L444.1,53.2 L444.6,52.6 L445.1,52.1 L445.6,51.6 L446.1,51.2 L446.6,50.7 L447.1,50.3 L447.6,49.9 L448.1,49.4 L448.6,49.0 L449.2,48.6 L449.8,48.1 L450.5,47.6 L451.1,47.2 L451.6,46.8 L452.1,46.5 L452.6,46.1 L453.4,45.6 L454.1,45.2 L454.6,44.9 L455.1,44.5 L455.8,44.1 L456.6,43.6 L457.1,43.3 L457.6,43.0 L458.2,42.6 L459.1,42.1 L459.6,41.8 L460.1,41.5 L460.9,41.1 L461.6,40.7 L462.1,40.5 L462.8,40.1 L463.6,39.7 L464.1,39.5 L464.8,39.1 L465.6,38.8 L466.1,38.5 L467.1,38.1 L467.6,37.9 L468.3,37.6 L469.1,37.3 L469.6,37.1 L470.6,36.7 L471.1,36.5 L472.1,36.3 L472.7,36.1 L473.6,35.9 L474.6,35.6 L475.1,35.5 L476.1,35.3 L476.8,35.1 L477.6,34.9 L478.6,34.7 L479.3,34.6 L480.1,34.5 L481.1,34.3 L482.1,34.1 L482.6,34.1 L483.6,33.9 L484.6,33.8 L485.6,33.7 L486.2,33.6 L487.1,33.5 L488.1,33.4 L489.1,33.3 L490.1,33.3 L491.1,33.3 L492.1,33.3 L493.1,33.3 L494.1,33.3 L495.1,33.4 L496.1,33.5 L497.1,33.5 L497.9,33.6 L498.6,33.7 L499.6,33.8 L500.6,33.9 L501.6,34.0 L502.4,34.1 L503.1,34.2 L504.1,34.4 L505.1,34.5 L505.6,34.6 L506.6,34.8 L507.6,35.0 L508.3,35.1 L509.1,35.3 L510.1,35.5 L510.6,35.7 L511.6,36.0 L512.1,36.2 L513.1,36.5 L513.6,36.7 L514.6,37.1 L515.1,37.3 L515.8,37.6 L516.6,37.9 L517.1,38.1 L518.1,38.6 L518.6,38.8 L519.3,39.1 L520.1,39.5 L520.6,39.7 L521.4,40.1 L522.1,40.4 L522.6,40.7 L523.5,41.1 L524.1,41.4 L524.6,41.7 L525.3,42.1 L526.0,42.6 L526.6,43.0 L527.1,43.4 L527.6,43.8 L528.1,44.2 L528.6,44.6 L529.2,45.1 L529.8,45.6 L530.4,46.1 L531.0,46.6 L531.6,47.1 L532.1,47.6 L532.6,48.0 L533.1,48.5 L533.6,49.0 L534.1,49.4 L534.6,49.9 L535.1,50.4 L535.6,50.9 L536.1,51.3 L536.6,51.7 L537.2,52.1 L537.9,52.6 L538.5,53.1 L539.1,53.5 L539.6,53.9 L540.1,54.3 L540.6,54.7 L541.1,55.1 L541.7,55.6 L542.3,56.1 L542.9,56.6 L543.5,57.1 L544.1,57.6 L544.6,58.1 L545.1,58.5 L545.6,59.0 L546.1,59.5 L546.6,59.9 L547.1,60.4 L547.6,60.8 L548.1,61.2 L548.6,61.6 L549.2,62.1 L549.8,62.6 L550.3,63.1 L550.9,63.6 L551.5,64.1 L552.0,64.6 L552.5,65.1 L553.1,65.6 L553.6,66.1 L554.1,66.6 L554.6,67.1 L555.1,67.6 L555.6,68.1 L556.1,68.6 L556.5,69.1 L557.0,69.6 L557.4,70.1 L557.8,70.6 L558.2,71.1 L558.6,71.7 L559.1,72.4 L559.6,73.1 L559.9,73.6 L560.3,74.1 L560.6,74.6 L561.1,75.4 L561.6,76.1 L561.9,76.6 L562.2,77.1 L562.6,77.8 L563.1,78.6 L563.4,79.1 L563.7,79.6 L564.1,80.3 L564.5,81.1 L564.8,81.6 L565.1,82.2 L565.6,83.0 L565.9,83.6 L566.2,84.1 L566.6,84.9 L567.0,85.6 L567.2,86.1 L567.6,86.8 L568.0,87.6 L568.2,88.1 L568.6,88.9 L568.9,89.6 L569.2,90.1 L569.6,91.1 L569.8,91.6 L570.1,92.2 L570.5,93.1 L570.7,93.6 L571.1,94.6 L571.3,95.1 L571.6,96.0 L571.8,96.6 L572.1,97.6 L572.2,98.1 L572.3,99.1 L572.5,100.1 L572.6,100.6 L572.8,101.6 L572.9,102.6 L573.0,103.6 L573.1,104.1 L573.2,105.1 L573.3,106.1 L573.4,107.1 L573.5,108.1 L573.6,108.9 L573.7,109.6 L573.7,110.6 L573.8,111.6 L573.8,112.6 L573.9,113.6 L573.9,114.6 L574.0,115.6 L574.1,116.6 L574.2,117.1 L574.3,118.1 L574.3,119.1 L574.4,120.1 L574.5,121.1 L574.6,122.1 L574.6,122.8 L574.6,123.6 L574.7,124.6 L574.7,125.6 L574.7,126.6 L574.7,127.6 L574.7,128.6 L574.7,129.6 L574.7,130.6 L574.6,131.6 L574.6,132.6 L574.6,133.4 L574.6,134.1 L574.5,135.1 L574.5,136.1 L574.4,137.1 L574.3,138.1 L574.2,139.1 L574.1,140.1 L574.1,140.6 L574.0,141.6 L573.9,142.6 L573.7,143.6 L573.6,144.4 L573.5,145.1 L573.3,146.1 L573.2,147.1 L573.1,147.6 L572.9,148.6 L572.7,149.6 L572.6,150.2 L572.4,151.1 L572.2,152.1 L572.1,152.6 L571.8,153.6 L571.6,154.1 L571.2,155.1 L570.9,155.6 L570.6,156.2 L570.1,157.1 L569.8,157.6 L569.5,158.1 L569.1,158.8 L568.6,159.6 L568.3,160.1 L568.0,160.6 L567.6,161.2 L567.1,162.0 L566.7,162.6 L566.4,163.1 L566.1,163.6 L565.6,164.3 L565.1,165.0 L564.7,165.6 L564.3,166.1 L564.0,166.6 L563.6,167.1 L563.1,167.8 L562.6,168.4 L562.1,169.1 L561.7,169.6 L561.3,170.1 L560.9,170.6 L560.5,171.1 L560.1,171.6 L559.6,172.2 L559.1,172.8 L558.6,173.4 L558.1,174.0 L557.6,174.6 L557.1,175.1 L556.7,175.6 L556.2,176.1 L555.8,176.6 L555.3,177.1 L554.8,177.6 L554.4,178.1 L554.1,178.6 L553.6,179.4 L553.2,180.1 L552.9,180.6 L552.6,181.1 L552.1,181.9 L551.7,182.6 L551.4,183.1 L551.1,183.6 L550.6,184.3 L550.1,185.0 L549.7,185.6 L549.4,186.1 L549.0,186.6 L548.6,187.2 L548.1,187.9 L547.6,188.6 L547.2,189.1 L546.8,189.6 L546.5,190.1 L546.1,190.6 L545.6,191.3 L545.1,192.0 L544.6,192.6 L544.3,193.1 L543.9,193.6 L543.5,194.1 L543.1,194.6 L542.6,195.2 L542.1,195.8 L541.6,196.4 L541.1,197.0 L540.6,197.6 L540.1,198.1 L539.7,198.6 L539.2,199.1 L538.8,199.6 L538.3,200.1 L537.8,200.6 L537.4,201.1 L536.9,201.6 L536.4,202.1 L535.9,202.6 L535.4,203.1 L535.0,203.6 L534.5,204.1 L534.1,204.6 L533.6,205.1 L533.1,205.6 L532.6,206.1 L532.1,206.6 L531.6,207.1 L531.1,207.6 L530.6,208.1 L530.1,208.6 L529.5,209.1 L529.0,209.6 L528.5,210.1 L527.9,210.6 L527.1,211.1 L526.6,211.4 L526.1,211.6 L525.1,212.0 L524.6,212.2 L523.6,212.6 L523.1,212.8 L522.2,213.1 L521.6,213.3 L520.7,213.6 L520.1,213.8 L519.2,214.1 L518.6,214.3 L517.6,214.6 L517.1,214.7 L516.1,215.0 L515.6,215.1 L514.6,215.4 L513.9,215.6 L513.1,215.8 L512.1,216.0 L511.4,216.1 L510.6,216.2 L509.6,216.4 L508.6,216.5 L507.6,216.6 L507.1,216.7 L506.1,216.8 L505.1,216.8 L504.1,216.9 L503.1,217.0 L502.1,217.0 L501.1,217.1 L500.1,217.1 L499.6,217.1Z M425.6,182.1 L424.6,182.2 L423.6,182.2 L423.1,182.1 L422.1,181.9 L421.1,181.7 L420.6,181.5 L419.6,181.3 L419.1,181.1 L418.1,180.8 L417.4,180.6 L416.6,180.3 L416.1,180.0 L415.4,179.6 L414.6,179.1 L414.1,178.7 L413.6,178.4 L413.1,178.1 L412.4,177.6 L411.6,177.1 L411.1,176.7 L410.6,176.4 L410.1,176.1 L409.4,175.6 L408.7,175.1 L408.1,174.7 L407.6,174.3 L407.1,173.9 L406.6,173.5 L406.1,173.0 L405.6,172.3 L405.1,171.7 L404.7,171.1 L404.3,170.6 L403.9,170.1 L403.5,169.6 L403.1,169.1 L402.6,168.4 L402.1,167.7 L401.6,167.1 L401.2,166.6 L400.9,166.1 L400.5,165.6 L400.1,165.1 L399.6,164.4 L399.1,163.6 L398.9,163.1 L398.6,162.3 L398.3,161.6 L398.1,161.0 L397.8,160.1 L397.6,159.6 L397.3,158.6 L397.1,158.1 L396.8,157.1 L396.6,156.5 L396.3,155.6 L396.1,154.8 L395.9,154.1 L395.6,153.1 L395.5,152.6 L395.3,151.6 L395.1,150.6 L395.1,149.6 L395.2,148.6 L395.4,147.6 L395.5,146.6 L395.6,146.1 L395.9,145.1 L396.1,144.5 L396.5,143.6 L396.7,143.1 L397.1,142.5 L397.6,141.9 L398.1,141.5 L398.9,141.1 L399.6,141.0 L400.6,141.1 L401.1,141.3 L401.7,141.6 L402.4,142.1 L403.0,142.6 L403.5,143.1 L403.9,143.6 L404.3,144.1 L404.6,144.6 L405.1,145.3 L405.6,146.1 L405.9,146.6 L406.3,147.1 L406.7,147.6 L407.1,148.1 L407.6,148.7 L408.1,149.4 L408.6,150.1 L409.0,150.6 L409.4,151.1 L409.7,151.6 L410.1,152.2 L410.6,152.9 L411.1,153.6 L411.4,154.1 L411.7,154.6 L412.1,155.2 L412.6,155.9 L413.1,156.5 L413.5,157.1 L413.9,157.6 L414.3,158.1 L414.6,158.6 L415.1,159.2 L415.6,159.9 L416.1,160.6 L416.5,161.1 L416.9,161.6 L417.2,162.1 L417.6,162.6 L418.1,163.3 L418.6,164.0 L419.0,164.6 L419.4,165.1 L419.7,165.6 L420.1,166.2 L420.6,166.9 L421.1,167.6 L421.4,168.1 L421.7,168.6 L422.1,169.1 L422.6,169.9 L423.1,170.6 L423.4,171.1 L423.7,171.6 L424.1,172.2 L424.6,173.1 L424.8,173.6 L425.1,174.1 L425.6,175.1 L425.8,175.6 L426.1,176.2 L426.5,177.1 L426.7,177.6 L427.0,178.6 L427.1,179.1 L427.2,180.1 L427.1,180.7 L426.6,181.6 L426.1,181.9 L425.6,182.1Z " fill="#fcd274" fill-rule="evenodd"/>
<path d="M508.6,215.1 L507.6,215.2 L506.6,215.3 L505.6,215.3 L504.6,215.4 L503.6,215.4 L502.6,215.4 L501.6,215.4 L500.6,215.3 L499.6,215.3 L498.6,215.2 L497.8,215.1 L497.1,215.0 L496.1,214.8 L495.3,214.6 L494.6,214.3 L494.1,214.1 L493.8,213.1 L494.3,212.6 L495.1,212.1 L495.6,211.9 L496.2,211.6 L497.1,211.3 L497.6,211.1 L498.6,210.7 L499.1,210.5 L500.1,210.1 L500.6,210.0 L501.6,209.6 L502.1,209.4 L503.0,209.1 L503.6,208.9 L504.3,208.6 L505.1,208.3 L505.7,208.1 L506.6,207.7 L507.1,207.5 L508.1,207.1 L508.6,207.0 L509.4,206.6 L510.1,206.1 L510.6,205.8 L511.1,205.4 L511.6,205.0 L512.2,204.6 L512.8,204.1 L513.5,203.6 L514.1,203.1 L514.6,202.7 L515.1,202.3 L515.6,201.9 L516.1,201.5 L516.6,201.0 L517.1,200.6 L517.7,200.1 L518.2,199.6 L518.6,199.0 L519.1,198.3 L519.6,197.6 L520.0,197.1 L520.3,196.6 L520.7,196.1 L521.1,195.5 L521.6,194.7 L522.0,194.1 L522.4,193.6 L522.7,193.1 L523.1,192.5 L523.6,191.8 L524.1,191.1 L524.4,190.6 L524.8,190.1 L525.1,189.6 L525.6,188.9 L526.1,188.1 L526.4,187.6 L526.7,187.1 L527.1,186.5 L527.6,185.7 L528.0,185.1 L528.2,184.6 L528.6,184.0 L529.1,183.1 L529.4,182.6 L529.6,182.1 L530.1,181.3 L530.4,180.6 L530.7,180.1 L531.1,179.4 L531.6,178.7 L532.1,178.1 L532.5,177.6 L533.0,177.1 L533.4,176.6 L533.8,176.1 L534.3,175.6 L534.7,175.1 L535.1,174.6 L535.6,174.0 L536.1,173.3 L536.6,172.7 L537.1,172.1 L537.4,171.6 L537.8,171.1 L538.2,170.6 L538.6,170.0 L539.1,169.3 L539.6,168.6 L539.9,168.1 L540.3,167.6 L540.7,167.1 L541.2,166.6 L541.7,166.1 L542.3,165.6 L542.8,165.1 L543.4,164.6 L543.9,164.1 L544.5,163.6 L545.0,163.1 L545.5,162.6 L546.0,162.1 L546.5,161.6 L547.0,161.1 L547.4,160.6 L547.9,160.1 L548.4,159.6 L548.8,159.1 L549.1,158.2 L549.3,157.6 L549.6,156.7 L549.8,156.1 L550.1,155.1 L550.2,154.6 L550.5,153.6 L550.7,153.1 L551.0,152.1 L551.1,151.5 L551.3,150.6 L551.6,149.6 L551.7,149.1 L551.8,148.1 L551.9,147.1 L551.9,146.1 L552.0,145.1 L552.0,144.1 L552.0,143.1 L552.0,142.1 L552.0,141.1 L551.9,140.1 L551.9,139.1 L551.8,138.1 L551.8,137.1 L551.7,136.1 L551.6,135.2 L551.5,134.6 L551.4,133.6 L551.3,132.6 L551.2,131.6 L551.2,130.6 L551.3,129.6 L551.3,128.6 L551.3,127.6 L551.4,126.6 L551.4,125.6 L551.3,124.6 L551.3,123.6 L551.3,122.6 L551.2,121.6 L551.1,120.6 L551.1,120.0 L551.0,119.1 L550.9,118.1 L550.8,117.1 L550.7,116.1 L550.7,115.1 L550.8,114.1 L550.9,113.1 L550.9,112.1 L550.9,111.1 L551.0,110.1 L551.0,109.1 L551.0,108.1 L550.9,107.1 L550.9,106.1 L550.9,105.1 L550.8,104.1 L550.7,103.1 L550.6,102.1 L550.6,101.6 L550.5,100.6 L550.5,99.6 L550.5,98.6 L550.5,97.6 L550.5,96.6 L550.5,95.6 L550.5,94.6 L550.5,93.6 L550.4,92.6 L550.4,91.6 L550.3,90.6 L550.3,89.6 L550.2,88.6 L550.1,87.8 L550.0,87.1 L549.9,86.1 L549.6,85.1 L549.5,84.6 L549.3,83.6 L549.1,82.6 L549.0,82.1 L548.7,81.1 L548.6,80.6 L548.3,79.6 L548.1,78.7 L547.9,78.1 L547.7,77.1 L547.5,76.6 L547.2,75.6 L546.9,75.1 L546.6,74.4 L546.2,73.6 L545.9,73.1 L545.6,72.6 L545.1,71.6 L544.8,71.1 L544.5,70.6 L544.1,69.8 L543.7,69.1 L543.4,68.6 L543.1,68.1 L542.6,67.3 L542.2,66.6 L541.9,66.1 L541.5,65.6 L540.9,65.1 L540.3,64.6 L539.7,64.1 L539.1,63.6 L538.6,63.2 L538.1,62.8 L537.6,62.4 L537.1,62.0 L536.5,61.6 L535.9,61.1 L535.2,60.6 L534.6,60.2 L534.1,59.8 L533.6,59.5 L533.1,59.1 L532.3,58.6 L531.6,58.1 L531.1,57.9 L530.1,57.7 L529.5,57.6 L528.6,57.4 L527.6,57.2 L526.8,57.1 L526.1,57.0 L525.1,56.8 L524.1,56.7 L523.6,56.6 L522.6,56.4 L521.6,56.3 L520.6,56.2 L519.9,56.1 L519.1,56.0 L518.1,55.8 L517.1,55.6 L516.6,55.6 L515.6,55.4 L514.6,55.3 L513.6,55.2 L512.6,55.1 L512.1,55.1 L511.1,55.0 L510.1,54.9 L509.1,54.9 L508.1,54.8 L507.1,54.8 L506.1,54.8 L505.2,54.6 L504.6,54.5 L503.6,54.3 L502.6,54.1 L502.1,54.1 L501.1,53.9 L500.1,53.8 L499.1,53.7 L498.4,53.6 L497.6,53.5 L496.6,53.4 L495.6,53.4 L494.6,53.3 L493.6,53.3 L492.6,53.2 L491.6,53.2 L490.6,53.2 L489.6,53.2 L488.6,53.1 L488.1,53.1 L487.1,53.0 L486.1,53.0 L485.1,53.0 L484.1,53.0 L483.1,53.0 L482.1,53.0 L481.1,53.1 L480.5,53.1 L479.6,53.2 L478.6,53.2 L477.6,53.3 L476.6,53.4 L475.6,53.5 L475.1,53.6 L474.1,53.7 L473.1,53.8 L472.1,53.9 L471.1,54.1 L470.6,54.1 L469.6,54.3 L468.6,54.4 L467.7,54.6 L467.1,54.7 L466.1,54.9 L465.2,55.1 L464.6,55.2 L463.6,55.4 L462.9,55.6 L462.1,55.8 L461.1,56.1 L460.6,56.2 L459.6,56.4 L458.8,56.6 L458.1,56.7 L457.1,57.0 L456.6,57.1 L455.6,57.3 L454.6,57.6 L454.1,57.7 L453.1,58.0 L452.6,58.1 L451.6,58.3 L450.6,58.6 L450.1,58.7 L449.1,58.8 L448.1,59.0 L447.1,59.1 L446.1,59.1 L445.1,58.8 L444.6,58.5 L444.1,57.6 L444.0,57.1 L444.1,56.6 L444.4,55.6 L444.7,55.1 L445.1,54.4 L445.6,53.6 L446.0,53.1 L446.4,52.6 L446.9,52.1 L447.3,51.6 L447.8,51.1 L448.3,50.6 L448.9,50.1 L449.4,49.6 L450.0,49.1 L450.6,48.6 L451.1,48.2 L451.6,47.9 L452.1,47.5 L452.6,47.1 L453.3,46.6 L454.1,46.1 L454.6,45.7 L455.1,45.4 L455.6,45.1 L456.3,44.6 L457.1,44.1 L457.6,43.8 L458.1,43.5 L458.7,43.1 L459.5,42.6 L460.1,42.3 L460.6,42.0 L461.3,41.6 L462.1,41.1 L462.6,40.9 L463.1,40.6 L464.1,40.1 L464.6,39.9 L465.2,39.6 L466.1,39.2 L466.6,38.9 L467.4,38.6 L468.1,38.3 L468.6,38.1 L469.6,37.7 L470.1,37.5 L471.1,37.1 L471.6,37.0 L472.6,36.7 L473.1,36.6 L474.1,36.3 L474.9,36.1 L475.6,35.9 L476.6,35.7 L477.1,35.6 L478.1,35.4 L479.1,35.2 L479.6,35.1 L480.6,34.9 L481.6,34.8 L482.6,34.6 L483.1,34.5 L484.1,34.4 L485.1,34.3 L486.1,34.2 L486.8,34.1 L487.6,34.0 L488.6,33.9 L489.6,33.9 L490.6,33.8 L491.6,33.8 L492.6,33.9 L493.6,33.9 L494.6,33.9 L495.6,34.0 L496.6,34.1 L497.1,34.1 L498.1,34.2 L499.1,34.3 L500.1,34.4 L501.1,34.5 L501.7,34.6 L502.6,34.7 L503.6,34.9 L504.6,35.0 L505.1,35.1 L506.1,35.3 L507.1,35.5 L507.7,35.6 L508.6,35.8 L509.6,36.0 L510.1,36.1 L511.1,36.5 L511.6,36.7 L512.6,37.0 L513.1,37.2 L514.1,37.6 L514.6,37.8 L515.3,38.1 L516.1,38.4 L516.6,38.6 L517.6,39.1 L518.1,39.3 L518.8,39.6 L519.6,40.0 L520.1,40.2 L520.9,40.6 L521.6,40.9 L522.1,41.2 L522.9,41.6 L523.6,42.0 L524.1,42.2 L524.8,42.6 L525.5,43.1 L526.1,43.5 L526.6,43.9 L527.1,44.3 L527.6,44.7 L528.1,45.1 L528.7,45.6 L529.2,46.1 L529.8,46.6 L530.4,47.1 L530.9,47.6 L531.5,48.1 L532.0,48.6 L532.5,49.1 L533.0,49.6 L533.5,50.1 L533.9,50.6 L534.4,51.1 L534.8,51.6 L535.4,52.1 L536.1,52.6 L536.6,53.0 L537.1,53.4 L537.6,53.8 L538.1,54.1 L538.7,54.6 L539.3,55.1 L539.9,55.6 L540.5,56.1 L541.1,56.6 L541.6,57.0 L542.1,57.5 L542.6,57.9 L543.1,58.4 L543.6,58.8 L544.1,59.3 L544.6,59.8 L545.1,60.3 L545.6,60.8 L546.1,61.2 L546.6,61.6 L547.2,62.1 L547.9,62.6 L548.5,63.1 L549.1,63.6 L549.6,64.0 L550.1,64.4 L550.6,64.8 L551.1,65.3 L551.6,65.7 L552.1,66.2 L552.6,66.6 L553.1,67.1 L553.6,67.6 L554.2,68.1 L554.7,68.6 L555.2,69.1 L555.7,69.6 L556.1,70.1 L556.6,70.6 L557.1,71.3 L557.6,71.9 L558.1,72.6 L558.5,73.1 L558.9,73.6 L559.2,74.1 L559.6,74.6 L560.1,75.4 L560.6,76.1 L560.9,76.6 L561.2,77.1 L561.6,77.6 L562.1,78.4 L562.5,79.1 L562.8,79.6 L563.1,80.1 L563.6,81.0 L563.9,81.6 L564.2,82.1 L564.6,82.7 L565.1,83.6 L565.4,84.1 L565.7,84.6 L566.1,85.4 L566.5,86.1 L566.7,86.6 L567.1,87.3 L567.5,88.1 L567.7,88.6 L568.1,89.4 L568.4,90.1 L568.7,90.6 L569.1,91.6 L569.3,92.1 L569.6,92.7 L570.0,93.6 L570.2,94.1 L570.6,95.1 L570.8,95.6 L571.1,96.4 L571.3,97.1 L571.5,98.1 L571.6,98.6 L571.8,99.6 L572.0,100.6 L572.1,101.4 L572.2,102.1 L572.4,103.1 L572.5,104.1 L572.6,105.0 L572.7,105.6 L572.8,106.6 L572.9,107.6 L573.0,108.6 L573.0,109.6 L573.1,110.4 L573.1,111.1 L573.2,112.1 L573.2,113.1 L573.3,114.1 L573.3,115.1 L573.4,116.1 L573.6,117.1 L573.6,117.6 L573.7,118.6 L573.8,119.6 L573.9,120.6 L573.9,121.6 L574.0,122.6 L574.0,123.6 L574.1,124.6 L574.1,125.6 L574.1,126.1 L574.1,127.1 L574.1,128.1 L574.1,129.1 L574.1,129.7 L574.1,130.6 L574.0,131.6 L574.0,132.6 L574.0,133.6 L573.9,134.6 L573.9,135.6 L573.8,136.6 L573.8,137.6 L573.7,138.6 L573.6,139.4 L573.5,140.1 L573.4,141.1 L573.3,142.1 L573.2,143.1 L573.1,143.7 L573.0,144.6 L572.8,145.6 L572.6,146.6 L572.6,147.1 L572.4,148.1 L572.2,149.1 L572.1,149.6 L571.9,150.6 L571.7,151.6 L571.6,152.1 L571.3,153.1 L571.1,153.7 L570.7,154.6 L570.5,155.1 L570.1,155.8 L569.6,156.6 L569.4,157.1 L569.1,157.6 L568.6,158.4 L568.2,159.1 L567.9,159.6 L567.6,160.1 L567.1,160.8 L566.6,161.6 L566.3,162.1 L565.9,162.6 L565.6,163.1 L565.1,163.8 L564.6,164.6 L564.2,165.1 L563.9,165.6 L563.5,166.1 L563.1,166.6 L562.6,167.3 L562.1,167.9 L561.6,168.6 L561.2,169.1 L560.8,169.6 L560.4,170.1 L560.0,170.6 L559.6,171.1 L559.1,171.7 L558.6,172.3 L558.1,172.9 L557.6,173.5 L557.1,174.1 L556.6,174.6 L556.2,175.1 L555.7,175.6 L555.3,176.1 L554.8,176.6 L554.3,177.1 L553.8,177.6 L553.5,178.1 L553.1,178.8 L552.7,179.6 L552.4,180.1 L552.1,180.6 L551.6,181.4 L551.2,182.1 L550.9,182.6 L550.6,183.1 L550.1,183.8 L549.6,184.6 L549.2,185.1 L548.9,185.6 L548.6,186.1 L548.1,186.7 L547.6,187.4 L547.1,188.1 L546.8,188.6 L546.4,189.1 L546.0,189.6 L545.6,190.2 L545.1,190.9 L544.6,191.5 L544.2,192.1 L543.8,192.6 L543.4,193.1 L543.0,193.6 L542.6,194.1 L542.1,194.7 L541.6,195.3 L541.1,195.9 L540.6,196.5 L540.1,197.0 L539.6,197.6 L539.1,198.1 L538.7,198.6 L538.2,199.1 L537.7,199.6 L537.2,200.1 L536.8,200.6 L536.3,201.1 L535.7,201.6 L535.2,202.1 L534.7,202.6 L534.3,203.1 L533.8,203.6 L533.3,204.1 L532.9,204.6 L532.4,205.1 L531.9,205.6 L531.3,206.1 L530.8,206.6 L530.3,207.1 L529.7,207.6 L529.2,208.1 L528.6,208.6 L528.1,209.0 L527.6,209.5 L527.1,209.9 L526.6,210.2 L525.8,210.6 L525.1,210.9 L524.5,211.1 L523.6,211.4 L523.1,211.6 L522.1,212.0 L521.6,212.1 L520.6,212.5 L520.1,212.6 L519.1,212.9 L518.6,213.1 L517.6,213.4 L516.8,213.6 L516.1,213.8 L515.1,214.0 L514.6,214.2 L513.6,214.4 L512.7,214.6 L512.1,214.7 L511.1,214.8 L510.1,215.0 L509.1,215.1 L508.6,215.1Z M423.1,180.2 L422.1,180.3 L421.1,180.2 L420.2,180.1 L419.6,180.0 L418.6,179.8 L417.9,179.6 L417.1,179.3 L416.6,179.1 L415.7,178.6 L415.1,178.2 L414.6,177.9 L414.1,177.6 L413.2,177.1 L412.6,176.7 L412.1,176.4 L411.6,176.1 L410.9,175.6 L410.1,175.1 L409.6,174.8 L409.1,174.4 L408.6,174.1 L407.9,173.6 L407.3,173.1 L406.8,172.6 L406.4,172.1 L406.0,171.6 L405.6,171.1 L405.1,170.4 L404.6,169.7 L404.2,169.1 L403.8,168.6 L403.5,168.1 L403.1,167.6 L402.6,166.9 L402.1,166.2 L401.7,165.6 L401.4,165.1 L401.0,164.6 L400.6,164.0 L400.1,163.2 L399.8,162.6 L399.6,162.0 L399.3,161.1 L399.1,160.4 L398.9,159.6 L398.6,158.6 L398.5,158.1 L398.2,157.1 L398.1,156.6 L397.9,155.6 L397.7,154.6 L397.6,153.7 L397.5,153.1 L397.5,152.1 L397.5,151.1 L397.5,150.1 L397.6,149.6 L397.9,148.6 L398.2,148.1 L398.6,147.4 L399.1,146.9 L399.6,146.6 L400.6,146.3 L401.6,146.5 L402.1,146.7 L402.8,147.1 L403.6,147.5 L404.1,147.9 L404.6,148.3 L405.1,148.7 L405.6,149.1 L406.1,149.6 L406.6,150.1 L407.1,150.6 L407.6,151.2 L408.1,151.7 L408.6,152.3 L409.1,153.0 L409.6,153.6 L410.0,154.1 L410.4,154.6 L410.7,155.1 L411.1,155.6 L411.6,156.2 L412.1,156.8 L412.6,157.5 L413.1,158.1 L413.5,158.6 L413.9,159.1 L414.3,159.6 L414.7,160.1 L415.1,160.6 L415.6,161.3 L416.1,161.9 L416.6,162.5 L417.0,163.1 L417.4,163.6 L417.8,164.1 L418.1,164.6 L418.6,165.3 L419.1,166.1 L419.4,166.6 L419.7,167.1 L420.1,167.7 L420.6,168.4 L421.0,169.1 L421.3,169.6 L421.6,170.1 L422.1,170.9 L422.5,171.6 L422.8,172.1 L423.1,172.6 L423.6,173.6 L423.8,174.1 L424.1,174.9 L424.4,175.6 L424.6,176.4 L424.8,177.1 L424.9,178.1 L424.7,179.1 L424.3,179.6 L423.6,180.1 L423.1,180.2Z " fill="#fbb845" fill-rule="evenodd"/>
<path d="M513.6,212.7 L512.6,212.8 L511.6,212.9 L510.6,212.9 L509.6,213.0 L508.6,212.9 L507.6,212.8 L506.6,212.6 L506.1,212.4 L505.5,212.1 L505.6,211.4 L506.1,210.8 L506.6,210.4 L507.1,210.0 L507.8,209.6 L508.6,209.2 L509.1,208.9 L509.6,208.6 L510.4,208.1 L511.0,207.6 L511.6,207.1 L512.1,206.6 L512.6,206.2 L513.1,205.8 L513.6,205.4 L514.1,205.0 L514.6,204.5 L515.1,204.1 L515.7,203.6 L516.3,203.1 L516.8,202.6 L517.4,202.1 L517.9,201.6 L518.5,201.1 L518.9,200.6 L519.2,200.1 L519.6,199.5 L520.1,198.7 L520.5,198.1 L520.8,197.6 L521.1,197.1 L521.6,196.3 L522.0,195.6 L522.3,195.1 L522.7,194.6 L523.1,193.9 L523.6,193.1 L523.9,192.6 L524.3,192.1 L524.6,191.6 L525.1,190.8 L525.6,190.1 L525.9,189.6 L526.2,189.1 L526.6,188.5 L527.1,187.6 L527.4,187.1 L527.7,186.6 L528.1,186.0 L528.6,185.1 L528.9,184.6 L529.2,184.1 L529.6,183.3 L530.0,182.6 L530.2,182.1 L530.6,181.4 L531.0,180.6 L531.2,180.1 L531.6,179.5 L532.1,178.8 L532.6,178.2 L533.1,177.7 L533.6,177.1 L534.1,176.6 L534.5,176.1 L534.9,175.6 L535.4,175.1 L535.8,174.6 L536.2,174.1 L536.6,173.6 L537.1,173.0 L537.6,172.3 L538.1,171.7 L538.6,171.1 L538.9,170.6 L539.3,170.1 L539.7,169.6 L540.1,169.0 L540.6,168.3 L541.1,167.6 L541.6,167.1 L542.1,166.6 L542.6,166.2 L543.1,165.8 L543.6,165.3 L544.1,164.9 L544.6,164.4 L545.1,164.0 L545.6,163.5 L546.1,163.0 L546.6,162.5 L547.1,162.0 L547.6,161.5 L548.1,161.0 L548.6,160.4 L549.1,159.9 L549.5,159.1 L549.7,158.6 L550.0,157.6 L550.2,157.1 L550.5,156.1 L550.7,155.6 L551.0,154.6 L551.1,154.1 L551.4,153.1 L551.6,152.3 L551.8,151.6 L552.0,150.6 L552.1,150.1 L552.4,149.1 L552.5,148.1 L552.5,147.1 L552.6,146.1 L552.6,145.1 L552.6,144.6 L552.6,143.6 L552.6,142.6 L552.6,141.6 L552.6,140.9 L552.6,140.1 L552.5,139.1 L552.5,138.1 L552.4,137.1 L552.3,136.1 L552.2,135.1 L552.1,134.1 L552.1,133.6 L551.9,132.6 L551.9,131.6 L551.9,130.6 L551.9,129.6 L552.0,128.6 L552.0,127.6 L552.0,126.6 L552.0,125.6 L552.0,124.6 L551.9,123.6 L551.9,122.6 L551.9,121.6 L551.8,120.6 L551.7,119.6 L551.6,118.6 L551.6,118.1 L551.4,117.1 L551.4,116.1 L551.4,115.1 L551.4,114.1 L551.5,113.1 L551.5,112.1 L551.6,111.1 L551.6,110.1 L551.6,109.5 L551.6,108.6 L551.6,108.1 L551.6,107.1 L551.6,106.1 L551.5,105.1 L551.4,104.1 L551.4,103.1 L551.3,102.1 L551.2,101.1 L551.1,100.1 L551.2,99.1 L551.2,98.1 L551.2,97.1 L551.2,96.1 L551.2,95.1 L551.2,94.1 L551.2,93.1 L551.2,92.1 L551.1,91.1 L551.1,90.6 L551.0,89.6 L551.0,88.6 L550.9,87.6 L550.8,86.6 L550.6,85.6 L550.5,85.1 L550.3,84.1 L550.1,83.1 L550.0,82.6 L549.8,81.6 L549.6,80.7 L549.5,80.1 L549.3,79.1 L549.1,78.4 L548.9,77.6 L548.7,76.6 L548.6,76.1 L548.3,75.1 L548.1,74.6 L547.6,73.6 L547.4,73.1 L547.1,72.5 L546.7,71.6 L546.4,71.1 L546.1,70.4 L545.7,69.6 L545.5,69.1 L545.1,68.3 L544.8,67.6 L544.6,67.1 L544.1,66.1 L544.0,65.6 L543.7,64.6 L543.6,63.9 L543.1,63.4 L542.4,63.1 L541.6,62.6 L541.1,62.3 L540.6,62.0 L540.0,61.6 L539.2,61.1 L538.6,60.7 L538.1,60.4 L537.6,60.1 L536.9,59.6 L536.1,59.1 L535.6,58.8 L535.1,58.4 L534.5,58.1 L533.7,57.6 L533.1,57.2 L532.6,56.9 L531.6,56.6 L531.1,56.6 L530.1,56.5 L529.1,56.4 L528.1,56.3 L527.1,56.2 L526.5,56.1 L525.6,56.0 L524.6,55.9 L523.6,55.7 L522.6,55.6 L522.1,55.6 L521.1,55.5 L520.1,55.4 L519.1,55.2 L518.5,55.1 L517.6,55.0 L516.6,54.8 L515.6,54.7 L514.6,54.6 L514.1,54.5 L513.1,54.5 L512.1,54.4 L511.1,54.3 L510.1,54.3 L509.1,54.2 L508.1,54.2 L507.1,54.2 L506.2,54.1 L505.6,54.0 L504.6,53.8 L503.6,53.6 L503.1,53.6 L502.1,53.4 L501.1,53.3 L500.1,53.2 L499.6,53.1 L498.6,53.0 L497.6,52.9 L496.6,52.8 L495.6,52.8 L494.6,52.7 L493.6,52.7 L492.6,52.7 L491.6,52.6 L490.6,52.6 L489.9,52.6 L489.1,52.5 L488.1,52.5 L487.1,52.4 L486.1,52.4 L485.1,52.4 L484.1,52.4 L483.1,52.4 L482.1,52.4 L481.1,52.5 L480.1,52.5 L479.1,52.6 L478.6,52.6 L477.6,52.7 L476.6,52.8 L475.6,52.9 L474.6,53.1 L474.1,53.1 L473.1,53.2 L472.1,53.3 L471.1,53.4 L470.1,53.6 L469.6,53.6 L468.6,53.8 L467.6,53.9 L466.7,54.1 L466.1,54.2 L465.1,54.4 L464.1,54.6 L463.6,54.7 L462.6,54.9 L461.7,55.1 L461.1,55.2 L460.1,55.5 L459.3,55.6 L458.6,55.7 L457.6,55.9 L456.6,56.1 L456.1,56.2 L455.1,56.4 L454.1,56.5 L453.6,56.6 L452.6,56.8 L451.6,56.9 L450.6,56.9 L449.6,56.9 L448.6,56.7 L448.1,56.4 L447.6,55.8 L447.5,55.1 L447.6,54.4 L447.9,53.6 L448.2,53.1 L448.6,52.5 L449.1,51.8 L449.6,51.2 L450.1,50.6 L450.6,50.1 L451.1,49.7 L451.6,49.2 L452.1,48.8 L452.6,48.3 L453.1,47.9 L453.6,47.5 L454.2,47.1 L454.9,46.6 L455.6,46.1 L456.1,45.7 L456.6,45.4 L457.1,45.0 L457.7,44.6 L458.5,44.1 L459.1,43.7 L459.6,43.4 L460.1,43.1 L460.9,42.6 L461.6,42.2 L462.1,41.9 L462.7,41.6 L463.6,41.1 L464.1,40.8 L464.6,40.6 L465.6,40.1 L466.1,39.9 L466.6,39.6 L467.6,39.2 L468.1,38.9 L468.9,38.6 L469.6,38.3 L470.1,38.1 L471.1,37.7 L471.6,37.6 L472.6,37.3 L473.3,37.1 L474.1,36.9 L475.1,36.7 L475.6,36.5 L476.6,36.3 L477.6,36.1 L478.1,36.0 L479.1,35.8 L480.1,35.6 L480.6,35.5 L481.6,35.4 L482.6,35.2 L483.4,35.1 L484.1,35.0 L485.1,34.9 L486.1,34.8 L487.1,34.7 L487.7,34.6 L488.6,34.5 L489.6,34.5 L490.6,34.4 L491.6,34.4 L492.6,34.4 L493.6,34.5 L494.6,34.5 L495.6,34.6 L496.1,34.6 L497.1,34.7 L498.1,34.8 L499.1,34.9 L500.1,35.0 L500.7,35.1 L501.6,35.2 L502.6,35.4 L503.6,35.5 L504.1,35.6 L505.1,35.8 L506.1,36.0 L506.9,36.1 L507.6,36.3 L508.6,36.5 L509.2,36.6 L510.1,36.8 L510.8,37.1 L511.6,37.4 L512.2,37.6 L513.1,37.9 L513.6,38.1 L514.6,38.5 L515.1,38.7 L515.9,39.1 L516.6,39.4 L517.1,39.6 L518.1,40.1 L518.6,40.3 L519.3,40.6 L520.1,41.0 L520.6,41.3 L521.3,41.6 L522.1,42.0 L522.6,42.3 L523.2,42.6 L524.1,43.1 L524.6,43.4 L525.1,43.7 L525.6,44.1 L526.2,44.6 L526.8,45.1 L527.4,45.6 L527.9,46.1 L528.5,46.6 L529.0,47.1 L529.6,47.6 L530.1,48.1 L530.6,48.6 L531.1,49.1 L531.5,49.6 L532.0,50.1 L532.4,50.6 L532.8,51.1 L533.2,51.6 L533.6,52.1 L534.1,52.9 L534.6,53.5 L535.1,53.9 L535.6,54.3 L536.1,54.7 L536.6,55.1 L537.2,55.6 L537.8,56.1 L538.3,56.6 L538.9,57.1 L539.4,57.6 L539.9,58.1 L540.4,58.6 L540.9,59.1 L541.3,59.6 L541.8,60.1 L542.2,60.6 L542.7,61.1 L543.1,61.7 L543.6,62.4 L544.0,63.1 L544.6,63.3 L545.6,63.6 L546.1,63.8 L546.7,64.1 L547.6,64.6 L548.1,64.9 L548.6,65.3 L549.1,65.6 L549.7,66.1 L550.4,66.6 L551.0,67.1 L551.6,67.6 L552.1,68.0 L552.6,68.4 L553.1,68.9 L553.6,69.3 L554.1,69.8 L554.6,70.3 L555.1,70.8 L555.6,71.3 L556.1,71.9 L556.6,72.4 L557.1,73.0 L557.6,73.6 L557.9,74.1 L558.3,74.6 L558.7,75.1 L559.1,75.6 L559.6,76.3 L560.1,77.0 L560.5,77.6 L560.8,78.1 L561.2,78.6 L561.6,79.3 L562.1,80.1 L562.4,80.6 L562.7,81.1 L563.1,81.8 L563.6,82.6 L563.9,83.1 L564.2,83.6 L564.6,84.3 L565.1,85.1 L565.3,85.6 L565.6,86.1 L566.1,87.0 L566.4,87.6 L566.7,88.1 L567.1,89.0 L567.4,89.6 L567.6,90.1 L568.1,91.1 L568.3,91.6 L568.6,92.1 L569.0,93.1 L569.2,93.6 L569.6,94.5 L569.9,95.1 L570.1,95.7 L570.5,96.6 L570.6,97.1 L570.8,98.1 L571.0,99.1 L571.1,99.6 L571.3,100.6 L571.5,101.6 L571.6,102.5 L571.7,103.1 L571.8,104.1 L571.9,105.1 L572.1,106.1 L572.1,106.6 L572.2,107.6 L572.3,108.6 L572.4,109.6 L572.5,110.6 L572.5,111.6 L572.6,112.6 L572.6,113.1 L572.6,114.1 L572.7,115.1 L572.8,116.1 L572.9,117.1 L573.0,118.1 L573.1,119.0 L573.2,119.6 L573.2,120.6 L573.3,121.6 L573.3,122.6 L573.4,123.6 L573.4,124.6 L573.5,125.6 L573.5,126.6 L573.5,127.6 L573.5,128.6 L573.5,129.6 L573.4,130.6 L573.4,131.6 L573.4,132.6 L573.3,133.6 L573.3,134.6 L573.3,135.6 L573.2,136.6 L573.1,137.6 L573.1,138.1 L573.0,139.1 L572.9,140.1 L572.8,141.1 L572.7,142.1 L572.6,142.6 L572.5,143.6 L572.3,144.6 L572.2,145.6 L572.1,146.1 L571.9,147.1 L571.7,148.1 L571.6,148.8 L571.4,149.6 L571.2,150.6 L571.1,151.2 L570.9,152.1 L570.6,153.1 L570.5,153.6 L570.1,154.4 L569.7,155.1 L569.5,155.6 L569.1,156.2 L568.6,157.1 L568.3,157.6 L568.0,158.1 L567.6,158.8 L567.1,159.6 L566.8,160.1 L566.4,160.6 L566.1,161.1 L565.6,161.9 L565.1,162.6 L564.8,163.1 L564.4,163.6 L564.1,164.1 L563.6,164.7 L563.1,165.4 L562.6,166.1 L562.2,166.6 L561.8,167.1 L561.4,167.6 L561.0,168.1 L560.6,168.6 L560.1,169.3 L559.6,169.9 L559.1,170.5 L558.6,171.1 L558.2,171.6 L557.8,172.1 L557.4,172.6 L556.9,173.1 L556.5,173.6 L556.0,174.1 L555.6,174.6 L555.1,175.1 L554.6,175.7 L554.1,176.2 L553.6,176.7 L553.1,177.2 L552.6,178.1 L552.3,178.6 L552.1,179.1 L551.6,179.9 L551.2,180.6 L550.9,181.1 L550.6,181.6 L550.1,182.4 L549.7,183.1 L549.3,183.6 L549.0,184.1 L548.6,184.7 L548.1,185.5 L547.7,186.1 L547.3,186.6 L547.0,187.1 L546.6,187.6 L546.1,188.3 L545.6,189.0 L545.1,189.6 L544.8,190.1 L544.4,190.6 L544.0,191.1 L543.6,191.6 L543.1,192.3 L542.6,192.9 L542.1,193.5 L541.6,194.1 L541.2,194.6 L540.8,195.1 L540.3,195.6 L539.9,196.1 L539.4,196.6 L539.0,197.1 L538.5,197.6 L538.0,198.1 L537.5,198.6 L537.1,199.1 L536.6,199.6 L536.0,200.1 L535.5,200.6 L535.0,201.1 L534.5,201.6 L534.0,202.1 L533.5,202.6 L533.0,203.1 L532.5,203.6 L532.0,204.1 L531.4,204.6 L530.9,205.1 L530.3,205.6 L529.8,206.1 L529.2,206.6 L528.6,207.1 L528.1,207.5 L527.6,207.9 L527.1,208.3 L526.6,208.7 L526.0,209.1 L525.1,209.5 L524.6,209.7 L523.6,210.1 L523.1,210.2 L522.1,210.6 L521.6,210.7 L520.6,211.0 L520.1,211.2 L519.1,211.5 L518.6,211.6 L517.6,211.8 L516.6,212.1 L516.1,212.2 L515.1,212.4 L514.1,212.6 L513.6,212.7Z M421.1,178.2 L420.1,178.3 L419.1,178.4 L418.1,178.2 L417.6,178.0 L416.6,177.6 L416.1,177.4 L415.5,177.1 L414.6,176.6 L414.1,176.4 L413.6,176.1 L412.7,175.6 L412.1,175.3 L411.6,175.0 L411.0,174.6 L410.2,174.1 L409.6,173.7 L409.1,173.4 L408.6,173.1 L407.9,172.6 L407.4,172.1 L407.0,171.6 L406.6,171.0 L406.1,170.3 L405.6,169.6 L405.3,169.1 L405.0,168.6 L404.6,168.0 L404.1,167.3 L403.7,166.6 L403.3,166.1 L403.0,165.6 L402.6,164.9 L402.1,164.1 L401.8,163.6 L401.5,163.1 L401.1,162.5 L400.8,161.6 L400.6,161.0 L400.4,160.1 L400.2,159.1 L400.1,158.4 L400.0,157.6 L399.9,156.6 L399.8,155.6 L399.9,154.6 L400.0,153.6 L400.1,153.0 L400.5,152.1 L400.8,151.6 L401.4,151.1 L402.1,150.8 L403.1,150.8 L404.0,151.1 L404.6,151.4 L405.1,151.7 L405.7,152.1 L406.4,152.6 L407.0,153.1 L407.5,153.6 L408.0,154.1 L408.5,154.6 L409.0,155.1 L409.4,155.6 L409.9,156.1 L410.3,156.6 L410.8,157.1 L411.2,157.6 L411.7,158.1 L412.1,158.6 L412.6,159.1 L413.1,159.7 L413.6,160.3 L414.1,160.9 L414.6,161.5 L415.1,162.1 L415.5,162.6 L415.9,163.1 L416.3,163.6 L416.7,164.1 L417.1,164.6 L417.6,165.4 L418.1,166.1 L418.4,166.6 L418.7,167.1 L419.1,167.8 L419.5,168.6 L419.8,169.1 L420.1,169.6 L420.6,170.5 L420.9,171.1 L421.1,171.6 L421.6,172.5 L421.8,173.1 L422.1,173.7 L422.3,174.6 L422.5,175.6 L422.5,176.6 L422.1,177.5 L421.6,177.9 L421.1,178.2Z " fill="#f89b30" fill-rule="evenodd"/>
<path d="M530.6,54.6 L529.6,54.8 L528.6,54.9 L527.6,54.9 L526.6,54.9 L525.6,54.9 L524.6,54.8 L523.6,54.7 L522.6,54.7 L521.6,54.6 L521.1,54.6 L520.1,54.5 L519.1,54.3 L518.1,54.2 L517.4,54.1 L516.6,54.0 L515.6,53.9 L514.6,53.8 L513.6,53.7 L512.6,53.6 L511.8,53.6 L511.1,53.6 L510.1,53.5 L509.1,53.5 L508.1,53.5 L507.1,53.5 L506.1,53.4 L505.1,53.2 L504.6,53.1 L503.6,52.9 L502.6,52.8 L501.6,52.6 L501.1,52.6 L500.1,52.5 L499.1,52.4 L498.1,52.3 L497.1,52.2 L496.1,52.1 L495.5,52.1 L494.6,52.1 L493.6,52.0 L492.6,52.0 L491.6,52.0 L490.6,52.0 L489.6,51.9 L488.6,51.9 L487.6,51.8 L486.6,51.8 L485.6,51.8 L484.6,51.8 L483.6,51.8 L482.6,51.8 L481.6,51.8 L480.6,51.9 L479.6,51.9 L478.6,52.0 L477.6,52.1 L477.1,52.1 L476.1,52.2 L475.1,52.4 L474.1,52.5 L473.1,52.6 L472.6,52.6 L471.6,52.7 L470.6,52.8 L469.6,52.9 L468.6,53.1 L468.1,53.1 L467.1,53.3 L466.1,53.4 L465.1,53.6 L464.6,53.7 L463.6,53.8 L462.6,54.0 L462.1,54.1 L461.1,54.3 L460.1,54.5 L459.2,54.6 L458.6,54.7 L457.6,54.8 L456.6,54.9 L455.6,55.0 L454.6,55.0 L453.6,55.0 L452.6,54.8 L451.8,54.6 L451.2,54.1 L451.0,53.6 L451.1,52.6 L451.3,52.1 L451.6,51.5 L452.1,50.8 L452.6,50.2 L453.1,49.6 L453.6,49.1 L454.1,48.6 L454.6,48.2 L455.1,47.8 L455.6,47.4 L456.1,47.0 L456.6,46.6 L457.2,46.1 L457.9,45.6 L458.6,45.1 L459.1,44.7 L459.6,44.4 L460.1,44.1 L460.8,43.6 L461.6,43.1 L462.1,42.8 L462.6,42.5 L463.3,42.1 L464.1,41.7 L464.6,41.4 L465.2,41.1 L466.1,40.6 L466.6,40.4 L467.2,40.1 L468.1,39.7 L468.6,39.4 L469.4,39.1 L470.1,38.8 L470.6,38.6 L471.6,38.2 L472.1,38.1 L473.1,37.8 L473.9,37.6 L474.6,37.4 L475.6,37.2 L476.1,37.1 L477.1,36.9 L478.1,36.6 L478.6,36.5 L479.6,36.4 L480.6,36.2 L481.1,36.1 L482.1,35.9 L483.1,35.8 L484.1,35.6 L484.6,35.6 L485.6,35.5 L486.6,35.3 L487.6,35.2 L488.6,35.2 L489.4,35.1 L490.1,35.1 L491.1,35.0 L492.1,35.1 L493.1,35.1 L493.6,35.1 L494.6,35.2 L495.6,35.3 L496.6,35.3 L497.6,35.4 L498.6,35.5 L499.2,35.6 L500.1,35.7 L501.1,35.8 L502.1,36.0 L502.9,36.1 L503.6,36.2 L504.6,36.4 L505.6,36.6 L506.1,36.7 L507.1,36.9 L508.1,37.1 L508.6,37.2 L509.6,37.4 L510.1,37.6 L511.1,38.0 L511.6,38.1 L512.6,38.5 L513.1,38.7 L514.0,39.1 L514.6,39.4 L515.2,39.6 L516.1,40.0 L516.6,40.2 L517.4,40.6 L518.1,40.9 L518.6,41.2 L519.5,41.6 L520.1,41.9 L520.6,42.2 L521.4,42.6 L522.1,43.0 L522.6,43.3 L523.2,43.6 L524.1,44.1 L524.6,44.5 L525.1,44.9 L525.6,45.3 L526.1,45.8 L526.6,46.2 L527.1,46.7 L527.6,47.2 L528.1,47.7 L528.6,48.2 L529.1,48.7 L529.6,49.3 L530.1,49.9 L530.6,50.6 L530.9,51.1 L531.2,51.6 L531.6,52.6 L531.7,53.1 L531.6,53.7 L531.1,54.3 L530.6,54.6Z M520.1,209.1 L519.1,209.3 L518.1,209.4 L517.1,209.5 L516.1,209.3 L515.5,209.1 L515.1,208.6 L515.1,208.0 L515.5,207.1 L515.9,206.6 L516.2,206.1 L516.6,205.6 L517.1,205.1 L517.6,204.5 L518.1,204.0 L518.6,203.4 L519.1,202.9 L519.6,202.4 L520.0,201.6 L520.3,201.1 L520.6,200.4 L521.0,199.6 L521.3,199.1 L521.6,198.5 L522.1,197.6 L522.3,197.1 L522.6,196.6 L523.1,195.7 L523.4,195.1 L523.7,194.6 L524.1,193.9 L524.6,193.1 L524.9,192.6 L525.2,192.1 L525.6,191.5 L526.1,190.6 L526.4,190.1 L526.7,189.6 L527.1,189.0 L527.6,188.1 L527.9,187.6 L528.2,187.1 L528.6,186.3 L529.0,185.6 L529.3,185.1 L529.6,184.5 L530.1,183.6 L530.3,183.1 L530.6,182.5 L531.1,181.6 L531.3,181.1 L531.6,180.5 L532.1,179.7 L532.5,179.1 L532.9,178.6 L533.4,178.1 L533.9,177.6 L534.3,177.1 L534.8,176.6 L535.2,176.1 L535.7,175.6 L536.1,175.1 L536.6,174.5 L537.1,173.9 L537.6,173.3 L538.1,172.7 L538.6,172.1 L539.0,171.6 L539.4,171.1 L539.8,170.6 L540.2,170.1 L540.6,169.5 L541.1,168.8 L541.6,168.2 L542.1,167.6 L542.6,167.2 L543.1,166.8 L543.6,166.3 L544.1,165.9 L544.6,165.5 L545.1,165.0 L545.6,164.5 L546.1,164.1 L546.6,163.6 L547.1,163.1 L547.6,162.6 L548.1,162.1 L548.6,161.6 L549.1,161.1 L549.6,160.6 L550.1,160.0 L550.4,159.1 L550.6,158.5 L550.9,157.6 L551.1,156.9 L551.3,156.1 L551.6,155.1 L551.8,154.6 L552.0,153.6 L552.1,153.1 L552.4,152.1 L552.6,151.3 L552.8,150.6 L553.0,149.6 L553.1,148.9 L553.2,148.1 L553.2,147.1 L553.3,146.1 L553.3,145.1 L553.3,144.1 L553.3,143.1 L553.3,142.1 L553.3,141.1 L553.3,140.1 L553.2,139.1 L553.2,138.1 L553.1,137.2 L553.1,136.6 L553.0,135.6 L552.9,134.6 L552.8,133.6 L552.6,132.6 L552.6,132.1 L552.5,131.1 L552.6,130.1 L552.6,129.5 L552.6,128.6 L552.7,127.6 L552.7,126.6 L552.7,125.6 L552.6,124.6 L552.6,123.6 L552.6,123.1 L552.6,122.1 L552.5,121.1 L552.4,120.1 L552.3,119.1 L552.2,118.1 L552.1,117.1 L552.1,116.6 L552.0,115.6 L552.1,114.6 L552.1,114.1 L552.2,113.1 L552.2,112.1 L552.3,111.1 L552.3,110.1 L552.3,109.1 L552.3,108.1 L552.3,107.1 L552.2,106.1 L552.2,105.1 L552.2,104.1 L552.1,103.3 L552.1,102.6 L552.0,101.6 L551.9,100.6 L551.9,99.6 L551.9,98.6 L551.9,97.6 L552.0,96.6 L552.0,95.6 L552.0,94.6 L552.0,93.6 L552.0,92.6 L552.0,91.6 L551.9,90.6 L551.9,89.6 L551.8,88.6 L551.8,87.6 L551.7,86.6 L551.6,85.9 L551.5,85.1 L551.3,84.1 L551.2,83.1 L551.1,82.6 L550.9,81.6 L550.8,80.6 L550.6,79.7 L550.5,79.1 L550.4,78.1 L550.2,77.1 L550.1,76.3 L550.0,75.6 L549.9,74.6 L549.7,73.6 L549.6,73.1 L549.3,72.1 L549.2,71.1 L549.5,70.1 L550.1,69.9 L550.8,70.1 L551.6,70.5 L552.1,70.8 L552.6,71.1 L553.3,71.6 L554.0,72.1 L554.6,72.6 L555.1,73.0 L555.6,73.5 L556.1,74.0 L556.6,74.5 L557.1,75.1 L557.5,75.6 L558.0,76.1 L558.4,76.6 L558.8,77.1 L559.1,77.6 L559.6,78.2 L560.1,78.9 L560.6,79.6 L560.9,80.1 L561.3,80.6 L561.6,81.1 L562.1,81.9 L562.5,82.6 L562.8,83.1 L563.2,83.6 L563.6,84.3 L564.1,85.1 L564.4,85.6 L564.6,86.1 L565.1,86.9 L565.5,87.6 L565.8,88.1 L566.1,88.8 L566.5,89.6 L566.8,90.1 L567.1,90.7 L567.5,91.6 L567.7,92.1 L568.1,92.9 L568.4,93.6 L568.6,94.1 L569.1,95.1 L569.3,95.6 L569.6,96.4 L569.9,97.1 L570.1,98.0 L570.2,98.6 L570.4,99.6 L570.6,100.6 L570.7,101.1 L570.8,102.1 L571.0,103.1 L571.1,103.9 L571.2,104.6 L571.3,105.6 L571.4,106.6 L571.5,107.6 L571.6,108.3 L571.7,109.1 L571.7,110.1 L571.8,111.1 L571.9,112.1 L571.9,113.1 L572.0,114.1 L572.0,115.1 L572.1,115.9 L572.2,116.6 L572.3,117.6 L572.4,118.6 L572.5,119.6 L572.6,120.6 L572.6,121.3 L572.6,122.1 L572.7,123.1 L572.7,124.1 L572.8,125.1 L572.8,126.1 L572.8,127.1 L572.8,128.1 L572.8,129.1 L572.8,130.1 L572.7,131.1 L572.7,132.1 L572.7,133.1 L572.6,134.1 L572.6,135.0 L572.6,135.6 L572.5,136.6 L572.4,137.6 L572.3,138.6 L572.2,139.6 L572.1,140.6 L572.1,141.1 L572.0,142.1 L571.8,143.1 L571.7,144.1 L571.6,144.7 L571.5,145.6 L571.3,146.6 L571.1,147.6 L571.0,148.1 L570.8,149.1 L570.6,150.1 L570.5,150.6 L570.3,151.6 L570.1,152.4 L569.9,153.1 L569.6,153.9 L569.2,154.6 L568.9,155.1 L568.6,155.7 L568.1,156.5 L567.8,157.1 L567.5,157.6 L567.1,158.2 L566.6,159.0 L566.2,159.6 L565.9,160.1 L565.5,160.6 L565.1,161.3 L564.6,162.0 L564.2,162.6 L563.8,163.1 L563.4,163.6 L563.1,164.1 L562.6,164.7 L562.1,165.4 L561.6,166.0 L561.1,166.6 L560.7,167.1 L560.3,167.6 L559.9,168.1 L559.5,168.6 L559.1,169.2 L558.6,169.8 L558.1,170.4 L557.6,171.0 L557.1,171.6 L556.6,172.1 L556.2,172.6 L555.8,173.1 L555.3,173.6 L554.8,174.1 L554.4,174.6 L553.9,175.1 L553.4,175.6 L553.0,176.1 L552.5,176.6 L552.1,177.2 L551.6,178.1 L551.4,178.6 L551.1,179.1 L550.6,180.0 L550.2,180.6 L549.9,181.1 L549.6,181.7 L549.1,182.5 L548.7,183.1 L548.4,183.6 L548.1,184.1 L547.6,184.8 L547.1,185.6 L546.7,186.1 L546.4,186.6 L546.0,187.1 L545.6,187.7 L545.1,188.4 L544.6,189.1 L544.2,189.6 L543.8,190.1 L543.4,190.6 L543.0,191.1 L542.6,191.6 L542.1,192.2 L541.6,192.8 L541.1,193.4 L540.6,194.0 L540.1,194.6 L539.6,195.1 L539.2,195.6 L538.7,196.1 L538.2,196.6 L537.7,197.1 L537.2,197.6 L536.7,198.1 L536.2,198.6 L535.7,199.1 L535.2,199.6 L534.6,200.1 L534.1,200.6 L533.6,201.0 L533.1,201.5 L532.6,202.0 L532.1,202.4 L531.6,202.9 L531.1,203.3 L530.6,203.8 L530.1,204.2 L529.6,204.6 L529.0,205.1 L528.3,205.6 L527.7,206.1 L527.1,206.5 L526.6,206.8 L526.1,207.1 L525.3,207.6 L524.6,208.0 L524.1,208.2 L523.1,208.4 L522.5,208.6 L521.6,208.8 L520.6,209.1 L520.1,209.1Z M419.1,175.7 L418.1,176.0 L417.1,175.9 L416.1,175.7 L415.6,175.5 L414.6,175.1 L414.1,174.9 L413.4,174.6 L412.6,174.2 L412.1,174.0 L411.4,173.6 L410.6,173.2 L410.1,172.9 L409.6,172.6 L408.8,172.1 L408.3,171.6 L407.8,171.1 L407.5,170.6 L407.1,170.0 L406.6,169.2 L406.3,168.6 L406.0,168.1 L405.6,167.5 L405.1,166.6 L404.8,166.1 L404.5,165.6 L404.1,164.9 L403.7,164.1 L403.4,163.6 L403.1,162.9 L402.7,162.1 L402.5,161.6 L402.2,160.6 L402.1,159.7 L402.1,159.1 L402.1,158.6 L402.2,157.6 L402.5,156.6 L402.7,156.1 L403.1,155.5 L403.8,155.1 L404.6,155.0 L405.3,155.1 L406.1,155.4 L406.6,155.7 L407.3,156.1 L408.0,156.6 L408.6,157.1 L409.1,157.6 L409.6,158.0 L410.1,158.5 L410.6,159.0 L411.1,159.4 L411.6,159.9 L412.1,160.4 L412.6,161.0 L413.1,161.5 L413.6,162.0 L414.1,162.6 L414.6,163.1 L415.0,163.6 L415.5,164.1 L415.9,164.6 L416.3,165.1 L416.6,165.6 L417.1,166.5 L417.4,167.1 L417.7,167.6 L418.1,168.4 L418.5,169.1 L418.7,169.6 L419.1,170.5 L419.3,171.1 L419.6,171.9 L419.8,172.6 L420.0,173.6 L419.9,174.6 L419.6,175.3 L419.1,175.7Z " fill="#f47b2a" fill-rule="evenodd"/>
<path d="M526.6,53.2 L525.6,53.4 L524.6,53.5 L523.6,53.5 L522.6,53.5 L521.6,53.5 L520.6,53.5 L519.6,53.4 L518.6,53.3 L517.6,53.2 L516.9,53.1 L516.1,53.0 L515.1,52.9 L514.1,52.9 L513.1,52.8 L512.1,52.8 L511.1,52.7 L510.1,52.7 L509.1,52.7 L508.1,52.7 L507.1,52.7 L506.3,52.6 L505.6,52.5 L504.6,52.3 L503.6,52.2 L503.1,52.1 L502.1,52.0 L501.1,51.8 L500.1,51.7 L499.1,51.6 L498.6,51.6 L497.6,51.5 L496.6,51.4 L495.6,51.4 L494.6,51.4 L493.6,51.3 L492.6,51.3 L491.6,51.3 L490.6,51.3 L489.6,51.3 L488.6,51.2 L487.6,51.1 L486.6,51.1 L486.0,51.1 L485.1,51.1 L484.1,51.1 L483.1,51.1 L482.6,51.1 L481.6,51.1 L480.6,51.2 L479.6,51.2 L478.6,51.3 L477.6,51.4 L476.6,51.5 L475.7,51.6 L475.1,51.7 L474.1,51.8 L473.1,51.9 L472.1,51.9 L471.1,52.0 L470.1,52.1 L469.6,52.2 L468.6,52.2 L467.6,52.4 L466.6,52.5 L465.6,52.6 L465.1,52.6 L464.1,52.8 L463.1,52.9 L462.1,53.0 L461.5,53.1 L460.6,53.2 L459.6,53.3 L458.6,53.3 L457.6,53.3 L456.6,53.2 L456.1,53.1 L455.1,52.6 L454.7,52.1 L454.7,51.1 L455.1,50.1 L455.4,49.6 L455.8,49.1 L456.3,48.6 L456.8,48.1 L457.3,47.6 L457.8,47.1 L458.4,46.6 L459.0,46.1 L459.6,45.6 L460.1,45.3 L460.6,44.9 L461.1,44.5 L461.7,44.1 L462.5,43.6 L463.1,43.2 L463.6,42.9 L464.1,42.6 L465.0,42.1 L465.6,41.8 L466.1,41.5 L466.9,41.1 L467.6,40.7 L468.1,40.5 L468.9,40.1 L469.6,39.8 L470.1,39.6 L471.1,39.1 L471.6,39.0 L472.6,38.7 L473.1,38.5 L474.1,38.3 L474.8,38.1 L475.6,37.9 L476.6,37.7 L477.1,37.6 L478.1,37.3 L479.1,37.1 L479.6,37.0 L480.6,36.9 L481.6,36.7 L482.2,36.6 L483.1,36.5 L484.1,36.3 L485.1,36.2 L485.9,36.1 L486.6,36.0 L487.6,35.9 L488.6,35.9 L489.6,35.8 L490.6,35.7 L491.6,35.7 L492.6,35.8 L493.6,35.8 L494.6,35.9 L495.6,36.0 L496.6,36.0 L497.2,36.1 L498.1,36.2 L499.1,36.3 L500.1,36.4 L501.1,36.6 L501.6,36.7 L502.6,36.8 L503.6,37.0 L504.3,37.1 L505.1,37.2 L506.1,37.4 L506.9,37.6 L507.6,37.8 L508.6,38.0 L509.1,38.1 L510.1,38.4 L510.6,38.6 L511.6,39.0 L512.1,39.2 L513.1,39.6 L513.6,39.8 L514.2,40.1 L515.1,40.5 L515.6,40.7 L516.4,41.1 L517.1,41.4 L517.6,41.7 L518.5,42.1 L519.1,42.4 L519.6,42.7 L520.3,43.1 L521.1,43.5 L521.6,43.8 L522.1,44.1 L522.9,44.6 L523.6,45.0 L524.1,45.4 L524.6,45.9 L525.1,46.4 L525.6,46.9 L526.1,47.4 L526.6,48.0 L527.1,48.6 L527.4,49.1 L527.8,49.6 L528.1,50.2 L528.4,51.1 L528.3,52.1 L528.0,52.6 L527.1,53.1 L526.6,53.2Z M525.1,205.1 L524.1,205.3 L523.1,205.2 L522.6,204.9 L522.1,204.1 L522.0,203.6 L522.0,202.6 L522.1,202.0 L522.3,201.1 L522.6,200.1 L522.8,199.6 L523.1,198.7 L523.3,198.1 L523.6,197.4 L524.0,196.6 L524.2,196.1 L524.6,195.2 L524.9,194.6 L525.1,194.1 L525.6,193.3 L526.0,192.6 L526.3,192.1 L526.6,191.5 L527.1,190.6 L527.4,190.1 L527.6,189.6 L528.1,188.8 L528.5,188.1 L528.7,187.6 L529.1,186.9 L529.5,186.1 L529.8,185.6 L530.1,184.9 L530.5,184.1 L530.8,183.6 L531.1,182.9 L531.5,182.1 L531.7,181.6 L532.1,180.7 L532.5,180.1 L532.8,179.6 L533.2,179.1 L533.7,178.6 L534.1,178.1 L534.6,177.6 L535.1,177.1 L535.6,176.6 L536.1,176.0 L536.6,175.5 L537.1,174.9 L537.6,174.3 L538.1,173.8 L538.6,173.2 L539.1,172.6 L539.5,172.1 L539.9,171.6 L540.3,171.1 L540.7,170.6 L541.1,170.1 L541.6,169.5 L542.1,168.9 L542.6,168.3 L543.1,167.8 L543.6,167.4 L544.1,167.0 L544.6,166.6 L545.2,166.1 L545.7,165.6 L546.3,165.1 L546.8,164.6 L547.4,164.1 L547.9,163.6 L548.4,163.1 L548.9,162.6 L549.4,162.1 L549.9,161.6 L550.4,161.1 L550.9,160.6 L551.1,160.0 L551.4,159.1 L551.6,158.3 L551.8,157.6 L552.1,156.6 L552.2,156.1 L552.5,155.1 L552.6,154.6 L552.9,153.6 L553.1,152.6 L553.2,152.1 L553.4,151.1 L553.6,150.4 L553.8,149.6 L553.9,148.6 L553.9,147.6 L554.0,146.6 L554.0,145.6 L554.0,144.6 L554.1,143.6 L554.1,142.6 L554.0,141.6 L554.0,140.6 L554.0,139.6 L553.9,138.6 L553.9,137.6 L553.8,136.6 L553.7,135.6 L553.6,134.6 L553.5,134.1 L553.4,133.1 L553.3,132.1 L553.3,131.1 L553.3,130.1 L553.3,129.1 L553.4,128.1 L553.4,127.1 L553.4,126.1 L553.4,125.1 L553.4,124.1 L553.3,123.1 L553.3,122.1 L553.2,121.1 L553.1,120.1 L553.1,119.6 L553.0,118.6 L552.9,117.6 L552.8,116.6 L552.7,115.6 L552.8,114.6 L552.9,113.6 L552.9,112.6 L553.0,111.6 L553.0,110.6 L553.0,109.6 L553.0,108.6 L553.0,107.6 L553.0,106.6 L553.0,105.6 L552.9,104.6 L552.9,103.6 L552.8,102.6 L552.7,101.6 L552.7,100.6 L552.6,99.6 L552.7,98.6 L552.7,97.6 L552.8,96.6 L552.8,95.6 L552.8,94.6 L552.9,93.6 L552.9,92.6 L552.9,91.6 L552.8,90.6 L552.8,89.6 L552.8,88.6 L552.8,87.6 L552.8,86.6 L552.7,85.6 L552.6,84.7 L552.5,84.1 L552.5,83.1 L552.4,82.1 L552.3,81.1 L552.2,80.1 L552.2,79.1 L552.3,78.1 L552.4,77.1 L552.6,76.4 L553.1,75.8 L553.6,75.6 L554.1,75.6 L555.1,76.0 L555.6,76.3 L556.1,76.7 L556.6,77.1 L557.1,77.6 L557.6,78.1 L558.1,78.6 L558.6,79.2 L559.1,79.8 L559.6,80.4 L560.1,81.0 L560.5,81.6 L560.9,82.1 L561.2,82.6 L561.6,83.2 L562.1,83.9 L562.6,84.6 L562.9,85.1 L563.2,85.6 L563.6,86.2 L564.1,87.0 L564.4,87.6 L564.7,88.1 L565.1,88.8 L565.5,89.6 L565.8,90.1 L566.1,90.7 L566.6,91.6 L566.8,92.1 L567.1,92.7 L567.5,93.6 L567.8,94.1 L568.1,94.9 L568.4,95.6 L568.6,96.1 L569.0,97.1 L569.2,97.6 L569.4,98.6 L569.6,99.5 L569.7,100.1 L569.9,101.1 L570.1,102.1 L570.1,102.6 L570.3,103.6 L570.4,104.6 L570.6,105.6 L570.6,106.1 L570.7,107.1 L570.8,108.1 L570.9,109.1 L571.0,110.1 L571.1,111.1 L571.1,111.6 L571.2,112.6 L571.2,113.6 L571.2,114.6 L571.3,115.6 L571.5,116.6 L571.6,117.6 L571.6,118.1 L571.7,119.1 L571.8,120.1 L571.9,121.1 L571.9,122.1 L572.0,123.1 L572.0,124.1 L572.0,125.1 L572.1,126.1 L572.1,127.1 L572.1,128.1 L572.1,129.1 L572.0,130.1 L572.0,131.1 L572.0,132.1 L572.0,133.1 L571.9,134.1 L571.9,135.1 L571.8,136.1 L571.7,137.1 L571.6,138.1 L571.6,138.6 L571.5,139.6 L571.4,140.6 L571.3,141.6 L571.2,142.6 L571.1,143.1 L570.9,144.1 L570.8,145.1 L570.6,146.1 L570.5,146.6 L570.3,147.6 L570.2,148.6 L570.1,149.1 L569.9,150.1 L569.6,151.1 L569.5,151.6 L569.3,152.6 L569.1,153.1 L568.6,154.1 L568.3,154.6 L568.1,155.1 L567.6,155.9 L567.2,156.6 L566.8,157.1 L566.5,157.6 L566.1,158.3 L565.6,159.0 L565.2,159.6 L564.9,160.1 L564.5,160.6 L564.1,161.2 L563.6,161.9 L563.1,162.6 L562.7,163.1 L562.3,163.6 L561.9,164.1 L561.5,164.6 L561.1,165.1 L560.6,165.7 L560.1,166.3 L559.6,166.9 L559.1,167.6 L558.7,168.1 L558.3,168.6 L557.9,169.1 L557.5,169.6 L557.1,170.1 L556.6,170.6 L556.1,171.2 L555.6,171.8 L555.1,172.3 L554.6,172.9 L554.1,173.4 L553.6,174.0 L553.1,174.5 L552.6,175.0 L552.1,175.5 L551.6,176.1 L551.3,176.6 L551.1,177.1 L550.6,178.0 L550.3,178.6 L550.0,179.1 L549.6,179.9 L549.2,180.6 L548.9,181.1 L548.6,181.6 L548.1,182.4 L547.7,183.1 L547.4,183.6 L547.0,184.1 L546.6,184.8 L546.1,185.5 L545.7,186.1 L545.4,186.6 L545.0,187.1 L544.6,187.7 L544.1,188.4 L543.6,189.0 L543.1,189.6 L542.7,190.1 L542.3,190.6 L541.9,191.1 L541.5,191.6 L541.1,192.1 L540.6,192.6 L540.1,193.2 L539.6,193.7 L539.1,194.3 L538.6,194.8 L538.1,195.3 L537.6,195.8 L537.1,196.3 L536.6,196.8 L536.1,197.3 L535.6,197.7 L535.1,198.2 L534.6,198.6 L534.0,199.1 L533.4,199.6 L532.8,200.1 L532.2,200.6 L531.7,201.1 L531.1,201.6 L530.6,202.0 L530.1,202.3 L529.6,202.7 L529.0,203.1 L528.3,203.6 L527.6,204.0 L527.1,204.3 L526.5,204.6 L525.6,205.0 L525.1,205.1Z M415.6,173.1 L414.6,173.1 L414.1,173.0 L413.1,172.8 L412.6,172.6 L411.6,172.2 L411.1,172.0 L410.2,171.6 L409.6,171.2 L409.1,170.8 L408.6,170.1 L408.3,169.6 L408.0,169.1 L407.6,168.3 L407.3,167.6 L407.0,167.1 L406.6,166.2 L406.3,165.6 L406.1,165.0 L405.8,164.1 L405.6,163.6 L405.3,162.6 L405.1,161.6 L405.2,160.6 L405.6,159.6 L406.1,159.4 L407.1,159.4 L407.7,159.6 L408.6,160.0 L409.1,160.3 L409.6,160.6 L410.3,161.1 L410.9,161.6 L411.5,162.1 L412.1,162.6 L412.6,163.0 L413.1,163.5 L413.6,163.9 L414.1,164.4 L414.6,164.9 L415.1,165.4 L415.5,166.1 L415.8,166.6 L416.1,167.3 L416.4,168.1 L416.6,168.6 L416.9,169.6 L417.1,170.5 L417.2,171.1 L417.1,171.8 L416.7,172.6 L416.1,173.0 L415.6,173.1Z " fill="#ec5b26" fill-rule="evenodd"/>
<path d="M521.6,52.1 L520.6,52.1 L519.7,52.1 L519.1,52.1 L518.1,52.0 L517.1,52.0 L516.1,51.9 L515.1,51.9 L514.1,51.8 L513.1,51.8 L512.1,51.8 L511.1,51.8 L510.1,51.8 L509.1,51.8 L508.1,51.8 L507.1,51.8 L506.1,51.7 L505.5,51.6 L504.6,51.4 L503.6,51.3 L502.6,51.2 L502.0,51.1 L501.1,51.0 L500.1,50.9 L499.1,50.8 L498.1,50.7 L497.1,50.7 L496.1,50.6 L495.2,50.6 L494.6,50.6 L493.6,50.6 L492.6,50.6 L491.6,50.6 L490.6,50.6 L489.6,50.5 L488.6,50.4 L487.6,50.4 L486.6,50.4 L485.6,50.3 L484.6,50.3 L483.6,50.3 L482.6,50.3 L481.6,50.4 L480.6,50.4 L479.6,50.5 L478.6,50.5 L477.9,50.6 L477.1,50.7 L476.1,50.8 L475.1,50.9 L474.1,51.0 L473.1,51.1 L472.4,51.1 L471.6,51.1 L470.6,51.2 L469.6,51.2 L468.6,51.3 L467.6,51.4 L466.6,51.4 L465.6,51.5 L464.6,51.6 L463.6,51.6 L463.1,51.6 L462.1,51.6 L461.6,51.6 L460.6,51.5 L459.6,51.3 L459.1,51.1 L458.5,50.6 L458.4,49.6 L458.6,49.1 L459.1,48.2 L459.6,47.6 L460.0,47.1 L460.5,46.6 L461.1,46.1 L461.6,45.7 L462.1,45.3 L462.6,44.9 L463.1,44.5 L463.7,44.1 L464.4,43.6 L465.1,43.2 L465.6,42.9 L466.1,42.5 L466.9,42.1 L467.6,41.7 L468.1,41.4 L468.7,41.1 L469.6,40.7 L470.1,40.4 L470.8,40.1 L471.6,39.8 L472.2,39.6 L473.1,39.3 L474.0,39.1 L474.6,38.9 L475.6,38.7 L476.1,38.6 L477.1,38.3 L478.1,38.1 L478.6,38.0 L479.6,37.8 L480.6,37.6 L481.1,37.6 L482.1,37.4 L483.1,37.2 L484.0,37.1 L484.6,37.0 L485.6,36.9 L486.6,36.8 L487.6,36.7 L488.6,36.6 L489.1,36.6 L490.1,36.5 L491.1,36.5 L492.1,36.5 L493.1,36.6 L493.8,36.6 L494.6,36.7 L495.6,36.7 L496.6,36.8 L497.6,36.9 L498.6,37.1 L499.1,37.1 L500.1,37.3 L501.1,37.4 L502.1,37.6 L502.6,37.6 L503.6,37.8 L504.6,38.0 L505.1,38.1 L506.1,38.3 L507.1,38.5 L507.6,38.6 L508.6,38.9 L509.4,39.1 L510.1,39.4 L510.7,39.6 L511.6,40.0 L512.1,40.2 L513.0,40.6 L513.6,40.9 L514.1,41.1 L515.1,41.6 L515.6,41.8 L516.2,42.1 L517.1,42.6 L517.6,42.9 L518.1,43.1 L518.9,43.6 L519.6,44.0 L520.1,44.3 L520.6,44.6 L521.3,45.1 L522.1,45.6 L522.6,46.0 L523.1,46.3 L523.6,46.8 L524.1,47.5 L524.5,48.1 L524.8,48.6 L525.1,49.5 L525.2,50.1 L525.0,50.6 L524.6,51.1 L523.8,51.6 L523.1,51.8 L522.1,52.0 L521.6,52.1Z M527.6,201.1 L526.6,201.1 L526.1,201.0 L525.6,200.6 L525.2,199.6 L525.2,198.6 L525.4,197.6 L525.6,196.6 L525.8,196.1 L526.1,195.1 L526.3,194.6 L526.6,193.9 L527.0,193.1 L527.2,192.6 L527.6,191.8 L528.0,191.1 L528.2,190.6 L528.6,189.7 L528.9,189.1 L529.2,188.6 L529.6,187.7 L529.9,187.1 L530.1,186.6 L530.6,185.6 L530.8,185.1 L531.1,184.5 L531.5,183.6 L531.7,183.1 L532.1,182.3 L532.4,181.6 L532.6,181.1 L533.1,180.2 L533.6,179.6 L534.0,179.1 L534.5,178.6 L535.0,178.1 L535.5,177.6 L536.0,177.1 L536.5,176.6 L537.0,176.1 L537.4,175.6 L537.9,175.1 L538.4,174.6 L538.8,174.1 L539.3,173.6 L539.7,173.1 L540.2,172.6 L540.6,172.1 L541.1,171.5 L541.6,170.9 L542.1,170.4 L542.6,169.8 L543.1,169.2 L543.6,168.7 L544.1,168.3 L544.6,167.9 L545.1,167.5 L545.6,167.1 L546.2,166.6 L546.8,166.1 L547.3,165.6 L547.9,165.1 L548.4,164.6 L549.0,164.1 L549.5,163.6 L550.0,163.1 L550.6,162.6 L551.1,162.1 L551.6,161.6 L552.0,161.1 L552.1,160.6 L552.4,159.6 L552.6,158.6 L552.7,158.1 L553.0,157.1 L553.1,156.6 L553.4,155.6 L553.6,154.6 L553.7,154.1 L553.9,153.1 L554.1,152.2 L554.2,151.6 L554.4,150.6 L554.6,149.7 L554.7,149.1 L554.7,148.1 L554.8,147.1 L554.8,146.1 L554.9,145.1 L554.9,144.1 L554.9,143.1 L554.9,142.1 L554.8,141.1 L554.8,140.1 L554.8,139.1 L554.7,138.1 L554.6,137.1 L554.6,136.6 L554.5,135.6 L554.4,134.6 L554.3,133.6 L554.2,132.6 L554.1,132.1 L554.0,131.1 L554.1,130.1 L554.1,129.6 L554.1,128.6 L554.2,127.6 L554.2,126.6 L554.2,125.6 L554.2,124.6 L554.1,123.6 L554.1,122.9 L554.1,122.1 L554.0,121.1 L553.9,120.1 L553.8,119.1 L553.8,118.1 L553.6,117.1 L553.6,116.6 L553.5,115.6 L553.6,114.6 L553.6,114.1 L553.7,113.1 L553.8,112.1 L553.8,111.1 L553.8,110.1 L553.8,109.1 L553.9,108.1 L553.8,107.1 L553.8,106.1 L553.8,105.1 L553.8,104.1 L553.7,103.1 L553.6,102.1 L553.6,101.6 L553.5,100.6 L553.5,99.6 L553.6,98.6 L553.6,98.0 L553.7,97.1 L553.7,96.1 L553.8,95.1 L553.8,94.1 L553.9,93.1 L553.9,92.1 L553.9,91.1 L554.0,90.1 L554.0,89.1 L554.0,88.1 L554.1,87.1 L554.1,86.4 L554.2,85.6 L554.2,84.6 L554.2,83.6 L554.3,82.6 L554.6,81.6 L554.8,81.1 L555.3,80.6 L556.1,80.4 L556.8,80.6 L557.6,81.1 L558.1,81.4 L558.6,81.9 L559.1,82.4 L559.6,82.9 L560.1,83.5 L560.6,84.1 L561.0,84.6 L561.4,85.1 L561.8,85.6 L562.1,86.1 L562.6,86.8 L563.1,87.5 L563.5,88.1 L563.8,88.6 L564.1,89.2 L564.6,90.0 L564.9,90.6 L565.2,91.1 L565.6,91.8 L566.0,92.6 L566.3,93.1 L566.6,93.8 L567.0,94.6 L567.2,95.1 L567.6,95.9 L567.9,96.6 L568.1,97.1 L568.4,98.1 L568.6,98.8 L568.8,99.6 L568.9,100.6 L569.1,101.4 L569.2,102.1 L569.4,103.1 L569.5,104.1 L569.6,104.7 L569.7,105.6 L569.8,106.6 L570.0,107.6 L570.1,108.6 L570.1,109.1 L570.2,110.1 L570.3,111.1 L570.3,112.1 L570.4,113.1 L570.4,114.1 L570.5,115.1 L570.6,116.0 L570.7,116.6 L570.8,117.6 L570.9,118.6 L571.0,119.6 L571.0,120.6 L571.1,121.5 L571.1,122.1 L571.2,123.1 L571.2,124.1 L571.3,125.1 L571.3,126.1 L571.3,127.1 L571.3,128.1 L571.3,129.1 L571.3,130.1 L571.2,131.1 L571.2,132.1 L571.2,133.1 L571.1,134.1 L571.1,134.6 L571.0,135.6 L571.0,136.6 L570.9,137.6 L570.8,138.6 L570.7,139.6 L570.6,140.5 L570.5,141.1 L570.4,142.1 L570.3,143.1 L570.1,144.1 L570.0,144.6 L569.9,145.6 L569.7,146.6 L569.6,147.1 L569.4,148.1 L569.2,149.1 L569.1,149.6 L568.9,150.6 L568.7,151.6 L568.5,152.1 L568.2,153.1 L568.0,153.6 L567.6,154.2 L567.1,155.0 L566.8,155.6 L566.4,156.1 L566.1,156.6 L565.6,157.4 L565.1,158.1 L564.8,158.6 L564.4,159.1 L564.1,159.6 L563.6,160.3 L563.1,160.9 L562.6,161.6 L562.2,162.1 L561.8,162.6 L561.4,163.1 L561.0,163.6 L560.5,164.1 L560.1,164.6 L559.6,165.2 L559.1,165.7 L558.6,166.3 L558.1,166.9 L557.6,167.5 L557.2,168.1 L556.7,168.6 L556.3,169.1 L555.9,169.6 L555.5,170.1 L555.1,170.6 L554.6,171.1 L554.1,171.7 L553.6,172.2 L553.1,172.8 L552.6,173.3 L552.1,173.8 L551.6,174.3 L551.1,174.9 L550.6,175.5 L550.3,176.1 L550.1,176.6 L549.6,177.6 L549.3,178.1 L549.1,178.6 L548.6,179.5 L548.3,180.1 L548.0,180.6 L547.6,181.3 L547.1,182.1 L546.8,182.6 L546.5,183.1 L546.1,183.8 L545.6,184.6 L545.3,185.1 L544.9,185.6 L544.6,186.1 L544.1,186.8 L543.6,187.5 L543.1,188.1 L542.7,188.6 L542.3,189.1 L541.9,189.6 L541.5,190.1 L541.1,190.6 L540.6,191.1 L540.1,191.7 L539.6,192.2 L539.1,192.7 L538.6,193.2 L538.1,193.7 L537.6,194.2 L537.1,194.7 L536.6,195.2 L536.1,195.6 L535.5,196.1 L535.0,196.6 L534.3,197.1 L533.7,197.6 L533.1,198.1 L532.6,198.4 L532.1,198.8 L531.6,199.1 L530.8,199.6 L530.1,200.1 L529.6,200.3 L529.1,200.6 L528.1,201.0 L527.6,201.1Z M413.1,170.3 L412.1,170.3 L411.1,170.1 L410.6,169.8 L410.1,169.3 L409.8,168.6 L409.6,168.1 L409.4,167.1 L409.3,166.1 L409.6,165.2 L410.1,164.8 L411.1,164.9 L411.6,165.1 L412.6,165.6 L413.1,165.9 L413.6,166.3 L414.1,167.0 L414.3,167.6 L414.3,168.6 L414.1,169.6 L413.6,170.1 L413.1,170.3Z " fill="#dd3a28" fill-rule="evenodd"/>
<path d="M512.6,50.6 L511.6,50.6 L510.6,50.7 L509.6,50.7 L508.6,50.7 L507.6,50.8 L506.6,50.7 L505.7,50.6 L505.1,50.5 L504.1,50.4 L503.1,50.3 L502.1,50.2 L501.6,50.1 L500.6,50.0 L499.6,49.9 L498.6,49.9 L497.6,49.8 L496.6,49.8 L495.6,49.7 L494.6,49.7 L493.6,49.7 L492.6,49.7 L491.6,49.7 L490.6,49.7 L489.6,49.7 L488.6,49.6 L488.1,49.6 L487.1,49.5 L486.1,49.5 L485.1,49.5 L484.1,49.5 L483.1,49.5 L482.1,49.5 L481.1,49.5 L480.1,49.6 L479.5,49.6 L478.6,49.7 L477.6,49.7 L476.6,49.8 L475.6,49.9 L474.6,50.0 L474.1,50.1 L473.1,50.1 L472.1,50.2 L471.1,50.2 L470.1,50.2 L469.1,50.2 L468.1,50.1 L467.1,50.1 L466.4,50.1 L465.6,50.0 L464.6,49.9 L463.6,49.7 L463.1,49.4 L462.6,49.0 L462.4,48.1 L462.6,47.5 L463.1,46.7 L463.6,46.1 L464.1,45.6 L464.6,45.1 L465.1,44.7 L465.6,44.3 L466.1,44.0 L466.6,43.6 L467.3,43.1 L468.1,42.6 L468.6,42.3 L469.1,42.0 L469.9,41.6 L470.6,41.2 L471.1,41.0 L472.0,40.6 L472.6,40.4 L473.6,40.1 L474.1,40.0 L475.1,39.7 L475.6,39.6 L476.6,39.4 L477.6,39.1 L478.1,39.0 L479.1,38.8 L480.1,38.6 L480.6,38.5 L481.6,38.3 L482.6,38.2 L483.1,38.1 L484.1,38.0 L485.1,37.8 L486.1,37.7 L486.9,37.6 L487.6,37.5 L488.6,37.4 L489.6,37.4 L490.6,37.3 L491.6,37.3 L492.6,37.4 L493.6,37.4 L494.6,37.5 L495.5,37.6 L496.1,37.7 L497.1,37.8 L498.1,37.9 L499.1,38.0 L499.6,38.1 L500.6,38.3 L501.6,38.4 L502.6,38.6 L503.1,38.7 L504.1,38.9 L505.1,39.1 L505.6,39.2 L506.6,39.4 L507.3,39.6 L508.1,39.8 L509.1,40.1 L509.6,40.3 L510.4,40.6 L511.1,40.9 L511.6,41.2 L512.6,41.6 L513.1,41.9 L513.6,42.1 L514.5,42.6 L515.1,42.9 L515.6,43.2 L516.2,43.6 L517.0,44.1 L517.6,44.5 L518.1,44.8 L518.6,45.2 L519.1,45.6 L519.7,46.1 L520.3,46.6 L520.7,47.1 L521.1,47.6 L521.5,48.6 L521.1,49.5 L520.6,49.8 L519.8,50.1 L519.1,50.2 L518.1,50.3 L517.1,50.4 L516.1,50.5 L515.1,50.5 L514.1,50.6 L513.1,50.6 L512.6,50.6Z M531.1,196.7 L530.1,196.9 L529.1,196.8 L528.6,196.4 L528.3,195.6 L528.4,194.6 L528.5,193.6 L528.7,193.1 L529.0,192.1 L529.2,191.6 L529.5,190.6 L529.7,190.1 L530.1,189.1 L530.3,188.6 L530.6,187.9 L530.9,187.1 L531.1,186.6 L531.5,185.6 L531.7,185.1 L532.1,184.2 L532.4,183.6 L532.6,183.0 L533.0,182.1 L533.1,181.6 L533.6,180.7 L534.1,180.1 L534.5,179.6 L535.0,179.1 L535.5,178.6 L536.1,178.1 L536.6,177.6 L537.1,177.1 L537.6,176.6 L538.1,176.1 L538.6,175.6 L539.1,175.1 L539.6,174.6 L540.1,174.1 L540.6,173.6 L541.1,173.1 L541.5,172.6 L542.0,172.1 L542.5,171.6 L543.0,171.1 L543.5,170.6 L544.0,170.1 L544.6,169.6 L545.1,169.2 L545.6,168.8 L546.1,168.4 L546.6,168.0 L547.2,167.6 L547.8,167.1 L548.4,166.6 L549.0,166.1 L549.6,165.6 L550.1,165.1 L550.6,164.7 L551.1,164.3 L551.6,163.8 L552.1,163.4 L552.6,162.9 L553.1,162.5 L553.5,161.6 L553.6,160.6 L553.7,160.1 L553.9,159.1 L554.0,158.1 L554.1,157.6 L554.3,156.6 L554.5,155.6 L554.6,155.1 L554.8,154.1 L555.0,153.1 L555.1,152.5 L555.3,151.6 L555.4,150.6 L555.6,149.6 L555.6,149.1 L555.7,148.1 L555.7,147.1 L555.8,146.1 L555.8,145.1 L555.8,144.1 L555.8,143.1 L555.8,142.1 L555.8,141.1 L555.7,140.1 L555.7,139.1 L555.6,138.1 L555.6,137.6 L555.5,136.6 L555.4,135.6 L555.3,134.6 L555.2,133.6 L555.1,133.1 L555.0,132.1 L554.9,131.1 L555.0,130.1 L555.0,129.1 L555.0,128.1 L555.0,127.1 L555.0,126.1 L555.0,125.1 L555.0,124.1 L555.0,123.1 L554.9,122.1 L554.9,121.1 L554.8,120.1 L554.7,119.1 L554.6,118.1 L554.6,117.6 L554.4,116.6 L554.4,115.6 L554.5,114.6 L554.5,113.6 L554.6,112.6 L554.6,112.1 L554.7,111.1 L554.7,110.1 L554.7,109.1 L554.8,108.1 L554.8,107.1 L554.7,106.1 L554.7,105.1 L554.7,104.1 L554.6,103.1 L554.6,102.3 L554.6,101.6 L554.5,100.6 L554.5,99.6 L554.5,98.6 L554.6,98.0 L554.7,97.1 L554.8,96.1 L554.9,95.1 L555.0,94.1 L555.1,93.1 L555.1,92.6 L555.2,91.6 L555.3,90.6 L555.5,89.6 L555.6,88.7 L555.7,88.1 L556.0,87.1 L556.2,86.6 L556.6,85.8 L557.1,85.3 L558.1,85.2 L559.1,85.6 L559.6,85.9 L560.1,86.3 L560.6,86.8 L561.1,87.4 L561.6,87.9 L562.1,88.6 L562.5,89.1 L562.8,89.6 L563.2,90.1 L563.6,90.7 L564.1,91.5 L564.5,92.1 L564.8,92.6 L565.1,93.2 L565.6,94.1 L565.8,94.6 L566.1,95.1 L566.6,96.1 L566.8,96.6 L567.1,97.1 L567.4,98.1 L567.6,98.7 L567.8,99.6 L568.0,100.6 L568.1,101.2 L568.3,102.1 L568.4,103.1 L568.6,104.1 L568.7,104.6 L568.8,105.6 L568.9,106.6 L569.1,107.6 L569.1,108.1 L569.2,109.1 L569.3,110.1 L569.4,111.1 L569.5,112.1 L569.5,113.1 L569.6,114.1 L569.6,114.6 L569.7,115.6 L569.8,116.6 L569.9,117.6 L570.0,118.6 L570.1,119.6 L570.1,120.1 L570.2,121.1 L570.3,122.1 L570.3,123.1 L570.4,124.1 L570.4,125.1 L570.4,126.1 L570.4,127.1 L570.4,128.1 L570.4,129.1 L570.4,130.1 L570.4,131.1 L570.3,132.1 L570.3,133.1 L570.2,134.1 L570.2,135.1 L570.1,136.1 L570.1,136.6 L570.0,137.6 L569.9,138.6 L569.8,139.6 L569.7,140.6 L569.6,141.2 L569.5,142.1 L569.3,143.1 L569.2,144.1 L569.1,144.7 L568.9,145.6 L568.8,146.6 L568.6,147.4 L568.5,148.1 L568.3,149.1 L568.1,149.8 L567.9,150.6 L567.7,151.6 L567.6,152.1 L567.1,153.1 L566.9,153.6 L566.5,154.1 L566.1,154.8 L565.6,155.6 L565.2,156.1 L564.9,156.6 L564.5,157.1 L564.1,157.7 L563.6,158.4 L563.1,159.0 L562.7,159.6 L562.2,160.1 L561.8,160.6 L561.4,161.1 L561.0,161.6 L560.5,162.1 L560.0,162.6 L559.5,163.1 L559.0,163.6 L558.5,164.1 L557.9,164.6 L557.3,165.1 L556.9,165.6 L556.5,166.1 L556.1,166.7 L555.6,167.3 L555.1,168.0 L554.6,168.6 L554.2,169.1 L553.7,169.6 L553.3,170.1 L552.9,170.6 L552.5,171.1 L552.0,171.6 L551.6,172.1 L551.1,172.6 L550.6,173.1 L550.1,173.6 L549.6,174.2 L549.2,175.1 L549.0,175.6 L548.6,176.5 L548.3,177.1 L548.1,177.6 L547.6,178.6 L547.4,179.1 L547.1,179.7 L546.6,180.6 L546.3,181.1 L546.1,181.6 L545.6,182.4 L545.2,183.1 L544.9,183.6 L544.6,184.1 L544.1,184.9 L543.7,185.6 L543.3,186.1 L543.0,186.6 L542.6,187.1 L542.1,187.7 L541.6,188.3 L541.1,188.9 L540.6,189.4 L540.1,189.9 L539.6,190.5 L539.1,191.0 L538.6,191.4 L538.1,191.9 L537.6,192.4 L537.1,192.8 L536.6,193.3 L536.1,193.7 L535.6,194.1 L534.9,194.6 L534.2,195.1 L533.6,195.5 L533.1,195.8 L532.5,196.1 L531.6,196.5 L531.1,196.7Z " fill="#c8202c" fill-rule="evenodd"/>
<path d="M511.1,49.1 L510.1,49.3 L509.1,49.4 L508.1,49.5 L507.1,49.5 L506.1,49.4 L505.1,49.3 L504.1,49.2 L503.1,49.1 L502.6,49.0 L501.6,49.0 L500.6,48.9 L499.6,48.8 L498.6,48.8 L497.6,48.7 L496.6,48.7 L495.6,48.7 L494.6,48.7 L493.6,48.7 L492.6,48.7 L491.6,48.8 L490.6,48.8 L489.6,48.7 L488.6,48.6 L488.1,48.6 L487.1,48.5 L486.1,48.5 L485.1,48.5 L484.1,48.5 L483.1,48.5 L482.1,48.5 L481.1,48.5 L480.1,48.5 L479.1,48.6 L478.6,48.6 L477.6,48.7 L476.6,48.7 L475.6,48.8 L474.6,48.9 L473.6,49.0 L472.6,49.0 L471.6,48.9 L470.6,48.8 L469.6,48.7 L469.1,48.6 L468.1,48.3 L467.5,48.1 L466.8,47.6 L466.6,47.1 L466.6,46.4 L467.0,45.6 L467.4,45.1 L467.9,44.6 L468.5,44.1 L469.1,43.6 L469.6,43.2 L470.1,42.9 L470.6,42.6 L471.4,42.1 L472.1,41.7 L472.6,41.6 L473.6,41.3 L474.1,41.1 L475.1,40.8 L476.0,40.6 L476.6,40.5 L477.6,40.2 L478.1,40.1 L479.1,39.9 L480.1,39.7 L480.6,39.6 L481.6,39.4 L482.6,39.2 L483.2,39.1 L484.1,39.0 L485.1,38.8 L486.1,38.7 L486.8,38.6 L487.6,38.5 L488.6,38.4 L489.6,38.3 L490.6,38.3 L491.6,38.3 L492.6,38.4 L493.6,38.4 L494.6,38.5 L495.2,38.6 L496.1,38.7 L497.1,38.8 L498.1,39.0 L499.0,39.1 L499.6,39.2 L500.6,39.4 L501.6,39.5 L502.1,39.6 L503.1,39.9 L504.1,40.1 L504.6,40.2 L505.6,40.4 L506.4,40.6 L507.1,40.8 L508.1,41.1 L508.6,41.2 L509.5,41.6 L510.1,41.9 L510.6,42.2 L511.4,42.6 L512.1,43.0 L512.6,43.3 L513.1,43.6 L513.7,44.1 L514.4,44.6 L514.9,45.1 L515.4,45.6 L515.8,46.1 L516.1,47.1 L515.6,47.9 L515.1,48.2 L514.1,48.6 L513.6,48.7 L512.6,48.9 L511.6,49.1 L511.1,49.1Z M558.1,161.2 L557.1,161.3 L556.6,161.1 L556.1,160.2 L556.0,159.6 L555.9,158.6 L555.9,157.6 L556.0,156.6 L556.0,155.6 L556.1,154.9 L556.2,154.1 L556.3,153.1 L556.4,152.1 L556.6,151.1 L556.6,150.6 L556.7,149.6 L556.8,148.6 L556.8,147.6 L556.8,146.6 L556.9,145.6 L556.9,144.6 L556.9,143.6 L556.8,142.6 L556.8,141.6 L556.8,140.6 L556.7,139.6 L556.7,138.6 L556.6,137.8 L556.5,137.1 L556.4,136.1 L556.3,135.1 L556.2,134.1 L556.1,133.1 L556.0,132.6 L555.9,131.6 L555.9,130.6 L556.0,129.6 L556.0,128.6 L556.0,127.6 L556.0,126.6 L556.0,125.6 L556.0,124.6 L556.0,123.6 L555.9,122.6 L555.9,121.6 L555.8,120.6 L555.7,119.6 L555.6,118.6 L555.6,118.1 L555.5,117.1 L555.4,116.1 L555.4,115.1 L555.5,114.1 L555.6,113.1 L555.6,112.5 L555.7,111.6 L555.7,110.6 L555.8,109.6 L555.8,108.6 L555.8,107.6 L555.8,106.6 L555.8,105.6 L555.8,104.6 L555.8,103.6 L555.7,102.6 L555.7,101.6 L555.6,100.6 L555.6,100.1 L555.6,99.4 L555.7,98.6 L555.9,97.6 L556.0,96.6 L556.1,96.1 L556.3,95.1 L556.5,94.1 L556.6,93.4 L556.8,92.6 L557.1,91.6 L557.3,91.1 L557.6,90.5 L558.1,89.9 L558.6,89.6 L559.6,89.5 L560.1,89.8 L560.6,90.1 L561.3,90.6 L561.8,91.1 L562.2,91.6 L562.6,92.1 L563.1,92.7 L563.6,93.4 L564.1,94.1 L564.4,94.6 L564.7,95.1 L565.1,95.8 L565.5,96.6 L565.8,97.1 L566.1,97.7 L566.4,98.6 L566.6,99.5 L566.7,100.1 L566.9,101.1 L567.1,101.9 L567.2,102.6 L567.4,103.6 L567.6,104.6 L567.7,105.1 L567.8,106.1 L567.9,107.1 L568.1,108.1 L568.1,108.6 L568.2,109.6 L568.3,110.6 L568.4,111.6 L568.5,112.6 L568.6,113.6 L568.6,114.1 L568.6,115.1 L568.8,116.1 L568.9,117.1 L569.0,118.1 L569.1,119.1 L569.1,119.6 L569.2,120.6 L569.3,121.6 L569.3,122.6 L569.4,123.6 L569.4,124.6 L569.4,125.6 L569.4,126.6 L569.4,127.6 L569.4,128.6 L569.4,129.6 L569.4,130.6 L569.4,131.6 L569.3,132.6 L569.3,133.6 L569.2,134.6 L569.1,135.6 L569.1,136.2 L569.0,137.1 L568.9,138.1 L568.8,139.1 L568.7,140.1 L568.6,140.9 L568.5,141.6 L568.4,142.6 L568.2,143.6 L568.1,144.2 L567.9,145.1 L567.7,146.1 L567.6,146.9 L567.5,147.6 L567.2,148.6 L567.1,149.2 L566.9,150.1 L566.7,151.1 L566.5,151.6 L566.1,152.6 L565.8,153.1 L565.5,153.6 L565.1,154.2 L564.6,154.9 L564.1,155.5 L563.7,156.1 L563.3,156.6 L562.8,157.1 L562.4,157.6 L562.0,158.1 L561.5,158.6 L561.0,159.1 L560.4,159.6 L559.8,160.1 L559.2,160.6 L558.6,161.0 L558.1,161.2Z M534.6,192.1 L533.6,192.5 L532.6,192.5 L531.8,192.1 L531.5,191.6 L531.5,190.6 L531.6,189.6 L531.7,189.1 L531.9,188.1 L532.1,187.5 L532.4,186.6 L532.6,185.8 L532.8,185.1 L533.1,184.3 L533.3,183.6 L533.6,182.8 L533.9,182.1 L534.1,181.5 L534.6,180.7 L535.1,180.1 L535.6,179.7 L536.1,179.2 L536.6,178.8 L537.1,178.4 L537.6,177.9 L538.1,177.5 L538.6,177.0 L539.1,176.6 L539.6,176.1 L540.2,175.6 L540.8,175.1 L541.4,174.6 L542.0,174.1 L542.6,173.6 L543.1,173.2 L543.6,172.9 L544.1,172.5 L544.9,172.1 L545.6,171.8 L546.6,172.0 L546.9,172.6 L547.1,173.6 L547.0,174.6 L546.8,175.6 L546.6,176.3 L546.4,177.1 L546.1,177.8 L545.8,178.6 L545.6,179.1 L545.2,180.1 L544.9,180.6 L544.6,181.3 L544.2,182.1 L543.9,182.6 L543.6,183.2 L543.1,184.1 L542.8,184.6 L542.5,185.1 L542.1,185.7 L541.6,186.4 L541.1,186.9 L540.6,187.5 L540.1,188.0 L539.6,188.5 L539.1,188.9 L538.6,189.4 L538.1,189.8 L537.6,190.2 L537.1,190.6 L536.4,191.1 L535.6,191.6 L535.1,191.9 L534.6,192.1Z " fill="#a8181f" fill-rule="evenodd"/>
<path d="M508.1,47.6 L507.1,47.7 L506.1,47.7 L505.1,47.6 L504.6,47.6 L503.6,47.5 L502.6,47.5 L501.6,47.4 L500.6,47.4 L499.6,47.4 L498.6,47.4 L497.6,47.4 L496.6,47.4 L495.6,47.4 L494.6,47.4 L493.6,47.4 L492.6,47.5 L491.6,47.6 L490.6,47.6 L489.6,47.5 L488.6,47.4 L487.6,47.3 L486.6,47.3 L485.6,47.2 L484.6,47.2 L483.6,47.2 L482.6,47.1 L481.6,47.1 L480.6,47.1 L479.6,47.2 L478.6,47.2 L477.6,47.2 L476.6,47.3 L475.6,47.3 L474.6,47.3 L473.6,47.4 L472.6,47.2 L472.1,47.1 L471.3,46.6 L470.9,46.1 L470.9,45.1 L471.2,44.6 L471.6,44.1 L472.1,43.6 L473.0,43.1 L473.6,42.9 L474.5,42.6 L475.1,42.4 L476.1,42.1 L476.6,42.0 L477.6,41.7 L478.1,41.5 L479.1,41.3 L479.9,41.1 L480.6,40.9 L481.6,40.7 L482.2,40.6 L483.1,40.4 L484.1,40.3 L485.1,40.1 L485.6,40.0 L486.6,39.9 L487.6,39.8 L488.6,39.6 L489.1,39.6 L490.1,39.5 L491.1,39.5 L492.1,39.5 L492.8,39.6 L493.6,39.7 L494.6,39.8 L495.6,39.9 L496.6,40.1 L497.1,40.2 L498.1,40.3 L499.1,40.5 L499.6,40.6 L500.6,40.8 L501.6,41.1 L502.1,41.2 L503.1,41.4 L503.8,41.6 L504.6,41.8 L505.5,42.1 L506.1,42.3 L507.1,42.6 L507.6,42.8 L508.5,43.1 L509.1,43.6 L509.6,44.0 L510.1,44.5 L510.5,45.1 L510.5,46.1 L510.1,46.7 L509.4,47.1 L508.6,47.5 L508.1,47.6Z M560.1,156.2 L559.4,156.1 L558.8,155.6 L558.5,155.1 L558.3,154.1 L558.2,153.1 L558.1,152.1 L558.1,151.1 L558.2,150.1 L558.2,149.1 L558.2,148.1 L558.2,147.1 L558.2,146.1 L558.2,145.1 L558.2,144.1 L558.2,143.1 L558.1,142.1 L558.1,141.6 L558.0,140.6 L558.0,139.6 L557.9,138.6 L557.8,137.6 L557.7,136.6 L557.6,135.7 L557.5,135.1 L557.4,134.1 L557.3,133.1 L557.1,132.1 L557.1,131.6 L557.1,130.6 L557.1,130.1 L557.1,129.1 L557.2,128.1 L557.2,127.1 L557.2,126.1 L557.2,125.1 L557.1,124.1 L557.1,123.2 L557.1,122.6 L557.0,121.6 L557.0,120.6 L556.9,119.6 L556.8,118.6 L556.7,117.6 L556.6,116.9 L556.5,116.1 L556.5,115.1 L556.6,114.4 L556.7,113.6 L556.8,112.6 L556.9,111.6 L556.9,110.6 L557.0,109.6 L557.0,108.6 L557.1,107.6 L557.1,106.6 L557.1,106.0 L557.1,105.1 L557.1,104.1 L557.1,103.1 L557.1,102.6 L557.1,101.6 L557.0,100.6 L557.0,99.6 L557.1,99.1 L557.4,98.1 L557.6,97.2 L557.8,96.6 L558.1,95.9 L558.5,95.1 L558.8,94.6 L559.4,94.1 L560.1,93.8 L561.1,94.1 L561.6,94.4 L562.1,94.8 L562.6,95.2 L563.1,95.8 L563.6,96.4 L564.1,97.1 L564.4,97.6 L564.7,98.1 L565.0,99.1 L565.2,99.6 L565.4,100.6 L565.6,101.4 L565.8,102.1 L566.0,103.1 L566.1,103.8 L566.3,104.6 L566.4,105.6 L566.6,106.6 L566.7,107.1 L566.8,108.1 L567.0,109.1 L567.1,110.1 L567.1,110.6 L567.2,111.6 L567.3,112.6 L567.4,113.6 L567.5,114.6 L567.6,115.6 L567.6,116.1 L567.7,117.1 L567.8,118.1 L567.9,119.1 L568.0,120.1 L568.1,121.1 L568.1,121.6 L568.2,122.6 L568.2,123.6 L568.2,124.6 L568.3,125.6 L568.3,126.6 L568.3,127.6 L568.3,128.6 L568.3,129.6 L568.2,130.6 L568.2,131.6 L568.2,132.6 L568.1,133.5 L568.1,134.1 L568.0,135.1 L567.9,136.1 L567.8,137.1 L567.7,138.1 L567.6,138.9 L567.5,139.6 L567.4,140.6 L567.2,141.6 L567.1,142.3 L567.0,143.1 L566.8,144.1 L566.6,145.0 L566.5,145.6 L566.3,146.6 L566.1,147.4 L565.9,148.1 L565.7,149.1 L565.5,149.6 L565.3,150.6 L565.1,151.2 L564.7,152.1 L564.4,152.6 L564.0,153.1 L563.5,153.6 L563.1,154.1 L562.5,154.6 L562.0,155.1 L561.3,155.6 L560.6,156.0 L560.1,156.2Z M537.1,187.7 L536.1,188.0 L535.1,187.9 L534.6,187.5 L534.3,186.6 L534.3,185.6 L534.5,184.6 L534.6,183.8 L534.8,183.1 L535.0,182.1 L535.3,181.6 L535.7,181.1 L536.2,180.6 L536.8,180.1 L537.5,179.6 L538.1,179.2 L538.6,178.8 L539.1,178.5 L539.7,178.1 L540.6,177.6 L541.1,177.4 L542.1,177.2 L542.6,177.6 L542.9,178.6 L542.8,179.6 L542.6,180.5 L542.4,181.1 L542.1,182.0 L541.9,182.6 L541.6,183.2 L541.2,184.1 L540.9,184.6 L540.6,185.1 L540.1,185.6 L539.5,186.1 L538.9,186.6 L538.2,187.1 L537.6,187.4 L537.1,187.7Z " fill="#8c1a1d" fill-rule="evenodd"/>
<circle cx="473.5" cy="125.0" r="25.15" stroke="#111" stroke-width="0.8" stroke-dasharray="2.4,3.1" fill="none"/>
<circle cx="473.5" cy="125.0" r="51.18" stroke="#111" stroke-width="0.8" stroke-dasharray="2.4,3.1" fill="none"/>
<circle cx="473.5" cy="125.0" r="79.11" stroke="#111" stroke-width="0.8" stroke-dasharray="2.4,3.1" fill="none"/>
<line x1="473.5" y1="12.599999999999994" x2="473.5" y2="237.4" stroke="#111" stroke-width="0.8" stroke-dasharray="2.4,3.1" fill="none"/>
<line x1="361.1" y1="125.0" x2="585.9" y2="125.0" stroke="#111" stroke-width="0.8" stroke-dasharray="2.4,3.1" fill="none"/>
<line x1="486.07" y1="146.78" x2="529.70" y2="222.34" stroke="#111" stroke-width="0.8" stroke-dasharray="2.4,3.1" fill="none"/>
<line x1="495.28" y1="137.57" x2="570.84" y2="181.20" stroke="#111" stroke-width="0.8" stroke-dasharray="2.4,3.1" fill="none"/>
<line x1="495.28" y1="112.43" x2="570.84" y2="68.80" stroke="#111" stroke-width="0.8" stroke-dasharray="2.4,3.1" fill="none"/>
<line x1="486.07" y1="103.22" x2="529.70" y2="27.66" stroke="#111" stroke-width="0.8" stroke-dasharray="2.4,3.1" fill="none"/>
<line x1="460.93" y1="103.22" x2="417.30" y2="27.66" stroke="#111" stroke-width="0.8" stroke-dasharray="2.4,3.1" fill="none"/>
<line x1="451.72" y1="112.43" x2="376.16" y2="68.80" stroke="#111" stroke-width="0.8" stroke-dasharray="2.4,3.1" fill="none"/>
<line x1="451.72" y1="137.57" x2="376.16" y2="181.20" stroke="#111" stroke-width="0.8" stroke-dasharray="2.4,3.1" fill="none"/>
<line x1="460.93" y1="146.78" x2="417.30" y2="222.34" stroke="#111" stroke-width="0.8" stroke-dasharray="2.4,3.1" fill="none"/>
<polyline points="438.6,68.4 442.5,66.0 447.3,63.4 453.5,60.8 459.7,58.4 466.0,56.5 472.1,55.2 479.5,54.5 487.0,54.2 494.5,54.5 501.9,55.2 510.6,56.0 519.3,57.2 524.5,58.2 529.2,59.7 533.2,61.8 536.6,64.6 540.6,69.2 544.1,74.6 546.3,80.5 547.8,87.0 548.6,94.5 549.0,101.9 549.0,110.5 549.0,119.2 549.3,125.5 549.5,131.9 549.7,143.0 549.5,153.8 547.5,158.7 545.1,162.6 540.8,165.5 536.3,169.1 531.5,175.5 527.6,182.3 524.3,187.8 521.0,193.2 516.8,198.0 512.3,202.0 506.0,204.6 499.1,206.3 491.5,207.0 483.8,207.4 478.8,208.0 473.9,208.5" fill="none" stroke="#e4007f" stroke-width="2.9" stroke-dasharray="2.9,3.1"/>
</g>
<circle cx="473.5" cy="125.0" r="110.4" fill="none" stroke="#231f20" stroke-width="1.35"/>
<text x="576.99" y="65.25" font-size="14.5" letter-spacing="0.45" text-anchor="middle" dominant-baseline="central" fill="#231f20" stroke="#231f20" stroke-width="0.3" transform="rotate(60.0 576.99 65.25)">120°E</text>
<text x="576.99" y="184.75" font-size="14.5" letter-spacing="0.45" text-anchor="middle" dominant-baseline="central" fill="#231f20" stroke="#231f20" stroke-width="0.3" transform="rotate(120.0 576.99 184.75)">60°E</text>
<text x="370.01" y="65.25" font-size="14.5" letter-spacing="0.45" text-anchor="middle" dominant-baseline="central" fill="#231f20" stroke="#231f20" stroke-width="0.3" transform="rotate(-60.0 370.01 65.25)">120°W</text>
<text x="370.01" y="184.75" font-size="14.5" letter-spacing="0.45" text-anchor="middle" dominant-baseline="central" fill="#231f20" stroke="#231f20" stroke-width="0.3" transform="rotate(240.0 370.01 184.75)">60°W</text>
<text x="400.42" y="54.42" font-size="14.5" letter-spacing="0.45" text-anchor="middle" dominant-baseline="central" fill="#231f20" stroke="#231f20" stroke-width="0.3" transform="rotate(-46.0 400.42 54.42)">30°N</text>
<text x="473.90" y="11.00" font-size="14.5" text-anchor="middle" fill="#231f20" stroke="#231f20" stroke-width="0.3">180°</text>
<text x="474.50" y="249.30" font-size="14.5" text-anchor="middle" fill="#231f20" stroke="#231f20" stroke-width="0.3">0°</text>
<text x="113.60" y="17.00" font-size="14" text-anchor="middle" font-weight="bold" fill="#231f20" stroke="#231f20" stroke-width="0.3">a</text>
<text x="123.50" y="150.80" font-size="14.8" text-anchor="start" font-weight="bold" letter-spacing="0.3" fill="#e60012" stroke="#e60012" stroke-width="0.3">Waviness = 1.92</text>
<text x="408.80" y="151.80" font-size="14.5" text-anchor="start" font-weight="bold" letter-spacing="0.2" fill="#e60012" stroke="#e60012" stroke-width="0.3">Waviness = 2.31</text>
<text x="229.45" y="84.20" font-size="15" text-anchor="middle" font-weight="bold" letter-spacing="0.5" fill="#231f20" stroke="#231f20" stroke-width="0.3" transform="rotate(52 229.45 84.20)">stable</text>
<text x="230.15" y="110.50" font-size="15" text-anchor="middle" font-weight="bold" letter-spacing="0.5" fill="#231f20" stroke="#231f20" stroke-width="0.3" transform="rotate(52 230.15 110.50)">westerly jet</text>
<text x="477.30" y="71.31" font-size="14.5" text-anchor="middle" font-weight="bold" letter-spacing="0.6" fill="#231f20" stroke="#231f20" stroke-width="0.3" transform="rotate(2 477.30 71.31)">wavy</text>
<text x="500.50" y="88.42" font-size="14.2" text-anchor="middle" font-weight="bold" letter-spacing="0.6" fill="#231f20" stroke="#231f20" stroke-width="0.3" transform="rotate(3.3 500.50 88.42)">westerly jet</text>
<rect x="617.2" y="39.90" width="10.1" height="13.9" fill="#8c1a1d"/>
<rect x="617.2" y="53.43" width="10.1" height="13.9" fill="#a8181f"/>
<rect x="617.2" y="66.96" width="10.1" height="13.9" fill="#c8202c"/>
<rect x="617.2" y="80.49" width="10.1" height="13.9" fill="#dd3a28"/>
<rect x="617.2" y="94.02" width="10.1" height="13.9" fill="#ec5b26"/>
<rect x="617.2" y="107.55" width="10.1" height="13.9" fill="#f47b2a"/>
<rect x="617.2" y="121.08" width="10.1" height="13.9" fill="#f89b30"/>
<rect x="617.2" y="134.61" width="10.1" height="13.9" fill="#fbb845"/>
<rect x="617.2" y="148.14" width="10.1" height="13.9" fill="#fcd274"/>
<rect x="617.2" y="161.67" width="10.1" height="13.9" fill="#fbe9a3"/>
<rect x="617.2" y="175.20" width="10.1" height="13.9" fill="#fdf4d6"/>
<text x="628.90" y="57.65" font-size="12" text-anchor="start" letter-spacing="0.3" fill="#231f20" stroke="#231f20" stroke-width="0.35">30</text>
<text x="628.90" y="84.75" font-size="12" text-anchor="start" letter-spacing="0.3" fill="#231f20" stroke="#231f20" stroke-width="0.35">28</text>
<text x="628.90" y="111.85" font-size="12" text-anchor="start" letter-spacing="0.3" fill="#231f20" stroke="#231f20" stroke-width="0.35">26</text>
<text x="628.90" y="138.85" font-size="12" text-anchor="start" letter-spacing="0.3" fill="#231f20" stroke="#231f20" stroke-width="0.35">24</text>
<text x="628.90" y="165.95" font-size="12" text-anchor="start" letter-spacing="0.3" fill="#231f20" stroke="#231f20" stroke-width="0.35">22</text>
<text x="628.90" y="193.05" font-size="12" text-anchor="start" letter-spacing="0.3" fill="#231f20" stroke="#231f20" stroke-width="0.35">20</text>
<text x="613.90" y="36.70" font-size="12" text-anchor="start" letter-spacing="0.2" fill="#231f20" stroke="#231f20" stroke-width="0.35">m/s</text>
</svg></body></html>
